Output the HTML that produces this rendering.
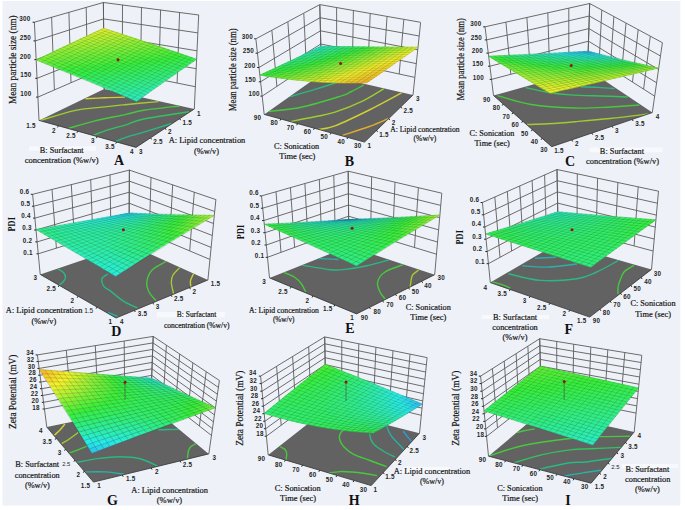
<!DOCTYPE html>
<html><head><meta charset="utf-8"><style>
html,body{margin:0;padding:0;background:#fff;width:685px;height:510px;overflow:hidden}
svg{display:block}
</style></head><body>
<svg width="685" height="510" viewBox="0 0 685 510">
<rect x="0" y="0" width="685" height="510" fill="#fff"/>
<rect x="2.5" y="1" width="677.8" height="504.6" fill="#eef2f8"/>
<rect x="29" y="146.4" width="67" height="4.4" fill="#fff" fill-opacity="0.55"/><rect x="589.6" y="147.5" width="73" height="4.8" fill="#fff" fill-opacity="0.55"/><rect x="157" y="312" width="67.8" height="5.3" fill="#fff" fill-opacity="0.55"/><rect x="481.8" y="315" width="67.1" height="4.1" fill="#fff" fill-opacity="0.55"/><rect x="621.5" y="464" width="56.5" height="4" fill="#fff" fill-opacity="0.55"/><rect x="403" y="466.8" width="47" height="6.9" fill="#fff" fill-opacity="0.55"/>
<path d="M39 120.4L34.4 22M54.4 89.9L51.6 17.1M71 82.7L68.9 12.2M87.5 75.5L86.2 7.2M104.2 88.9L103.4 2.3M37.9 97.1L104 68.4M37 78.3L103.8 51.9M36.2 59.6L103.7 35.4M35.3 40.9L103.5 18.9M34.4 22.2L103.4 2.5M194.3 109L198.7 14.8M177.1 83L179.6 12.3M158.8 79.3L160.6 9.8M140.5 75.7L141.5 7.3M122.3 72L122.5 4.8M104.2 88.9L103.4 2.3M195.3 86.7L104 68.4M196.2 68.7L103.8 51.9M197 50.8L103.7 35.4M197.9 32.9L103.5 18.9M198.7 15L103.4 2.5" stroke="#5c5c5c" stroke-width="0.9" fill="none"/>
<polygon points="39,120.4 136,147.4 194.3,109 104.2,88.9" fill="#626262"/>
<clipPath id="fcA"><polygon points="39,120.4 136,147.4 194.3,109 104.2,88.9"/></clipPath>
<g clip-path="url(#fcA)"><path d="M85.6 98.8C88.8 98.6 98.4 98.1 105 97.8C111.6 97.5 121.7 97.2 125 97.1" stroke="#d0d032" stroke-width="1.4" fill="none"/><path d="M38.5 121C44.5 119.3 64.2 112.9 74.4 110.6C84.7 108.3 91.6 108.4 100 107.4C108.4 106.4 115.3 105.7 125 104.7C134.7 103.7 152.8 102.1 158.4 101.6" stroke="#a0cc32" stroke-width="1.4" fill="none"/><path d="M68.5 128.4C72.8 127.2 84.7 123.4 94.1 121.1C103.5 118.8 116.7 116.4 125 114.6C133.3 112.8 134.7 111.7 143.8 110.3C152.9 108.9 173.6 106.7 179.6 106" stroke="#48c83e" stroke-width="1.4" fill="none"/><path d="M92.8 135.6C95.4 134.6 103.2 131.4 108.6 129.7C114 127.9 119.1 126.9 125 125.1C130.9 123.3 133.1 121.2 143.8 119C154.5 116.8 181.5 113 189 111.8" stroke="#34c25f" stroke-width="1.4" fill="none"/><path d="M115.8 141.5C117.3 140.8 120.3 139.2 125 137.6C129.7 136 136.1 134.5 143.8 132.2C151.6 129.8 166.9 125 171.5 123.5" stroke="#2ab982" stroke-width="1.4" fill="none"/></g>
<path d="M39 120.4L136 147.4L194.3 109" stroke="#333" stroke-width="0.8" fill="none"/>
<path d="M37.9 97.1h-1.8M37 78.3h-1.8M36.2 59.6h-1.8M35.3 40.9h-1.8M34.4 22.2h-1.8M116.6 142l-0.9 1.6M97.2 136.6l-0.9 1.6M77.8 131.2l-0.9 1.6M58.4 125.8l-0.9 1.6M150.6 137.8l0.9 1.6M165.2 128.2l0.9 1.6M179.7 118.6l0.9 1.6" stroke="#222" stroke-width="1" fill="none"/>
<path d="M136.6 101.4L131.7 99.2 134.7 97.1 139.6 99.2ZM139.6 99.2L134.7 97.1 137.7 94.9 142.6 97Z" fill="#2cecb9" stroke="#2cecb9" stroke-width="0.5"/>
<path d="M142.6 97L137.7 94.9 140.7 92.8 145.6 94.9ZM145.6 94.9L140.7 92.8 143.7 90.7 148.6 92.7ZM131.7 99.2L126.7 97.1 129.7 95 134.7 97.1ZM134.7 97.1L129.7 95 132.7 92.8 137.7 94.9ZM126.7 97.1L121.7 94.9 124.7 92.8 129.7 95Z" fill="#2decad" stroke="#2decad" stroke-width="0.5"/>
<path d="M148.6 92.7L143.7 90.7 146.7 88.6 151.6 90.6ZM151.6 90.6L146.7 88.6 149.7 86.5 154.6 88.4ZM137.7 94.9L132.7 92.8 135.8 90.7 140.7 92.8ZM140.7 92.8L135.8 90.7 138.8 88.6 143.7 90.7ZM129.7 95L124.7 92.8 127.8 90.8 132.7 92.8ZM132.7 92.8L127.8 90.8 130.8 88.7 135.8 90.7ZM121.7 94.9L116.7 92.8 119.8 90.7 124.7 92.8Z" fill="#2eeca2" stroke="#2eeca2" stroke-width="0.5"/>
<path d="M154.6 88.4L149.7 86.5 152.7 84.3 157.6 86.3ZM157.6 86.3L152.7 84.3 155.7 82.3 160.6 84.2ZM143.7 90.7L138.8 88.6 141.8 86.6 146.7 88.6ZM146.7 88.6L141.8 86.6 144.8 84.5 149.7 86.5ZM135.8 90.7L130.8 88.7 133.9 86.6 138.8 88.6ZM138.8 88.6L133.9 86.6 136.9 84.6 141.8 86.6ZM124.7 92.8L119.8 90.7 122.8 88.7 127.8 90.8ZM127.8 90.8L122.8 88.7 125.9 86.6 130.8 88.7ZM116.7 92.8L111.7 90.7 114.8 88.6 119.8 90.7Z" fill="#2fec97" stroke="#2fec97" stroke-width="0.5"/>
<path d="M160.6 84.2L155.7 82.3 158.7 80.2 163.5 82.1ZM163.5 82.1L158.7 80.2 161.8 78.1 166.5 80ZM149.7 86.5L144.8 84.5 147.9 82.4 152.7 84.3ZM152.7 84.3L147.9 82.4 150.9 80.3 155.7 82.3ZM141.8 86.6L136.9 84.6 140 82.5 144.8 84.5ZM144.8 84.5L140 82.5 143 80.4 147.9 82.4ZM130.8 88.7L125.9 86.6 129 84.6 133.9 86.6ZM133.9 86.6L129 84.6 132 82.6 136.9 84.6ZM119.8 90.7L114.8 88.6 117.9 86.6 122.8 88.7ZM122.8 88.7L117.9 86.6 121 84.6 125.9 86.6ZM111.7 90.7L106.7 88.6 109.8 86.6 114.8 88.6ZM114.8 88.6L109.8 86.6 112.9 84.6 117.9 86.6Z" fill="#30ed8b" stroke="#30ed8b" stroke-width="0.5"/>
<path d="M166.5 80L161.8 78.1 164.8 76 169.5 77.9ZM169.5 77.9L164.8 76 167.8 73.9 172.6 75.8ZM155.7 82.3L150.9 80.3 153.9 78.3 158.7 80.2ZM158.7 80.2L153.9 78.3 157 76.2 161.8 78.1ZM147.9 82.4L143 80.4 146.1 78.4 150.9 80.3ZM150.9 80.3L146.1 78.4 149.1 76.4 153.9 78.3ZM136.9 84.6L132 82.6 135.1 80.5 140 82.5ZM140 82.5L135.1 80.5 138.2 78.5 143 80.4ZM125.9 86.6L121 84.6 124 82.6 129 84.6ZM129 84.6L124 82.6 127.1 80.6 132 82.6ZM117.9 86.6L112.9 84.6 116 82.6 121 84.6ZM121 84.6L116 82.6 119.1 80.6 124 82.6ZM106.7 88.6L101.7 86.5 104.8 84.5 109.8 86.6ZM109.8 86.6L104.8 84.5 108 82.5 112.9 84.6Z" fill="#31ed80" stroke="#31ed80" stroke-width="0.5"/>
<path d="M172.6 75.8L167.8 73.9 170.8 71.9 175.6 73.7ZM175.6 73.7L170.8 71.9 173.8 69.8 178.6 71.6ZM161.8 78.1L157 76.2 160 74.2 164.8 76ZM164.8 76L160 74.2 163 72.1 167.8 73.9ZM153.9 78.3L149.1 76.4 152.2 74.3 157 76.2ZM157 76.2L152.2 74.3 155.2 72.3 160 74.2ZM143 80.4L138.2 78.5 141.2 76.5 146.1 78.4ZM146.1 78.4L141.2 76.5 144.3 74.5 149.1 76.4ZM132 82.6L127.1 80.6 130.2 78.6 135.1 80.5ZM135.1 80.5L130.2 78.6 133.3 76.6 138.2 78.5ZM124 82.6L119.1 80.6 122.2 78.6 127.1 80.6ZM127.1 80.6L122.2 78.6 125.3 76.6 130.2 78.6ZM112.9 84.6L108 82.5 111.1 80.5 116 82.6ZM116 82.6L111.1 80.5 114.2 78.6 119.1 80.6ZM101.7 86.5L96.7 84.4 99.9 82.4 104.8 84.5ZM104.8 84.5L99.9 82.4 103 80.5 108 82.5ZM96.7 84.4L91.7 82.3 94.9 80.4 99.9 82.4Z" fill="#32ed75" stroke="#32ed75" stroke-width="0.5"/>
<path d="M178.6 71.6L173.8 69.8 176.9 67.8 181.6 69.5ZM181.6 69.5L176.9 67.8 179.9 65.7 184.6 67.5ZM167.8 73.9L163 72.1 166.1 70.1 170.8 71.9ZM170.8 71.9L166.1 70.1 169.1 68.1 173.8 69.8ZM160 74.2L155.2 72.3 158.3 70.3 163 72.1ZM163 72.1L158.3 70.3 161.3 68.3 166.1 70.1ZM149.1 76.4L144.3 74.5 147.4 72.5 152.2 74.3ZM152.2 74.3L147.4 72.5 150.4 70.5 155.2 72.3ZM138.2 78.5L133.3 76.6 136.4 74.6 141.2 76.5ZM141.2 76.5L136.4 74.6 139.5 72.6 144.3 74.5ZM144.3 74.5L139.5 72.6 142.6 70.6 147.4 72.5ZM130.2 78.6L125.3 76.6 128.4 74.7 133.3 76.6ZM133.3 76.6L128.4 74.7 131.5 72.7 136.4 74.6ZM119.1 80.6L114.2 78.6 117.3 76.6 122.2 78.6ZM122.2 78.6L117.3 76.6 120.4 74.7 125.3 76.6ZM108 82.5L103 80.5 106.1 78.5 111.1 80.5ZM111.1 80.5L106.1 78.5 109.3 76.6 114.2 78.6ZM114.2 78.6L109.3 76.6 112.4 74.7 117.3 76.6ZM99.9 82.4L94.9 80.4 98 78.4 103 80.5ZM103 80.5L98 78.4 101.2 76.5 106.1 78.5ZM91.7 82.3L86.7 80.2 89.9 78.3 94.9 80.4Z" fill="#33ed69" stroke="#33ed69" stroke-width="0.5"/>
<path d="M184.6 67.5L179.9 65.7 182.9 63.7 187.6 65.4ZM187.6 65.4L182.9 63.7 186 61.7 190.6 63.3ZM173.8 69.8L169.1 68.1 172.2 66 176.9 67.8ZM176.9 67.8L172.2 66 175.2 64 179.9 65.7ZM166.1 70.1L161.3 68.3 164.4 66.3 169.1 68.1ZM169.1 68.1L164.4 66.3 167.5 64.3 172.2 66ZM155.2 72.3L150.4 70.5 153.5 68.5 158.3 70.3ZM158.3 70.3L153.5 68.5 156.6 66.5 161.3 68.3ZM147.4 72.5L142.6 70.6 145.6 68.7 150.4 70.5ZM150.4 70.5L145.6 68.7 148.7 66.7 153.5 68.5ZM136.4 74.6L131.5 72.7 134.6 70.7 139.5 72.6ZM139.5 72.6L134.6 70.7 137.7 68.8 142.6 70.6ZM125.3 76.6L120.4 74.7 123.5 72.7 128.4 74.7ZM128.4 74.7L123.5 72.7 126.7 70.8 131.5 72.7ZM117.3 76.6L112.4 74.7 115.5 72.8 120.4 74.7ZM120.4 74.7L115.5 72.8 118.7 70.8 123.5 72.7ZM106.1 78.5L101.2 76.5 104.3 74.6 109.3 76.6ZM109.3 76.6L104.3 74.6 107.5 72.7 112.4 74.7ZM94.9 80.4L89.9 78.3 93 76.4 98 78.4ZM98 78.4L93 76.4 96.2 74.5 101.2 76.5ZM86.7 80.2L81.7 78.2 84.8 76.3 89.9 78.3Z" fill="#34ed5e" stroke="#34ed5e" stroke-width="0.5"/>
<path d="M190.6 63.3L186 61.7 189 59.7 193.6 61.3ZM193.6 61.3L189 59.7 192 57.6 196.6 59.3ZM179.9 65.7L175.2 64 178.3 62 182.9 63.7ZM182.9 63.7L178.3 62 181.3 60 186 61.7ZM172.2 66L167.5 64.3 170.5 62.3 175.2 64ZM175.2 64L170.5 62.3 173.6 60.3 178.3 62ZM161.3 68.3L156.6 66.5 159.7 64.5 164.4 66.3ZM164.4 66.3L159.7 64.5 162.7 62.6 167.5 64.3ZM153.5 68.5L148.7 66.7 151.8 64.7 156.6 66.5ZM156.6 66.5L151.8 64.7 154.9 62.8 159.7 64.5ZM142.6 70.6L137.7 68.8 140.9 66.8 145.6 68.7ZM145.6 68.7L140.9 66.8 144 64.9 148.7 66.7ZM131.5 72.7L126.7 70.8 129.8 68.9 134.6 70.7ZM134.6 70.7L129.8 68.9 132.9 67 137.7 68.8ZM123.5 72.7L118.7 70.8 121.8 68.9 126.7 70.8ZM126.7 70.8L121.8 68.9 125 67 129.8 68.9ZM112.4 74.7L107.5 72.7 110.6 70.8 115.5 72.8ZM115.5 72.8L110.6 70.8 113.8 68.9 118.7 70.8ZM101.2 76.5L96.2 74.5 99.4 72.7 104.3 74.6ZM104.3 74.6L99.4 72.7 102.5 70.8 107.5 72.7ZM89.9 78.3L84.8 76.3 88 74.4 93 76.4ZM93 76.4L88 74.4 91.2 72.6 96.2 74.5ZM96.2 74.5L91.2 72.6 94.4 70.7 99.4 72.7ZM81.7 78.2L76.6 76.1 79.8 74.2 84.8 76.3ZM84.8 76.3L79.8 74.2 83 72.4 88 74.4Z" fill="#35ee53" stroke="#35ee53" stroke-width="0.5"/>
<path d="M186 61.7L181.3 60 184.4 58 189 59.7ZM189 59.7L184.4 58 187.4 56 192 57.6ZM178.3 62L173.6 60.3 176.7 58.4 181.3 60ZM181.3 60L176.7 58.4 179.7 56.4 184.4 58ZM167.5 64.3L162.7 62.6 165.8 60.6 170.5 62.3ZM170.5 62.3L165.8 60.6 168.9 58.7 173.6 60.3ZM159.7 64.5L154.9 62.8 158 60.9 162.7 62.6ZM162.7 62.6L158 60.9 161.1 58.9 165.8 60.6ZM148.7 66.7L144 64.9 147.1 63 151.8 64.7ZM151.8 64.7L147.1 63 150.2 61.1 154.9 62.8ZM137.7 68.8L132.9 67 136.1 65 140.9 66.8ZM140.9 66.8L136.1 65 139.2 63.1 144 64.9ZM129.8 68.9L125 67 128.1 65.1 132.9 67ZM132.9 67L128.1 65.1 131.2 63.2 136.1 65ZM118.7 70.8L113.8 68.9 116.9 67.1 121.8 68.9ZM121.8 68.9L116.9 67.1 120.1 65.2 125 67ZM107.5 72.7L102.5 70.8 105.7 68.9 110.6 70.8ZM110.6 70.8L105.7 68.9 108.9 67.1 113.8 68.9ZM99.4 72.7L94.4 70.7 97.6 68.9 102.5 70.8ZM102.5 70.8L97.6 68.9 100.8 67 105.7 68.9ZM88 74.4L83 72.4 86.3 70.6 91.2 72.6ZM91.2 72.6L86.3 70.6 89.5 68.7 94.4 70.7ZM76.6 76.1L71.6 74 74.8 72.2 79.8 74.2ZM79.8 74.2L74.8 72.2 78 70.4 83 72.4Z" fill="#36ee47" stroke="#36ee47" stroke-width="0.5"/>
<path d="M184.4 58L179.7 56.4 182.8 54.4 187.4 56ZM173.6 60.3L168.9 58.7 172 56.7 176.7 58.4ZM176.7 58.4L172 56.7 175.1 54.8 179.7 56.4ZM165.8 60.6L161.1 58.9 164.2 57 168.9 58.7ZM168.9 58.7L164.2 57 167.3 55.1 172 56.7ZM154.9 62.8L150.2 61.1 153.3 59.1 158 60.9ZM158 60.9L153.3 59.1 156.4 57.2 161.1 58.9ZM144 64.9L139.2 63.1 142.3 61.2 147.1 63ZM147.1 63L142.3 61.2 145.4 59.3 150.2 61.1ZM136.1 65L131.2 63.2 134.4 61.4 139.2 63.1ZM139.2 63.1L134.4 61.4 137.5 59.5 142.3 61.2ZM125 67L120.1 65.2 123.3 63.3 128.1 65.1ZM128.1 65.1L123.3 63.3 126.4 61.4 131.2 63.2ZM113.8 68.9L108.9 67.1 112.1 65.2 116.9 67.1ZM116.9 67.1L112.1 65.2 115.3 63.3 120.1 65.2ZM105.7 68.9L100.8 67 104 65.2 108.9 67.1ZM108.9 67.1L104 65.2 107.2 63.3 112.1 65.2ZM94.4 70.7L89.5 68.7 92.7 66.9 97.6 68.9ZM97.6 68.9L92.7 66.9 95.9 65.1 100.8 67ZM83 72.4L78 70.4 81.3 68.6 86.3 70.6ZM86.3 70.6L81.3 68.6 84.5 66.8 89.5 68.7ZM71.6 74L66.6 72 69.8 70.2 74.8 72.2ZM74.8 72.2L69.8 70.2 73 68.4 78 70.4ZM66.6 72L61.5 70 64.8 68.2 69.8 70.2Z" fill="#37ee3c" stroke="#37ee3c" stroke-width="0.5"/>
<path d="M179.7 56.4L175.1 54.8 178.2 52.8 182.8 54.4ZM172 56.7L167.3 55.1 170.4 53.2 175.1 54.8ZM175.1 54.8L170.4 53.2 173.5 51.2 178.2 52.8ZM161.1 58.9L156.4 57.2 159.5 55.3 164.2 57ZM164.2 57L159.5 55.3 162.7 53.4 167.3 55.1ZM150.2 61.1L145.4 59.3 148.6 57.4 153.3 59.1ZM153.3 59.1L148.6 57.4 151.7 55.6 156.4 57.2ZM142.3 61.2L137.5 59.5 140.7 57.6 145.4 59.3ZM145.4 59.3L140.7 57.6 143.9 55.7 148.6 57.4ZM131.2 63.2L126.4 61.4 129.6 59.6 134.4 61.4ZM134.4 61.4L129.6 59.6 132.8 57.7 137.5 59.5ZM120.1 65.2L115.3 63.3 118.4 61.5 123.3 63.3ZM123.3 63.3L118.4 61.5 121.6 59.7 126.4 61.4ZM112.1 65.2L107.2 63.3 110.4 61.5 115.3 63.3ZM115.3 63.3L110.4 61.5 113.6 59.7 118.4 61.5ZM100.8 67L95.9 65.1 99.1 63.3 104 65.2ZM104 65.2L99.1 63.3 102.3 61.5 107.2 63.3ZM89.5 68.7L84.5 66.8 87.7 65 92.7 66.9ZM92.7 66.9L87.7 65 91 63.2 95.9 65.1ZM78 70.4L73 68.4 76.3 66.6 81.3 68.6ZM81.3 68.6L76.3 66.6 79.5 64.9 84.5 66.8ZM84.5 66.8L79.5 64.9 82.8 63.1 87.7 65ZM69.8 70.2L64.8 68.2 68 66.5 73 68.4ZM73 68.4L68 66.5 71.3 64.7 76.3 66.6ZM61.5 70L56.4 68 59.7 66.2 64.8 68.2Z" fill="#43ee3b" stroke="#43ee3b" stroke-width="0.5"/>
<path d="M167.3 55.1L162.7 53.4 165.8 51.5 170.4 53.2ZM170.4 53.2L165.8 51.5 168.9 49.7 173.5 51.2ZM156.4 57.2L151.7 55.6 154.9 53.7 159.5 55.3ZM159.5 55.3L154.9 53.7 158 51.8 162.7 53.4ZM148.6 57.4L143.9 55.7 147 53.9 151.7 55.6ZM151.7 55.6L147 53.9 150.2 52 154.9 53.7ZM137.5 59.5L132.8 57.7 135.9 55.9 140.7 57.6ZM140.7 57.6L135.9 55.9 139.1 54.1 143.9 55.7ZM126.4 61.4L121.6 59.7 124.8 57.8 129.6 59.6ZM129.6 59.6L124.8 57.8 128 56 132.8 57.7ZM132.8 57.7L128 56 131.2 54.2 135.9 55.9ZM118.4 61.5L113.6 59.7 116.8 57.9 121.6 59.7ZM121.6 59.7L116.8 57.9 120 56.1 124.8 57.8ZM107.2 63.3L102.3 61.5 105.5 59.7 110.4 61.5ZM110.4 61.5L105.5 59.7 108.8 57.9 113.6 59.7ZM95.9 65.1L91 63.2 94.2 61.4 99.1 63.3ZM99.1 63.3L94.2 61.4 97.4 59.7 102.3 61.5ZM87.7 65L82.8 63.1 86 61.3 91 63.2ZM91 63.2L86 61.3 89.3 59.6 94.2 61.4ZM76.3 66.6L71.3 64.7 74.6 62.9 79.5 64.9ZM79.5 64.9L74.6 62.9 77.8 61.2 82.8 63.1ZM64.8 68.2L59.7 66.2 63 64.5 68 66.5ZM68 66.5L63 64.5 66.3 62.8 71.3 64.7ZM56.4 68L51.4 66 54.7 64.2 59.7 66.2Z" fill="#50ef3a" stroke="#50ef3a" stroke-width="0.5"/>
<path d="M162.7 53.4L158 51.8 161.1 49.9 165.8 51.5ZM165.8 51.5L161.1 49.9 164.3 48.1 168.9 49.7ZM154.9 53.7L150.2 52 153.3 50.2 158 51.8ZM158 51.8L153.3 50.2 156.5 48.4 161.1 49.9ZM143.9 55.7L139.1 54.1 142.3 52.2 147 53.9ZM147 53.9L142.3 52.2 145.5 50.4 150.2 52ZM135.9 55.9L131.2 54.2 134.4 52.4 139.1 54.1ZM139.1 54.1L134.4 52.4 137.6 50.6 142.3 52.2ZM124.8 57.8L120 56.1 123.2 54.3 128 56ZM128 56L123.2 54.3 126.4 52.5 131.2 54.2ZM113.6 59.7L108.8 57.9 112 56.1 116.8 57.9ZM116.8 57.9L112 56.1 115.2 54.3 120 56.1ZM102.3 61.5L97.4 59.7 100.7 57.9 105.5 59.7ZM105.5 59.7L100.7 57.9 103.9 56.1 108.8 57.9ZM108.8 57.9L103.9 56.1 107.1 54.4 112 56.1ZM94.2 61.4L89.3 59.6 92.5 57.8 97.4 59.7ZM97.4 59.7L92.5 57.8 95.8 56.1 100.7 57.9ZM82.8 63.1L77.8 61.2 81.1 59.5 86 61.3ZM86 61.3L81.1 59.5 84.4 57.7 89.3 59.6ZM71.3 64.7L66.3 62.8 69.6 61 74.6 62.9ZM74.6 62.9L69.6 61 72.9 59.3 77.8 61.2ZM59.7 66.2L54.7 64.2 58 62.5 63 64.5ZM63 64.5L58 62.5 61.3 60.8 66.3 62.8ZM66.3 62.8L61.3 60.8 64.6 59.1 69.6 61ZM51.4 66L46.3 64 49.6 62.3 54.7 64.2ZM54.7 64.2L49.6 62.3 53 60.6 58 62.5Z" fill="#5cef39" stroke="#5cef39" stroke-width="0.5"/>
<path d="M161.1 49.9L156.5 48.4 159.6 46.5 164.3 48.1ZM150.2 52L145.5 50.4 148.6 48.6 153.3 50.2ZM153.3 50.2L148.6 48.6 151.8 46.8 156.5 48.4ZM142.3 52.2L137.6 50.6 140.8 48.8 145.5 50.4ZM145.5 50.4L140.8 48.8 144 47 148.6 48.6ZM131.2 54.2L126.4 52.5 129.6 50.7 134.4 52.4ZM134.4 52.4L129.6 50.7 132.8 48.9 137.6 50.6ZM120 56.1L115.2 54.3 118.4 52.6 123.2 54.3ZM123.2 54.3L118.4 52.6 121.7 50.8 126.4 52.5ZM112 56.1L107.1 54.4 110.4 52.6 115.2 54.3ZM115.2 54.3L110.4 52.6 113.6 50.9 118.4 52.6ZM100.7 57.9L95.8 56.1 99.1 54.3 103.9 56.1ZM103.9 56.1L99.1 54.3 102.3 52.6 107.1 54.4ZM89.3 59.6L84.4 57.7 87.6 56 92.5 57.8ZM92.5 57.8L87.6 56 90.9 54.3 95.8 56.1ZM77.8 61.2L72.9 59.3 76.2 57.6 81.1 59.5ZM81.1 59.5L76.2 57.6 79.4 55.9 84.4 57.7ZM84.4 57.7L79.4 55.9 82.7 54.2 87.6 56ZM69.6 61L64.6 59.1 67.9 57.4 72.9 59.3ZM72.9 59.3L67.9 57.4 71.2 55.7 76.2 57.6ZM58 62.5L53 60.6 56.3 58.9 61.3 60.8ZM61.3 60.8L56.3 58.9 59.6 57.2 64.6 59.1ZM46.3 64L41.3 62 44.6 60.3 49.6 62.3ZM49.6 62.3L44.6 60.3 47.9 58.6 53 60.6Z" fill="#69ef38" stroke="#69ef38" stroke-width="0.5"/>
<path d="M156.5 48.4L151.8 46.8 155 45 159.6 46.5ZM148.6 48.6L144 47 147.2 45.2 151.8 46.8ZM151.8 46.8L147.2 45.2 150.4 43.4 155 45ZM137.6 50.6L132.8 48.9 136.1 47.1 140.8 48.8ZM140.8 48.8L136.1 47.1 139.3 45.4 144 47ZM126.4 52.5L121.7 50.8 124.9 49 129.6 50.7ZM129.6 50.7L124.9 49 128.1 47.3 132.8 48.9ZM118.4 52.6L113.6 50.9 116.9 49.1 121.7 50.8ZM121.7 50.8L116.9 49.1 120.1 47.4 124.9 49ZM107.1 54.4L102.3 52.6 105.6 50.9 110.4 52.6ZM110.4 52.6L105.6 50.9 108.8 49.1 113.6 50.9ZM95.8 56.1L90.9 54.3 94.2 52.6 99.1 54.3ZM99.1 54.3L94.2 52.6 97.5 50.9 102.3 52.6ZM87.6 56L82.7 54.2 86 52.5 90.9 54.3ZM90.9 54.3L86 52.5 89.3 50.8 94.2 52.6ZM76.2 57.6L71.2 55.7 74.5 54.1 79.4 55.9ZM79.4 55.9L74.5 54.1 77.8 52.4 82.7 54.2ZM64.6 59.1L59.6 57.2 62.9 55.6 67.9 57.4ZM67.9 57.4L62.9 55.6 66.3 53.9 71.2 55.7ZM53 60.6L47.9 58.6 51.3 57 56.3 58.9ZM56.3 58.9L51.3 57 54.6 55.3 59.6 57.2ZM41.3 62L36.2 60 39.5 58.3 44.6 60.3ZM44.6 60.3L39.5 58.3 42.9 56.7 47.9 58.6Z" fill="#75ef37" stroke="#75ef37" stroke-width="0.5"/>
<path d="M144 47L139.3 45.4 142.5 43.6 147.2 45.2ZM147.2 45.2L142.5 43.6 145.7 41.9 150.4 43.4ZM132.8 48.9L128.1 47.3 131.3 45.5 136.1 47.1ZM136.1 47.1L131.3 45.5 134.6 43.8 139.3 45.4ZM139.3 45.4L134.6 43.8 137.8 42 142.5 43.6ZM124.9 49L120.1 47.4 123.4 45.6 128.1 47.3ZM128.1 47.3L123.4 45.6 126.6 43.9 131.3 45.5ZM113.6 50.9L108.8 49.1 112.1 47.4 116.9 49.1ZM116.9 49.1L112.1 47.4 115.4 45.7 120.1 47.4ZM102.3 52.6L97.5 50.9 100.8 49.2 105.6 50.9ZM105.6 50.9L100.8 49.2 104 47.5 108.8 49.1ZM108.8 49.1L104 47.5 107.3 45.8 112.1 47.4ZM94.2 52.6L89.3 50.8 92.6 49.1 97.5 50.9ZM97.5 50.9L92.6 49.1 95.9 47.4 100.8 49.2ZM82.7 54.2L77.8 52.4 81.1 50.7 86 52.5ZM86 52.5L81.1 50.7 84.5 49.1 89.3 50.8ZM71.2 55.7L66.3 53.9 69.6 52.2 74.5 54.1ZM74.5 54.1L69.6 52.2 72.9 50.6 77.8 52.4ZM59.6 57.2L54.6 55.3 58 53.7 62.9 55.6ZM62.9 55.6L58 53.7 61.3 52.1 66.3 53.9ZM66.3 53.9L61.3 52.1 64.7 50.4 69.6 52.2ZM47.9 58.6L42.9 56.7 46.3 55.1 51.3 57ZM51.3 57L46.3 55.1 49.6 53.5 54.6 55.3ZM54.6 55.3L49.6 53.5 53 51.8 58 53.7Z" fill="#82f036" stroke="#82f036" stroke-width="0.5"/>
<path d="M142.5 43.6L137.8 42 141 40.3 145.7 41.9ZM131.3 45.5L126.6 43.9 129.9 42.2 134.6 43.8ZM134.6 43.8L129.9 42.2 133.1 40.5 137.8 42ZM120.1 47.4L115.4 45.7 118.6 44 123.4 45.6ZM123.4 45.6L118.6 44 121.9 42.3 126.6 43.9ZM112.1 47.4L107.3 45.8 110.6 44.1 115.4 45.7ZM115.4 45.7L110.6 44.1 113.9 42.4 118.6 44ZM100.8 49.2L95.9 47.4 99.2 45.8 104 47.5ZM104 47.5L99.2 45.8 102.5 44.1 107.3 45.8ZM89.3 50.8L84.5 49.1 87.8 47.4 92.6 49.1ZM92.6 49.1L87.8 47.4 91.1 45.7 95.9 47.4ZM77.8 52.4L72.9 50.6 76.3 48.9 81.1 50.7ZM81.1 50.7L76.3 48.9 79.6 47.3 84.5 49.1ZM69.6 52.2L64.7 50.4 68 48.8 72.9 50.6ZM72.9 50.6L68 48.8 71.4 47.2 76.3 48.9ZM58 53.7L53 51.8 56.3 50.2 61.3 52.1ZM61.3 52.1L56.3 50.2 59.7 48.6 64.7 50.4Z" fill="#8ef035" stroke="#8ef035" stroke-width="0.5"/>
<path d="M137.8 42L133.1 40.5 136.4 38.8 141 40.3ZM126.6 43.9L121.9 42.3 125.2 40.6 129.9 42.2ZM129.9 42.2L125.2 40.6 128.4 38.9 133.1 40.5ZM133.1 40.5L128.4 38.9 131.7 37.2 136.4 38.8ZM118.6 44L113.9 42.4 117.2 40.7 121.9 42.3ZM121.9 42.3L117.2 40.7 120.5 39 125.2 40.6ZM107.3 45.8L102.5 44.1 105.8 42.4 110.6 44.1ZM110.6 44.1L105.8 42.4 109.1 40.8 113.9 42.4ZM95.9 47.4L91.1 45.7 94.4 44.1 99.2 45.8ZM99.2 45.8L94.4 44.1 97.7 42.4 102.5 44.1ZM84.5 49.1L79.6 47.3 82.9 45.7 87.8 47.4ZM87.8 47.4L82.9 45.7 86.3 44 91.1 45.7ZM91.1 45.7L86.3 44 89.6 42.4 94.4 44.1ZM76.3 48.9L71.4 47.2 74.7 45.6 79.6 47.3ZM79.6 47.3L74.7 45.6 78.1 44 82.9 45.7ZM64.7 50.4L59.7 48.6 63.1 47 68 48.8ZM68 48.8L63.1 47 66.4 45.4 71.4 47.2Z" fill="#9bf034" stroke="#9bf034" stroke-width="0.5"/>
<path d="M125.2 40.6L120.5 39 123.8 37.4 128.4 38.9ZM128.4 38.9L123.8 37.4 127 35.7 131.7 37.2ZM113.9 42.4L109.1 40.8 112.4 39.1 117.2 40.7ZM117.2 40.7L112.4 39.1 115.8 37.5 120.5 39ZM102.5 44.1L97.7 42.4 101.1 40.8 105.8 42.4ZM105.8 42.4L101.1 40.8 104.4 39.2 109.1 40.8ZM109.1 40.8L104.4 39.2 107.7 37.5 112.4 39.1ZM94.4 44.1L89.6 42.4 92.9 40.8 97.7 42.4ZM97.7 42.4L92.9 40.8 96.3 39.2 101.1 40.8ZM82.9 45.7L78.1 44 81.4 42.3 86.3 44ZM86.3 44L81.4 42.3 84.8 40.7 89.6 42.4ZM71.4 47.2L66.4 45.4 69.8 43.8 74.7 45.6ZM74.7 45.6L69.8 43.8 73.2 42.2 78.1 44Z" fill="#a7f033" stroke="#a7f033" stroke-width="0.5"/>
<path d="M120.5 39L115.8 37.5 119.1 35.8 123.8 37.4ZM123.8 37.4L119.1 35.8 122.4 34.2 127 35.7ZM112.4 39.1L107.7 37.5 111 35.9 115.8 37.5ZM115.8 37.5L111 35.9 114.4 34.3 119.1 35.8ZM101.1 40.8L96.3 39.2 99.6 37.6 104.4 39.2ZM104.4 39.2L99.6 37.6 103 36 107.7 37.5ZM89.6 42.4L84.8 40.7 88.1 39.2 92.9 40.8ZM92.9 40.8L88.1 39.2 91.5 37.6 96.3 39.2ZM78.1 44L73.2 42.2 76.6 40.7 81.4 42.3ZM81.4 42.3L76.6 40.7 79.9 39.1 84.8 40.7ZM84.8 40.7L79.9 39.1 83.3 37.5 88.1 39.2Z" fill="#b4f132" stroke="#b4f132" stroke-width="0.5"/>
<path d="M119.1 35.8L114.4 34.3 117.7 32.7 122.4 34.2ZM107.7 37.5L103 36 106.3 34.4 111 35.9ZM111 35.9L106.3 34.4 109.7 32.8 114.4 34.3ZM96.3 39.2L91.5 37.6 94.9 36 99.6 37.6ZM99.6 37.6L94.9 36 98.2 34.4 103 36ZM103 36L98.2 34.4 101.6 32.8 106.3 34.4ZM88.1 39.2L83.3 37.5 86.7 36 91.5 37.6ZM91.5 37.6L86.7 36 90.1 34.4 94.9 36Z" fill="#c0f131" stroke="#c0f131" stroke-width="0.5"/>
<path d="M114.4 34.3L109.7 32.8 113 31.2 117.7 32.7ZM106.3 34.4L101.6 32.8 105 31.3 109.7 32.8ZM109.7 32.8L105 31.3 108.3 29.7 113 31.2ZM94.9 36L90.1 34.4 93.5 32.8 98.2 34.4ZM98.2 34.4L93.5 32.8 96.9 31.3 101.6 32.8Z" fill="#cdf130" stroke="#cdf130" stroke-width="0.5"/>
<path d="M101.6 32.8L96.9 31.3 100.2 29.7 105 31.3ZM105 31.3L100.2 29.7 103.6 28.2 108.3 29.7Z" fill="#d9f12f" stroke="#d9f12f" stroke-width="0.5"/>
<path d="M136.6 101.4L196.6 59.3M131.7 99.2L192 57.6M126.7 97.1L187.4 56M121.7 94.9L182.8 54.4M116.7 92.8L178.2 52.8M111.7 90.7L173.5 51.2M106.7 88.6L168.9 49.7M101.7 86.5L164.3 48.1M96.7 84.4L159.6 46.5M91.7 82.3L155 45M86.7 80.2L150.4 43.4M81.7 78.2L145.7 41.9M76.6 76.1L141 40.3M71.6 74L136.4 38.8M66.6 72L131.7 37.2M61.5 70L127 35.7M56.4 68L122.4 34.2M51.4 66L117.7 32.7M46.3 64L113 31.2M41.3 62L108.3 29.7M36.2 60L103.6 28.2M136.6 101.4L36.2 60M139.6 99.2L39.5 58.3M142.6 97L42.9 56.7M145.6 94.9L46.3 55.1M148.6 92.7L49.6 53.5M151.6 90.6L53 51.8M154.6 88.4L56.3 50.2M157.6 86.3L59.7 48.6M160.6 84.2L63.1 47M163.5 82.1L66.4 45.4M166.5 80L69.8 43.8M169.5 77.9L73.2 42.2M172.6 75.8L76.6 40.7M175.6 73.7L79.9 39.1M178.6 71.6L83.3 37.5M181.6 69.5L86.7 36M184.6 67.5L90.1 34.4M187.6 65.4L93.5 32.8M190.6 63.3L96.9 31.3M193.6 61.3L100.2 29.7M196.6 59.3L103.6 28.2" stroke="#000" stroke-opacity="0.25" stroke-width="0.5" fill="none"/>
<circle cx="118" cy="59.8" r="1.5" fill="#8e1515"/>
<text x="25" y="18.7" font-family='"Liberation Sans", sans-serif' font-size="6.3" font-weight="bold" letter-spacing="0.25" fill="#262626" text-anchor="middle" dominant-baseline="central">300</text>
<text x="25.5" y="37.2" font-family='"Liberation Sans", sans-serif' font-size="6.3" font-weight="bold" letter-spacing="0.25" fill="#262626" text-anchor="middle" dominant-baseline="central">250</text>
<text x="25.5" y="56.2" font-family='"Liberation Sans", sans-serif' font-size="6.3" font-weight="bold" letter-spacing="0.25" fill="#262626" text-anchor="middle" dominant-baseline="central">200</text>
<text x="26" y="74.7" font-family='"Liberation Sans", sans-serif' font-size="6.3" font-weight="bold" letter-spacing="0.25" fill="#262626" text-anchor="middle" dominant-baseline="central">150</text>
<text x="26" y="93.7" font-family='"Liberation Sans", sans-serif' font-size="6.3" font-weight="bold" letter-spacing="0.25" fill="#262626" text-anchor="middle" dominant-baseline="central">100</text>
<text x="12.7" y="59.7" font-family='"Liberation Serif", serif' font-size="10" textLength="88.7" lengthAdjust="spacingAndGlyphs" fill="#151515" stroke="#151515" stroke-width="0.2" text-anchor="middle" dominant-baseline="central" transform="rotate(-90 12.7 59.7)">Mean particle size (nm)</text>
<text x="31" y="125.2" font-family='"Liberation Sans", sans-serif' font-size="6.3" font-weight="bold" letter-spacing="0.25" fill="#262626" text-anchor="middle" dominant-baseline="central">1.5</text>
<text x="54" y="130.7" font-family='"Liberation Sans", sans-serif' font-size="6.3" font-weight="bold" letter-spacing="0.25" fill="#262626" text-anchor="middle" dominant-baseline="central">2</text>
<text x="71" y="135.7" font-family='"Liberation Sans", sans-serif' font-size="6.3" font-weight="bold" letter-spacing="0.25" fill="#262626" text-anchor="middle" dominant-baseline="central">2.5</text>
<text x="93" y="140.4" font-family='"Liberation Sans", sans-serif' font-size="6.3" font-weight="bold" letter-spacing="0.25" fill="#262626" text-anchor="middle" dominant-baseline="central">3</text>
<text x="110" y="146.1" font-family='"Liberation Sans", sans-serif' font-size="6.3" font-weight="bold" letter-spacing="0.25" fill="#262626" text-anchor="middle" dominant-baseline="central">3.5</text>
<text x="132" y="151.2" font-family='"Liberation Sans", sans-serif' font-size="6.3" font-weight="bold" letter-spacing="0.25" fill="#262626" text-anchor="middle" dominant-baseline="central">4</text>
<text x="199" y="113.5" font-family='"Liberation Sans", sans-serif' font-size="6.3" font-weight="bold" letter-spacing="0.25" fill="#262626" text-anchor="middle" dominant-baseline="central">1</text>
<text x="187.3" y="122.7" font-family='"Liberation Sans", sans-serif' font-size="6.3" font-weight="bold" letter-spacing="0.25" fill="#262626" text-anchor="middle" dominant-baseline="central">1.5</text>
<text x="170" y="131.3" font-family='"Liberation Sans", sans-serif' font-size="6.3" font-weight="bold" letter-spacing="0.25" fill="#262626" text-anchor="middle" dominant-baseline="central">2</text>
<text x="158" y="141.4" font-family='"Liberation Sans", sans-serif' font-size="6.3" font-weight="bold" letter-spacing="0.25" fill="#262626" text-anchor="middle" dominant-baseline="central">2.5</text>
<text x="141" y="151.2" font-family='"Liberation Sans", sans-serif' font-size="6.3" font-weight="bold" letter-spacing="0.25" fill="#262626" text-anchor="middle" dominant-baseline="central">3</text>
<text x="61.7" y="149.8" font-family='"Liberation Serif", serif' font-size="8.5" textLength="43.7" lengthAdjust="spacingAndGlyphs" fill="#151515" stroke="#151515" stroke-width="0.2" text-anchor="middle" dominant-baseline="central">B: Surfactant</text>
<text x="61.7" y="160" font-family='"Liberation Serif", serif' font-size="8.5" textLength="74" lengthAdjust="spacingAndGlyphs" fill="#151515" stroke="#151515" stroke-width="0.2" text-anchor="middle" dominant-baseline="central">concentration (%w/v)</text>
<text x="207" y="140.3" font-family='"Liberation Serif", serif' font-size="8.5" textLength="76.6" lengthAdjust="spacingAndGlyphs" fill="#151515" stroke="#151515" stroke-width="0.2" text-anchor="middle" dominant-baseline="central">A: Lipid concentration</text>
<text x="206.5" y="150.6" font-family='"Liberation Serif", serif' font-size="8.5" textLength="25" lengthAdjust="spacingAndGlyphs" fill="#151515" stroke="#151515" stroke-width="0.2" text-anchor="middle" dominant-baseline="central">(%w/v)</text>
<text x="119" y="160" font-family='"Liberation Serif", serif' font-size="14" font-weight="bold" fill="#111" text-anchor="middle" dominant-baseline="central">A</text>
<path d="M264.2 114.4L255.9 39.2M276.9 86.4L271.9 30.6M291.6 76.6L287.9 22.1M306.4 66.9L303.8 13.5M321.5 73.9L319.8 4.9M262.2 96.1L321.1 57.1M260.6 81.8L320.8 44M259 67.5L320.5 30.8M257.4 53.2L320.1 17.7M255.9 38.8L319.8 4.6M413 95L420.6 22.6M399.2 74L403.8 19.7M383.6 70.6L387 16.7M368 67.3L370.2 13.8M352.4 63.9L353.4 10.8M336.7 60.5L336.6 7.8M321.5 73.9L319.8 4.9M414.8 77.4L321.1 57.1M416.3 63.6L320.8 44M417.7 49.8L320.5 30.8M419.2 36L320.1 17.7M420.6 22.3L319.8 4.6" stroke="#5c5c5c" stroke-width="0.9" fill="none"/>
<polygon points="264.2,114.4 364.5,142.1 413,95 321.5,73.9" fill="#626262"/>
<clipPath id="fcB"><polygon points="264.2,114.4 364.5,142.1 413,95 321.5,73.9"/></clipPath>
<g clip-path="url(#fcB)"><path d="M290.2 96.7C294.3 95.5 307.1 91.8 314.9 89.4C322.7 87 333.1 83.7 336.8 82.5" stroke="#2ab982" stroke-width="1.4" fill="none"/><path d="M268.9 111.4C274.3 110.7 289.3 109.7 301.2 107.2C313.1 104.7 331.6 98.9 340 96.3C348.4 93.7 347.5 93.4 351.5 91.5C355.5 89.6 361.8 86 363.8 84.9" stroke="#48c83e" stroke-width="1.4" fill="none"/><path d="M289.5 121.6C293.7 120.8 307.3 118.4 314.9 116.8C322.5 115.2 327.1 114.7 335 112.1C342.9 109.5 354.4 105 362.5 101.1C370.6 97.2 380.2 90.8 383.8 88.7" stroke="#a0cc32" stroke-width="1.4" fill="none"/><path d="M317.6 129.6C320.5 129 326.4 129.1 335 125.8C343.6 122.5 358.2 115.5 369.3 110C380.4 104.5 396.2 95.8 401.6 92.9" stroke="#d0d032" stroke-width="1.4" fill="none"/><path d="M342.6 135.4C347.1 133.9 361.6 129.3 369.3 126.5C377 123.7 385.4 119.7 388.6 118.3" stroke="#deac2d" stroke-width="1.4" fill="none"/></g>
<path d="M264.2 114.4L364.5 142.1L413 95" stroke="#333" stroke-width="0.8" fill="none"/>
<path d="M262.2 96.1h-1.8M260.6 81.8h-1.8M259 67.5h-1.8M257.4 53.2h-1.8M255.9 38.8h-1.8M347.8 137.5l-0.9 1.6M331.1 132.9l-0.9 1.6M314.4 128.2l-0.9 1.6M297.6 123.6l-0.9 1.6M280.9 119l-0.9 1.6M376.6 130.3l0.9 1.6M388.8 118.5l0.9 1.6M400.9 106.8l0.9 1.6" stroke="#222" stroke-width="1" fill="none"/>
<path d="M319.6 49.3L314.8 49.1 317.8 47.6 322.6 47.8ZM322.6 47.8L317.8 47.6 320.8 46.2 325.6 46.3Z" fill="#2becc4" stroke="#2becc4" stroke-width="0.5"/>
<path d="M327.4 47.9L322.6 47.8 325.6 46.3 330.3 46.3ZM316.6 50.8L311.8 50.6 314.8 49.1 319.6 49.3Z" fill="#2cecb9" stroke="#2cecb9" stroke-width="0.5"/>
<path d="M332.2 48L327.4 47.9 330.3 46.3 335.1 46.4ZM321.4 51L316.6 50.8 319.6 49.3 324.4 49.4ZM324.4 49.4L319.6 49.3 322.6 47.8 327.4 47.9ZM310.6 53.8L305.7 53.5 308.8 52.1 313.6 52.3ZM313.6 52.3L308.8 52.1 311.8 50.6 316.6 50.8Z" fill="#2decad" stroke="#2decad" stroke-width="0.5"/>
<path d="M329.2 49.6L324.4 49.4 327.4 47.9 332.2 48ZM318.5 52.5L313.6 52.3 316.6 50.8 321.4 51ZM307.6 55.3L302.7 55 305.7 53.5 310.6 53.8Z" fill="#2eeca2" stroke="#2eeca2" stroke-width="0.5"/>
<path d="M334 49.7L329.2 49.6 332.2 48 337 48.1ZM337 48.1L332.2 48 335.1 46.4 339.9 46.5ZM323.3 52.8L318.5 52.5 321.4 51 326.3 51.2ZM326.3 51.2L321.4 51 324.4 49.4 329.2 49.6ZM312.5 55.6L307.6 55.3 310.6 53.8 315.5 54.1ZM315.5 54.1L310.6 53.8 313.6 52.3 318.5 52.5ZM301.6 58.3L296.6 57.9 299.7 56.5 304.6 56.8ZM304.6 56.8L299.7 56.5 302.7 55 307.6 55.3Z" fill="#2fec97" stroke="#2fec97" stroke-width="0.5"/>
<path d="M341.8 48.2L337 48.1 339.9 46.5 344.7 46.6ZM331.1 51.4L326.3 51.2 329.2 49.6 334 49.7ZM320.4 54.3L315.5 54.1 318.5 52.5 323.3 52.8ZM309.5 57.2L304.6 56.8 307.6 55.3 312.5 55.6ZM298.6 59.8L293.6 59.4 296.6 57.9 301.6 58.3Z" fill="#30ed8b" stroke="#30ed8b" stroke-width="0.5"/>
<path d="M346.6 48.3L341.8 48.2 344.7 46.6 349.5 46.6ZM336 51.5L331.1 51.4 334 49.7 338.9 49.9ZM338.9 49.9L334 49.7 337 48.1 341.8 48.2ZM325.3 54.6L320.4 54.3 323.3 52.8 328.2 53ZM328.2 53L323.3 52.8 326.3 51.2 331.1 51.4ZM314.4 57.5L309.5 57.2 312.5 55.6 317.4 55.9ZM317.4 55.9L312.5 55.6 315.5 54.1 320.4 54.3ZM303.5 60.2L298.6 59.8 301.6 58.3 306.5 58.7ZM306.5 58.7L301.6 58.3 304.6 56.8 309.5 57.2ZM292.5 62.8L287.5 62.2 290.5 60.8 295.5 61.3ZM295.5 61.3L290.5 60.8 293.6 59.4 298.6 59.8Z" fill="#31ed80" stroke="#31ed80" stroke-width="0.5"/>
<path d="M343.7 50L338.9 49.9 341.8 48.2 346.6 48.3ZM333.1 53.2L328.2 53 331.1 51.4 336 51.5ZM322.3 56.2L317.4 55.9 320.4 54.3 325.3 54.6ZM311.5 59L306.5 58.7 309.5 57.2 314.4 57.5ZM300.5 61.7L295.5 61.3 298.6 59.8 303.5 60.2ZM289.5 64.2L284.4 63.7 287.5 62.2 292.5 62.8Z" fill="#32ed75" stroke="#32ed75" stroke-width="0.5"/>
<path d="M348.6 50.1L343.7 50 346.6 48.3 351.5 48.4ZM351.5 48.4L346.6 48.3 349.5 46.6 354.3 46.7ZM338 53.3L333.1 53.2 336 51.5 340.9 51.7ZM340.9 51.7L336 51.5 338.9 49.9 343.7 50ZM327.3 56.4L322.3 56.2 325.3 54.6 330.2 54.8ZM330.2 54.8L325.3 54.6 328.2 53 333.1 53.2ZM316.5 59.4L311.5 59 314.4 57.5 319.4 57.8ZM319.4 57.8L314.4 57.5 317.4 55.9 322.3 56.2ZM305.5 62.2L300.5 61.7 303.5 60.2 308.5 60.6ZM308.5 60.6L303.5 60.2 306.5 58.7 311.5 59ZM294.5 64.8L289.5 64.2 292.5 62.8 297.5 63.3ZM297.5 63.3L292.5 62.8 295.5 61.3 300.5 61.7ZM283.4 67.2L278.3 66.6 281.4 65.1 286.5 65.7ZM286.5 65.7L281.4 65.1 284.4 63.7 289.5 64.2Z" fill="#33ed69" stroke="#33ed69" stroke-width="0.5"/>
<path d="M356.3 48.5L351.5 48.4 354.3 46.7 359.1 46.8ZM345.7 51.8L340.9 51.7 343.7 50 348.6 50.1ZM335.1 55L330.2 54.8 333.1 53.2 338 53.3ZM321.4 59.7L316.5 59.4 319.4 57.8 324.3 58.1ZM324.3 58.1L319.4 57.8 322.3 56.2 327.3 56.4ZM310.6 62.6L305.5 62.2 308.5 60.6 313.5 61ZM313.5 61L308.5 60.6 311.5 59 316.5 59.4ZM302.6 63.7L297.5 63.3 300.5 61.7 305.5 62.2ZM291.5 66.3L286.5 65.7 289.5 64.2 294.5 64.8ZM280.4 68.7L275.3 68 278.3 66.6 283.4 67.2Z" fill="#34ed5e" stroke="#34ed5e" stroke-width="0.5"/>
<path d="M361.2 48.6L356.3 48.5 359.1 46.8 364 46.8ZM350.6 51.9L345.7 51.8 348.6 50.1 353.5 50.2ZM353.5 50.2L348.6 50.1 351.5 48.4 356.3 48.5ZM340 55.2L335.1 55 338 53.3 342.9 53.5ZM342.9 53.5L338 53.3 340.9 51.7 345.7 51.8ZM329.3 58.3L324.3 58.1 327.3 56.4 332.2 56.7ZM332.2 56.7L327.3 56.4 330.2 54.8 335.1 55ZM318.5 61.3L313.5 61 316.5 59.4 321.4 59.7ZM307.6 64.1L302.6 63.7 305.5 62.2 310.6 62.6ZM296.6 66.8L291.5 66.3 294.5 64.8 299.6 65.3ZM299.6 65.3L294.5 64.8 297.5 63.3 302.6 63.7ZM285.5 69.3L280.4 68.7 283.4 67.2 288.5 67.8ZM288.5 67.8L283.4 67.2 286.5 65.7 291.5 66.3ZM274.3 71.6L269.1 70.8 272.2 69.4 277.3 70.1ZM277.3 70.1L272.2 69.4 275.3 68 280.4 68.7Z" fill="#35ee53" stroke="#35ee53" stroke-width="0.5"/>
<path d="M358.4 50.3L353.5 50.2 356.3 48.5 361.2 48.6ZM345 55.4L340 55.2 342.9 53.5 347.8 53.6ZM347.8 53.6L342.9 53.5 345.7 51.8 350.6 51.9ZM334.3 58.6L329.3 58.3 332.2 56.7 337.2 56.9ZM337.2 56.9L332.2 56.7 335.1 55 340 55.2ZM323.5 61.6L318.5 61.3 321.4 59.7 326.4 60ZM326.4 60L321.4 59.7 324.3 58.1 329.3 58.3ZM312.7 64.5L307.6 64.1 310.6 62.6 315.6 62.9ZM315.6 62.9L310.6 62.6 313.5 61 318.5 61.3ZM301.7 67.3L296.6 66.8 299.6 65.3 304.7 65.7ZM304.7 65.7L299.6 65.3 302.6 63.7 307.6 64.1ZM290.7 69.9L285.5 69.3 288.5 67.8 293.6 68.4ZM293.6 68.4L288.5 67.8 291.5 66.3 296.6 66.8ZM282.5 70.8L277.3 70.1 280.4 68.7 285.5 69.3ZM271.2 73.1L266 72.2 269.1 70.8 274.3 71.6Z" fill="#36ee47" stroke="#36ee47" stroke-width="0.5"/>
<path d="M363.3 50.4L358.4 50.3 361.2 48.6 366 48.6ZM366 48.6L361.2 48.6 364 46.8 368.8 46.9ZM352.7 53.8L347.8 53.6 350.6 51.9 355.5 52ZM355.5 52L350.6 51.9 353.5 50.2 358.4 50.3ZM342.1 57.1L337.2 56.9 340 55.2 345 55.4ZM331.4 60.2L326.4 60 329.3 58.3 334.3 58.6ZM320.6 63.3L315.6 62.9 318.5 61.3 323.5 61.6ZM309.7 66.2L304.7 65.7 307.6 64.1 312.7 64.5ZM298.8 68.9L293.6 68.4 296.6 66.8 301.7 67.3ZM287.7 71.5L282.5 70.8 285.5 69.3 290.7 69.9ZM276.5 73.8L271.2 73.1 274.3 71.6 279.5 72.3ZM279.5 72.3L274.3 71.6 277.3 70.1 282.5 70.8ZM265.1 76L259.9 75.1 262.9 73.7 268.2 74.5ZM268.2 74.5L262.9 73.7 266 72.2 271.2 73.1Z" fill="#37ee3c" stroke="#37ee3c" stroke-width="0.5"/>
<path d="M370.9 48.7L366 48.6 368.8 46.9 373.7 46.9ZM357.7 53.9L352.7 53.8 355.5 52 360.5 52.1ZM360.5 52.1L355.5 52 358.4 50.3 363.3 50.4ZM347.1 57.2L342.1 57.1 345 55.4 349.9 55.5ZM349.9 55.5L345 55.4 347.8 53.6 352.7 53.8ZM336.4 60.5L331.4 60.2 334.3 58.6 339.3 58.8ZM339.3 58.8L334.3 58.6 337.2 56.9 342.1 57.1ZM325.7 63.6L320.6 63.3 323.5 61.6 328.6 61.9ZM328.6 61.9L323.5 61.6 326.4 60 331.4 60.2ZM314.8 66.6L309.7 66.2 312.7 64.5 317.7 64.9ZM317.7 64.9L312.7 64.5 315.6 62.9 320.6 63.3ZM303.9 69.4L298.8 68.9 301.7 67.3 306.8 67.8ZM306.8 67.8L301.7 67.3 304.7 65.7 309.7 66.2ZM292.8 72.1L287.7 71.5 290.7 69.9 295.8 70.5ZM295.8 70.5L290.7 69.9 293.6 68.4 298.8 68.9ZM281.7 74.5L276.5 73.8 279.5 72.3 284.7 73ZM284.7 73L279.5 72.3 282.5 70.8 287.7 71.5ZM270.4 76.8L265.1 76 268.2 74.5 273.4 75.3ZM273.4 75.3L268.2 74.5 271.2 73.1 276.5 73.8Z" fill="#43ee3b" stroke="#43ee3b" stroke-width="0.5"/>
<path d="M375.8 48.8L370.9 48.7 373.7 46.9 378.6 47ZM365.4 52.2L360.5 52.1 363.3 50.4 368.2 50.5ZM368.2 50.5L363.3 50.4 366 48.6 370.9 48.7ZM354.9 55.6L349.9 55.5 352.7 53.8 357.7 53.9ZM344.3 59L339.3 58.8 342.1 57.1 347.1 57.2ZM333.6 62.2L328.6 61.9 331.4 60.2 336.4 60.5ZM322.8 65.3L317.7 64.9 320.6 63.3 325.7 63.6ZM311.9 68.2L306.8 67.8 309.7 66.2 314.8 66.6ZM300.9 71L295.8 70.5 298.8 68.9 303.9 69.4ZM289.9 73.6L284.7 73 287.7 71.5 292.8 72.1ZM278.7 76.1L273.4 75.3 276.5 73.8 281.7 74.5Z" fill="#50ef3a" stroke="#50ef3a" stroke-width="0.5"/>
<path d="M370.3 52.3L365.4 52.2 368.2 50.5 373.1 50.5ZM373.1 50.5L368.2 50.5 370.9 48.7 375.8 48.8ZM359.9 55.8L354.9 55.6 357.7 53.9 362.6 54ZM362.6 54L357.7 53.9 360.5 52.1 365.4 52.2ZM349.3 59.1L344.3 59 347.1 57.2 352.1 57.4ZM352.1 57.4L347.1 57.2 349.9 55.5 354.9 55.6ZM338.6 62.4L333.6 62.2 336.4 60.5 341.5 60.7ZM341.5 60.7L336.4 60.5 339.3 58.8 344.3 59ZM327.9 65.6L322.8 65.3 325.7 63.6 330.7 63.9ZM330.7 63.9L325.7 63.6 328.6 61.9 333.6 62.2ZM317 68.6L311.9 68.2 314.8 66.6 319.9 66.9ZM319.9 66.9L314.8 66.6 317.7 64.9 322.8 65.3ZM306.1 71.5L300.9 71 303.9 69.4 309 69.8ZM309 69.8L303.9 69.4 306.8 67.8 311.9 68.2ZM295.1 74.2L289.9 73.6 292.8 72.1 298 72.6ZM298 72.6L292.8 72.1 295.8 70.5 300.9 71ZM283.9 76.8L278.7 76.1 281.7 74.5 286.9 75.2ZM286.9 75.2L281.7 74.5 284.7 73 289.9 73.6ZM275.7 77.6L270.4 76.8 273.4 75.3 278.7 76.1Z" fill="#5cef39" stroke="#5cef39" stroke-width="0.5"/>
<path d="M378 50.6L373.1 50.5 375.8 48.8 380.7 48.8ZM380.7 48.8L375.8 48.8 378.6 47 383.5 47ZM367.6 54.1L362.6 54 365.4 52.2 370.3 52.3ZM357.1 57.5L352.1 57.4 354.9 55.6 359.9 55.8ZM343.7 62.6L338.6 62.4 341.5 60.7 346.5 60.9ZM346.5 60.9L341.5 60.7 344.3 59 349.3 59.1ZM333 65.9L327.9 65.6 330.7 63.9 335.8 64.1ZM335.8 64.1L330.7 63.9 333.6 62.2 338.6 62.4ZM322.2 69L317 68.6 319.9 66.9 325 67.3ZM325 67.3L319.9 66.9 322.8 65.3 327.9 65.6ZM311.3 71.9L306.1 71.5 309 69.8 314.2 70.3ZM314.2 70.3L309 69.8 311.9 68.2 317 68.6ZM300.3 74.8L295.1 74.2 298 72.6 303.2 73.1ZM303.2 73.1L298 72.6 300.9 71 306.1 71.5ZM289.2 77.4L283.9 76.8 286.9 75.2 292.1 75.8ZM292.1 75.8L286.9 75.2 289.9 73.6 295.1 74.2ZM281 78.3L275.7 77.6 278.7 76.1 283.9 76.8Z" fill="#69ef38" stroke="#69ef38" stroke-width="0.5"/>
<path d="M383 50.6L378 50.6 380.7 48.8 385.7 48.8ZM385.7 48.8L380.7 48.8 383.5 47 388.4 47ZM372.6 54.2L367.6 54.1 370.3 52.3 375.3 52.4ZM375.3 52.4L370.3 52.3 373.1 50.5 378 50.6ZM362.1 57.7L357.1 57.5 359.9 55.8 364.9 55.9ZM364.9 55.9L359.9 55.8 362.6 54 367.6 54.1ZM351.5 61.1L346.5 60.9 349.3 59.1 354.3 59.3ZM354.3 59.3L349.3 59.1 352.1 57.4 357.1 57.5ZM340.9 64.4L335.8 64.1 338.6 62.4 343.7 62.6ZM330.2 67.6L325 67.3 327.9 65.6 333 65.9ZM319.3 70.6L314.2 70.3 317 68.6 322.2 69ZM308.4 73.6L303.2 73.1 306.1 71.5 311.3 71.9ZM297.4 76.4L292.1 75.8 295.1 74.2 300.3 74.8ZM286.2 79L281 78.3 283.9 76.8 289.2 77.4Z" fill="#75ef37" stroke="#75ef37" stroke-width="0.5"/>
<path d="M390.6 48.9L385.7 48.8 388.4 47 393.3 47.1ZM380.3 52.5L375.3 52.4 378 50.6 383 50.6ZM369.9 56L364.9 55.9 367.6 54.1 372.6 54.2ZM356.6 61.2L351.5 61.1 354.3 59.3 359.4 59.4ZM359.4 59.4L354.3 59.3 357.1 57.5 362.1 57.7ZM346 64.6L340.9 64.4 343.7 62.6 348.8 62.8ZM348.8 62.8L343.7 62.6 346.5 60.9 351.5 61.1ZM335.3 67.8L330.2 67.6 333 65.9 338.1 66.1ZM338.1 66.1L333 65.9 335.8 64.1 340.9 64.4ZM324.5 71L319.3 70.6 322.2 69 327.3 69.3ZM327.3 69.3L322.2 69 325 67.3 330.2 67.6ZM313.6 74L308.4 73.6 311.3 71.9 316.5 72.3ZM316.5 72.3L311.3 71.9 314.2 70.3 319.3 70.6ZM302.6 76.9L297.4 76.4 300.3 74.8 305.5 75.2ZM305.5 75.2L300.3 74.8 303.2 73.1 308.4 73.6ZM291.5 79.6L286.2 79 289.2 77.4 294.4 78ZM294.4 78L289.2 77.4 292.1 75.8 297.4 76.4Z" fill="#82f036" stroke="#82f036" stroke-width="0.5"/>
<path d="M385.3 52.5L380.3 52.5 383 50.6 387.9 50.7ZM387.9 50.7L383 50.6 385.7 48.8 390.6 48.9ZM374.9 56L369.9 56 372.6 54.2 377.6 54.3ZM377.6 54.3L372.6 54.2 375.3 52.4 380.3 52.5ZM364.4 59.5L359.4 59.4 362.1 57.7 367.1 57.8ZM367.1 57.8L362.1 57.7 364.9 55.9 369.9 56ZM353.9 63L348.8 62.8 351.5 61.1 356.6 61.2ZM343.2 66.3L338.1 66.1 340.9 64.4 346 64.6ZM329.7 71.3L324.5 71 327.3 69.3 332.5 69.6ZM332.5 69.6L327.3 69.3 330.2 67.6 335.3 67.8ZM318.8 74.4L313.6 74 316.5 72.3 321.7 72.7ZM321.7 72.7L316.5 72.3 319.3 70.6 324.5 71ZM307.9 77.4L302.6 76.9 305.5 75.2 310.7 75.7ZM310.7 75.7L305.5 75.2 308.4 73.6 313.6 74ZM296.8 80.2L291.5 79.6 294.4 78 299.7 78.6ZM299.7 78.6L294.4 78 297.4 76.4 302.6 76.9Z" fill="#8ef035" stroke="#8ef035" stroke-width="0.5"/>
<path d="M392.9 50.7L387.9 50.7 390.6 48.9 395.6 48.9ZM395.6 48.9L390.6 48.9 393.3 47.1 398.2 47.1ZM382.6 54.3L377.6 54.3 380.3 52.5 385.3 52.5ZM369.5 59.6L364.4 59.5 367.1 57.8 372.2 57.8ZM372.2 57.8L367.1 57.8 369.9 56 374.9 56ZM359 63.1L353.9 63 356.6 61.2 361.7 61.3ZM361.7 61.3L356.6 61.2 359.4 59.4 364.4 59.5ZM348.3 66.5L343.2 66.3 346 64.6 351.1 64.7ZM351.1 64.7L346 64.6 348.8 62.8 353.9 63ZM337.6 69.8L332.5 69.6 335.3 67.8 340.4 68.1ZM340.4 68.1L335.3 67.8 338.1 66.1 343.2 66.3ZM326.9 73L321.7 72.7 324.5 71 329.7 71.3ZM316 76.1L310.7 75.7 313.6 74 318.8 74.4ZM305 79.1L299.7 78.6 302.6 76.9 307.9 77.4Z" fill="#9bf034" stroke="#9bf034" stroke-width="0.5"/>
<path d="M397.9 50.7L392.9 50.7 395.6 48.9 400.5 48.9ZM400.5 48.9L395.6 48.9 398.2 47.1 403.1 47.1ZM387.6 54.3L382.6 54.3 385.3 52.5 390.3 52.5ZM390.3 52.5L385.3 52.5 387.9 50.7 392.9 50.7ZM377.2 57.9L372.2 57.8 374.9 56 379.9 56.1ZM379.9 56.1L374.9 56 377.6 54.3 382.6 54.3ZM366.8 61.4L361.7 61.3 364.4 59.5 369.5 59.6ZM353.5 66.7L348.3 66.5 351.1 64.7 356.2 64.9ZM356.2 64.9L351.1 64.7 353.9 63 359 63.1ZM342.8 70L337.6 69.8 340.4 68.1 345.6 68.3ZM345.6 68.3L340.4 68.1 343.2 66.3 348.3 66.5ZM332.1 73.3L326.9 73 329.7 71.3 334.9 71.6ZM334.9 71.6L329.7 71.3 332.5 69.6 337.6 69.8ZM321.2 76.5L316 76.1 318.8 74.4 324 74.7ZM324 74.7L318.8 74.4 321.7 72.7 326.9 73ZM310.3 79.5L305 79.1 307.9 77.4 313.1 77.8ZM313.1 77.8L307.9 77.4 310.7 75.7 316 76.1ZM302.1 80.7L296.8 80.2 299.7 78.6 305 79.1Z" fill="#a7f033" stroke="#a7f033" stroke-width="0.5"/>
<path d="M405.5 48.9L400.5 48.9 403.1 47.1 408.1 47.1ZM395.3 52.6L390.3 52.5 392.9 50.7 397.9 50.7ZM382.3 58L377.2 57.9 379.9 56.1 385 56.1ZM385 56.1L379.9 56.1 382.6 54.3 387.6 54.3ZM371.9 61.5L366.8 61.4 369.5 59.6 374.6 59.7ZM374.6 59.7L369.5 59.6 372.2 57.8 377.2 57.9ZM361.4 65L356.2 64.9 359 63.1 364.1 63.2ZM364.1 63.2L359 63.1 361.7 61.3 366.8 61.4ZM350.8 68.4L345.6 68.3 348.3 66.5 353.5 66.7ZM340.1 71.8L334.9 71.6 337.6 69.8 342.8 70ZM329.3 75L324 74.7 326.9 73 332.1 73.3ZM315.6 79.9L310.3 79.5 313.1 77.8 318.4 78.2ZM318.4 78.2L313.1 77.8 316 76.1 321.2 76.5ZM307.4 81.2L302.1 80.7 305 79.1 310.3 79.5Z" fill="#b4f132" stroke="#b4f132" stroke-width="0.5"/>
<path d="M410.5 49L405.5 48.9 408.1 47.1 413 47.1ZM400.3 52.6L395.3 52.6 397.9 50.7 402.9 50.8ZM402.9 50.8L397.9 50.7 400.5 48.9 405.5 48.9ZM390 56.2L385 56.1 387.6 54.3 392.7 54.4ZM392.7 54.4L387.6 54.3 390.3 52.5 395.3 52.6ZM379.7 59.8L374.6 59.7 377.2 57.9 382.3 58ZM366.5 65.1L361.4 65 364.1 63.2 369.2 63.3ZM369.2 63.3L364.1 63.2 366.8 61.4 371.9 61.5ZM355.9 68.6L350.8 68.4 353.5 66.7 358.7 66.8ZM358.7 66.8L353.5 66.7 356.2 64.9 361.4 65ZM345.3 72L340.1 71.8 342.8 70 348 70.2ZM348 70.2L342.8 70 345.6 68.3 350.8 68.4ZM334.5 75.3L329.3 75 332.1 73.3 337.3 73.5ZM337.3 73.5L332.1 73.3 334.9 71.6 340.1 71.8ZM323.7 78.5L318.4 78.2 321.2 76.5 326.5 76.8ZM326.5 76.8L321.2 76.5 324 74.7 329.3 75ZM312.8 81.6L307.4 81.2 310.3 79.5 315.6 79.9Z" fill="#c0f131" stroke="#c0f131" stroke-width="0.5"/>
<path d="M407.9 50.8L402.9 50.8 405.5 48.9 410.5 49ZM395.1 56.2L390 56.2 392.7 54.4 397.7 54.4ZM397.7 54.4L392.7 54.4 395.3 52.6 400.3 52.6ZM384.8 59.8L379.7 59.8 382.3 58 387.4 58ZM387.4 58L382.3 58 385 56.1 390 56.2ZM374.3 63.4L369.2 63.3 371.9 61.5 377 61.6ZM377 61.6L371.9 61.5 374.6 59.7 379.7 59.8ZM363.8 66.9L358.7 66.8 361.4 65 366.5 65.1ZM350.5 72.1L345.3 72 348 70.2 353.2 70.3ZM353.2 70.3L348 70.2 350.8 68.4 355.9 68.6ZM339.8 75.5L334.5 75.3 337.3 73.5 342.5 73.7ZM342.5 73.7L337.3 73.5 340.1 71.8 345.3 72ZM329 78.8L323.7 78.5 326.5 76.8 331.8 77ZM331.8 77L326.5 76.8 329.3 75 334.5 75.3ZM318.1 82L312.8 81.6 315.6 79.9 320.9 80.2ZM320.9 80.2L315.6 79.9 318.4 78.2 323.7 78.5Z" fill="#cdf130" stroke="#cdf130" stroke-width="0.5"/>
<path d="M412.9 50.8L407.9 50.8 410.5 49 415.5 49ZM415.5 49L410.5 49 413 47.1 418 47.1ZM402.8 54.4L397.7 54.4 400.3 52.6 405.3 52.6ZM405.3 52.6L400.3 52.6 402.9 50.8 407.9 50.8ZM392.5 58L387.4 58 390 56.2 395.1 56.2ZM379.5 63.4L374.3 63.4 377 61.6 382.1 61.6ZM382.1 61.6L377 61.6 379.7 59.8 384.8 59.8ZM369 66.9L363.8 66.9 366.5 65.1 371.7 65.1ZM371.7 65.1L366.5 65.1 369.2 63.3 374.3 63.4ZM358.4 70.5L353.2 70.3 355.9 68.6 361.1 68.7ZM361.1 68.7L355.9 68.6 358.7 66.8 363.8 66.9ZM347.8 73.9L342.5 73.7 345.3 72 350.5 72.1ZM337 77.3L331.8 77 334.5 75.3 339.8 75.5ZM326.2 80.5L320.9 80.2 323.7 78.5 329 78.8Z" fill="#d9f12f" stroke="#d9f12f" stroke-width="0.5"/>
<path d="M407.8 54.4L402.8 54.4 405.3 52.6 410.4 52.6ZM410.4 52.6L405.3 52.6 407.9 50.8 412.9 50.8ZM397.6 58L392.5 58 395.1 56.2 400.2 56.2ZM400.2 56.2L395.1 56.2 397.7 54.4 402.8 54.4ZM387.3 61.6L382.1 61.6 384.8 59.8 389.9 59.8ZM389.9 59.8L384.8 59.8 387.4 58 392.5 58ZM374.2 67L369 66.9 371.7 65.1 376.9 65.2ZM376.9 65.2L371.7 65.1 374.3 63.4 379.5 63.4ZM363.7 70.5L358.4 70.5 361.1 68.7 366.4 68.7ZM366.4 68.7L361.1 68.7 363.8 66.9 369 66.9ZM353.1 74L347.8 73.9 350.5 72.1 355.8 72.2ZM355.8 72.2L350.5 72.1 353.2 70.3 358.4 70.5ZM342.4 77.4L337 77.3 339.8 75.5 345.1 75.7ZM345.1 75.7L339.8 75.5 342.5 73.7 347.8 73.9ZM331.6 80.8L326.2 80.5 329 78.8 334.3 79ZM334.3 79L329 78.8 331.8 77 337 77.3ZM323.4 82.3L318.1 82 320.9 80.2 326.2 80.5Z" fill="#e6f22e" stroke="#e6f22e" stroke-width="0.5"/>
<path d="M405.3 56.2L400.2 56.2 402.8 54.4 407.8 54.4ZM392.4 61.6L387.3 61.6 389.9 59.8 395 59.8ZM395 59.8L389.9 59.8 392.5 58 397.6 58ZM382.1 65.2L376.9 65.2 379.5 63.4 384.7 63.4ZM384.7 63.4L379.5 63.4 382.1 61.6 387.3 61.6ZM371.6 68.8L366.4 68.7 369 66.9 374.2 67ZM358.3 74.1L353.1 74 355.8 72.2 361 72.3ZM361 72.3L355.8 72.2 358.4 70.5 363.7 70.5ZM347.7 77.6L342.4 77.4 345.1 75.7 350.4 75.8ZM350.4 75.8L345.1 75.7 347.8 73.9 353.1 74ZM336.9 81L331.6 80.8 334.3 79 339.6 79.2ZM339.6 79.2L334.3 79 337 77.3 342.4 77.4ZM328.8 82.5L323.4 82.3 326.2 80.5 331.6 80.8Z" fill="#f2f22d" stroke="#f2f22d" stroke-width="0.5"/>
<path d="M400.2 59.7L395 59.8 397.6 58 402.7 57.9ZM402.7 57.9L397.6 58 400.2 56.2 405.3 56.2ZM387.3 65.1L382.1 65.2 384.7 63.4 389.9 63.4ZM389.9 63.4L384.7 63.4 387.3 61.6 392.4 61.6ZM376.8 68.8L371.6 68.8 374.2 67 379.4 67ZM379.4 67L374.2 67 376.9 65.2 382.1 65.2ZM366.3 72.3L361 72.3 363.7 70.5 368.9 70.5ZM368.9 70.5L363.7 70.5 366.4 68.7 371.6 68.8ZM355.7 75.9L350.4 75.8 353.1 74 358.3 74.1ZM345 79.3L339.6 79.2 342.4 77.4 347.7 77.6ZM334.2 82.7L328.8 82.5 331.6 80.8 336.9 81Z" fill="#f3eb2c" stroke="#f3eb2c" stroke-width="0.5"/>
<path d="M395.1 63.3L389.9 63.4 392.4 61.6 397.6 61.5ZM397.6 61.5L392.4 61.6 395 59.8 400.2 59.7ZM384.7 66.9L379.4 67 382.1 65.2 387.3 65.1ZM371.6 72.3L366.3 72.3 368.9 70.5 374.2 70.5ZM374.2 70.5L368.9 70.5 371.6 68.8 376.8 68.8ZM361 75.9L355.7 75.9 358.3 74.1 363.7 74.1ZM363.7 74.1L358.3 74.1 361 72.3 366.3 72.3ZM350.3 79.4L345 79.3 347.7 77.6 353 77.6ZM353 77.6L347.7 77.6 350.4 75.8 355.7 75.9ZM339.6 82.9L334.2 82.7 336.9 81 342.3 81.1ZM342.3 81.1L336.9 81 339.6 79.2 345 79.3Z" fill="#f3e42b" stroke="#f3e42b" stroke-width="0.5"/>
<path d="M389.9 66.9L384.7 66.9 387.3 65.1 392.5 65.1ZM392.5 65.1L387.3 65.1 389.9 63.4 395.1 63.3ZM379.5 70.5L374.2 70.5 376.8 68.8 382.1 68.7ZM382.1 68.7L376.8 68.8 379.4 67 384.7 66.9ZM369 74.1L363.7 74.1 366.3 72.3 371.6 72.3ZM355.7 79.4L350.3 79.4 353 77.6 358.4 77.7ZM358.4 77.7L353 77.6 355.7 75.9 361 75.9ZM345 83L339.6 82.9 342.3 81.1 347.7 81.2ZM347.7 81.2L342.3 81.1 345 79.3 350.3 79.4Z" fill="#f4de2a" stroke="#f4de2a" stroke-width="0.5"/>
<path d="M384.8 70.4L379.5 70.5 382.1 68.7 387.4 68.6ZM387.4 68.6L382.1 68.7 384.7 66.9 389.9 66.9ZM374.3 74L369 74.1 371.6 72.3 376.9 72.3ZM376.9 72.3L371.6 72.3 374.2 70.5 379.5 70.5ZM363.7 77.7L358.4 77.7 361 75.9 366.4 75.9ZM366.4 75.9L361 75.9 363.7 74.1 369 74.1ZM353.1 81.2L347.7 81.2 350.3 79.4 355.7 79.4Z" fill="#f4d729" stroke="#f4d729" stroke-width="0.5"/>
<path d="M379.7 73.9L374.3 74 376.9 72.3 382.2 72.2ZM382.2 72.2L376.9 72.3 379.5 70.5 384.8 70.4ZM369.1 77.6L363.7 77.7 366.4 75.9 371.7 75.8ZM371.7 75.8L366.4 75.9 369 74.1 374.3 74ZM358.5 81.2L353.1 81.2 355.7 79.4 361.1 79.4ZM361.1 79.4L355.7 79.4 358.4 77.7 363.7 77.7ZM350.4 83L345 83 347.7 81.2 353.1 81.2Z" fill="#f5d028" stroke="#f5d028" stroke-width="0.5"/>
<path d="M374.5 77.5L369.1 77.6 371.7 75.8 377.1 75.7ZM377.1 75.7L371.7 75.8 374.3 74 379.7 73.9ZM363.9 81.1L358.5 81.2 361.1 79.4 366.5 79.3ZM366.5 79.3L361.1 79.4 363.7 77.7 369.1 77.6ZM355.8 83L350.4 83 353.1 81.2 358.5 81.2Z" fill="#f5c927" stroke="#f5c927" stroke-width="0.5"/>
<path d="M372 79.2L366.5 79.3 369.1 77.6 374.5 77.5ZM361.3 82.9L355.8 83 358.5 81.2 363.9 81.1Z" fill="#f6c226" stroke="#f6c226" stroke-width="0.5"/>
<path d="M366.8 82.7L361.3 82.9 363.9 81.1 369.4 81ZM369.4 81L363.9 81.1 366.5 79.3 372 79.2Z" fill="#f6bc25" stroke="#f6bc25" stroke-width="0.5"/>
<path d="M366.8 82.7L375.4 76.9L384 71L392.5 65.1L401 59.1L409.5 53.2L418 47.1M361.3 82.9L370 77L378.6 71.1L387.3 65.1L395.9 59.2L404.5 53.2L413 47.1M355.8 83L364.6 77.1L373.3 71.1L382.1 65.2L390.8 59.2L399.4 53.2L408.1 47.1M350.4 83L359.2 77.1L368.1 71.1L376.9 65.2L385.6 59.2L394.4 53.2L403.1 47.1M345 83L353.9 77.1L362.8 71.1L371.7 65.1L380.5 59.2L389.4 53.1L398.2 47.1M339.6 82.9L348.6 77L357.6 71L366.5 65.1L375.5 59.1L384.4 53.1L393.3 47.1M334.2 82.7L343.3 76.9L352.3 70.9L361.4 65L370.4 59L379.4 53.1L388.4 47M328.8 82.5L338 76.7L347.1 70.8L356.2 64.9L365.3 59L374.4 53L383.5 47M323.4 82.3L332.7 76.5L341.9 70.6L351.1 64.7L360.3 58.8L369.4 52.9L378.6 47M318.1 82L327.4 76.2L336.7 70.4L346 64.6L355.2 58.7L364.5 52.8L373.7 46.9M312.8 81.6L322.2 75.9L331.5 70.1L340.9 64.4L350.2 58.6L359.5 52.7L368.8 46.9M307.4 81.2L316.9 75.5L326.4 69.8L335.8 64.1L345.2 58.4L354.6 52.6L364 46.8M302.1 80.7L311.7 75.1L321.2 69.5L330.7 63.9L340.2 58.2L349.7 52.5L359.1 46.8M296.8 80.2L306.5 74.7L316.1 69.2L325.7 63.6L335.2 58L344.8 52.4L354.3 46.7M291.5 79.6L301.3 74.2L311 68.8L320.6 63.3L330.3 57.8L339.9 52.2L349.5 46.6M286.2 79L296.1 73.7L305.8 68.3L315.6 62.9L325.3 57.5L335 52.1L344.7 46.6M281 78.3L290.9 73.1L300.7 67.8L310.6 62.6L320.4 57.2L330.1 51.9L339.9 46.5M275.7 77.6L285.7 72.5L295.6 67.3L305.5 62.2L315.4 57L325.3 51.7L335.1 46.4M270.4 76.8L280.5 71.8L290.5 66.8L300.5 61.7L310.5 56.6L320.4 51.5L330.3 46.3M265.1 76L275.3 71.1L285.4 66.2L295.5 61.3L305.6 56.3L315.6 51.3L325.6 46.3M259.9 75.1L270.1 70.4L280.4 65.6L290.5 60.8L300.7 56L310.8 51.1L320.8 46.2M366.8 82.7L348.6 83L330.6 82.6L312.8 81.6L295.1 80L277.4 77.8L259.9 75.1M369.4 81L351.2 81.2L333.3 80.9L315.6 79.9L298 78.4L280.4 76.3L262.9 73.7M372 79.2L353.9 79.4L336.1 79.1L318.4 78.2L300.9 76.7L283.4 74.8L266 72.2M374.5 77.5L356.6 77.7L338.8 77.3L321.2 76.5L303.8 75.1L286.4 73.2L269.1 70.8M377.1 75.7L359.2 75.9L341.6 75.6L324 74.7L306.7 73.4L289.4 71.7L272.2 69.4M379.7 73.9L361.9 74.1L344.3 73.8L326.9 73L309.6 71.8L292.4 70.1L275.3 68M382.2 72.2L364.5 72.3L347 72L329.7 71.3L312.4 70.1L295.3 68.5L278.3 66.6M384.8 70.4L367.2 70.5L349.8 70.3L332.5 69.6L315.3 68.5L298.3 67L281.4 65.1M387.4 68.6L369.8 68.8L352.5 68.5L335.3 67.8L318.2 66.8L301.3 65.4L284.4 63.7M389.9 66.9L372.5 67L355.2 66.7L338.1 66.1L321.1 65.2L304.3 63.9L287.5 62.2M392.5 65.1L375.1 65.2L357.9 64.9L340.9 64.4L324 63.5L307.2 62.3L290.5 60.8M395.1 63.3L377.8 63.4L360.7 63.1L343.7 62.6L326.9 61.8L310.2 60.7L293.6 59.4M397.6 61.5L380.4 61.6L363.4 61.4L346.5 60.9L329.8 60.1L313.1 59.2L296.6 57.9M400.2 59.7L383.1 59.8L366.1 59.6L349.3 59.1L332.6 58.5L316.1 57.6L299.7 56.5M402.7 57.9L385.7 58L368.8 57.8L352.1 57.4L335.5 56.8L319 56L302.7 55M405.3 56.2L388.3 56.2L371.5 56L354.9 55.6L338.4 55.1L322 54.4L305.7 53.5M407.8 54.4L391 54.4L374.3 54.2L357.7 53.9L341.2 53.4L324.9 52.8L308.8 52.1M410.4 52.6L393.6 52.5L377 52.4L360.5 52.1L344.1 51.8L327.9 51.2L311.8 50.6M412.9 50.8L396.2 50.7L379.7 50.6L363.3 50.4L347 50.1L330.8 49.6L314.8 49.1M415.5 49L398.9 48.9L382.4 48.8L366 48.6L349.8 48.4L333.8 48.1L317.8 47.6M418 47.1L401.5 47.1L385.1 47L368.8 46.9L352.7 46.7L336.7 46.5L320.8 46.2" stroke="#000" stroke-opacity="0.25" stroke-width="0.5" fill="none"/>
<circle cx="340.6" cy="63.5" r="1.5" fill="#8e1515"/>
<text x="247.4" y="36.4" font-family='"Liberation Sans", sans-serif' font-size="6.3" font-weight="bold" letter-spacing="0.25" fill="#262626" text-anchor="middle" dominant-baseline="central">300</text>
<text x="248.5" y="50.9" font-family='"Liberation Sans", sans-serif' font-size="6.3" font-weight="bold" letter-spacing="0.25" fill="#262626" text-anchor="middle" dominant-baseline="central">250</text>
<text x="250" y="65.3" font-family='"Liberation Sans", sans-serif' font-size="6.3" font-weight="bold" letter-spacing="0.25" fill="#262626" text-anchor="middle" dominant-baseline="central">200</text>
<text x="250.5" y="79.5" font-family='"Liberation Sans", sans-serif' font-size="6.3" font-weight="bold" letter-spacing="0.25" fill="#262626" text-anchor="middle" dominant-baseline="central">150</text>
<text x="254.1" y="93.8" font-family='"Liberation Sans", sans-serif' font-size="6.3" font-weight="bold" letter-spacing="0.25" fill="#262626" text-anchor="middle" dominant-baseline="central">100</text>
<text x="233.2" y="69.8" font-family='"Liberation Serif", serif' font-size="9.5" textLength="82.8" lengthAdjust="spacingAndGlyphs" fill="#151515" stroke="#151515" stroke-width="0.2" text-anchor="middle" dominant-baseline="central" transform="rotate(-90 233.2 69.8)">Mean particle size (nm)</text>
<text x="257.6" y="117.7" font-family='"Liberation Sans", sans-serif' font-size="6.3" font-weight="bold" letter-spacing="0.25" fill="#262626" text-anchor="middle" dominant-baseline="central">90</text>
<text x="274.2" y="122.6" font-family='"Liberation Sans", sans-serif' font-size="6.3" font-weight="bold" letter-spacing="0.25" fill="#262626" text-anchor="middle" dominant-baseline="central">80</text>
<text x="290.6" y="127.3" font-family='"Liberation Sans", sans-serif' font-size="6.3" font-weight="bold" letter-spacing="0.25" fill="#262626" text-anchor="middle" dominant-baseline="central">70</text>
<text x="307.4" y="131.9" font-family='"Liberation Sans", sans-serif' font-size="6.3" font-weight="bold" letter-spacing="0.25" fill="#262626" text-anchor="middle" dominant-baseline="central">60</text>
<text x="324.2" y="136.5" font-family='"Liberation Sans", sans-serif' font-size="6.3" font-weight="bold" letter-spacing="0.25" fill="#262626" text-anchor="middle" dominant-baseline="central">50</text>
<text x="341.2" y="141.5" font-family='"Liberation Sans", sans-serif' font-size="6.3" font-weight="bold" letter-spacing="0.25" fill="#262626" text-anchor="middle" dominant-baseline="central">40</text>
<text x="357.8" y="145.9" font-family='"Liberation Sans", sans-serif' font-size="6.3" font-weight="bold" letter-spacing="0.25" fill="#262626" text-anchor="middle" dominant-baseline="central">30</text>
<text x="417.8" y="98.7" font-family='"Liberation Sans", sans-serif' font-size="6.3" font-weight="bold" letter-spacing="0.25" fill="#262626" text-anchor="middle" dominant-baseline="central">3</text>
<text x="408.2" y="110.6" font-family='"Liberation Sans", sans-serif' font-size="6.3" font-weight="bold" letter-spacing="0.25" fill="#262626" text-anchor="middle" dominant-baseline="central">2.5</text>
<text x="393.6" y="122.1" font-family='"Liberation Sans", sans-serif' font-size="6.3" font-weight="bold" letter-spacing="0.25" fill="#262626" text-anchor="middle" dominant-baseline="central">2</text>
<text x="383.9" y="134.1" font-family='"Liberation Sans", sans-serif' font-size="6.3" font-weight="bold" letter-spacing="0.25" fill="#262626" text-anchor="middle" dominant-baseline="central">1.5</text>
<text x="369.4" y="145.9" font-family='"Liberation Sans", sans-serif' font-size="6.3" font-weight="bold" letter-spacing="0.25" fill="#262626" text-anchor="middle" dominant-baseline="central">1</text>
<text x="296.6" y="145.7" font-family='"Liberation Serif", serif' font-size="8.5" textLength="45.1" lengthAdjust="spacingAndGlyphs" fill="#151515" stroke="#151515" stroke-width="0.2" text-anchor="middle" dominant-baseline="central">C: Sonication</text>
<text x="297.3" y="155.9" font-family='"Liberation Serif", serif' font-size="8.5" textLength="36" lengthAdjust="spacingAndGlyphs" fill="#151515" stroke="#151515" stroke-width="0.2" text-anchor="middle" dominant-baseline="central">Time (sec)</text>
<text x="424.9" y="129.6" font-family='"Liberation Serif", serif' font-size="8" textLength="69.4" lengthAdjust="spacingAndGlyphs" fill="#151515" stroke="#151515" stroke-width="0.2" text-anchor="middle" dominant-baseline="central">A: Lipid concentration</text>
<text x="424.9" y="138.4" font-family='"Liberation Serif", serif' font-size="8" textLength="22.6" lengthAdjust="spacingAndGlyphs" fill="#151515" stroke="#151515" stroke-width="0.2" text-anchor="middle" dominant-baseline="central">(%w/v)</text>
<text x="349.3" y="161.2" font-family='"Liberation Serif", serif' font-size="14" font-weight="bold" fill="#111" text-anchor="middle" dominant-baseline="central">B</text>
<path d="M493.5 95.5L485 26.8M510.8 74.2L505.9 22.1M530.1 69.1L526.9 17.5M549.4 64L547.8 12.8M568.8 58.9L568.8 8.2M587.6 69.2L589.7 3.5M491.5 79.4L588.1 53.8M489.9 66.2L588.5 41.2M488.2 53.1L588.9 28.6M486.6 39.9L589.3 16M485 26.8L589.7 3.5M652.3 112.6L662.4 42.7M643.6 89.1L650.3 36.2M632.5 82L638.2 29.6M621.4 75L626 23.1M610.3 67.9L613.9 16.6M599.2 60.8L601.8 10M587.6 69.2L589.7 3.5M654.7 96.2L588.1 53.8M656.6 82.8L588.5 41.2M658.5 69.4L588.9 28.6M660.5 56L589.3 16M662.4 42.7L589.7 3.5" stroke="#5c5c5c" stroke-width="0.9" fill="none"/>
<polygon points="493.5,95.5 551.7,146.7 652.3,112.6 587.6,69.2" fill="#626262"/>
<clipPath id="fcC"><polygon points="493.5,95.5 551.7,146.7 652.3,112.6 587.6,69.2"/></clipPath>
<g clip-path="url(#fcC)"><path d="M581 86.7C583.8 86.8 592.4 87.1 598 87.4C603.6 87.7 611.8 88.3 614.6 88.5" stroke="#2ab982" stroke-width="1.4" fill="none"/><path d="M525.7 87.6C529.4 88.4 540.3 91 547.7 92.2C555.1 93.4 561.3 94.3 570 94.9C578.7 95.5 590.4 95.7 600 96C609.6 96.3 623.1 96.8 627.7 97" stroke="#34c25f" stroke-width="1.4" fill="none"/><path d="M497.6 95.6C503.2 97.1 518.3 102.4 531.2 104.5C544.1 106.6 561.9 107.6 575 108C588.1 108.4 599.3 107.5 610 107C620.7 106.5 634.5 105.3 639.4 105" stroke="#48c83e" stroke-width="1.4" fill="none"/><path d="M527.1 124.5C530.5 124.4 539.7 124.3 547.7 123.8C555.7 123.3 564.6 122.6 575 121.7C585.4 120.8 597.3 119.8 610 118.5C622.7 117.2 644.2 114.5 651 113.7" stroke="#a0cc32" stroke-width="1.4" fill="none"/></g>
<path d="M493.5 95.5L551.7 146.7L652.3 112.6" stroke="#333" stroke-width="0.8" fill="none"/>
<path d="M491.5 79.4h-1.8M489.9 66.2h-1.8M488.2 53.1h-1.8M486.6 39.9h-1.8M485 26.8h-1.8M542 138.2l-0.9 1.6M532.3 129.6l-0.9 1.6M522.6 121.1l-0.9 1.6M512.9 112.6l-0.9 1.6M503.2 104l-0.9 1.6M571.8 139.9l0.9 1.6M591.9 133.1l0.9 1.6M612.1 126.2l0.9 1.6M632.2 119.4l0.9 1.6" stroke="#222" stroke-width="1" fill="none"/>
<path d="M586.7 52.5L583.3 51.5 588.1 51.2 591.5 52.1Z" fill="#2cb9ee" stroke="#2cb9ee" stroke-width="0.5"/>
<path d="M590.1 53.4L586.7 52.5 591.5 52.1 594.9 53ZM581.8 52.8L578.5 51.8 583.3 51.5 586.7 52.5Z" fill="#2bc1ed" stroke="#2bc1ed" stroke-width="0.5"/>
<path d="M593.5 54.4L590.1 53.4 594.9 53 598.4 53.9ZM585.2 53.8L581.8 52.8 586.7 52.5 590.1 53.4ZM577 53.1L573.6 52.1 578.5 51.8 581.8 52.8Z" fill="#2bcaeb" stroke="#2bcaeb" stroke-width="0.5"/>
<path d="M580.3 54.2L577 53.1 581.8 52.8 585.2 53.8ZM572.1 53.4L568.8 52.3 573.6 52.1 577 53.1Z" fill="#2ad2ea" stroke="#2ad2ea" stroke-width="0.5"/>
<path d="M596.9 55.3L593.5 54.4 598.4 53.9 601.8 54.8ZM588.6 54.8L585.2 53.8 590.1 53.4 593.5 54.4ZM575.4 54.5L572.1 53.4 577 53.1 580.3 54.2ZM567.1 53.8L563.9 52.6 568.8 52.3 572.1 53.4Z" fill="#29dae9" stroke="#29dae9" stroke-width="0.5"/>
<path d="M600.3 56.2L596.9 55.3 601.8 54.8 605.3 55.7ZM592 55.8L588.6 54.8 593.5 54.4 596.9 55.3ZM583.6 55.2L580.3 54.2 585.2 53.8 588.6 54.8ZM570.4 54.9L567.1 53.8 572.1 53.4 575.4 54.5ZM562.2 54.1L559 52.9 563.9 52.6 567.1 53.8Z" fill="#29e3e7" stroke="#29e3e7" stroke-width="0.5"/>
<path d="M595.4 56.8L592 55.8 596.9 55.3 600.3 56.2ZM587 56.2L583.6 55.2 588.6 54.8 592 55.8ZM578.7 55.6L575.4 54.5 580.3 54.2 583.6 55.2ZM565.5 55.3L562.2 54.1 567.1 53.8 570.4 54.9ZM557.3 54.4L554 53.2 559 52.9 562.2 54.1Z" fill="#28ebe6" stroke="#28ebe6" stroke-width="0.5"/>
<path d="M603.7 57.2L600.3 56.2 605.3 55.7 608.7 56.6ZM590.4 57.3L587 56.2 592 55.8 595.4 56.8ZM582 56.7L578.7 55.6 583.6 55.2 587 56.2ZM573.8 56L570.4 54.9 575.4 54.5 578.7 55.6ZM552.3 54.7L549.1 53.4 554 53.2 557.3 54.4Z" fill="#29ebdb" stroke="#29ebdb" stroke-width="0.5"/>
<path d="M607.2 58.1L603.7 57.2 608.7 56.6 612.2 57.4ZM598.8 57.7L595.4 56.8 600.3 56.2 603.7 57.2ZM585.4 57.8L582 56.7 587 56.2 590.4 57.3ZM577.1 57.2L573.8 56 578.7 55.6 582 56.7ZM568.8 56.5L565.5 55.3 570.4 54.9 573.8 56ZM560.5 55.6L557.3 54.4 562.2 54.1 565.5 55.3ZM547.4 55L544.2 53.7 549.1 53.4 552.3 54.7Z" fill="#2aebcf" stroke="#2aebcf" stroke-width="0.5"/>
<path d="M602.2 58.7L598.8 57.7 603.7 57.2 607.2 58.1ZM593.8 58.3L590.4 57.3 595.4 56.8 598.8 57.7ZM580.4 58.3L577.1 57.2 582 56.7 585.4 57.8ZM572.1 57.6L568.8 56.5 573.8 56 577.1 57.2ZM563.8 56.9L560.5 55.6 565.5 55.3 568.8 56.5ZM555.6 56L552.3 54.7 557.3 54.4 560.5 55.6Z" fill="#2becc4" stroke="#2becc4" stroke-width="0.5"/>
<path d="M610.7 59L607.2 58.1 612.2 57.4 615.7 58.3ZM597.2 59.3L593.8 58.3 598.8 57.7 602.2 58.7ZM588.8 58.9L585.4 57.8 590.4 57.3 593.8 58.3ZM575.4 58.8L572.1 57.6 577.1 57.2 580.4 58.3ZM567.1 58.1L563.8 56.9 568.8 56.5 572.1 57.6ZM558.8 57.3L555.6 56 560.5 55.6 563.8 56.9ZM550.6 56.3L547.4 55 552.3 54.7 555.6 56ZM542.4 55.3L539.2 53.9 544.2 53.7 547.4 55Z" fill="#2cecb9" stroke="#2cecb9" stroke-width="0.5"/>
<path d="M614.1 59.9L610.7 59 615.7 58.3 619.2 59.2ZM605.6 59.7L602.2 58.7 607.2 58.1 610.7 59ZM592.1 59.9L588.8 58.9 593.8 58.3 597.2 59.3ZM583.7 59.4L580.4 58.3 585.4 57.8 588.8 58.9ZM570.4 59.3L567.1 58.1 572.1 57.6 575.4 58.8ZM562.1 58.6L558.8 57.3 563.8 56.9 567.1 58.1ZM553.8 57.7L550.6 56.3 555.6 56 558.8 57.3ZM545.6 56.7L542.4 55.3 547.4 55 550.6 56.3ZM537.4 55.6L534.2 54.2 539.2 53.9 542.4 55.3Z" fill="#2decad" stroke="#2decad" stroke-width="0.5"/>
<path d="M609.1 60.6L605.6 59.7 610.7 59 614.1 59.9ZM595.5 61L592.1 59.9 597.2 59.3 600.6 60.3ZM600.6 60.3L597.2 59.3 602.2 58.7 605.6 59.7ZM587.1 60.5L583.7 59.4 588.8 58.9 592.1 59.9ZM578.7 60L575.4 58.8 580.4 58.3 583.7 59.4ZM565.3 59.8L562.1 58.6 567.1 58.1 570.4 59.3ZM557 59L553.8 57.7 558.8 57.3 562.1 58.6ZM548.8 58.1L545.6 56.7 550.6 56.3 553.8 57.7ZM540.5 57L537.4 55.6 542.4 55.3 545.6 56.7ZM532.4 55.9L529.2 54.4 534.2 54.2 537.4 55.6Z" fill="#2eeca2" stroke="#2eeca2" stroke-width="0.5"/>
<path d="M617.6 60.8L614.1 59.9 619.2 59.2 622.7 60ZM604 61.3L600.6 60.3 605.6 59.7 609.1 60.6ZM590.5 61.6L587.1 60.5 592.1 59.9 595.5 61ZM582 61.1L578.7 60 583.7 59.4 587.1 60.5ZM573.7 60.5L570.4 59.3 575.4 58.8 578.7 60ZM560.3 60.3L557 59 562.1 58.6 565.3 59.8ZM552 59.4L548.8 58.1 553.8 57.7 557 59ZM543.7 58.5L540.5 57 545.6 56.7 548.8 58.1ZM535.5 57.4L532.4 55.9 537.4 55.6 540.5 57ZM527.3 56.2L524.2 54.7 529.2 54.4 532.4 55.9Z" fill="#2fec97" stroke="#2fec97" stroke-width="0.5"/>
<path d="M621.2 61.7L617.6 60.8 622.7 60 626.3 60.9ZM607.5 62.3L604 61.3 609.1 60.6 612.6 61.5ZM612.6 61.5L609.1 60.6 614.1 59.9 617.6 60.8ZM598.9 62L595.5 61 600.6 60.3 604 61.3ZM585.4 62.3L582 61.1 587.1 60.5 590.5 61.6ZM577 61.7L573.7 60.5 578.7 60 582 61.1ZM563.5 61.6L560.3 60.3 565.3 59.8 568.6 61.1ZM568.6 61.1L565.3 59.8 570.4 59.3 573.7 60.5ZM555.2 60.8L552 59.4 557 59 560.3 60.3ZM546.9 59.9L543.7 58.5 548.8 58.1 552 59.4ZM538.7 58.9L535.5 57.4 540.5 57 543.7 58.5ZM530.5 57.7L527.3 56.2 532.4 55.9 535.5 57.4ZM522.3 56.5L519.2 54.9 524.2 54.7 527.3 56.2Z" fill="#30ed8b" stroke="#30ed8b" stroke-width="0.5"/>
<path d="M616 62.5L612.6 61.5 617.6 60.8 621.2 61.7ZM602.4 63.1L598.9 62 604 61.3 607.5 62.3ZM593.8 62.7L590.5 61.6 595.5 61 598.9 62ZM580.3 62.9L577 61.7 582 61.1 585.4 62.3ZM571.9 62.3L568.6 61.1 573.7 60.5 577 61.7ZM558.4 62.2L555.2 60.8 560.3 60.3 563.5 61.6ZM550.1 61.3L546.9 59.9 552 59.4 555.2 60.8ZM541.9 60.3L538.7 58.9 543.7 58.5 546.9 59.9ZM533.6 59.2L530.5 57.7 535.5 57.4 538.7 58.9ZM525.4 58L522.3 56.5 527.3 56.2 530.5 57.7ZM517.2 56.8L514.1 55.1 519.2 54.9 522.3 56.5Z" fill="#31ed80" stroke="#31ed80" stroke-width="0.5"/>
<path d="M624.7 62.6L621.2 61.7 626.3 60.9 629.8 61.7ZM610.9 63.3L607.5 62.3 612.6 61.5 616 62.5ZM597.2 63.8L593.8 62.7 598.9 62 602.4 63.1ZM583.6 64.1L580.3 62.9 585.4 62.3 588.7 63.4ZM588.7 63.4L585.4 62.3 590.5 61.6 593.8 62.7ZM575.2 63.6L571.9 62.3 577 61.7 580.3 62.9ZM566.8 62.9L563.5 61.6 568.6 61.1 571.9 62.3ZM553.3 62.7L550.1 61.3 555.2 60.8 558.4 62.2ZM545 61.8L541.9 60.3 546.9 59.9 550.1 61.3ZM536.8 60.8L533.6 59.2 538.7 58.9 541.9 60.3ZM528.5 59.6L525.4 58 530.5 57.7 533.6 59.2ZM520.3 58.4L517.2 56.8 522.3 56.5 525.4 58ZM512.1 57L509 55.3 514.1 55.1 517.2 56.8Z" fill="#32ed75" stroke="#32ed75" stroke-width="0.5"/>
<path d="M628.2 63.4L624.7 62.6 629.8 61.7 633.4 62.5ZM614.4 64.3L610.9 63.3 616 62.5 619.5 63.4ZM619.5 63.4L616 62.5 621.2 61.7 624.7 62.6ZM600.6 64.9L597.2 63.8 602.4 63.1 605.8 64.1ZM605.8 64.1L602.4 63.1 607.5 62.3 610.9 63.3ZM592.1 64.6L588.7 63.4 593.8 62.7 597.2 63.8ZM578.5 64.8L575.2 63.6 580.3 62.9 583.6 64.1ZM570.1 64.2L566.8 62.9 571.9 62.3 575.2 63.6ZM556.6 64.1L553.3 62.7 558.4 62.2 561.7 63.5ZM561.7 63.5L558.4 62.2 563.5 61.6 566.8 62.9ZM548.2 63.3L545 61.8 550.1 61.3 553.3 62.7ZM539.9 62.3L536.8 60.8 541.9 60.3 545 61.8ZM531.7 61.2L528.5 59.6 533.6 59.2 536.8 60.8ZM523.4 60L520.3 58.4 525.4 58 528.5 59.6ZM515.2 58.7L512.1 57 517.2 56.8 520.3 58.4ZM507 57.3L504 55.6 509 55.3 512.1 57Z" fill="#33ed69" stroke="#33ed69" stroke-width="0.5"/>
<path d="M623 64.3L619.5 63.4 624.7 62.6 628.2 63.4ZM609.2 65.1L605.8 64.1 610.9 63.3 614.4 64.3ZM595.5 65.7L592.1 64.6 597.2 63.8 600.6 64.9ZM581.8 66.1L578.5 64.8 583.6 64.1 587 65.3ZM587 65.3L583.6 64.1 588.7 63.4 592.1 64.6ZM573.4 65.5L570.1 64.2 575.2 63.6 578.5 64.8ZM564.9 64.9L561.7 63.5 566.8 62.9 570.1 64.2ZM551.4 64.7L548.2 63.3 553.3 62.7 556.6 64.1ZM543.1 63.8L539.9 62.3 545 61.8 548.2 63.3ZM534.8 62.8L531.7 61.2 536.8 60.8 539.9 62.3ZM526.6 61.6L523.4 60 528.5 59.6 531.7 61.2ZM518.3 60.4L515.2 58.7 520.3 58.4 523.4 60ZM510.1 59L507 57.3 512.1 57 515.2 58.7Z" fill="#34ed5e" stroke="#34ed5e" stroke-width="0.5"/>
<path d="M626.6 65.3L623 64.3 628.2 63.4 631.8 64.3ZM631.8 64.3L628.2 63.4 633.4 62.5 637 63.3ZM612.7 66.2L609.2 65.1 614.4 64.3 617.9 65.3ZM617.9 65.3L614.4 64.3 619.5 63.4 623 64.3ZM598.9 66.8L595.5 65.7 600.6 64.9 604.1 66ZM604.1 66L600.6 64.9 605.8 64.1 609.2 65.1ZM590.3 66.5L587 65.3 592.1 64.6 595.5 65.7ZM576.7 66.8L573.4 65.5 578.5 64.8 581.8 66.1ZM568.2 66.2L564.9 64.9 570.1 64.2 573.4 65.5ZM554.6 66.2L551.4 64.7 556.6 64.1 559.8 65.5ZM559.8 65.5L556.6 64.1 561.7 63.5 564.9 64.9ZM546.3 65.3L543.1 63.8 548.2 63.3 551.4 64.7ZM538 64.3L534.8 62.8 539.9 62.3 543.1 63.8ZM529.7 63.2L526.6 61.6 531.7 61.2 534.8 62.8ZM521.4 62L518.3 60.4 523.4 60 526.6 61.6ZM513.2 60.7L510.1 59 515.2 58.7 518.3 60.4ZM505 59.3L501.9 57.6 507 57.3 510.1 59ZM501.9 57.6L498.9 55.8 504 55.6 507 57.3Z" fill="#35ee53" stroke="#35ee53" stroke-width="0.5"/>
<path d="M635.3 65.2L631.8 64.3 637 63.3 640.5 64.1ZM621.4 66.2L617.9 65.3 623 64.3 626.6 65.3ZM607.5 67.1L604.1 66 609.2 65.1 612.7 66.2ZM593.7 67.7L590.3 66.5 595.5 65.7 598.9 66.8ZM580 68.1L576.7 66.8 581.8 66.1 585.1 67.3ZM585.1 67.3L581.8 66.1 587 65.3 590.3 66.5ZM571.5 67.6L568.2 66.2 573.4 65.5 576.7 66.8ZM563 66.9L559.8 65.5 564.9 64.9 568.2 66.2ZM549.5 66.8L546.3 65.3 551.4 64.7 554.6 66.2ZM541.1 65.9L538 64.3 543.1 63.8 546.3 65.3ZM532.8 64.8L529.7 63.2 534.8 62.8 538 64.3ZM524.5 63.7L521.4 62 526.6 61.6 529.7 63.2ZM516.3 62.5L513.2 60.7 518.3 60.4 521.4 62ZM508.1 61.1L505 59.3 510.1 59 513.2 60.7ZM496.8 57.8L493.8 56 498.9 55.8 501.9 57.6Z" fill="#36ee47" stroke="#36ee47" stroke-width="0.5"/>
<path d="M624.9 67.2L621.4 66.2 626.6 65.3 630.1 66.2ZM630.1 66.2L626.6 65.3 631.8 64.3 635.3 65.2ZM610.9 68.1L607.5 67.1 612.7 66.2 616.1 67.2ZM616.1 67.2L612.7 66.2 617.9 65.3 621.4 66.2ZM597.1 68.9L593.7 67.7 598.9 66.8 602.3 68ZM602.3 68L598.9 66.8 604.1 66 607.5 67.1ZM588.5 68.5L585.1 67.3 590.3 66.5 593.7 67.7ZM574.8 68.9L571.5 67.6 576.7 66.8 580 68.1ZM566.3 68.3L563 66.9 568.2 66.2 571.5 67.6ZM552.7 68.3L549.5 66.8 554.6 66.2 557.9 67.6ZM557.9 67.6L554.6 66.2 559.8 65.5 563 66.9ZM544.3 67.4L541.1 65.9 546.3 65.3 549.5 66.8ZM536 66.4L532.8 64.8 538 64.3 541.1 65.9ZM527.7 65.4L524.5 63.7 529.7 63.2 532.8 64.8ZM519.4 64.2L516.3 62.5 521.4 62 524.5 63.7ZM511.1 62.9L508.1 61.1 513.2 60.7 516.3 62.5ZM502.9 61.5L499.8 59.6 505 59.3 508.1 61.1ZM499.8 59.6L496.8 57.8 501.9 57.6 505 59.3ZM491.7 58.1L488.6 56.2 493.8 56 496.8 57.8Z" fill="#37ee3c" stroke="#37ee3c" stroke-width="0.5"/>
<path d="M633.7 67.1L630.1 66.2 635.3 65.2 638.9 66ZM638.9 66L635.3 65.2 640.5 64.1 644.2 64.9ZM619.6 68.2L616.1 67.2 621.4 66.2 624.9 67.2ZM605.7 69.1L602.3 68 607.5 67.1 610.9 68.1ZM591.8 69.8L588.5 68.5 593.7 67.7 597.1 68.9ZM578.1 70.2L574.8 68.9 580 68.1 583.3 69.4ZM583.3 69.4L580 68.1 585.1 67.3 588.5 68.5ZM569.6 69.7L566.3 68.3 571.5 67.6 574.8 68.9ZM555.9 69.8L552.7 68.3 557.9 67.6 561.1 69ZM561.1 69L557.9 67.6 563 66.9 566.3 68.3ZM547.5 69L544.3 67.4 549.5 66.8 552.7 68.3ZM539.1 68L536 66.4 541.1 65.9 544.3 67.4ZM530.8 67L527.7 65.4 532.8 64.8 536 66.4ZM522.5 65.9L519.4 64.2 524.5 63.7 527.7 65.4ZM514.2 64.6L511.1 62.9 516.3 62.5 519.4 64.2ZM505.9 63.3L502.9 61.5 508.1 61.1 511.1 62.9ZM497.7 61.8L494.7 60 499.8 59.6 502.9 61.5ZM494.7 60L491.7 58.1 496.8 57.8 499.8 59.6Z" fill="#43ee3b" stroke="#43ee3b" stroke-width="0.5"/>
<path d="M642.5 66.9L638.9 66 644.2 64.9 647.8 65.7ZM623.1 69.2L619.6 68.2 624.9 67.2 628.4 68.1ZM628.4 68.1L624.9 67.2 630.1 66.2 633.7 67.1ZM609.1 70.2L605.7 69.1 610.9 68.1 614.4 69.2ZM614.4 69.2L610.9 68.1 616.1 67.2 619.6 68.2ZM595.2 71L591.8 69.8 597.1 68.9 600.4 70ZM600.4 70L597.1 68.9 602.3 68 605.7 69.1ZM586.6 70.7L583.3 69.4 588.5 68.5 591.8 69.8ZM572.8 71.1L569.6 69.7 574.8 68.9 578.1 70.2ZM559.1 71.3L555.9 69.8 561.1 69 564.3 70.5ZM564.3 70.5L561.1 69 566.3 68.3 569.6 69.7ZM550.7 70.5L547.5 69 552.7 68.3 555.9 69.8ZM542.3 69.6L539.1 68 544.3 67.4 547.5 69ZM533.9 68.7L530.8 67 536 66.4 539.1 68ZM525.6 67.6L522.5 65.9 527.7 65.4 530.8 67ZM517.3 66.4L514.2 64.6 519.4 64.2 522.5 65.9ZM509 65.1L505.9 63.3 511.1 62.9 514.2 64.6ZM500.8 63.7L497.7 61.8 502.9 61.5 505.9 63.3Z" fill="#50ef3a" stroke="#50ef3a" stroke-width="0.5"/>
<path d="M631.9 69.1L628.4 68.1 633.7 67.1 637.2 68ZM637.2 68L633.7 67.1 638.9 66 642.5 66.9ZM617.8 70.2L614.4 69.2 619.6 68.2 623.1 69.2ZM603.8 71.2L600.4 70 605.7 69.1 609.1 70.2ZM589.9 71.9L586.6 70.7 591.8 69.8 595.2 71ZM576.1 72.4L572.8 71.1 578.1 70.2 581.4 71.6ZM581.4 71.6L578.1 70.2 583.3 69.4 586.6 70.7ZM567.6 71.9L564.3 70.5 569.6 69.7 572.8 71.1ZM553.9 72L550.7 70.5 555.9 69.8 559.1 71.3ZM545.4 71.2L542.3 69.6 547.5 69 550.7 70.5ZM537 70.3L533.9 68.7 539.1 68 542.3 69.6ZM528.7 69.3L525.6 67.6 530.8 67 533.9 68.7ZM520.4 68.2L517.3 66.4 522.5 65.9 525.6 67.6ZM512.1 66.9L509 65.1 514.2 64.6 517.3 66.4ZM503.8 65.6L500.8 63.7 505.9 63.3 509 65.1Z" fill="#5cef39" stroke="#5cef39" stroke-width="0.5"/>
<path d="M640.8 68.9L637.2 68 642.5 66.9 646.1 67.7ZM646.1 67.7L642.5 66.9 647.8 65.7 651.4 66.5ZM621.3 71.3L617.8 70.2 623.1 69.2 626.6 70.2ZM626.6 70.2L623.1 69.2 628.4 68.1 631.9 69.1ZM607.2 72.4L603.8 71.2 609.1 70.2 612.5 71.3ZM612.5 71.3L609.1 70.2 614.4 69.2 617.8 70.2ZM593.3 73.2L589.9 71.9 595.2 71 598.6 72.2ZM598.6 72.2L595.2 71 600.4 70 603.8 71.2ZM579.4 73.8L576.1 72.4 581.4 71.6 584.7 72.9ZM584.7 72.9L581.4 71.6 586.6 70.7 589.9 71.9ZM570.8 73.3L567.6 71.9 572.8 71.1 576.1 72.4ZM557.1 73.6L553.9 72 559.1 71.3 562.3 72.7ZM562.3 72.7L559.1 71.3 564.3 70.5 567.6 71.9ZM548.6 72.8L545.4 71.2 550.7 70.5 553.9 72ZM540.2 72L537 70.3 542.3 69.6 545.4 71.2ZM531.8 71L528.7 69.3 533.9 68.7 537 70.3ZM523.5 69.9L520.4 68.2 525.6 67.6 528.7 69.3ZM515.1 68.7L512.1 66.9 517.3 66.4 520.4 68.2ZM506.9 67.4L503.8 65.6 509 65.1 512.1 66.9Z" fill="#69ef38" stroke="#69ef38" stroke-width="0.5"/>
<path d="M649.7 68.5L646.1 67.7 651.4 66.5 655.1 67.3ZM630.1 71.2L626.6 70.2 631.9 69.1 635.5 70ZM635.5 70L631.9 69.1 637.2 68 640.8 68.9ZM610.7 73.5L607.2 72.4 612.5 71.3 616 72.4ZM616 72.4L612.5 71.3 617.8 70.2 621.3 71.3ZM596.6 74.4L593.3 73.2 598.6 72.2 601.9 73.4ZM601.9 73.4L598.6 72.2 603.8 71.2 607.2 72.4ZM582.7 75.2L579.4 73.8 584.7 72.9 588 74.2ZM588 74.2L584.7 72.9 589.9 71.9 593.3 73.2ZM574.1 74.8L570.8 73.3 576.1 72.4 579.4 73.8ZM560.3 75.1L557.1 73.6 562.3 72.7 565.6 74.2ZM565.6 74.2L562.3 72.7 567.6 71.9 570.8 73.3ZM551.8 74.4L548.6 72.8 553.9 72 557.1 73.6ZM543.3 73.6L540.2 72 545.4 71.2 548.6 72.8ZM529.7 73.4L526.6 71.7 531.8 71 534.9 72.7ZM534.9 72.7L531.8 71 537 70.3 540.2 72ZM521.3 72.3L518.2 70.5 523.5 69.9 526.6 71.7ZM526.6 71.7L523.5 69.9 528.7 69.3 531.8 71ZM513 71.1L509.9 69.3 515.1 68.7 518.2 70.5ZM518.2 70.5L515.1 68.7 520.4 68.2 523.5 69.9ZM509.9 69.3L506.9 67.4 512.1 66.9 515.1 68.7Z" fill="#75ef37" stroke="#75ef37" stroke-width="0.5"/>
<path d="M639 70.9L635.5 70 640.8 68.9 644.4 69.7ZM644.4 69.7L640.8 68.9 646.1 67.7 649.7 68.5ZM619.4 73.5L616 72.4 621.3 71.3 624.8 72.3ZM624.8 72.3L621.3 71.3 626.6 70.2 630.1 71.2ZM605.3 74.6L601.9 73.4 607.2 72.4 610.7 73.5ZM591.3 75.5L588 74.2 593.3 73.2 596.6 74.4ZM577.4 76.2L574.1 74.8 579.4 73.8 582.7 75.2ZM563.5 76.6L560.3 75.1 565.6 74.2 568.8 75.7ZM568.8 75.7L565.6 74.2 570.8 73.3 574.1 74.8ZM555 76L551.8 74.4 557.1 73.6 560.3 75.1ZM541.2 76.1L538.1 74.4 543.3 73.6 546.5 75.2ZM546.5 75.2L543.3 73.6 548.6 72.8 551.8 74.4ZM532.8 75.1L529.7 73.4 534.9 72.7 538.1 74.4ZM538.1 74.4L534.9 72.7 540.2 72 543.3 73.6ZM524.4 74.1L521.3 72.3 526.6 71.7 529.7 73.4ZM516 73L513 71.1 518.2 70.5 521.3 72.3Z" fill="#82f036" stroke="#82f036" stroke-width="0.5"/>
<path d="M648 70.6L644.4 69.7 649.7 68.5 653.4 69.3ZM653.4 69.3L649.7 68.5 655.1 67.3 658.7 68.1ZM628.3 73.4L624.8 72.3 630.1 71.2 633.7 72.2ZM633.7 72.2L630.1 71.2 635.5 70 639 70.9ZM608.7 75.8L605.3 74.6 610.7 73.5 614.1 74.6ZM614.1 74.6L610.7 73.5 616 72.4 619.4 73.5ZM594.6 76.8L591.3 75.5 596.6 74.4 600 75.7ZM600 75.7L596.6 74.4 601.9 73.4 605.3 74.6ZM580.6 77.6L577.4 76.2 582.7 75.2 586 76.5ZM586 76.5L582.7 75.2 588 74.2 591.3 75.5ZM566.7 78.1L563.5 76.6 568.8 75.7 572 77.2ZM572 77.2L568.8 75.7 574.1 74.8 577.4 76.2ZM558.2 77.6L555 76 560.3 75.1 563.5 76.6ZM544.4 77.7L541.2 76.1 546.5 75.2 549.7 76.9ZM549.7 76.9L546.5 75.2 551.8 74.4 555 76ZM535.9 76.9L532.8 75.1 538.1 74.4 541.2 76.1ZM527.5 75.9L524.4 74.1 529.7 73.4 532.8 75.1ZM519.1 74.8L516 73 521.3 72.3 524.4 74.1Z" fill="#8ef035" stroke="#8ef035" stroke-width="0.5"/>
<path d="M631.8 74.4L628.3 73.4 633.7 72.2 637.2 73.1ZM637.2 73.1L633.7 72.2 639 70.9 642.6 71.9ZM642.6 71.9L639 70.9 644.4 69.7 648 70.6ZM617.5 75.8L614.1 74.6 619.4 73.5 622.9 74.6ZM622.9 74.6L619.4 73.5 624.8 72.3 628.3 73.4ZM598 78.1L594.6 76.8 600 75.7 603.4 76.9ZM603.4 76.9L600 75.7 605.3 74.6 608.7 75.8ZM583.9 79L580.6 77.6 586 76.5 589.3 77.9ZM589.3 77.9L586 76.5 591.3 75.5 594.6 76.8ZM569.9 79.7L566.7 78.1 572 77.2 575.3 78.6ZM575.3 78.6L572 77.2 577.4 76.2 580.6 77.6ZM561.4 79.1L558.2 77.6 563.5 76.6 566.7 78.1ZM547.5 79.4L544.4 77.7 549.7 76.9 552.8 78.5ZM552.8 78.5L549.7 76.9 555 76 558.2 77.6ZM539 78.6L535.9 76.9 541.2 76.1 544.4 77.7ZM530.6 77.7L527.5 75.9 532.8 75.1 535.9 76.9ZM522.2 76.7L519.1 74.8 524.4 74.1 527.5 75.9Z" fill="#9bf034" stroke="#9bf034" stroke-width="0.5"/>
<path d="M621 76.9L617.5 75.8 622.9 74.6 626.4 75.6ZM626.4 75.6L622.9 74.6 628.3 73.4 631.8 74.4ZM601.3 79.4L598 78.1 603.4 76.9 606.8 78.2ZM606.8 78.2L603.4 76.9 608.7 75.8 612.1 77ZM612.1 77L608.7 75.8 614.1 74.6 617.5 75.8ZM587.2 80.4L583.9 79 589.3 77.9 592.6 79.2ZM592.6 79.2L589.3 77.9 594.6 76.8 598 78.1ZM573.2 81.2L569.9 79.7 575.3 78.6 578.6 80.1ZM578.6 80.1L575.3 78.6 580.6 77.6 583.9 79ZM559.2 81.7L556 80.1 561.4 79.1 564.6 80.7ZM564.6 80.7L561.4 79.1 566.7 78.1 569.9 79.7ZM550.7 81.1L547.5 79.4 552.8 78.5 556 80.1ZM556 80.1L552.8 78.5 558.2 77.6 561.4 79.1ZM542.2 80.3L539 78.6 544.4 77.7 547.5 79.4ZM528.3 80.4L525.3 78.5 530.6 77.7 533.7 79.5ZM533.7 79.5L530.6 77.7 535.9 76.9 539 78.6ZM525.3 78.5L522.2 76.7 527.5 75.9 530.6 77.7Z" fill="#a7f033" stroke="#a7f033" stroke-width="0.5"/>
<path d="M610.1 79.4L606.8 78.2 612.1 77 615.6 78.2ZM615.6 78.2L612.1 77 617.5 75.8 621 76.9ZM590.5 81.8L587.2 80.4 592.6 79.2 595.9 80.6ZM595.9 80.6L592.6 79.2 598 78.1 601.3 79.4ZM576.4 82.7L573.2 81.2 578.6 80.1 581.8 81.5ZM581.8 81.5L578.6 80.1 583.9 79 587.2 80.4ZM562.4 83.3L559.2 81.7 564.6 80.7 567.8 82.3ZM567.8 82.3L564.6 80.7 569.9 79.7 573.2 81.2ZM553.8 82.8L550.7 81.1 556 80.1 559.2 81.7ZM539.9 83L536.8 81.3 542.2 80.3 545.3 82.1ZM545.3 82.1L542.2 80.3 547.5 79.4 550.7 81.1ZM531.4 82.2L528.3 80.4 533.7 79.5 536.8 81.3ZM536.8 81.3L533.7 79.5 539 78.6 542.2 80.3Z" fill="#b4f132" stroke="#b4f132" stroke-width="0.5"/>
<path d="M593.8 83.2L590.5 81.8 595.9 80.6 599.3 81.9ZM599.3 81.9L595.9 80.6 601.3 79.4 604.7 80.7ZM604.7 80.7L601.3 79.4 606.8 78.2 610.1 79.4ZM579.7 84.2L576.4 82.7 581.8 81.5 585.1 83ZM585.1 83L581.8 81.5 587.2 80.4 590.5 81.8ZM565.6 85L562.4 83.3 567.8 82.3 571 83.8ZM571 83.8L567.8 82.3 573.2 81.2 576.4 82.7ZM557 84.4L553.8 82.8 559.2 81.7 562.4 83.3ZM543 84.8L539.9 83 545.3 82.1 548.4 83.8ZM548.4 83.8L545.3 82.1 550.7 81.1 553.8 82.8ZM534.5 84L531.4 82.2 536.8 81.3 539.9 83Z" fill="#c0f131" stroke="#c0f131" stroke-width="0.5"/>
<path d="M582.9 85.7L579.7 84.2 585.1 83 588.4 84.4ZM588.4 84.4L585.1 83 590.5 81.8 593.8 83.2ZM568.8 86.6L565.6 85 571 83.8 574.2 85.4ZM574.2 85.4L571 83.8 576.4 82.7 579.7 84.2ZM554.7 87.2L551.6 85.5 557 84.4 560.2 86.1ZM560.2 86.1L557 84.4 562.4 83.3 565.6 85ZM546.2 86.6L543 84.8 548.4 83.8 551.6 85.5ZM551.6 85.5L548.4 83.8 553.8 82.8 557 84.4ZM537.6 85.8L534.5 84 539.9 83 543 84.8Z" fill="#cdf130" stroke="#cdf130" stroke-width="0.5"/>
<path d="M572 88.2L568.8 86.6 574.2 85.4 577.5 86.9ZM577.5 86.9L574.2 85.4 579.7 84.2 582.9 85.7ZM557.9 88.9L554.7 87.2 560.2 86.1 563.4 87.7ZM563.4 87.7L560.2 86.1 565.6 85 568.8 86.6ZM543.8 89.5L540.7 87.7 546.2 86.6 549.3 88.4ZM549.3 88.4L546.2 86.6 551.6 85.5 554.7 87.2ZM540.7 87.7L537.6 85.8 543 84.8 546.2 86.6Z" fill="#d9f12f" stroke="#d9f12f" stroke-width="0.5"/>
<path d="M561.1 90.6L557.9 88.9 563.4 87.7 566.5 89.4ZM566.5 89.4L563.4 87.7 568.8 86.6 572 88.2ZM547 91.3L543.8 89.5 549.3 88.4 552.4 90.1ZM552.4 90.1L549.3 88.4 554.7 87.2 557.9 88.9Z" fill="#e6f22e" stroke="#e6f22e" stroke-width="0.5"/>
<path d="M550.1 93.1L547 91.3 552.4 90.1 555.6 91.9ZM555.6 91.9L552.4 90.1 557.9 88.9 561.1 90.6Z" fill="#f2f22d" stroke="#f2f22d" stroke-width="0.5"/>
<path d="M550.1 93.1L658.7 68.1M547 91.3L655.1 67.3M543.8 89.5L651.4 66.5M540.7 87.7L647.8 65.7M537.6 85.8L644.2 64.9M534.5 84L640.5 64.1M531.4 82.2L637 63.3M528.3 80.4L633.4 62.5M525.3 78.5L629.8 61.7M522.2 76.7L626.3 60.9M519.1 74.8L622.7 60M516 73L619.2 59.2M513 71.1L615.7 58.3M509.9 69.3L612.2 57.4M506.9 67.4L608.7 56.6M503.8 65.6L605.3 55.7M500.8 63.7L601.8 54.8M497.7 61.8L598.4 53.9M494.7 60L594.9 53M491.7 58.1L591.5 52.1M488.6 56.2L588.1 51.2M550.1 93.1L488.6 56.2M555.6 91.9L493.8 56M561.1 90.6L498.9 55.8M566.5 89.4L504 55.6M572 88.2L509 55.3M577.5 86.9L514.1 55.1M582.9 85.7L519.2 54.9M588.4 84.4L524.2 54.7M593.8 83.2L529.2 54.4M599.3 81.9L534.2 54.2M604.7 80.7L539.2 53.9M610.1 79.4L544.2 53.7M615.6 78.2L549.1 53.4M621 76.9L554 53.2M626.4 75.6L559 52.9M631.8 74.4L563.9 52.6M637.2 73.1L568.8 52.3M642.6 71.9L573.6 52.1M648 70.6L578.5 51.8M653.4 69.3L583.3 51.5M658.7 68.1L588.1 51.2" stroke="#000" stroke-opacity="0.25" stroke-width="0.5" fill="none"/>
<circle cx="571.2" cy="65.6" r="1.5" fill="#8e1515"/>
<text x="475.8" y="23.5" font-family='"Liberation Sans", sans-serif' font-size="6.3" font-weight="bold" letter-spacing="0.25" fill="#262626" text-anchor="middle" dominant-baseline="central">300</text>
<text x="476.5" y="37.1" font-family='"Liberation Sans", sans-serif' font-size="6.3" font-weight="bold" letter-spacing="0.25" fill="#262626" text-anchor="middle" dominant-baseline="central">250</text>
<text x="477.5" y="50.5" font-family='"Liberation Sans", sans-serif' font-size="6.3" font-weight="bold" letter-spacing="0.25" fill="#262626" text-anchor="middle" dominant-baseline="central">200</text>
<text x="478" y="63.6" font-family='"Liberation Sans", sans-serif' font-size="6.3" font-weight="bold" letter-spacing="0.25" fill="#262626" text-anchor="middle" dominant-baseline="central">150</text>
<text x="478.5" y="77" font-family='"Liberation Sans", sans-serif' font-size="6.3" font-weight="bold" letter-spacing="0.25" fill="#262626" text-anchor="middle" dominant-baseline="central">100</text>
<text x="460.6" y="59.4" font-family='"Liberation Serif", serif' font-size="9.5" textLength="82.4" lengthAdjust="spacingAndGlyphs" fill="#151515" stroke="#151515" stroke-width="0.2" text-anchor="middle" dominant-baseline="central" transform="rotate(-90 460.6 59.4)">Mean particle size (nm)</text>
<text x="486.8" y="99.1" font-family='"Liberation Sans", sans-serif' font-size="6.3" font-weight="bold" letter-spacing="0.25" fill="#262626" text-anchor="middle" dominant-baseline="central">90</text>
<text x="496.5" y="107.9" font-family='"Liberation Sans", sans-serif' font-size="6.3" font-weight="bold" letter-spacing="0.25" fill="#262626" text-anchor="middle" dominant-baseline="central">80</text>
<text x="506.2" y="116.4" font-family='"Liberation Sans", sans-serif' font-size="6.3" font-weight="bold" letter-spacing="0.25" fill="#262626" text-anchor="middle" dominant-baseline="central">70</text>
<text x="515.3" y="124.7" font-family='"Liberation Sans", sans-serif' font-size="6.3" font-weight="bold" letter-spacing="0.25" fill="#262626" text-anchor="middle" dominant-baseline="central">60</text>
<text x="524.7" y="133" font-family='"Liberation Sans", sans-serif' font-size="6.3" font-weight="bold" letter-spacing="0.25" fill="#262626" text-anchor="middle" dominant-baseline="central">50</text>
<text x="534.4" y="141.5" font-family='"Liberation Sans", sans-serif' font-size="6.3" font-weight="bold" letter-spacing="0.25" fill="#262626" text-anchor="middle" dominant-baseline="central">40</text>
<text x="544.1" y="149.9" font-family='"Liberation Sans", sans-serif' font-size="6.3" font-weight="bold" letter-spacing="0.25" fill="#262626" text-anchor="middle" dominant-baseline="central">30</text>
<text x="657.6" y="116.7" font-family='"Liberation Sans", sans-serif' font-size="6.3" font-weight="bold" letter-spacing="0.25" fill="#262626" text-anchor="middle" dominant-baseline="central">4</text>
<text x="640" y="123.5" font-family='"Liberation Sans", sans-serif' font-size="6.3" font-weight="bold" letter-spacing="0.25" fill="#262626" text-anchor="middle" dominant-baseline="central">3.5</text>
<text x="617" y="130" font-family='"Liberation Sans", sans-serif' font-size="6.3" font-weight="bold" letter-spacing="0.25" fill="#262626" text-anchor="middle" dominant-baseline="central">3</text>
<text x="599.4" y="137.1" font-family='"Liberation Sans", sans-serif' font-size="6.3" font-weight="bold" letter-spacing="0.25" fill="#262626" text-anchor="middle" dominant-baseline="central">2.5</text>
<text x="577" y="143.2" font-family='"Liberation Sans", sans-serif' font-size="6.3" font-weight="bold" letter-spacing="0.25" fill="#262626" text-anchor="middle" dominant-baseline="central">2</text>
<text x="559.1" y="150.3" font-family='"Liberation Sans", sans-serif' font-size="6.3" font-weight="bold" letter-spacing="0.25" fill="#262626" text-anchor="middle" dominant-baseline="central">1.5</text>
<text x="491.9" y="132.7" font-family='"Liberation Serif", serif' font-size="8.5" textLength="45" lengthAdjust="spacingAndGlyphs" fill="#151515" stroke="#151515" stroke-width="0.2" text-anchor="middle" dominant-baseline="central">C: Sonication</text>
<text x="492.2" y="142.9" font-family='"Liberation Serif", serif' font-size="8.5" textLength="35.2" lengthAdjust="spacingAndGlyphs" fill="#151515" stroke="#151515" stroke-width="0.2" text-anchor="middle" dominant-baseline="central">Time (sec)</text>
<text x="621.9" y="150.5" font-family='"Liberation Serif", serif' font-size="8.5" textLength="44.1" lengthAdjust="spacingAndGlyphs" fill="#151515" stroke="#151515" stroke-width="0.2" text-anchor="middle" dominant-baseline="central">B: Surfactant</text>
<text x="622.5" y="161.2" font-family='"Liberation Serif", serif' font-size="8.5" textLength="72.9" lengthAdjust="spacingAndGlyphs" fill="#151515" stroke="#151515" stroke-width="0.2" text-anchor="middle" dominant-baseline="central">concentration (%w/v)</text>
<text x="570" y="161.2" font-family='"Liberation Serif", serif' font-size="14" font-weight="bold" fill="#111" text-anchor="middle" dominant-baseline="central">C</text>
<path d="M40.2 274.4L32.6 194.1M56.4 248.1L52 189.3M74.6 242.4L71.3 184.4M92.8 236.7L90.7 179.6M110.9 231L110 174.7M129 244.4L129.4 169.9M38.3 253.8L129.1 225.4M37.1 241.9L129.2 214.3M36 230L129.2 203.2M34.9 218.1L129.3 192.2M33.7 206.2L129.3 181.1M32.6 194.3L129.4 170.1M207.9 280L215.9 199.4M189.7 250.9L194.3 192M169.5 242.4L172.7 184.7M149.3 233.9L151 177.3M129 244.4L129.4 169.9M209.9 259.4L129.1 225.4M211.1 247.4L129.2 214.3M212.3 235.5L129.2 203.2M213.5 223.5L129.3 192.2M214.7 211.5L129.3 181.1M215.9 199.6L129.4 170.1" stroke="#5c5c5c" stroke-width="0.9" fill="none"/>
<polygon points="40.2,274.4 116,318 207.9,280 129,244.4" fill="#626262"/>
<clipPath id="fcD"><polygon points="40.2,274.4 116,318 207.9,280 129,244.4"/></clipPath>
<g clip-path="url(#fcD)"><path d="M57.9 269.2C58.8 269.8 62.2 271.1 63.5 272.5C64.8 273.9 65.6 275.9 65.5 277.5C65.4 279.1 64 280.8 63 282C62 283.2 59.9 284.5 59.3 285" stroke="#2ab982" stroke-width="1.4" fill="none"/><path d="M108 274C107 274.8 102.7 276.4 102 278.5C101.3 280.6 102.6 284.4 103.9 286.4C105.2 288.4 106.8 288.2 110 290.6C113.2 293 118.4 297.9 123 300.8C127.6 303.7 135.2 307 137.6 308.2" stroke="#2ab982" stroke-width="1.4" fill="none"/><path d="M108 312.5L117.7 316.3" stroke="#2ab0aa" stroke-width="1.4" fill="none"/><path d="M166 261.5C163.7 262.9 155.2 266.6 152 270C148.8 273.4 147.3 278.5 146.8 282.2C146.3 285.9 147.5 288.9 149 292C150.5 295.1 154.8 299.2 156 300.6" stroke="#48c83e" stroke-width="1.4" fill="none"/><path d="M179.7 267.6C178.6 268.8 174.4 272.6 173 275C171.6 277.4 171.2 279.1 171.3 282.2C171.4 285.3 173.2 291.8 173.6 293.7" stroke="#a0cc32" stroke-width="1.4" fill="none"/><path d="M193.5 273.8C193 274.9 190.9 278.5 190.5 280.7C190.1 282.9 190.8 285.8 190.9 286.8" stroke="#d0d032" stroke-width="1.4" fill="none"/></g>
<path d="M40.2 274.4L116 318L207.9 280" stroke="#333" stroke-width="0.8" fill="none"/>
<path d="M38.3 253.8h-1.8M37.1 241.9h-1.8M36 230h-1.8M34.9 218.1h-1.8M33.7 206.2h-1.8M32.6 194.3h-1.8M97 307.1l-0.9 1.6M78.1 296.2l-0.9 1.6M59.2 285.3l-0.9 1.6M134.4 310.4l0.9 1.6M152.8 302.8l0.9 1.6M171.1 295.2l0.9 1.6M189.5 287.6l0.9 1.6" stroke="#222" stroke-width="1" fill="none"/>
<path d="M124 215.1L119.9 214.7 124.6 213.8 128.7 214.2ZM128.7 214.2L124.6 213.8 129.2 213 133.3 213.2Z" fill="#2ad2ea" stroke="#2ad2ea" stroke-width="0.5"/>
<path d="M132.8 214.5L128.7 214.2 133.3 213.2 137.4 213.4ZM119.4 216.1L115.3 215.6 119.9 214.7 124 215.1Z" fill="#29dae9" stroke="#29dae9" stroke-width="0.5"/>
<path d="M123.5 216.6L119.4 216.1 124 215.1 128.1 215.5ZM128.1 215.5L124 215.1 128.7 214.2 132.8 214.5ZM110.1 218L106.1 217.3 110.7 216.4 114.8 217ZM114.8 217L110.7 216.4 115.3 215.6 119.4 216.1Z" fill="#29e3e7" stroke="#29e3e7" stroke-width="0.5"/>
<path d="M127.6 217.1L123.5 216.6 128.1 215.5 132.3 216ZM132.3 216L128.1 215.5 132.8 214.5 136.9 214.8ZM136.9 214.8L132.8 214.5 137.4 213.4 141.6 213.6ZM114.2 218.7L110.1 218 114.8 217 118.9 217.7ZM118.9 217.7L114.8 217 119.4 216.1 123.5 216.6ZM105.5 218.9L101.4 218.1 106.1 217.3 110.1 218Z" fill="#28ebe6" stroke="#28ebe6" stroke-width="0.5"/>
<path d="M115.7 276.3L111.8 273.9 116.6 270.9 120.5 273.1ZM136.4 216.3L132.3 216 136.9 214.8 141.1 215.1ZM141.1 215.1L136.9 214.8 141.6 213.6 145.7 213.8ZM118.3 219.4L114.2 218.7 118.9 217.7 122.9 218.3ZM122.9 218.3L118.9 217.7 123.5 216.6 127.6 217.1ZM104.9 220.8L100.8 219.9 105.5 218.9 109.5 219.8ZM109.5 219.8L105.5 218.9 110.1 218 114.2 218.7ZM96.2 220.8L92.1 219.8 96.8 218.9 100.8 219.9ZM100.8 219.9L96.8 218.9 101.4 218.1 105.5 218.9Z" fill="#29ebdb" stroke="#29ebdb" stroke-width="0.5"/>
<path d="M111.8 273.9L107.8 271.5 112.6 268.6 116.6 270.9ZM107.8 271.5L103.8 269.2 108.6 266.4 112.6 268.6ZM145.2 215.4L141.1 215.1 145.7 213.8 149.9 214ZM122.4 220.1L118.3 219.4 122.9 218.3 127 218.9ZM127 218.9L122.9 218.3 127.6 217.1 131.7 217.6ZM131.7 217.6L127.6 217.1 132.3 216 136.4 216.3ZM108.9 221.7L104.9 220.8 109.5 219.8 113.6 220.6ZM113.6 220.6L109.5 219.8 114.2 218.7 118.3 219.4ZM95.6 222.9L91.5 221.7 96.2 220.8 100.2 221.8ZM100.2 221.8L96.2 220.8 100.8 219.9 104.9 220.8ZM86.9 222.7L82.8 221.4 87.5 220.6 91.5 221.7ZM91.5 221.7L87.5 220.6 92.1 219.8 96.2 220.8Z" fill="#2aebcf" stroke="#2aebcf" stroke-width="0.5"/>
<path d="M120.5 273.1L116.6 270.9 121.4 267.9 125.4 270ZM116.6 270.9L112.6 268.6 117.4 265.8 121.4 267.9ZM112.6 268.6L108.6 266.4 113.4 263.6 117.4 265.8ZM103.8 269.2L99.9 266.8 104.6 264.2 108.6 266.4ZM108.6 266.4L104.6 264.2 109.4 261.5 113.4 263.6ZM99.9 266.8L95.9 264.5 100.6 261.9 104.6 264.2ZM95.9 264.5L91.9 262.1 96.7 259.7 100.6 261.9ZM126.5 220.8L122.4 220.1 127 218.9 131.2 219.4ZM131.2 219.4L127 218.9 131.7 217.6 135.9 218.1ZM135.9 218.1L131.7 217.6 136.4 216.3 140.5 216.7ZM140.5 216.7L136.4 216.3 141.1 215.1 145.2 215.4ZM108.3 223.9L104.3 222.9 108.9 221.7 113 222.6ZM113 222.6L108.9 221.7 113.6 220.6 117.7 221.4ZM117.7 221.4L113.6 220.6 118.3 219.4 122.4 220.1ZM94.9 225.1L90.9 223.9 95.6 222.9 99.6 224ZM99.6 224L95.6 222.9 100.2 221.8 104.3 222.9ZM104.3 222.9L100.2 221.8 104.9 220.8 108.9 221.7ZM86.2 224.9L82.2 223.6 86.9 222.7 90.9 223.9ZM90.9 223.9L86.9 222.7 91.5 221.7 95.6 222.9ZM82.2 223.6L78.2 222.3 82.8 221.4 86.9 222.7Z" fill="#2becc4" stroke="#2becc4" stroke-width="0.5"/>
<path d="M125.4 270L121.4 267.9 126.2 264.9 130.2 266.9ZM121.4 267.9L117.4 265.8 122.2 262.9 126.2 264.9ZM117.4 265.8L113.4 263.6 118.2 260.9 122.2 262.9ZM113.4 263.6L109.4 261.5 114.2 258.9 118.2 260.9ZM104.6 264.2L100.6 261.9 105.4 259.4 109.4 261.5ZM109.4 261.5L105.4 259.4 110.2 256.9 114.2 258.9ZM100.6 261.9L96.7 259.7 101.4 257.3 105.4 259.4ZM91.9 262.1L87.9 259.8 92.7 257.5 96.7 259.7ZM96.7 259.7L92.7 257.5 97.4 255.2 101.4 257.3ZM87.9 259.8L84 257.4 88.7 255.3 92.7 257.5ZM84 257.4L80 255.1 84.7 253 88.7 255.3ZM130.6 221.5L126.5 220.8 131.2 219.4 135.3 220ZM135.3 220L131.2 219.4 135.9 218.1 140 218.6ZM140 218.6L135.9 218.1 140.5 216.7 144.7 217.1ZM144.7 217.1L140.5 216.7 145.2 215.4 149.4 215.6ZM149.4 215.6L145.2 215.4 149.9 214 154.1 214.2ZM107.7 226.2L103.6 225.1 108.3 223.9 112.4 224.9ZM112.4 224.9L108.3 223.9 113 222.6 117.1 223.5ZM117.1 223.5L113 222.6 117.7 221.4 121.8 222.2ZM121.8 222.2L117.7 221.4 122.4 220.1 126.5 220.8ZM94.3 227.6L90.2 226.3 94.9 225.1 99 226.4ZM99 226.4L94.9 225.1 99.6 224 103.6 225.1ZM103.6 225.1L99.6 224 104.3 222.9 108.3 223.9ZM85.6 227.4L81.5 226 86.2 224.9 90.2 226.3ZM90.2 226.3L86.2 224.9 90.9 223.9 94.9 225.1ZM76.9 227L72.8 225.5 77.5 224.5 81.5 226ZM81.5 226L77.5 224.5 82.2 223.6 86.2 224.9ZM72.8 225.5L68.8 223.9 73.5 223.1 77.5 224.5ZM77.5 224.5L73.5 223.1 78.2 222.3 82.2 223.6Z" fill="#2cecb9" stroke="#2cecb9" stroke-width="0.5"/>
<path d="M130.2 266.9L126.2 264.9 131 261.9 135 263.7ZM126.2 264.9L122.2 262.9 127 260 131 261.9ZM122.2 262.9L118.2 260.9 123 258.1 127 260ZM118.2 260.9L114.2 258.9 119 256.3 123 258.1ZM114.2 258.9L110.2 256.9 114.9 254.4 119 256.3ZM105.4 259.4L101.4 257.3 106.2 254.9 110.2 256.9ZM110.2 256.9L106.2 254.9 110.9 252.5 114.9 254.4ZM101.4 257.3L97.4 255.2 102.2 252.9 106.2 254.9ZM106.2 254.9L102.2 252.9 106.9 250.7 110.9 252.5ZM92.7 257.5L88.7 255.3 93.4 253.1 97.4 255.2ZM97.4 255.2L93.4 253.1 98.2 251 102.2 252.9ZM88.7 255.3L84.7 253 89.4 251 93.4 253.1ZM93.4 253.1L89.4 251 94.2 249 98.2 251ZM80 255.1L76 252.8 80.7 250.8 84.7 253ZM84.7 253L80.7 250.8 85.4 248.9 89.4 251ZM89.4 251L85.4 248.9 90.1 247 94.2 249ZM76 252.8L72 250.4 76.7 248.6 80.7 250.8ZM80.7 250.8L76.7 248.6 81.4 246.8 85.4 248.9ZM72 250.4L68 248.1 72.7 246.4 76.7 248.6ZM130 223.7L125.9 223 130.6 221.5 134.7 222.2ZM134.7 222.2L130.6 221.5 135.3 220 139.4 220.6ZM139.4 220.6L135.3 220 140 218.6 144.1 219ZM144.1 219L140 218.6 144.7 217.1 148.9 217.5ZM148.9 217.5L144.7 217.1 149.4 215.6 153.6 215.9ZM153.6 215.9L149.4 215.6 154.1 214.2 158.3 214.3ZM97.6 231.7L93.6 230.3 98.3 228.9 102.4 230.3ZM102.4 230.3L98.3 228.9 103 227.6 107.1 228.8ZM107.1 228.8L103 227.6 107.7 226.2 111.8 227.3ZM111.8 227.3L107.7 226.2 112.4 224.9 116.5 225.9ZM116.5 225.9L112.4 224.9 117.1 223.5 121.2 224.4ZM121.2 224.4L117.1 223.5 121.8 222.2 125.9 223ZM125.9 223L121.8 222.2 126.5 220.8 130.6 221.5ZM88.9 231.6L84.9 230.1 89.6 228.9 93.6 230.3ZM93.6 230.3L89.6 228.9 94.3 227.6 98.3 228.9ZM98.3 228.9L94.3 227.6 99 226.4 103 227.6ZM103 227.6L99 226.4 103.6 225.1 107.7 226.2ZM80.2 231.3L76.2 229.7 80.9 228.6 84.9 230.1ZM84.9 230.1L80.9 228.6 85.6 227.4 89.6 228.9ZM89.6 228.9L85.6 227.4 90.2 226.3 94.3 227.6ZM76.2 229.7L72.2 228 76.9 227 80.9 228.6ZM80.9 228.6L76.9 227 81.5 226 85.6 227.4ZM72.2 228L68.2 226.4 72.8 225.5 76.9 227ZM63.5 227.3L59.5 225.5 64.1 224.7 68.2 226.4ZM68.2 226.4L64.1 224.7 68.8 223.9 72.8 225.5Z" fill="#2decad" stroke="#2decad" stroke-width="0.5"/>
<path d="M135 263.7L131 261.9 135.8 258.9 139.9 260.6ZM131 261.9L127 260 131.8 257.2 135.8 258.9ZM127 260L123 258.1 127.8 255.4 131.8 257.2ZM123 258.1L119 256.3 123.7 253.7 127.8 255.4ZM119 256.3L114.9 254.4 119.7 251.9 123.7 253.7ZM114.9 254.4L110.9 252.5 115.7 250.2 119.7 251.9ZM110.9 252.5L106.9 250.7 111.7 248.4 115.7 250.2ZM102.2 252.9L98.2 251 102.9 248.8 106.9 250.7ZM106.9 250.7L102.9 248.8 107.6 246.7 111.7 248.4ZM98.2 251L94.2 249 98.9 246.9 102.9 248.8ZM102.9 248.8L98.9 246.9 103.6 244.9 107.6 246.7ZM107.6 246.7L103.6 244.9 108.4 242.9 112.4 244.5ZM94.2 249L90.1 247 94.9 245.1 98.9 246.9ZM98.9 246.9L94.9 245.1 99.6 243.1 103.6 244.9ZM103.6 244.9L99.6 243.1 104.3 241.2 108.4 242.9ZM85.4 248.9L81.4 246.8 86.1 245 90.1 247ZM90.1 247L86.1 245 90.9 243.2 94.9 245.1ZM94.9 245.1L90.9 243.2 95.6 241.4 99.6 243.1ZM99.6 243.1L95.6 241.4 100.3 239.6 104.3 241.2ZM104.3 241.2L100.3 239.6 105 237.8 109.1 239.3ZM76.7 248.6L72.7 246.4 77.4 244.7 81.4 246.8ZM81.4 246.8L77.4 244.7 82.1 243 86.1 245ZM86.1 245L82.1 243 86.8 241.3 90.9 243.2ZM90.9 243.2L86.8 241.3 91.6 239.6 95.6 241.4ZM95.6 241.4L91.6 239.6 96.3 237.9 100.3 239.6ZM100.3 239.6L96.3 237.9 101 236.3 105 237.8ZM105 237.8L101 236.3 105.7 234.6 109.8 236ZM68 248.1L64 245.8 68.7 244.2 72.7 246.4ZM72.7 246.4L68.7 244.2 73.4 242.6 77.4 244.7ZM77.4 244.7L73.4 242.6 78.1 241 82.1 243ZM82.1 243L78.1 241 82.8 239.4 86.8 241.3ZM86.8 241.3L82.8 239.4 87.5 237.9 91.6 239.6ZM91.6 239.6L87.5 237.9 92.3 236.3 96.3 237.9ZM96.3 237.9L92.3 236.3 97 234.7 101 236.3ZM101 236.3L97 234.7 101.7 233.2 105.7 234.6ZM105.7 234.6L101.7 233.2 106.4 231.6 110.4 232.9ZM110.4 232.9L106.4 231.6 111.1 230 115.2 231.2ZM115.2 231.2L111.1 230 115.8 228.4 119.9 229.5ZM119.9 229.5L115.8 228.4 120.5 226.9 124.6 227.9ZM124.6 227.9L120.5 226.9 125.3 225.3 129.4 226.2ZM129.4 226.2L125.3 225.3 130 223.7 134.1 224.5ZM134.1 224.5L130 223.7 134.7 222.2 138.8 222.8ZM138.8 222.8L134.7 222.2 139.4 220.6 143.6 221.2ZM143.6 221.2L139.4 220.6 144.1 219 148.3 219.5ZM64 245.8L60 243.4 64.7 242 68.7 244.2ZM68.7 244.2L64.7 242 69.4 240.5 73.4 242.6ZM73.4 242.6L69.4 240.5 74.1 239 78.1 241ZM78.1 241L74.1 239 78.8 237.6 82.8 239.4ZM82.8 239.4L78.8 237.6 83.5 236.1 87.5 237.9ZM87.5 237.9L83.5 236.1 88.2 234.6 92.3 236.3ZM92.3 236.3L88.2 234.6 92.9 233.2 97 234.7ZM97 234.7L92.9 233.2 97.6 231.7 101.7 233.2ZM101.7 233.2L97.6 231.7 102.4 230.3 106.4 231.6ZM106.4 231.6L102.4 230.3 107.1 228.8 111.1 230ZM111.1 230L107.1 228.8 111.8 227.3 115.8 228.4ZM115.8 228.4L111.8 227.3 116.5 225.9 120.5 226.9ZM120.5 226.9L116.5 225.9 121.2 224.4 125.3 225.3ZM125.3 225.3L121.2 224.4 125.9 223 130 223.7ZM64.7 242L60.7 239.7 65.4 238.4 69.4 240.5ZM69.4 240.5L65.4 238.4 70.1 237.1 74.1 239ZM74.1 239L70.1 237.1 74.8 235.7 78.8 237.6ZM78.8 237.6L74.8 235.7 79.5 234.3 83.5 236.1ZM83.5 236.1L79.5 234.3 84.2 233 88.2 234.6ZM88.2 234.6L84.2 233 88.9 231.6 92.9 233.2ZM92.9 233.2L88.9 231.6 93.6 230.3 97.6 231.7ZM70.1 237.1L66.1 235.1 70.8 233.8 74.8 235.7ZM74.8 235.7L70.8 233.8 75.5 232.6 79.5 234.3ZM79.5 234.3L75.5 232.6 80.2 231.3 84.2 233ZM84.2 233L80.2 231.3 84.9 230.1 88.9 231.6ZM66.1 235.1L62.1 233.1 66.8 232 70.8 233.8ZM70.8 233.8L66.8 232 71.5 230.8 75.5 232.6ZM75.5 232.6L71.5 230.8 76.2 229.7 80.2 231.3ZM62.1 233.1L58.1 231.1 62.8 230.1 66.8 232ZM66.8 232L62.8 230.1 67.5 229.1 71.5 230.8ZM71.5 230.8L67.5 229.1 72.2 228 76.2 229.7ZM62.8 230.1L58.8 228.2 63.5 227.3 67.5 229.1ZM67.5 229.1L63.5 227.3 68.2 226.4 72.2 228ZM58.8 228.2L54.8 226.3 59.5 225.5 63.5 227.3Z" fill="#2eeca2" stroke="#2eeca2" stroke-width="0.5"/>
<path d="M139.9 260.6L135.8 258.9 140.7 255.9 144.7 257.5ZM135.8 258.9L131.8 257.2 136.6 254.3 140.7 255.9ZM131.8 257.2L127.8 255.4 132.6 252.7 136.6 254.3ZM127.8 255.4L123.7 253.7 128.6 251 132.6 252.7ZM123.7 253.7L119.7 251.9 124.5 249.4 128.6 251ZM119.7 251.9L115.7 250.2 120.5 247.8 124.5 249.4ZM124.5 249.4L120.5 247.8 125.3 245.4 129.3 246.9ZM115.7 250.2L111.7 248.4 116.4 246.1 120.5 247.8ZM120.5 247.8L116.4 246.1 121.2 243.9 125.3 245.4ZM111.7 248.4L107.6 246.7 112.4 244.5 116.4 246.1ZM116.4 246.1L112.4 244.5 117.2 242.4 121.2 243.9ZM112.4 244.5L108.4 242.9 113.1 240.8 117.2 242.4ZM117.2 242.4L113.1 240.8 117.9 238.8 121.9 240.2ZM108.4 242.9L104.3 241.2 109.1 239.3 113.1 240.8ZM113.1 240.8L109.1 239.3 113.8 237.4 117.9 238.8ZM117.9 238.8L113.8 237.4 118.6 235.5 122.6 236.8ZM109.1 239.3L105 237.8 109.8 236 113.8 237.4ZM113.8 237.4L109.8 236 114.5 234.2 118.6 235.5ZM118.6 235.5L114.5 234.2 119.2 232.4 123.3 233.6ZM123.3 233.6L119.2 232.4 124 230.6 128.1 231.7ZM109.8 236L105.7 234.6 110.4 232.9 114.5 234.2ZM114.5 234.2L110.4 232.9 115.2 231.2 119.2 232.4ZM119.2 232.4L115.2 231.2 119.9 229.5 124 230.6ZM124 230.6L119.9 229.5 124.6 227.9 128.7 228.8ZM128.7 228.8L124.6 227.9 129.4 226.2 133.5 227.1ZM133.5 227.1L129.4 226.2 134.1 224.5 138.2 225.3ZM138.2 225.3L134.1 224.5 138.8 222.8 143 223.5ZM143 223.5L138.8 222.8 143.6 221.2 147.7 221.7ZM148.3 219.5L144.1 219 148.9 217.5 153 217.8ZM153 217.8L148.9 217.5 153.6 215.9 157.8 216.2ZM157.8 216.2L153.6 215.9 158.3 214.3 162.5 214.5ZM60 243.4L56 241.1 60.7 239.7 64.7 242ZM56 241.1L52 238.8 56.7 237.5 60.7 239.7ZM60.7 239.7L56.7 237.5 61.4 236.3 65.4 238.4ZM65.4 238.4L61.4 236.3 66.1 235.1 70.1 237.1ZM52 238.8L48 236.5 52.7 235.3 56.7 237.5ZM56.7 237.5L52.7 235.3 57.4 234.2 61.4 236.3ZM61.4 236.3L57.4 234.2 62.1 233.1 66.1 235.1ZM52.7 235.3L48.7 233.1 53.4 232.1 57.4 234.2ZM57.4 234.2L53.4 232.1 58.1 231.1 62.1 233.1ZM53.4 232.1L49.4 230 54.1 229.1 58.1 231.1ZM58.1 231.1L54.1 229.1 58.8 228.2 62.8 230.1ZM49.4 230L45.4 227.9 50.1 227.1 54.1 229.1ZM54.1 229.1L50.1 227.1 54.8 226.3 58.8 228.2Z" fill="#2fec97" stroke="#2fec97" stroke-width="0.5"/>
<path d="M144.7 257.5L140.7 255.9 145.5 253 149.6 254.5ZM140.7 255.9L136.6 254.3 141.5 251.5 145.5 253ZM136.6 254.3L132.6 252.7 137.4 250 141.5 251.5ZM132.6 252.7L128.6 251 133.4 248.4 137.4 250ZM128.6 251L124.5 249.4 129.3 246.9 133.4 248.4ZM133.4 248.4L129.3 246.9 134.1 244.4 138.2 245.8ZM129.3 246.9L125.3 245.4 130 243 134.1 244.4ZM125.3 245.4L121.2 243.9 126 241.6 130 243ZM130 243L126 241.6 130.8 239.4 134.8 240.7ZM121.2 243.9L117.2 242.4 121.9 240.2 126 241.6ZM126 241.6L121.9 240.2 126.7 238.1 130.8 239.4ZM121.9 240.2L117.9 238.8 122.6 236.8 126.7 238.1ZM126.7 238.1L122.6 236.8 127.4 234.8 131.5 236ZM131.5 236L127.4 234.8 132.2 232.8 136.3 233.9ZM122.6 236.8L118.6 235.5 123.3 233.6 127.4 234.8ZM127.4 234.8L123.3 233.6 128.1 231.7 132.2 232.8ZM132.2 232.8L128.1 231.7 132.8 229.8 136.9 230.8ZM128.1 231.7L124 230.6 128.7 228.8 132.8 229.8ZM132.8 229.8L128.7 228.8 133.5 227.1 137.6 227.9ZM137.6 227.9L133.5 227.1 138.2 225.3 142.3 226ZM142.3 226L138.2 225.3 143 223.5 147.1 224.1ZM147.1 224.1L143 223.5 147.7 221.7 151.9 222.3ZM147.7 221.7L143.6 221.2 148.3 219.5 152.5 219.9ZM152.5 219.9L148.3 219.5 153 217.8 157.2 218.2ZM157.2 218.2L153 217.8 157.8 216.2 162 216.4ZM162 216.4L157.8 216.2 162.5 214.5 166.8 214.6ZM48 236.5L44 234.1 48.7 233.1 52.7 235.3ZM44 234.1L40 231.8 44.7 230.9 48.7 233.1ZM48.7 233.1L44.7 230.9 49.4 230 53.4 232.1ZM40 231.8L36 229.5 40.7 228.7 44.7 230.9ZM44.7 230.9L40.7 228.7 45.4 227.9 49.4 230Z" fill="#30ed8b" stroke="#30ed8b" stroke-width="0.5"/>
<path d="M149.6 254.5L145.5 253 150.4 250 154.5 251.4ZM145.5 253L141.5 251.5 146.3 248.6 150.4 250ZM141.5 251.5L137.4 250 142.3 247.2 146.3 248.6ZM137.4 250L133.4 248.4 138.2 245.8 142.3 247.2ZM138.2 245.8L134.1 244.4 138.9 242 143 243.3ZM134.1 244.4L130 243 134.8 240.7 138.9 242ZM138.9 242L134.8 240.7 139.7 238.3 143.8 239.5ZM134.8 240.7L130.8 239.4 135.6 237.2 139.7 238.3ZM130.8 239.4L126.7 238.1 131.5 236 135.6 237.2ZM135.6 237.2L131.5 236 136.3 233.9 140.4 234.9ZM136.3 233.9L132.2 232.8 136.9 230.8 141 231.7ZM141 231.7L136.9 230.8 141.7 228.8 145.8 229.6ZM136.9 230.8L132.8 229.8 137.6 227.9 141.7 228.8ZM141.7 228.8L137.6 227.9 142.3 226 146.5 226.8ZM146.5 226.8L142.3 226 147.1 224.1 151.3 224.8ZM151.3 224.8L147.1 224.1 151.9 222.3 156.1 222.8ZM151.9 222.3L147.7 221.7 152.5 219.9 156.7 220.4ZM156.7 220.4L152.5 219.9 157.2 218.2 161.4 218.5ZM161.4 218.5L157.2 218.2 162 216.4 166.2 216.6ZM166.2 216.6L162 216.4 166.8 214.6 171 214.7Z" fill="#31ed80" stroke="#31ed80" stroke-width="0.5"/>
<path d="M150.4 250L146.3 248.6 151.2 245.8 155.3 247.1ZM146.3 248.6L142.3 247.2 147.1 244.5 151.2 245.8ZM142.3 247.2L138.2 245.8 143 243.3 147.1 244.5ZM147.1 244.5L143 243.3 147.9 240.7 152 241.8ZM143 243.3L138.9 242 143.8 239.5 147.9 240.7ZM143.8 239.5L139.7 238.3 144.5 236 148.6 237ZM139.7 238.3L135.6 237.2 140.4 234.9 144.5 236ZM144.5 236L140.4 234.9 145.2 232.7 149.3 233.6ZM140.4 234.9L136.3 233.9 141 231.7 145.2 232.7ZM145.2 232.7L141 231.7 145.8 229.6 150 230.5ZM145.8 229.6L141.7 228.8 146.5 226.8 150.6 227.5ZM150.6 227.5L146.5 226.8 151.3 224.8 155.4 225.4ZM156.1 222.8L151.9 222.3 156.7 220.4 160.9 220.8ZM160.9 220.8L156.7 220.4 161.4 218.5 165.7 218.8ZM165.7 218.8L161.4 218.5 166.2 216.6 170.5 216.8Z" fill="#32ed75" stroke="#32ed75" stroke-width="0.5"/>
<path d="M154.5 251.4L150.4 250 155.3 247.1 159.4 248.3ZM155.3 247.1L151.2 245.8 156.1 243 160.2 244.1ZM151.2 245.8L147.1 244.5 152 241.8 156.1 243ZM152 241.8L147.9 240.7 152.7 238.1 156.8 239.1ZM147.9 240.7L143.8 239.5 148.6 237 152.7 238.1ZM152.7 238.1L148.6 237 153.4 234.6 157.6 235.5ZM148.6 237L144.5 236 149.3 233.6 153.4 234.6ZM149.3 233.6L145.2 232.7 150 230.5 154.1 231.3ZM154.1 231.3L150 230.5 154.8 228.3 159 229ZM150 230.5L145.8 229.6 150.6 227.5 154.8 228.3ZM154.8 228.3L150.6 227.5 155.4 225.4 159.6 226ZM155.4 225.4L151.3 224.8 156.1 222.8 160.3 223.3ZM160.3 223.3L156.1 222.8 160.9 220.8 165.1 221.2ZM165.1 221.2L160.9 220.8 165.7 218.8 169.9 219.1ZM170.5 216.8L166.2 216.6 171 214.7 175.3 214.9Z" fill="#33ed69" stroke="#33ed69" stroke-width="0.5"/>
<path d="M159.4 248.3L155.3 247.1 160.2 244.1 164.3 245.3ZM160.2 244.1L156.1 243 161 240.2 165.1 241.2ZM156.1 243L152 241.8 156.8 239.1 161 240.2ZM156.8 239.1L152.7 238.1 157.6 235.5 161.7 236.5ZM157.6 235.5L153.4 234.6 158.3 232.1 162.4 233ZM153.4 234.6L149.3 233.6 154.1 231.3 158.3 232.1ZM158.3 232.1L154.1 231.3 159 229 163.1 229.7ZM159 229L154.8 228.3 159.6 226 163.8 226.7ZM159.6 226L155.4 225.4 160.3 223.3 164.5 223.8ZM164.5 223.8L160.3 223.3 165.1 221.2 169.3 221.6ZM169.9 219.1L165.7 218.8 170.5 216.8 174.7 217ZM174.7 217L170.5 216.8 175.3 214.9 179.6 215Z" fill="#34ed5e" stroke="#34ed5e" stroke-width="0.5"/>
<path d="M164.3 245.3L160.2 244.1 165.1 241.2 169.3 242.2ZM165.1 241.2L161 240.2 165.9 237.4 170.1 238.3ZM161 240.2L156.8 239.1 161.7 236.5 165.9 237.4ZM161.7 236.5L157.6 235.5 162.4 233 166.6 233.8ZM162.4 233L158.3 232.1 163.1 229.7 167.3 230.4ZM163.1 229.7L159 229 163.8 226.7 168 227.3ZM163.8 226.7L159.6 226 164.5 223.8 168.7 224.3ZM168.7 224.3L164.5 223.8 169.3 221.6 173.5 222ZM169.3 221.6L165.1 221.2 169.9 219.1 174.1 219.4ZM174.1 219.4L169.9 219.1 174.7 217 179 217.2Z" fill="#35ee53" stroke="#35ee53" stroke-width="0.5"/>
<path d="M169.3 242.2L165.1 241.2 170.1 238.3 174.2 239.2ZM170.1 238.3L165.9 237.4 170.8 234.6 175 235.4ZM165.9 237.4L161.7 236.5 166.6 233.8 170.8 234.6ZM166.6 233.8L162.4 233 167.3 230.4 171.5 231.1ZM167.3 230.4L163.1 229.7 168 227.3 172.2 227.9ZM168 227.3L163.8 226.7 168.7 224.3 172.9 224.8ZM172.9 224.8L168.7 224.3 173.5 222 177.8 222.4ZM173.5 222L169.3 221.6 174.1 219.4 178.4 219.7ZM178.4 219.7L174.1 219.4 179 217.2 183.3 217.4ZM179 217.2L174.7 217 179.6 215 183.9 215.1Z" fill="#36ee47" stroke="#36ee47" stroke-width="0.5"/>
<path d="M174.2 239.2L170.1 238.3 175 235.4 179.2 236.2ZM170.8 234.6L166.6 233.8 171.5 231.1 175.7 231.8ZM171.5 231.1L167.3 230.4 172.2 227.9 176.4 228.5ZM172.2 227.9L168 227.3 172.9 224.8 177.1 225.3ZM177.1 225.3L172.9 224.8 177.8 222.4 182 222.8ZM177.8 222.4L173.5 222 178.4 219.7 182.7 220ZM183.3 217.4L179 217.2 183.9 215.1 188.2 215.1Z" fill="#37ee3c" stroke="#37ee3c" stroke-width="0.5"/>
<path d="M179.2 236.2L175 235.4 179.9 232.5 184.2 233.2ZM175 235.4L170.8 234.6 175.7 231.8 179.9 232.5ZM175.7 231.8L171.5 231.1 176.4 228.5 180.7 229ZM176.4 228.5L172.2 227.9 177.1 225.3 181.4 225.8ZM181.4 225.8L177.1 225.3 182 222.8 186.3 223.2ZM182 222.8L177.8 222.4 182.7 220 187 220.3ZM182.7 220L178.4 219.7 183.3 217.4 187.6 217.6ZM187.6 217.6L183.3 217.4 188.2 215.1 192.5 215.2Z" fill="#43ee3b" stroke="#43ee3b" stroke-width="0.5"/>
<path d="M179.9 232.5L175.7 231.8 180.7 229 184.9 229.6ZM180.7 229L176.4 228.5 181.4 225.8 185.6 226.3ZM186.3 223.2L182 222.8 187 220.3 191.2 220.5ZM187 220.3L182.7 220 187.6 217.6 191.9 217.8Z" fill="#50ef3a" stroke="#50ef3a" stroke-width="0.5"/>
<path d="M184.2 233.2L179.9 232.5 184.9 229.6 189.2 230.2ZM184.9 229.6L180.7 229 185.6 226.3 189.9 226.7ZM185.6 226.3L181.4 225.8 186.3 223.2 190.6 223.5ZM191.2 220.5L187 220.3 191.9 217.8 196.2 217.9ZM191.9 217.8L187.6 217.6 192.5 215.2 196.8 215.3Z" fill="#5cef39" stroke="#5cef39" stroke-width="0.5"/>
<path d="M189.2 230.2L184.9 229.6 189.9 226.7 194.2 227.2ZM189.9 226.7L185.6 226.3 190.6 223.5 194.9 223.9ZM190.6 223.5L186.3 223.2 191.2 220.5 195.6 220.8ZM196.2 217.9L191.9 217.8 196.8 215.3 201.2 215.3Z" fill="#69ef38" stroke="#69ef38" stroke-width="0.5"/>
<path d="M194.2 227.2L189.9 226.7 194.9 223.9 199.2 224.2ZM194.9 223.9L190.6 223.5 195.6 220.8 199.9 221ZM195.6 220.8L191.2 220.5 196.2 217.9 200.5 218.1Z" fill="#75ef37" stroke="#75ef37" stroke-width="0.5"/>
<path d="M199.2 224.2L194.9 223.9 199.9 221 204.2 221.3ZM199.9 221L195.6 220.8 200.5 218.1 204.9 218.2ZM200.5 218.1L196.2 217.9 201.2 215.3 205.5 215.3Z" fill="#82f036" stroke="#82f036" stroke-width="0.5"/>
<path d="M204.2 221.3L199.9 221 204.9 218.2 209.3 218.3ZM204.9 218.2L200.5 218.1 205.5 215.3 209.9 215.3Z" fill="#8ef035" stroke="#8ef035" stroke-width="0.5"/>
<path d="M209.3 218.3L204.9 218.2 209.9 215.3 214.3 215.4Z" fill="#9bf034" stroke="#9bf034" stroke-width="0.5"/>
<path d="M115.7 276.3L214.3 215.4M111.8 273.9L209.9 215.3M107.8 271.5L205.5 215.3M103.8 269.2L201.2 215.3M99.9 266.8L196.8 215.3M95.9 264.5L192.5 215.2M91.9 262.1L188.2 215.1M87.9 259.8L183.9 215.1M84 257.4L179.6 215M80 255.1L175.3 214.9M76 252.8L171 214.7M72 250.4L166.8 214.6M68 248.1L162.5 214.5M64 245.8L158.3 214.3M60 243.4L154.1 214.2M56 241.1L149.9 214M52 238.8L145.7 213.8M48 236.5L141.6 213.6M44 234.1L137.4 213.4M40 231.8L133.3 213.2M36 229.5L129.2 213M115.7 276.3L36 229.5M120.5 273.1L40.7 228.7M125.4 270L45.4 227.9M130.2 266.9L50.1 227.1M135 263.7L54.8 226.3M139.9 260.6L59.5 225.5M144.7 257.5L64.1 224.7M149.6 254.5L68.8 223.9M154.5 251.4L73.5 223.1M159.4 248.3L78.2 222.3M164.3 245.3L82.8 221.4M169.3 242.2L87.5 220.6M174.2 239.2L92.1 219.8M179.2 236.2L96.8 218.9M184.2 233.2L101.4 218.1M189.2 230.2L106.1 217.3M194.2 227.2L110.7 216.4M199.2 224.2L115.3 215.6M204.2 221.3L119.9 214.7M209.3 218.3L124.6 213.8M214.3 215.4L129.2 213" stroke="#000" stroke-opacity="0.25" stroke-width="0.5" fill="none"/>
<circle cx="123.4" cy="229.7" r="1.5" fill="#8e1515"/>
<text x="24.4" y="191.2" font-family='"Liberation Sans", sans-serif' font-size="6.3" font-weight="bold" letter-spacing="0.25" fill="#262626" text-anchor="middle" dominant-baseline="central">0.6</text>
<text x="25.4" y="203.2" font-family='"Liberation Sans", sans-serif' font-size="6.3" font-weight="bold" letter-spacing="0.25" fill="#262626" text-anchor="middle" dominant-baseline="central">0.5</text>
<text x="26" y="215.5" font-family='"Liberation Sans", sans-serif' font-size="6.3" font-weight="bold" letter-spacing="0.25" fill="#262626" text-anchor="middle" dominant-baseline="central">0.4</text>
<text x="27" y="227.9" font-family='"Liberation Sans", sans-serif' font-size="6.3" font-weight="bold" letter-spacing="0.25" fill="#262626" text-anchor="middle" dominant-baseline="central">0.3</text>
<text x="27.5" y="240.2" font-family='"Liberation Sans", sans-serif' font-size="6.3" font-weight="bold" letter-spacing="0.25" fill="#262626" text-anchor="middle" dominant-baseline="central">0.2</text>
<text x="28" y="252" font-family='"Liberation Sans", sans-serif' font-size="6.3" font-weight="bold" letter-spacing="0.25" fill="#262626" text-anchor="middle" dominant-baseline="central">0.1</text>
<text x="12" y="224.3" font-family='"Liberation Serif", serif' font-size="9.6" font-weight="bold" textLength="14.4" lengthAdjust="spacingAndGlyphs" fill="#151515" text-anchor="middle" dominant-baseline="central" transform="rotate(-90 12 224.3)">PDI</text>
<text x="35.3" y="277.9" font-family='"Liberation Sans", sans-serif' font-size="6.3" font-weight="bold" letter-spacing="0.25" fill="#262626" text-anchor="middle" dominant-baseline="central">3</text>
<text x="51.2" y="288.9" font-family='"Liberation Sans", sans-serif' font-size="6.3" font-weight="bold" letter-spacing="0.25" fill="#262626" text-anchor="middle" dominant-baseline="central">2.5</text>
<text x="72.3" y="300" font-family='"Liberation Sans", sans-serif' font-size="6.3" font-weight="bold" letter-spacing="0.25" fill="#262626" text-anchor="middle" dominant-baseline="central">2</text>
<text x="88.7" y="310.5" font-family='"Liberation Sans", sans-serif' font-size="6.5" fill="#262626" text-anchor="middle" dominant-baseline="central">1.5</text>
<text x="110.3" y="321.2" font-family='"Liberation Sans", sans-serif' font-size="6.3" font-weight="bold" letter-spacing="0.25" fill="#262626" text-anchor="middle" dominant-baseline="central">1</text>
<text x="215.5" y="283.2" font-family='"Liberation Sans", sans-serif' font-size="6.3" font-weight="bold" letter-spacing="0.25" fill="#262626" text-anchor="middle" dominant-baseline="central">1.5</text>
<text x="194.3" y="291.2" font-family='"Liberation Sans", sans-serif' font-size="6.3" font-weight="bold" letter-spacing="0.25" fill="#262626" text-anchor="middle" dominant-baseline="central">2</text>
<text x="178.8" y="298.7" font-family='"Liberation Sans", sans-serif' font-size="6.3" font-weight="bold" letter-spacing="0.25" fill="#262626" text-anchor="middle" dominant-baseline="central">2.5</text>
<text x="157.6" y="306.5" font-family='"Liberation Sans", sans-serif' font-size="6.3" font-weight="bold" letter-spacing="0.25" fill="#262626" text-anchor="middle" dominant-baseline="central">3</text>
<text x="142.6" y="313.6" font-family='"Liberation Sans", sans-serif' font-size="6.3" font-weight="bold" letter-spacing="0.25" fill="#262626" text-anchor="middle" dominant-baseline="central">3.5</text>
<text x="122" y="321.2" font-family='"Liberation Sans", sans-serif' font-size="6.3" font-weight="bold" letter-spacing="0.25" fill="#262626" text-anchor="middle" dominant-baseline="central">4</text>
<text x="44.2" y="310.2" font-family='"Liberation Serif", serif' font-size="8.5" textLength="76.7" lengthAdjust="spacingAndGlyphs" fill="#151515" stroke="#151515" stroke-width="0.2" text-anchor="middle" dominant-baseline="central">A: Lipid concentration</text>
<text x="43.8" y="320.7" font-family='"Liberation Serif", serif' font-size="8.5" textLength="24.8" lengthAdjust="spacingAndGlyphs" fill="#151515" stroke="#151515" stroke-width="0.2" text-anchor="middle" dominant-baseline="central">(%w/v)</text>
<text x="196.6" y="314.9" font-family='"Liberation Serif", serif' font-size="8" textLength="39.5" lengthAdjust="spacingAndGlyphs" fill="#151515" stroke="#151515" stroke-width="0.2" text-anchor="middle" dominant-baseline="central">B: Surfactant</text>
<text x="196.7" y="325.8" font-family='"Liberation Serif", serif' font-size="8" textLength="65.4" lengthAdjust="spacingAndGlyphs" fill="#151515" stroke="#151515" stroke-width="0.2" text-anchor="middle" dominant-baseline="central">concentration (%w/v)</text>
<text x="116.4" y="331.2" font-family='"Liberation Serif", serif' font-size="14" font-weight="bold" fill="#111" text-anchor="middle" dominant-baseline="central">D</text>
<path d="M269.5 277.9L261.5 195.9M281 252.3L276 191.8M294.6 247.3L290.4 187.7M308.1 242.4L304.9 183.6M321.6 237.4L319.3 179.4M335.2 232.4L333.8 175.3M348.9 246.4L348.2 171.2M267.5 257.3L348.7 227.5M266.3 245L348.6 216.2M265.1 232.7L348.5 205M263.9 220.5L348.4 193.7M262.7 208.2L348.3 182.5M261.5 195.9L348.2 171.2M434.7 274.7L441.8 193.2M414.5 247.5L418.4 187.7M392.6 240.8L395 182.2M370.7 234.2L371.6 176.7M348.9 246.4L348.2 171.2M436.5 254.2L348.7 227.5M437.5 242L348.6 216.2M438.6 229.8L348.5 205M439.7 217.6L348.4 193.7M440.7 205.4L348.3 182.5M441.8 193.2L348.2 171.2" stroke="#5c5c5c" stroke-width="0.9" fill="none"/>
<polygon points="269.5,277.9 356.5,313.9 434.7,274.7 348.9,246.4" fill="#626262"/>
<clipPath id="fcE"><polygon points="269.5,277.9 356.5,313.9 434.7,274.7 348.9,246.4"/></clipPath>
<g clip-path="url(#fcE)"><path d="M284.1 272.6C285.9 273.4 292.1 275.6 295 277.5C297.9 279.4 299.7 281.6 301.5 284C303.3 286.4 305 290.7 305.7 292" stroke="#48c83e" stroke-width="1.4" fill="none"/><path d="M301.8 265.1C306.6 265.9 323.5 269 330.7 269.7C337.9 270.4 339.1 270 345 269.4C350.9 268.8 358.4 267.6 365.8 266C373.2 264.4 385.5 260.8 389.4 259.7" stroke="#2ab982" stroke-width="1.4" fill="none"/><path d="M318.2 258.5C319.8 258.6 324.6 258.7 328 258.9C331.4 259.1 336.8 259.4 338.6 259.5" stroke="#2ab0aa" stroke-width="1.4" fill="none"/><path d="M403.3 264.6C400.2 265.8 389.3 269.1 385 272C380.7 274.9 378.4 278.6 377.6 281.9C376.8 285.2 378.7 289.1 380 292C381.3 294.9 384.3 298 385.2 299.2" stroke="#48c83e" stroke-width="1.4" fill="none"/><path d="M418.5 270.1C417.6 270.8 414.1 273.2 413 274.5C411.9 275.8 412.1 275.6 411.6 277.7C411.1 279.8 410.4 285.3 410.2 286.8" stroke="#a0cc32" stroke-width="1.4" fill="none"/></g>
<path d="M269.5 277.9L356.5 313.9L434.7 274.7" stroke="#333" stroke-width="0.8" fill="none"/>
<path d="M267.5 257.3h-1.8M266.3 245h-1.8M265.1 232.7h-1.8M263.9 220.5h-1.8M262.7 208.2h-1.8M261.5 195.9h-1.8M334.8 304.9l-0.9 1.6M313 295.9l-0.9 1.6M291.2 286.9l-0.9 1.6M369.5 307.4l0.9 1.6M382.6 300.8l0.9 1.6M395.6 294.3l0.9 1.6M408.6 287.8l0.9 1.6M421.7 281.2l0.9 1.6" stroke="#222" stroke-width="1" fill="none"/>
<path d="M349 219.8L344.5 219.8 348.7 219.5 353.1 219.3Z" fill="#2cb9ee" stroke="#2cb9ee" stroke-width="0.5"/>
<path d="M353.4 219.8L349 219.8 353.1 219.3 357.5 219.2ZM344.8 220.2L340.4 220.1 344.5 219.8 349 219.8Z" fill="#2bc1ed" stroke="#2bc1ed" stroke-width="0.5"/>
<path d="M349.3 220.3L344.8 220.2 349 219.8 353.4 219.8ZM340.7 220.6L336.3 220.4 340.4 220.1 344.8 220.2Z" fill="#2bcaeb" stroke="#2bcaeb" stroke-width="0.5"/>
<path d="M353.7 220.4L349.3 220.3 353.4 219.8 357.9 219.7ZM357.9 219.7L353.4 219.8 357.5 219.2 362 219.1ZM345.2 220.8L340.7 220.6 344.8 220.2 349.3 220.3ZM336.6 221L332.1 220.7 336.3 220.4 340.7 220.6Z" fill="#2ad2ea" stroke="#2ad2ea" stroke-width="0.5"/>
<path d="M362.3 219.7L357.9 219.7 362 219.1 366.4 218.9ZM349.6 221L345.2 220.8 349.3 220.3 353.7 220.4ZM341 221.3L336.6 221 340.7 220.6 345.2 220.8ZM332.4 221.4L328 221 332.1 220.7 336.6 221Z" fill="#29dae9" stroke="#29dae9" stroke-width="0.5"/>
<path d="M358.2 220.4L353.7 220.4 357.9 219.7 362.3 219.7ZM345.5 221.6L341 221.3 345.2 220.8 349.6 221ZM336.9 221.8L332.4 221.4 336.6 221 341 221.3ZM328.2 221.8L323.8 221.3 328 221 332.4 221.4Z" fill="#29e3e7" stroke="#29e3e7" stroke-width="0.5"/>
<path d="M362.7 220.5L358.2 220.4 362.3 219.7 366.8 219.6ZM366.8 219.6L362.3 219.7 366.4 218.9 370.9 218.8ZM349.9 221.9L345.5 221.6 349.6 221 354.1 221.1ZM354.1 221.1L349.6 221 353.7 220.4 358.2 220.4ZM341.3 222.2L336.9 221.8 341 221.3 345.5 221.6ZM332.7 222.3L328.2 221.8 332.4 221.4 336.9 221.8ZM324.1 222.2L319.6 221.6 323.8 221.3 328.2 221.8Z" fill="#28ebe6" stroke="#28ebe6" stroke-width="0.5"/>
<path d="M371.3 219.6L366.8 219.6 370.9 218.8 375.4 218.6ZM358.6 221.3L354.1 221.1 358.2 220.4 362.7 220.5ZM345.8 222.6L341.3 222.2 345.5 221.6 349.9 221.9ZM337.2 222.8L332.7 222.3 336.9 221.8 341.3 222.2ZM328.5 222.8L324.1 222.2 328.2 221.8 332.7 222.3ZM319.9 222.6L315.4 221.8 319.6 221.6 324.1 222.2Z" fill="#29ebdb" stroke="#29ebdb" stroke-width="0.5"/>
<path d="M363.1 221.4L358.6 221.3 362.7 220.5 367.2 220.5ZM367.2 220.5L362.7 220.5 366.8 219.6 371.3 219.6ZM350.3 222.9L345.8 222.6 349.9 221.9 354.4 222.1ZM354.4 222.1L349.9 221.9 354.1 221.1 358.6 221.3ZM341.7 223.3L337.2 222.8 341.3 222.2 345.8 222.6ZM333 223.4L328.5 222.8 332.7 222.3 337.2 222.8ZM324.4 223.3L319.9 222.6 324.1 222.2 328.5 222.8ZM315.7 222.9L311.2 222.1 315.4 221.8 319.9 222.6Z" fill="#2aebcf" stroke="#2aebcf" stroke-width="0.5"/>
<path d="M371.7 220.5L367.2 220.5 371.3 219.6 375.8 219.5ZM375.8 219.5L371.3 219.6 375.4 218.6 379.9 218.4ZM358.9 222.4L354.4 222.1 358.6 221.3 363.1 221.4ZM346.2 223.7L341.7 223.3 345.8 222.6 350.3 222.9ZM337.5 224L333 223.4 337.2 222.8 341.7 223.3ZM328.9 224L324.4 223.3 328.5 222.8 333 223.4ZM320.2 223.7L315.7 222.9 319.9 222.6 324.4 223.3ZM311.5 223.3L307 222.3 311.2 222.1 315.7 222.9Z" fill="#2becc4" stroke="#2becc4" stroke-width="0.5"/>
<path d="M380.3 219.4L375.8 219.5 379.9 218.4 384.4 218.2ZM363.4 222.6L358.9 222.4 363.1 221.4 367.6 221.6ZM367.6 221.6L363.1 221.4 367.2 220.5 371.7 220.5ZM350.7 224.2L346.2 223.7 350.3 222.9 354.8 223.3ZM354.8 223.3L350.3 222.9 354.4 222.1 358.9 222.4ZM342 224.5L337.5 224 341.7 223.3 346.2 223.7ZM329.2 225.3L324.7 224.5 328.9 224 333.4 224.7ZM333.4 224.7L328.9 224 333 223.4 337.5 224ZM324.7 224.5L320.2 223.7 324.4 223.3 328.9 224ZM316 224.2L311.5 223.3 315.7 222.9 320.2 223.7ZM307.3 223.6L302.8 222.6 307 222.3 311.5 223.3Z" fill="#2cecb9" stroke="#2cecb9" stroke-width="0.5"/>
<path d="M368 222.8L363.4 222.6 367.6 221.6 372.1 221.7ZM372.1 221.7L367.6 221.6 371.7 220.5 376.2 220.5ZM376.2 220.5L371.7 220.5 375.8 219.5 380.3 219.4ZM355.2 224.7L350.7 224.2 354.8 223.3 359.3 223.6ZM359.3 223.6L354.8 223.3 358.9 222.4 363.4 222.6ZM342.4 226L337.9 225.3 342 224.5 346.5 225.1ZM346.5 225.1L342 224.5 346.2 223.7 350.7 224.2ZM333.7 226.1L329.2 225.3 333.4 224.7 337.9 225.3ZM337.9 225.3L333.4 224.7 337.5 224 342 224.5ZM325 226L320.5 225.1 324.7 224.5 329.2 225.3ZM320.5 225.1L316 224.2 320.2 223.7 324.7 224.5ZM311.8 224.6L307.3 223.6 311.5 223.3 316 224.2Z" fill="#2decad" stroke="#2decad" stroke-width="0.5"/>
<path d="M376.6 221.8L372.1 221.7 376.2 220.5 380.7 220.5ZM380.7 220.5L376.2 220.5 380.3 219.4 384.9 219.3ZM384.9 219.3L380.3 219.4 384.4 218.2 389 218ZM359.7 225.1L355.2 224.7 359.3 223.6 363.8 224ZM363.8 224L359.3 223.6 363.4 222.6 368 222.8ZM346.9 226.7L342.4 226 346.5 225.1 351 225.7ZM351 225.7L346.5 225.1 350.7 224.2 355.2 224.7ZM338.2 226.9L333.7 226.1 337.9 225.3 342.4 226ZM329.5 226.9L325 226 329.2 225.3 333.7 226.1ZM320.8 226.7L316.3 225.7 320.5 225.1 325 226ZM312.1 226.2L307.6 225.1 311.8 224.6 316.3 225.7ZM316.3 225.7L311.8 224.6 316 224.2 320.5 225.1ZM307.6 225.1L303.1 223.9 307.3 223.6 311.8 224.6ZM303.1 223.9L298.5 222.8 302.8 222.6 307.3 223.6Z" fill="#2eeca2" stroke="#2eeca2" stroke-width="0.5"/>
<path d="M385.3 220.5L380.7 220.5 384.9 219.3 389.4 219.2ZM389.4 219.2L384.9 219.3 389 218 393.5 217.8ZM364.2 225.6L359.7 225.1 363.8 224 368.3 224.3ZM368.3 224.3L363.8 224 368 222.8 372.5 223.1ZM372.5 223.1L368 222.8 372.1 221.7 376.6 221.8ZM347.3 228.5L342.7 227.7 346.9 226.7 351.4 227.4ZM351.4 227.4L346.9 226.7 351 225.7 355.5 226.2ZM355.5 226.2L351 225.7 355.2 224.7 359.7 225.1ZM338.6 228.7L334 227.8 338.2 226.9 342.7 227.7ZM342.7 227.7L338.2 226.9 342.4 226 346.9 226.7ZM329.9 228.7L325.4 227.7 329.5 226.9 334 227.8ZM334 227.8L329.5 226.9 333.7 226.1 338.2 226.9ZM321.2 228.5L316.6 227.3 320.8 226.7 325.4 227.7ZM325.4 227.7L320.8 226.7 325 226 329.5 226.9ZM316.6 227.3L312.1 226.2 316.3 225.7 320.8 226.7ZM307.9 226.8L303.4 225.5 307.6 225.1 312.1 226.2ZM303.4 225.5L298.8 224.2 303.1 223.9 307.6 225.1ZM298.8 224.2L294.3 223 298.5 222.8 303.1 223.9Z" fill="#2fec97" stroke="#2fec97" stroke-width="0.5"/>
<path d="M356.5 265.9L352 263.8 356.1 261.3 360.6 263.3ZM368.7 226L364.2 225.6 368.3 224.3 372.9 224.6ZM372.9 224.6L368.3 224.3 372.5 223.1 377 223.3ZM377 223.3L372.5 223.1 376.6 221.8 381.2 221.9ZM381.2 221.9L376.6 221.8 380.7 220.5 385.3 220.5ZM351.8 229.3L347.3 228.5 351.4 227.4 355.9 228ZM355.9 228L351.4 227.4 355.5 226.2 360.1 226.8ZM360.1 226.8L355.5 226.2 359.7 225.1 364.2 225.6ZM338.9 230.7L334.4 229.7 338.6 228.7 343.1 229.6ZM343.1 229.6L338.6 228.7 342.7 227.7 347.3 228.5ZM330.2 230.7L325.7 229.6 329.9 228.7 334.4 229.7ZM334.4 229.7L329.9 228.7 334 227.8 338.6 228.7ZM321.5 230.5L317 229.2 321.2 228.5 325.7 229.6ZM325.7 229.6L321.2 228.5 325.4 227.7 329.9 228.7ZM317 229.2L312.4 228 316.6 227.3 321.2 228.5ZM312.4 228L307.9 226.8 312.1 226.2 316.6 227.3ZM303.7 227.3L299.1 225.9 303.4 225.5 307.9 226.8ZM299.1 225.9L294.6 224.6 298.8 224.2 303.4 225.5ZM294.6 224.6L290 223.2 294.3 223 298.8 224.2Z" fill="#30ed8b" stroke="#30ed8b" stroke-width="0.5"/>
<path d="M360.6 263.3L356.1 261.3 360.2 258.8 364.7 260.7ZM352 263.8L347.4 261.6 351.5 259.3 356.1 261.3ZM356.1 261.3L351.5 259.3 355.6 256.9 360.2 258.8ZM347.4 261.6L342.8 259.5 346.9 257.3 351.5 259.3ZM342.8 259.5L338.2 257.4 342.3 255.3 346.9 257.3ZM369.2 227.9L364.6 227.3 368.7 226 373.3 226.4ZM373.3 226.4L368.7 226 372.9 224.6 377.4 224.9ZM377.4 224.9L372.9 224.6 377 223.3 381.6 223.5ZM381.6 223.5L377 223.3 381.2 221.9 385.7 222ZM385.7 222L381.2 221.9 385.3 220.5 389.8 220.5ZM389.8 220.5L385.3 220.5 389.4 219.2 394 219ZM394 219L389.4 219.2 393.5 217.8 398.1 217.6ZM348 232.8L343.5 231.8 347.6 230.5 352.2 231.4ZM352.2 231.4L347.6 230.5 351.8 229.3 356.3 230.1ZM356.3 230.1L351.8 229.3 355.9 228 360.5 228.7ZM360.5 228.7L355.9 228 360.1 226.8 364.6 227.3ZM364.6 227.3L360.1 226.8 364.2 225.6 368.7 226ZM339.3 233L334.8 231.9 338.9 230.7 343.5 231.8ZM343.5 231.8L338.9 230.7 343.1 229.6 347.6 230.5ZM347.6 230.5L343.1 229.6 347.3 228.5 351.8 229.3ZM330.6 233L326.1 231.7 330.2 230.7 334.8 231.9ZM334.8 231.9L330.2 230.7 334.4 229.7 338.9 230.7ZM321.9 232.7L317.3 231.4 321.5 230.5 326.1 231.7ZM326.1 231.7L321.5 230.5 325.7 229.6 330.2 230.7ZM317.3 231.4L312.8 230 317 229.2 321.5 230.5ZM308.6 230.8L304 229.3 308.2 228.6 312.8 230ZM312.8 230L308.2 228.6 312.4 228 317 229.2ZM304 229.3L299.5 227.8 303.7 227.3 308.2 228.6ZM308.2 228.6L303.7 227.3 307.9 226.8 312.4 228ZM299.5 227.8L294.9 226.3 299.1 225.9 303.7 227.3ZM294.9 226.3L290.3 224.9 294.6 224.6 299.1 225.9ZM290.3 224.9L285.8 223.4 290 223.2 294.6 224.6Z" fill="#31ed80" stroke="#31ed80" stroke-width="0.5"/>
<path d="M364.7 260.7L360.2 258.8 364.3 256.3 368.9 258.1ZM360.2 258.8L355.6 256.9 359.7 254.6 364.3 256.3ZM351.5 259.3L346.9 257.3 351 255.1 355.6 256.9ZM355.6 256.9L351 255.1 355.2 252.9 359.7 254.6ZM346.9 257.3L342.3 255.3 346.5 253.2 351 255.1ZM351 255.1L346.5 253.2 350.6 251.1 355.2 252.9ZM338.2 257.4L333.6 255.3 337.8 253.3 342.3 255.3ZM342.3 255.3L337.8 253.3 341.9 251.4 346.5 253.2ZM346.5 253.2L341.9 251.4 346 249.4 350.6 251.1ZM333.6 255.3L329 253.2 333.2 251.4 337.8 253.3ZM337.8 253.3L333.2 251.4 337.3 249.5 341.9 251.4ZM341.9 251.4L337.3 249.5 341.4 247.7 346 249.4ZM329 253.2L324.4 251.1 328.6 249.4 333.2 251.4ZM333.2 251.4L328.6 249.4 332.7 247.7 337.3 249.5ZM361.3 233.2L356.7 232.3 360.9 230.8 365.4 231.6ZM365.4 231.6L360.9 230.8 365 229.4 369.6 230ZM369.6 230L365 229.4 369.2 227.9 373.7 228.4ZM373.7 228.4L369.2 227.9 373.3 226.4 377.8 226.8ZM377.8 226.8L373.3 226.4 377.4 224.9 382 225.2ZM382 225.2L377.4 224.9 381.6 223.5 386.1 223.7ZM386.1 223.7L381.6 223.5 385.7 222 390.3 222.1ZM390.3 222.1L385.7 222 389.8 220.5 394.4 220.5ZM394.4 220.5L389.8 220.5 394 219 398.6 218.9ZM398.6 218.9L394 219 398.1 217.6 402.7 217.3ZM336 239.6L331.4 238.1 335.6 236.8 340.1 238.2ZM340.1 238.2L335.6 236.8 339.7 235.5 344.3 236.7ZM344.3 236.7L339.7 235.5 343.9 234.1 348.4 235.2ZM348.4 235.2L343.9 234.1 348 232.8 352.6 233.8ZM352.6 233.8L348 232.8 352.2 231.4 356.7 232.3ZM356.7 232.3L352.2 231.4 356.3 230.1 360.9 230.8ZM360.9 230.8L356.3 230.1 360.5 228.7 365 229.4ZM365 229.4L360.5 228.7 364.6 227.3 369.2 227.9ZM331.4 238.1L326.9 236.7 331 235.4 335.6 236.8ZM335.6 236.8L331 235.4 335.2 234.2 339.7 235.5ZM339.7 235.5L335.2 234.2 339.3 233 343.9 234.1ZM343.9 234.1L339.3 233 343.5 231.8 348 232.8ZM322.7 237.9L318.1 236.3 322.3 235.2 326.9 236.7ZM326.9 236.7L322.3 235.2 326.5 234.1 331 235.4ZM331 235.4L326.5 234.1 330.6 233 335.2 234.2ZM335.2 234.2L330.6 233 334.8 231.9 339.3 233ZM318.1 236.3L313.5 234.7 317.7 233.7 322.3 235.2ZM322.3 235.2L317.7 233.7 321.9 232.7 326.5 234.1ZM326.5 234.1L321.9 232.7 326.1 231.7 330.6 233ZM313.5 234.7L309 233.1 313.2 232.2 317.7 233.7ZM317.7 233.7L313.2 232.2 317.3 231.4 321.9 232.7ZM309 233.1L304.4 231.5 308.6 230.8 313.2 232.2ZM313.2 232.2L308.6 230.8 312.8 230 317.3 231.4ZM304.4 231.5L299.8 229.9 304 229.3 308.6 230.8ZM299.8 229.9L295.2 228.3 299.5 227.8 304 229.3ZM295.2 228.3L290.6 226.7 294.9 226.3 299.5 227.8ZM290.6 226.7L286.1 225.2 290.3 224.9 294.9 226.3ZM286.1 225.2L281.5 223.6 285.8 223.4 290.3 224.9Z" fill="#32ed75" stroke="#32ed75" stroke-width="0.5"/>
<path d="M368.9 258.1L364.3 256.3 368.4 253.9 373 255.5ZM373 255.5L368.4 253.9 372.5 251.4 377.1 252.9ZM364.3 256.3L359.7 254.6 363.8 252.3 368.4 253.9ZM368.4 253.9L363.8 252.3 368 249.9 372.5 251.4ZM359.7 254.6L355.2 252.9 359.3 250.7 363.8 252.3ZM363.8 252.3L359.3 250.7 363.4 248.5 368 249.9ZM355.2 252.9L350.6 251.1 354.7 249.1 359.3 250.7ZM359.3 250.7L354.7 249.1 358.8 247 363.4 248.5ZM350.6 251.1L346 249.4 350.1 247.5 354.7 249.1ZM354.7 249.1L350.1 247.5 354.3 245.5 358.8 247ZM358.8 247L354.3 245.5 358.4 243.6 363 244.9ZM346 249.4L341.4 247.7 345.6 245.9 350.1 247.5ZM350.1 247.5L345.6 245.9 349.7 244 354.3 245.5ZM354.3 245.5L349.7 244 353.8 242.2 358.4 243.6ZM358.4 243.6L353.8 242.2 358 240.4 362.5 241.6ZM337.3 249.5L332.7 247.7 336.9 246 341.4 247.7ZM341.4 247.7L336.9 246 341 244.3 345.6 245.9ZM345.6 245.9L341 244.3 345.1 242.6 349.7 244ZM349.7 244L345.1 242.6 349.3 240.9 353.8 242.2ZM353.8 242.2L349.3 240.9 353.4 239.2 358 240.4ZM358 240.4L353.4 239.2 357.5 237.4 362.1 238.6ZM362.1 238.6L357.5 237.4 361.7 235.7 366.3 236.7ZM324.4 251.1L319.8 249 324 247.4 328.6 249.4ZM328.6 249.4L324 247.4 328.1 245.8 332.7 247.7ZM332.7 247.7L328.1 245.8 332.3 244.3 336.9 246ZM336.9 246L332.3 244.3 336.4 242.7 341 244.3ZM341 244.3L336.4 242.7 340.6 241.1 345.1 242.6ZM345.1 242.6L340.6 241.1 344.7 239.5 349.3 240.9ZM349.3 240.9L344.7 239.5 348.8 237.9 353.4 239.2ZM353.4 239.2L348.8 237.9 353 236.3 357.5 237.4ZM357.5 237.4L353 236.3 357.1 234.8 361.7 235.7ZM361.7 235.7L357.1 234.8 361.3 233.2 365.8 234ZM365.8 234L361.3 233.2 365.4 231.6 370 232.3ZM370 232.3L365.4 231.6 369.6 230 374.1 230.6ZM374.1 230.6L369.6 230 373.7 228.4 378.3 228.9ZM378.3 228.9L373.7 228.4 377.8 226.8 382.4 227.2ZM382.4 227.2L377.8 226.8 382 225.2 386.6 225.5ZM386.6 225.5L382 225.2 386.1 223.7 390.7 223.9ZM390.7 223.9L386.1 223.7 390.3 222.1 394.9 222.2ZM319.8 249L315.2 246.9 319.4 245.5 324 247.4ZM324 247.4L319.4 245.5 323.5 244 328.1 245.8ZM328.1 245.8L323.5 244 327.7 242.5 332.3 244.3ZM332.3 244.3L327.7 242.5 331.8 241.1 336.4 242.7ZM336.4 242.7L331.8 241.1 336 239.6 340.6 241.1ZM340.6 241.1L336 239.6 340.1 238.2 344.7 239.5ZM344.7 239.5L340.1 238.2 344.3 236.7 348.8 237.9ZM348.8 237.9L344.3 236.7 348.4 235.2 353 236.3ZM353 236.3L348.4 235.2 352.6 233.8 357.1 234.8ZM357.1 234.8L352.6 233.8 356.7 232.3 361.3 233.2ZM315.2 246.9L310.6 244.8 314.8 243.5 319.4 245.5ZM319.4 245.5L314.8 243.5 319 242.2 323.5 244ZM323.5 244L319 242.2 323.1 240.8 327.7 242.5ZM327.7 242.5L323.1 240.8 327.3 239.5 331.8 241.1ZM331.8 241.1L327.3 239.5 331.4 238.1 336 239.6ZM310.6 244.8L306 242.7 310.2 241.5 314.8 243.5ZM314.8 243.5L310.2 241.5 314.4 240.3 319 242.2ZM319 242.2L314.4 240.3 318.5 239.1 323.1 240.8ZM323.1 240.8L318.5 239.1 322.7 237.9 327.3 239.5ZM327.3 239.5L322.7 237.9 326.9 236.7 331.4 238.1ZM310.2 241.5L305.6 239.6 309.8 238.5 314.4 240.3ZM314.4 240.3L309.8 238.5 313.9 237.4 318.5 239.1ZM318.5 239.1L313.9 237.4 318.1 236.3 322.7 237.9ZM309.8 238.5L305.2 236.7 309.4 235.7 313.9 237.4ZM313.9 237.4L309.4 235.7 313.5 234.7 318.1 236.3ZM305.2 236.7L300.6 234.8 304.8 234 309.4 235.7ZM309.4 235.7L304.8 234 309 233.1 313.5 234.7ZM300.6 234.8L296 233 300.2 232.3 304.8 234ZM304.8 234L300.2 232.3 304.4 231.5 309 233.1ZM300.2 232.3L295.6 230.6 299.8 229.9 304.4 231.5ZM295.6 230.6L291 228.8 295.2 228.3 299.8 229.9ZM291 228.8L286.4 227.1 290.6 226.7 295.2 228.3ZM286.4 227.1L281.8 225.4 286.1 225.2 290.6 226.7ZM281.8 225.4L277.2 223.7 281.5 223.6 286.1 225.2Z" fill="#33ed69" stroke="#33ed69" stroke-width="0.5"/>
<path d="M377.1 252.9L372.5 251.4 376.7 248.9 381.3 250.3ZM372.5 251.4L368 249.9 372.1 247.6 376.7 248.9ZM376.7 248.9L372.1 247.6 376.2 245.3 380.8 246.5ZM368 249.9L363.4 248.5 367.5 246.3 372.1 247.6ZM372.1 247.6L367.5 246.3 371.7 244.1 376.2 245.3ZM363.4 248.5L358.8 247 363 244.9 367.5 246.3ZM367.5 246.3L363 244.9 367.1 242.8 371.7 244.1ZM371.7 244.1L367.1 242.8 371.2 240.8 375.8 241.9ZM363 244.9L358.4 243.6 362.5 241.6 367.1 242.8ZM367.1 242.8L362.5 241.6 366.7 239.7 371.2 240.8ZM371.2 240.8L366.7 239.7 370.8 237.7 375.4 238.7ZM362.5 241.6L358 240.4 362.1 238.6 366.7 239.7ZM366.7 239.7L362.1 238.6 366.3 236.7 370.8 237.7ZM370.8 237.7L366.3 236.7 370.4 234.9 375 235.8ZM375 235.8L370.4 234.9 374.5 233.1 379.1 233.8ZM366.3 236.7L361.7 235.7 365.8 234 370.4 234.9ZM370.4 234.9L365.8 234 370 232.3 374.5 233.1ZM374.5 233.1L370 232.3 374.1 230.6 378.7 231.3ZM378.7 231.3L374.1 230.6 378.3 228.9 382.8 229.5ZM382.8 229.5L378.3 228.9 382.4 227.2 387 227.6ZM387 227.6L382.4 227.2 386.6 225.5 391.1 225.8ZM394.9 222.2L390.3 222.1 394.4 220.5 399 220.5ZM399 220.5L394.4 220.5 398.6 218.9 403.1 218.8ZM403.1 218.8L398.6 218.9 402.7 217.3 407.3 217.1ZM306 242.7L301.4 240.7 305.6 239.6 310.2 241.5ZM301.4 240.7L296.8 238.6 301 237.6 305.6 239.6ZM305.6 239.6L301 237.6 305.2 236.7 309.8 238.5ZM296.8 238.6L292.1 236.5 296.4 235.7 301 237.6ZM301 237.6L296.4 235.7 300.6 234.8 305.2 236.7ZM296.4 235.7L291.7 233.7 296 233 300.6 234.8ZM291.7 233.7L287.1 231.8 291.4 231.2 296 233ZM296 233L291.4 231.2 295.6 230.6 300.2 232.3ZM291.4 231.2L286.7 229.3 291 228.8 295.6 230.6ZM286.7 229.3L282.1 227.5 286.4 227.1 291 228.8ZM282.1 227.5L277.5 225.7 281.8 225.4 286.4 227.1ZM277.5 225.7L272.9 223.9 277.2 223.7 281.8 225.4Z" fill="#34ed5e" stroke="#34ed5e" stroke-width="0.5"/>
<path d="M381.3 250.3L376.7 248.9 380.8 246.5 385.4 247.7ZM385.4 247.7L380.8 246.5 385 244.1 389.5 245.1ZM380.8 246.5L376.2 245.3 380.4 243 385 244.1ZM376.2 245.3L371.7 244.1 375.8 241.9 380.4 243ZM380.4 243L375.8 241.9 380 239.7 384.5 240.7ZM375.8 241.9L371.2 240.8 375.4 238.7 380 239.7ZM380 239.7L375.4 238.7 379.5 236.6 384.1 237.5ZM375.4 238.7L370.8 237.7 375 235.8 379.5 236.6ZM379.5 236.6L375 235.8 379.1 233.8 383.7 234.6ZM383.7 234.6L379.1 233.8 383.3 231.9 387.8 232.5ZM379.1 233.8L374.5 233.1 378.7 231.3 383.3 231.9ZM383.3 231.9L378.7 231.3 382.8 229.5 387.4 230ZM387.4 230L382.8 229.5 387 227.6 391.6 228ZM391.6 228L387 227.6 391.1 225.8 395.7 226.1ZM391.1 225.8L386.6 225.5 390.7 223.9 395.3 224ZM395.3 224L390.7 223.9 394.9 222.2 399.4 222.2ZM399.4 222.2L394.9 222.2 399 220.5 403.6 220.4ZM403.6 220.4L399 220.5 403.1 218.8 407.8 218.6ZM407.8 218.6L403.1 218.8 407.3 217.1 411.9 216.8ZM292.1 236.5L287.5 234.5 291.7 233.7 296.4 235.7ZM287.5 234.5L282.9 232.4 287.1 231.8 291.7 233.7ZM282.9 232.4L278.2 230.3 282.5 229.8 287.1 231.8ZM287.1 231.8L282.5 229.8 286.7 229.3 291.4 231.2ZM282.5 229.8L277.9 227.9 282.1 227.5 286.7 229.3ZM277.9 227.9L273.2 226 277.5 225.7 282.1 227.5ZM273.2 226L268.6 224 272.9 223.9 277.5 225.7Z" fill="#35ee53" stroke="#35ee53" stroke-width="0.5"/>
<path d="M389.5 245.1L385 244.1 389.1 241.6 393.7 242.6ZM385 244.1L380.4 243 384.5 240.7 389.1 241.6ZM389.1 241.6L384.5 240.7 388.7 238.3 393.3 239.2ZM384.5 240.7L380 239.7 384.1 237.5 388.7 238.3ZM388.7 238.3L384.1 237.5 388.3 235.3 392.9 236.1ZM384.1 237.5L379.5 236.6 383.7 234.6 388.3 235.3ZM388.3 235.3L383.7 234.6 387.8 232.5 392.4 233.1ZM387.8 232.5L383.3 231.9 387.4 230 392 230.5ZM392 230.5L387.4 230 391.6 228 396.2 228.4ZM396.2 228.4L391.6 228 395.7 226.1 400.3 226.4ZM395.7 226.1L391.1 225.8 395.3 224 399.9 224.2ZM399.9 224.2L395.3 224 399.4 222.2 404 222.3ZM404 222.3L399.4 222.2 403.6 220.4 408.2 220.4ZM408.2 220.4L403.6 220.4 407.8 218.6 412.4 218.4ZM278.2 230.3L273.6 228.3 277.9 227.9 282.5 229.8ZM273.6 228.3L268.9 226.2 273.2 226 277.9 227.9ZM268.9 226.2L264.3 224.2 268.6 224 273.2 226Z" fill="#36ee47" stroke="#36ee47" stroke-width="0.5"/>
<path d="M393.7 242.6L389.1 241.6 393.3 239.2 397.9 240ZM393.3 239.2L388.7 238.3 392.9 236.1 397.4 236.8ZM392.9 236.1L388.3 235.3 392.4 233.1 397 233.8ZM397 233.8L392.4 233.1 396.6 231 401.2 231.5ZM392.4 233.1L387.8 232.5 392 230.5 396.6 231ZM396.6 231L392 230.5 396.2 228.4 400.8 228.8ZM400.8 228.8L396.2 228.4 400.3 226.4 404.9 226.7ZM400.3 226.4L395.7 226.1 399.9 224.2 404.5 224.4ZM404.5 224.4L399.9 224.2 404 222.3 408.7 222.3ZM412.4 218.4L407.8 218.6 411.9 216.8 416.5 216.5Z" fill="#37ee3c" stroke="#37ee3c" stroke-width="0.5"/>
<path d="M397.9 240L393.3 239.2 397.4 236.8 402 237.5ZM402 237.5L397.4 236.8 401.6 234.4 406.2 235ZM397.4 236.8L392.9 236.1 397 233.8 401.6 234.4ZM401.6 234.4L397 233.8 401.2 231.5 405.8 232ZM401.2 231.5L396.6 231 400.8 228.8 405.4 229.2ZM404.9 226.7L400.3 226.4 404.5 224.4 409.1 224.5ZM409.1 224.5L404.5 224.4 408.7 222.3 413.3 222.4ZM408.7 222.3L404 222.3 408.2 220.4 412.8 220.3ZM412.8 220.3L408.2 220.4 412.4 218.4 417 218.3ZM417 218.3L412.4 218.4 416.5 216.5 421.2 216.2Z" fill="#43ee3b" stroke="#43ee3b" stroke-width="0.5"/>
<path d="M406.2 235L401.6 234.4 405.8 232 410.4 232.4ZM405.8 232L401.2 231.5 405.4 229.2 410 229.6ZM405.4 229.2L400.8 228.8 404.9 226.7 409.5 226.9ZM409.5 226.9L404.9 226.7 409.1 224.5 413.7 224.6ZM413.3 222.4L408.7 222.3 412.8 220.3 417.5 220.2ZM417.5 220.2L412.8 220.3 417 218.3 421.7 218.1Z" fill="#50ef3a" stroke="#50ef3a" stroke-width="0.5"/>
<path d="M410.4 232.4L405.8 232 410 229.6 414.6 229.9ZM410 229.6L405.4 229.2 409.5 226.9 414.2 227.2ZM414.2 227.2L409.5 226.9 413.7 224.6 418.4 224.8ZM413.7 224.6L409.1 224.5 413.3 222.4 417.9 222.4ZM417.9 222.4L413.3 222.4 417.5 220.2 422.1 220.1ZM421.7 218.1L417 218.3 421.2 216.2 425.8 215.9Z" fill="#5cef39" stroke="#5cef39" stroke-width="0.5"/>
<path d="M414.6 229.9L410 229.6 414.2 227.2 418.8 227.4ZM418.8 227.4L414.2 227.2 418.4 224.8 423 224.9ZM418.4 224.8L413.7 224.6 417.9 222.4 422.6 222.4ZM422.6 222.4L417.9 222.4 422.1 220.1 426.8 220ZM422.1 220.1L417.5 220.2 421.7 218.1 426.3 217.9ZM426.3 217.9L421.7 218.1 425.8 215.9 430.5 215.6Z" fill="#69ef38" stroke="#69ef38" stroke-width="0.5"/>
<path d="M423 224.9L418.4 224.8 422.6 222.4 427.2 222.4ZM426.8 220L422.1 220.1 426.3 217.9 431 217.7Z" fill="#75ef37" stroke="#75ef37" stroke-width="0.5"/>
<path d="M427.2 222.4L422.6 222.4 426.8 220 431.4 219.9ZM431 217.7L426.3 217.9 430.5 215.6 435.2 215.3Z" fill="#82f036" stroke="#82f036" stroke-width="0.5"/>
<path d="M431.4 219.9L426.8 220 431 217.7 435.7 217.4ZM435.7 217.4L431 217.7 435.2 215.3 439.9 215Z" fill="#8ef035" stroke="#8ef035" stroke-width="0.5"/>
<path d="M356.5 265.9L439.9 215M352 263.8L435.2 215.3M347.4 261.6L430.5 215.6M342.8 259.5L425.8 215.9M338.2 257.4L421.2 216.2M333.6 255.3L416.5 216.5M329 253.2L411.9 216.8M324.4 251.1L407.3 217.1M319.8 249L402.7 217.3M315.2 246.9L398.1 217.6M310.6 244.8L393.5 217.8M306 242.7L389 218M301.4 240.7L384.4 218.2M296.8 238.6L379.9 218.4M292.1 236.5L375.4 218.6M287.5 234.5L370.9 218.8M282.9 232.4L366.4 218.9M278.2 230.3L362 219.1M273.6 228.3L357.5 219.2M268.9 226.2L353.1 219.3M264.3 224.2L348.7 219.5M356.5 265.9L264.3 224.2M360.6 263.3L268.6 224M364.7 260.7L272.9 223.9M368.9 258.1L277.2 223.7M373 255.5L281.5 223.6M377.1 252.9L285.8 223.4M381.3 250.3L290 223.2M385.4 247.7L294.3 223M389.5 245.1L298.5 222.8M393.7 242.6L302.8 222.6M397.9 240L307 222.3M402 237.5L311.2 222.1M406.2 235L315.4 221.8M410.4 232.4L319.6 221.6M414.6 229.9L323.8 221.3M418.8 227.4L328 221M423 224.9L332.1 220.7M427.2 222.4L336.3 220.4M431.4 219.9L340.4 220.1M435.7 217.4L344.5 219.8M439.9 215L348.7 219.5" stroke="#000" stroke-opacity="0.25" stroke-width="0.5" fill="none"/>
<circle cx="352.1" cy="228.2" r="1.5" fill="#8e1515"/>
<text x="254.1" y="192.6" font-family='"Liberation Sans", sans-serif' font-size="6.3" font-weight="bold" letter-spacing="0.25" fill="#262626" text-anchor="middle" dominant-baseline="central">0.6</text>
<text x="254.6" y="205.3" font-family='"Liberation Sans", sans-serif' font-size="6.3" font-weight="bold" letter-spacing="0.25" fill="#262626" text-anchor="middle" dominant-baseline="central">0.5</text>
<text x="255.1" y="217.6" font-family='"Liberation Sans", sans-serif' font-size="6.3" font-weight="bold" letter-spacing="0.25" fill="#262626" text-anchor="middle" dominant-baseline="central">0.4</text>
<text x="255.6" y="230.3" font-family='"Liberation Sans", sans-serif' font-size="6.3" font-weight="bold" letter-spacing="0.25" fill="#262626" text-anchor="middle" dominant-baseline="central">0.3</text>
<text x="256" y="242.3" font-family='"Liberation Sans", sans-serif' font-size="6.3" font-weight="bold" letter-spacing="0.25" fill="#262626" text-anchor="middle" dominant-baseline="central">0.2</text>
<text x="259.4" y="255.3" font-family='"Liberation Sans", sans-serif' font-size="6.3" font-weight="bold" letter-spacing="0.25" fill="#262626" text-anchor="middle" dominant-baseline="central">0.1</text>
<text x="240" y="232" font-family='"Liberation Serif", serif' font-size="9.6" font-weight="bold" textLength="14.4" lengthAdjust="spacingAndGlyphs" fill="#151515" text-anchor="middle" dominant-baseline="central" transform="rotate(-90 240 232)">PDI</text>
<text x="264.2" y="281.8" font-family='"Liberation Sans", sans-serif' font-size="6.3" font-weight="bold" letter-spacing="0.25" fill="#262626" text-anchor="middle" dominant-baseline="central">3</text>
<text x="283.1" y="291.2" font-family='"Liberation Sans", sans-serif' font-size="6.3" font-weight="bold" letter-spacing="0.25" fill="#262626" text-anchor="middle" dominant-baseline="central">2.5</text>
<text x="307.4" y="300" font-family='"Liberation Sans", sans-serif' font-size="6.3" font-weight="bold" letter-spacing="0.25" fill="#262626" text-anchor="middle" dominant-baseline="central">2</text>
<text x="327.7" y="308.8" font-family='"Liberation Sans", sans-serif' font-size="6.3" font-weight="bold" letter-spacing="0.25" fill="#262626" text-anchor="middle" dominant-baseline="central">1.5</text>
<text x="352.1" y="317.1" font-family='"Liberation Sans", sans-serif' font-size="6.3" font-weight="bold" letter-spacing="0.25" fill="#262626" text-anchor="middle" dominant-baseline="central">1</text>
<text x="441.2" y="277.9" font-family='"Liberation Sans", sans-serif' font-size="6.3" font-weight="bold" letter-spacing="0.25" fill="#262626" text-anchor="middle" dominant-baseline="central">30</text>
<text x="428" y="285" font-family='"Liberation Sans", sans-serif' font-size="6.3" font-weight="bold" letter-spacing="0.25" fill="#262626" text-anchor="middle" dominant-baseline="central">40</text>
<text x="415.6" y="291.7" font-family='"Liberation Sans", sans-serif' font-size="6.3" font-weight="bold" letter-spacing="0.25" fill="#262626" text-anchor="middle" dominant-baseline="central">50</text>
<text x="402.4" y="297.7" font-family='"Liberation Sans", sans-serif' font-size="6.3" font-weight="bold" letter-spacing="0.25" fill="#262626" text-anchor="middle" dominant-baseline="central">60</text>
<text x="390.1" y="304.8" font-family='"Liberation Sans", sans-serif' font-size="6.3" font-weight="bold" letter-spacing="0.25" fill="#262626" text-anchor="middle" dominant-baseline="central">70</text>
<text x="377.2" y="311.1" font-family='"Liberation Sans", sans-serif' font-size="6.3" font-weight="bold" letter-spacing="0.25" fill="#262626" text-anchor="middle" dominant-baseline="central">80</text>
<text x="364.5" y="317.6" font-family='"Liberation Sans", sans-serif' font-size="6.3" font-weight="bold" letter-spacing="0.25" fill="#262626" text-anchor="middle" dominant-baseline="central">90</text>
<text x="283.9" y="310.2" font-family='"Liberation Serif", serif' font-size="8" textLength="69.9" lengthAdjust="spacingAndGlyphs" fill="#151515" stroke="#151515" stroke-width="0.2" text-anchor="middle" dominant-baseline="central">A: Lipid concentration</text>
<text x="283.7" y="319.1" font-family='"Liberation Serif", serif' font-size="8" textLength="21.6" lengthAdjust="spacingAndGlyphs" fill="#151515" stroke="#151515" stroke-width="0.2" text-anchor="middle" dominant-baseline="central">(%w/v)</text>
<text x="428.3" y="306.8" font-family='"Liberation Serif", serif' font-size="8.5" textLength="45.1" lengthAdjust="spacingAndGlyphs" fill="#151515" stroke="#151515" stroke-width="0.2" text-anchor="middle" dominant-baseline="central">C: Sonication</text>
<text x="428.3" y="316.8" font-family='"Liberation Serif", serif' font-size="8.5" textLength="35.9" lengthAdjust="spacingAndGlyphs" fill="#151515" stroke="#151515" stroke-width="0.2" text-anchor="middle" dominant-baseline="central">Time (sec)</text>
<text x="350" y="328.6" font-family='"Liberation Serif", serif' font-size="14" font-weight="bold" fill="#111" text-anchor="middle" dominant-baseline="central">E</text>
<path d="M490.3 282.6L482.4 202.4M500 257.4L494.8 196.9M511.6 251L507.3 191.4M523.2 244.6L519.7 185.9M534.8 238.3L532.1 180.4M546.4 231.9L544.6 174.9M558.3 242.9L557 169.4M488.4 263.7L558 225.6M487.2 251.5L557.8 214.4M486 239.2L557.6 203.1M484.8 227L557.4 191.9M483.6 214.8L557.2 180.7M482.4 202.5L557 169.5M651.5 269.4L658.5 191.1M634.1 245.9L638.2 186.8M615.1 240.8L617.9 182.4M596.1 235.7L597.6 178.1M577 230.6L577.3 173.7M558.3 242.9L557 169.4M653.1 251L558 225.6M654.2 239L557.8 214.4M655.3 227.1L557.6 203.1M656.4 215.1L557.4 191.9M657.4 203.2L557.2 180.7M658.5 191.2L557 169.5" stroke="#5c5c5c" stroke-width="0.9" fill="none"/>
<polygon points="490.3,282.6 589.7,317.1 651.5,269.4 558.3,242.9" fill="#626262"/>
<clipPath id="fcF"><polygon points="490.3,282.6 589.7,317.1 651.5,269.4 558.3,242.9"/></clipPath>
<g clip-path="url(#fcF)"><path d="M492.5 282C494.1 282.4 499 283.6 502 284.6C505 285.6 508.9 287.6 510.3 288.2" stroke="#48c83e" stroke-width="1.4" fill="none"/><path d="M508.3 273.7C513.6 274.8 528.8 279.6 540.3 280.4C551.8 281.2 567.6 280.1 577 278.7C586.4 277.3 589.9 275 596.7 272C603.5 269 614.5 262.6 618 260.7" stroke="#2ab982" stroke-width="1.4" fill="none"/><path d="M522.3 265.7C526.4 265.9 537.9 267.4 547 267.1C556.1 266.8 572 264.5 577 264" stroke="#2ab0aa" stroke-width="1.4" fill="none"/><path d="M535 258.3L556.3 257.3" stroke="#2ab0aa" stroke-width="1.4" fill="none"/><path d="M634 265.3C632.3 266.4 626.3 269.4 624 272C621.7 274.6 621 278.2 620 280.7C619 283.2 618.3 284.8 618 287C617.7 289.2 618 292.8 618 294" stroke="#48c83e" stroke-width="1.4" fill="none"/></g>
<path d="M490.3 282.6L589.7 317.1L651.5 269.4" stroke="#333" stroke-width="0.8" fill="none"/>
<path d="M488.4 263.7h-1.8M487.2 251.5h-1.8M486 239.2h-1.8M484.8 227h-1.8M483.6 214.8h-1.8M482.4 202.5h-1.8M569.8 310.2l-0.9 1.6M549.9 303.3l-0.9 1.6M530.1 296.4l-0.9 1.6M510.2 289.5l-0.9 1.6M600 309.2l0.9 1.6M610.3 301.2l0.9 1.6M620.6 293.2l0.9 1.6M630.9 285.3l0.9 1.6M641.2 277.4l0.9 1.6" stroke="#222" stroke-width="1" fill="none"/>
<path d="M563.9 214L559.1 213.5 562.6 212.2 567.4 212.7ZM555.5 214.7L550.6 214.1 554.2 212.9 559.1 213.5ZM559.1 213.5L554.2 212.9 557.8 211.8 562.6 212.2Z" fill="#2cecb9" stroke="#2cecb9" stroke-width="0.5"/>
<path d="M573.6 215L568.8 214.5 572.3 213.1 577.1 213.6ZM565.3 215.8L560.4 215.2 563.9 214 568.8 214.5ZM568.8 214.5L563.9 214 567.4 212.7 572.3 213.1ZM556.9 216.5L552 215.9 555.5 214.7 560.4 215.2ZM560.4 215.2L555.5 214.7 559.1 213.5 563.9 214ZM548.4 217.1L543.5 216.4 547.1 215.3 552 215.9ZM552 215.9L547.1 215.3 550.6 214.1 555.5 214.7Z" fill="#2decad" stroke="#2decad" stroke-width="0.5"/>
<path d="M583.4 215.9L578.5 215.4 582 214 586.8 214.4ZM575 216.9L570.1 216.3 573.6 215 578.5 215.4ZM578.5 215.4L573.6 215 577.1 213.6 582 214ZM563.1 219.1L558.2 218.4 561.7 217.1 566.6 217.7ZM566.6 217.7L561.7 217.1 565.3 215.8 570.1 216.3ZM570.1 216.3L565.3 215.8 568.8 214.5 573.6 215ZM554.7 219.8L549.8 219 553.3 217.8 558.2 218.4ZM558.2 218.4L553.3 217.8 556.9 216.5 561.7 217.1ZM561.7 217.1L556.9 216.5 560.4 215.2 565.3 215.8ZM549.8 219L544.8 218.3 548.4 217.1 553.3 217.8ZM553.3 217.8L548.4 217.1 552 215.9 556.9 216.5ZM541.3 219.5L536.3 218.7 539.9 217.5 544.8 218.3ZM544.8 218.3L539.9 217.5 543.5 216.4 548.4 217.1Z" fill="#2eeca2" stroke="#2eeca2" stroke-width="0.5"/>
<path d="M584.8 218L579.9 217.4 583.4 215.9 588.3 216.4ZM588.3 216.4L583.4 215.9 586.8 214.4 591.7 214.8ZM573 220.4L568.1 219.8 571.6 218.3 576.5 218.9ZM576.5 218.9L571.6 218.3 575 216.9 579.9 217.4ZM579.9 217.4L575 216.9 578.5 215.4 583.4 215.9ZM564.6 221.2L559.6 220.5 563.1 219.1 568.1 219.8ZM568.1 219.8L563.1 219.1 566.6 217.7 571.6 218.3ZM571.6 218.3L566.6 217.7 570.1 216.3 575 216.9ZM556.1 221.9L551.2 221.1 554.7 219.8 559.6 220.5ZM559.6 220.5L554.7 219.8 558.2 218.4 563.1 219.1ZM547.6 222.4L542.7 221.5 546.2 220.3 551.2 221.1ZM551.2 221.1L546.2 220.3 549.8 219 554.7 219.8ZM539.1 222.8L534.1 221.9 537.7 220.7 542.7 221.5ZM542.7 221.5L537.7 220.7 541.3 219.5 546.2 220.3ZM546.2 220.3L541.3 219.5 544.8 218.3 549.8 219ZM534.1 221.9L529.2 220.9 532.8 219.8 537.7 220.7ZM537.7 220.7L532.8 219.8 536.3 218.7 541.3 219.5Z" fill="#2fec97" stroke="#2fec97" stroke-width="0.5"/>
<path d="M594.7 219L589.8 218.5 593.2 216.9 598.1 217.3ZM598.1 217.3L593.2 216.9 596.6 215.2 601.5 215.7ZM582.9 221.7L578 221.1 581.4 219.5 586.3 220.1ZM586.3 220.1L581.4 219.5 584.8 218 589.8 218.5ZM589.8 218.5L584.8 218 588.3 216.4 593.2 216.9ZM593.2 216.9L588.3 216.4 591.7 214.8 596.6 215.2ZM571 224.2L566.1 223.4 569.5 221.9 574.5 222.6ZM574.5 222.6L569.5 221.9 573 220.4 578 221.1ZM578 221.1L573 220.4 576.5 218.9 581.4 219.5ZM581.4 219.5L576.5 218.9 579.9 217.4 584.8 218ZM562.6 224.9L557.6 224.1 561.1 222.6 566.1 223.4ZM566.1 223.4L561.1 222.6 564.6 221.2 569.5 221.9ZM569.5 221.9L564.6 221.2 568.1 219.8 573 220.4ZM554.1 225.5L549.1 224.6 552.6 223.2 557.6 224.1ZM557.6 224.1L552.6 223.2 556.1 221.9 561.1 222.6ZM561.1 222.6L556.1 221.9 559.6 220.5 564.6 221.2ZM545.6 225.9L540.6 225 544.1 223.7 549.1 224.6ZM549.1 224.6L544.1 223.7 547.6 222.4 552.6 223.2ZM552.6 223.2L547.6 222.4 551.2 221.1 556.1 221.9ZM540.6 225L535.6 224 539.1 222.8 544.1 223.7ZM544.1 223.7L539.1 222.8 542.7 221.5 547.6 222.4ZM532 225.2L527 224.2 530.6 223 535.6 224ZM535.6 224L530.6 223 534.1 221.9 539.1 222.8ZM527 224.2L521.9 223.2 525.5 222.1 530.6 223ZM530.6 223L525.5 222.1 529.2 220.9 534.1 221.9Z" fill="#30ed8b" stroke="#30ed8b" stroke-width="0.5"/>
<path d="M590.7 267.3L585.4 265.6 588.7 263.3 593.9 264.9ZM585.4 265.6L580.2 263.9 583.4 261.7 588.7 263.3ZM604.6 220.1L599.6 219.6 603 217.8 607.9 218.3ZM607.9 218.3L603 217.8 606.4 216.1 611.3 216.5ZM586 226.5L581 225.7 584.4 224.1 589.4 224.8ZM589.4 224.8L584.4 224.1 587.9 222.4 592.8 223ZM592.8 223L587.9 222.4 591.3 220.7 596.2 221.3ZM596.2 221.3L591.3 220.7 594.7 219 599.6 219.6ZM599.6 219.6L594.7 219 598.1 217.3 603 217.8ZM603 217.8L598.1 217.3 601.5 215.7 606.4 216.1ZM574.2 229.1L569.1 228.2 572.6 226.6 577.6 227.4ZM577.6 227.4L572.6 226.6 576 225 581 225.7ZM581 225.7L576 225 579.5 223.4 584.4 224.1ZM584.4 224.1L579.5 223.4 582.9 221.7 587.9 222.4ZM587.9 222.4L582.9 221.7 586.3 220.1 591.3 220.7ZM591.3 220.7L586.3 220.1 589.8 218.5 594.7 219ZM565.7 229.8L560.7 228.8 564.1 227.3 569.1 228.2ZM569.1 228.2L564.1 227.3 567.6 225.7 572.6 226.6ZM572.6 226.6L567.6 225.7 571 224.2 576 225ZM576 225L571 224.2 574.5 222.6 579.5 223.4ZM579.5 223.4L574.5 222.6 578 221.1 582.9 221.7ZM557.2 230.4L552.2 229.4 555.6 227.9 560.7 228.8ZM560.7 228.8L555.6 227.9 559.1 226.4 564.1 227.3ZM564.1 227.3L559.1 226.4 562.6 224.9 567.6 225.7ZM567.6 225.7L562.6 224.9 566.1 223.4 571 224.2ZM552.2 229.4L547.1 228.3 550.6 226.9 555.6 227.9ZM555.6 227.9L550.6 226.9 554.1 225.5 559.1 226.4ZM559.1 226.4L554.1 225.5 557.6 224.1 562.6 224.9ZM543.6 229.7L538.5 228.6 542.1 227.3 547.1 228.3ZM547.1 228.3L542.1 227.3 545.6 225.9 550.6 226.9ZM550.6 226.9L545.6 225.9 549.1 224.6 554.1 225.5ZM538.5 228.6L533.5 227.6 537 226.3 542.1 227.3ZM542.1 227.3L537 226.3 540.6 225 545.6 225.9ZM533.5 227.6L528.4 226.5 532 225.2 537 226.3ZM537 226.3L532 225.2 535.6 224 540.6 225ZM524.8 227.7L519.8 226.5 523.4 225.4 528.4 226.5ZM528.4 226.5L523.4 225.4 527 224.2 532 225.2ZM519.8 226.5L514.7 225.4 518.3 224.3 523.4 225.4ZM523.4 225.4L518.3 224.3 521.9 223.2 527 224.2Z" fill="#31ed80" stroke="#31ed80" stroke-width="0.5"/>
<path d="M593.9 264.9L588.7 263.3 591.9 261 597.2 262.5ZM597.2 262.5L591.9 261 595.2 258.6 600.4 260.1ZM600.4 260.1L595.2 258.6 598.5 256.3 603.7 257.7ZM603.7 257.7L598.5 256.3 601.8 254 606.9 255.3ZM588.7 263.3L583.4 261.7 586.7 259.4 591.9 261ZM591.9 261L586.7 259.4 590 257.2 595.2 258.6ZM595.2 258.6L590 257.2 593.3 254.9 598.5 256.3ZM598.5 256.3L593.3 254.9 596.6 252.7 601.8 254ZM580.2 263.9L574.9 262.3 578.2 260.1 583.4 261.7ZM583.4 261.7L578.2 260.1 581.5 257.9 586.7 259.4ZM586.7 259.4L581.5 257.9 584.8 255.7 590 257.2ZM590 257.2L584.8 255.7 588.1 253.5 593.3 254.9ZM593.3 254.9L588.1 253.5 591.4 251.4 596.6 252.7ZM574.9 262.3L569.7 260.6 573 258.5 578.2 260.1ZM578.2 260.1L573 258.5 576.3 256.4 581.5 257.9ZM581.5 257.9L576.3 256.4 579.6 254.2 584.8 255.7ZM584.8 255.7L579.6 254.2 582.9 252.1 588.1 253.5ZM569.7 260.6L564.4 258.9 567.7 256.9 573 258.5ZM573 258.5L567.7 256.9 571.1 254.8 576.3 256.4ZM576.3 256.4L571.1 254.8 574.4 252.8 579.6 254.2ZM579.6 254.2L574.4 252.8 577.8 250.7 582.9 252.1ZM564.4 258.9L559.2 257.2 562.5 255.3 567.7 256.9ZM567.7 256.9L562.5 255.3 565.9 253.3 571.1 254.8ZM571.1 254.8L565.9 253.3 569.2 251.3 574.4 252.8ZM579.1 237.3L574 236.2 577.4 234.4 582.5 235.5ZM582.5 235.5L577.4 234.4 580.8 232.7 585.9 233.6ZM585.9 233.6L580.8 232.7 584.2 230.9 589.3 231.7ZM589.3 231.7L584.2 230.9 587.6 229.1 592.6 229.9ZM592.6 229.9L587.6 229.1 591 227.3 596 228ZM596 228L591 227.3 594.4 225.5 599.4 226.2ZM599.4 226.2L594.4 225.5 597.8 223.7 602.8 224.3ZM602.8 224.3L597.8 223.7 601.2 221.9 606.1 222.5ZM606.1 222.5L601.2 221.9 604.6 220.1 609.5 220.6ZM609.5 220.6L604.6 220.1 607.9 218.3 612.9 218.7ZM612.9 218.7L607.9 218.3 611.3 216.5 616.2 216.9ZM570.6 238L565.5 236.9 569 235.2 574 236.2ZM574 236.2L569 235.2 572.4 233.4 577.4 234.4ZM577.4 234.4L572.4 233.4 575.8 231.7 580.8 232.7ZM580.8 232.7L575.8 231.7 579.2 230 584.2 230.9ZM584.2 230.9L579.2 230 582.6 228.2 587.6 229.1ZM587.6 229.1L582.6 228.2 586 226.5 591 227.3ZM591 227.3L586 226.5 589.4 224.8 594.4 225.5ZM594.4 225.5L589.4 224.8 592.8 223 597.8 223.7ZM597.8 223.7L592.8 223 596.2 221.3 601.2 221.9ZM601.2 221.9L596.2 221.3 599.6 219.6 604.6 220.1ZM562.1 238.6L557 237.4 560.4 235.7 565.5 236.9ZM565.5 236.9L560.4 235.7 563.9 234.1 569 235.2ZM569 235.2L563.9 234.1 567.3 232.4 572.4 233.4ZM572.4 233.4L567.3 232.4 570.7 230.8 575.8 231.7ZM575.8 231.7L570.7 230.8 574.2 229.1 579.2 230ZM579.2 230L574.2 229.1 577.6 227.4 582.6 228.2ZM582.6 228.2L577.6 227.4 581 225.7 586 226.5ZM557 237.4L551.9 236.2 555.4 234.6 560.4 235.7ZM560.4 235.7L555.4 234.6 558.8 233 563.9 234.1ZM563.9 234.1L558.8 233 562.3 231.4 567.3 232.4ZM567.3 232.4L562.3 231.4 565.7 229.8 570.7 230.8ZM570.7 230.8L565.7 229.8 569.1 228.2 574.2 229.1ZM551.9 236.2L546.8 235 550.3 233.4 555.4 234.6ZM555.4 234.6L550.3 233.4 553.7 231.9 558.8 233ZM558.8 233L553.7 231.9 557.2 230.4 562.3 231.4ZM562.3 231.4L557.2 230.4 560.7 228.8 565.7 229.8ZM546.8 235L541.7 233.8 545.2 232.3 550.3 233.4ZM550.3 233.4L545.2 232.3 548.7 230.8 553.7 231.9ZM553.7 231.9L548.7 230.8 552.2 229.4 557.2 230.4ZM538.2 235.2L533 233.9 536.6 232.5 541.7 233.8ZM541.7 233.8L536.6 232.5 540.1 231.1 545.2 232.3ZM545.2 232.3L540.1 231.1 543.6 229.7 548.7 230.8ZM548.7 230.8L543.6 229.7 547.1 228.3 552.2 229.4ZM533 233.9L527.9 232.7 531.5 231.3 536.6 232.5ZM536.6 232.5L531.5 231.3 535 230 540.1 231.1ZM540.1 231.1L535 230 538.5 228.6 543.6 229.7ZM527.9 232.7L522.8 231.4 526.4 230.1 531.5 231.3ZM531.5 231.3L526.4 230.1 529.9 228.8 535 230ZM535 230L529.9 228.8 533.5 227.6 538.5 228.6ZM522.8 231.4L517.7 230.1 521.3 228.9 526.4 230.1ZM526.4 230.1L521.3 228.9 524.8 227.7 529.9 228.8ZM529.9 228.8L524.8 227.7 528.4 226.5 533.5 227.6ZM517.7 230.1L512.6 228.8 516.2 227.7 521.3 228.9ZM521.3 228.9L516.2 227.7 519.8 226.5 524.8 227.7ZM512.6 228.8L507.4 227.5 511.1 226.5 516.2 227.7ZM516.2 227.7L511.1 226.5 514.7 225.4 519.8 226.5Z" fill="#32ed75" stroke="#32ed75" stroke-width="0.5"/>
<path d="M606.9 255.3L601.8 254 605 251.7 610.2 253ZM610.2 253L605 251.7 608.3 249.4 613.4 250.6ZM613.4 250.6L608.3 249.4 611.6 247.1 616.7 248.2ZM616.7 248.2L611.6 247.1 614.8 244.8 620 245.8ZM601.8 254L596.6 252.7 599.9 250.4 605 251.7ZM605 251.7L599.9 250.4 603.2 248.2 608.3 249.4ZM608.3 249.4L603.2 248.2 606.4 246 611.6 247.1ZM611.6 247.1L606.4 246 609.7 243.7 614.8 244.8ZM596.6 252.7L591.4 251.4 594.7 249.2 599.9 250.4ZM599.9 250.4L594.7 249.2 598 247 603.2 248.2ZM603.2 248.2L598 247 601.3 244.8 606.4 246ZM606.4 246L601.3 244.8 604.6 242.7 609.7 243.7ZM609.7 243.7L604.6 242.7 607.9 240.5 613 241.5ZM588.1 253.5L582.9 252.1 586.2 250 591.4 251.4ZM591.4 251.4L586.2 250 589.6 247.9 594.7 249.2ZM594.7 249.2L589.6 247.9 592.9 245.8 598 247ZM598 247L592.9 245.8 596.2 243.7 601.3 244.8ZM601.3 244.8L596.2 243.7 599.5 241.6 604.6 242.7ZM604.6 242.7L599.5 241.6 602.8 239.5 607.9 240.5ZM607.9 240.5L602.8 239.5 606.2 237.4 611.2 238.3ZM582.9 252.1L577.8 250.7 581.1 248.7 586.2 250ZM586.2 250L581.1 248.7 584.4 246.7 589.6 247.9ZM589.6 247.9L584.4 246.7 587.8 244.6 592.9 245.8ZM592.9 245.8L587.8 244.6 591.1 242.6 596.2 243.7ZM596.2 243.7L591.1 242.6 594.4 240.5 599.5 241.6ZM599.5 241.6L594.4 240.5 597.7 238.5 602.8 239.5ZM602.8 239.5L597.7 238.5 601.1 236.4 606.2 237.4ZM606.2 237.4L601.1 236.4 604.4 234.4 609.5 235.3ZM609.5 235.3L604.4 234.4 607.7 232.3 612.8 233.1ZM574.4 252.8L569.2 251.3 572.6 249.3 577.8 250.7ZM577.8 250.7L572.6 249.3 575.9 247.4 581.1 248.7ZM581.1 248.7L575.9 247.4 579.3 245.4 584.4 246.7ZM584.4 246.7L579.3 245.4 582.6 243.4 587.8 244.6ZM587.8 244.6L582.6 243.4 586 241.4 591.1 242.6ZM591.1 242.6L586 241.4 589.3 239.4 594.4 240.5ZM594.4 240.5L589.3 239.4 592.7 237.5 597.7 238.5ZM597.7 238.5L592.7 237.5 596 235.5 601.1 236.4ZM601.1 236.4L596 235.5 599.4 233.5 604.4 234.4ZM604.4 234.4L599.4 233.5 602.7 231.5 607.7 232.3ZM607.7 232.3L602.7 231.5 606.1 229.5 611.1 230.3ZM611.1 230.3L606.1 229.5 609.4 227.6 614.4 228.2ZM614.4 228.2L609.4 227.6 612.7 225.6 617.7 226.2ZM617.7 226.2L612.7 225.6 616.1 223.6 621.1 224.2ZM559.2 257.2L553.9 255.6 557.3 253.7 562.5 255.3ZM562.5 255.3L557.3 253.7 560.7 251.8 565.9 253.3ZM565.9 253.3L560.7 251.8 564 249.8 569.2 251.3ZM569.2 251.3L564 249.8 567.4 247.9 572.6 249.3ZM572.6 249.3L567.4 247.9 570.8 246 575.9 247.4ZM575.9 247.4L570.8 246 574.1 244.1 579.3 245.4ZM579.3 245.4L574.1 244.1 577.5 242.2 582.6 243.4ZM582.6 243.4L577.5 242.2 580.9 240.3 586 241.4ZM586 241.4L580.9 240.3 584.2 238.4 589.3 239.4ZM589.3 239.4L584.2 238.4 587.6 236.5 592.7 237.5ZM592.7 237.5L587.6 236.5 591 234.5 596 235.5ZM596 235.5L591 234.5 594.3 232.6 599.4 233.5ZM599.4 233.5L594.3 232.6 597.7 230.7 602.7 231.5ZM602.7 231.5L597.7 230.7 601 228.8 606.1 229.5ZM606.1 229.5L601 228.8 604.4 226.9 609.4 227.6ZM609.4 227.6L604.4 226.9 607.8 224.9 612.7 225.6ZM612.7 225.6L607.8 224.9 611.1 223 616.1 223.6ZM616.1 223.6L611.1 223 614.5 221.1 619.4 221.6ZM619.4 221.6L614.5 221.1 617.8 219.2 622.8 219.6ZM622.8 219.6L617.8 219.2 621.2 217.2 626.1 217.6ZM553.9 255.6L548.7 253.9 552 252.1 557.3 253.7ZM557.3 253.7L552 252.1 555.4 250.2 560.7 251.8ZM560.7 251.8L555.4 250.2 558.8 248.4 564 249.8ZM564 249.8L558.8 248.4 562.2 246.5 567.4 247.9ZM567.4 247.9L562.2 246.5 565.6 244.7 570.8 246ZM570.8 246L565.6 244.7 569 242.9 574.1 244.1ZM574.1 244.1L569 242.9 572.4 241 577.5 242.2ZM577.5 242.2L572.4 241 575.8 239.2 580.9 240.3ZM580.9 240.3L575.8 239.2 579.1 237.3 584.2 238.4ZM584.2 238.4L579.1 237.3 582.5 235.5 587.6 236.5ZM587.6 236.5L582.5 235.5 585.9 233.6 591 234.5ZM591 234.5L585.9 233.6 589.3 231.7 594.3 232.6ZM594.3 232.6L589.3 231.7 592.6 229.9 597.7 230.7ZM597.7 230.7L592.6 229.9 596 228 601 228.8ZM601 228.8L596 228 599.4 226.2 604.4 226.9ZM604.4 226.9L599.4 226.2 602.8 224.3 607.8 224.9ZM607.8 224.9L602.8 224.3 606.1 222.5 611.1 223ZM611.1 223L606.1 222.5 609.5 220.6 614.5 221.1ZM614.5 221.1L609.5 220.6 612.9 218.7 617.8 219.2ZM617.8 219.2L612.9 218.7 616.2 216.9 621.2 217.2ZM548.7 253.9L543.4 252.2 546.8 250.5 552 252.1ZM552 252.1L546.8 250.5 550.2 248.7 555.4 250.2ZM555.4 250.2L550.2 248.7 553.6 246.9 558.8 248.4ZM558.8 248.4L553.6 246.9 557 245.1 562.2 246.5ZM562.2 246.5L557 245.1 560.4 243.4 565.6 244.7ZM565.6 244.7L560.4 243.4 563.8 241.6 569 242.9ZM569 242.9L563.8 241.6 567.2 239.8 572.4 241ZM572.4 241L567.2 239.8 570.6 238 575.8 239.2ZM575.8 239.2L570.6 238 574 236.2 579.1 237.3ZM543.4 252.2L538.1 250.6 541.6 248.9 546.8 250.5ZM546.8 250.5L541.6 248.9 545 247.2 550.2 248.7ZM550.2 248.7L545 247.2 548.4 245.4 553.6 246.9ZM553.6 246.9L548.4 245.4 551.9 243.7 557 245.1ZM557 245.1L551.9 243.7 555.3 242 560.4 243.4ZM560.4 243.4L555.3 242 558.7 240.3 563.8 241.6ZM563.8 241.6L558.7 240.3 562.1 238.6 567.2 239.8ZM567.2 239.8L562.1 238.6 565.5 236.9 570.6 238ZM538.1 250.6L532.9 248.9 536.3 247.3 541.6 248.9ZM541.6 248.9L536.3 247.3 539.8 245.6 545 247.2ZM545 247.2L539.8 245.6 543.2 244 548.4 245.4ZM548.4 245.4L543.2 244 546.7 242.3 551.9 243.7ZM551.9 243.7L546.7 242.3 550.1 240.7 555.3 242ZM555.3 242L550.1 240.7 553.6 239 558.7 240.3ZM558.7 240.3L553.6 239 557 237.4 562.1 238.6ZM536.3 247.3L531.1 245.7 534.6 244.1 539.8 245.6ZM539.8 245.6L534.6 244.1 538 242.5 543.2 244ZM543.2 244L538 242.5 541.5 240.9 546.7 242.3ZM546.7 242.3L541.5 240.9 545 239.4 550.1 240.7ZM550.1 240.7L545 239.4 548.4 237.8 553.6 239ZM553.6 239L548.4 237.8 551.9 236.2 557 237.4ZM534.6 244.1L529.4 242.6 532.8 241 538 242.5ZM538 242.5L532.8 241 536.3 239.5 541.5 240.9ZM541.5 240.9L536.3 239.5 539.8 238 545 239.4ZM545 239.4L539.8 238 543.3 236.5 548.4 237.8ZM548.4 237.8L543.3 236.5 546.8 235 551.9 236.2ZM532.8 241L527.7 239.6 531.2 238.1 536.3 239.5ZM536.3 239.5L531.2 238.1 534.7 236.7 539.8 238ZM539.8 238L534.7 236.7 538.2 235.2 543.3 236.5ZM543.3 236.5L538.2 235.2 541.7 233.8 546.8 235ZM527.7 239.6L522.5 238.1 526 236.7 531.2 238.1ZM531.2 238.1L526 236.7 529.5 235.3 534.7 236.7ZM534.7 236.7L529.5 235.3 533 233.9 538.2 235.2ZM522.5 238.1L517.3 236.6 520.8 235.3 526 236.7ZM526 236.7L520.8 235.3 524.4 234 529.5 235.3ZM529.5 235.3L524.4 234 527.9 232.7 533 233.9ZM520.8 235.3L515.7 233.9 519.2 232.6 524.4 234ZM524.4 234L519.2 232.6 522.8 231.4 527.9 232.7ZM515.7 233.9L510.5 232.5 514.1 231.3 519.2 232.6ZM519.2 232.6L514.1 231.3 517.7 230.1 522.8 231.4ZM510.5 232.5L505.3 231.1 508.9 230 514.1 231.3ZM514.1 231.3L508.9 230 512.6 228.8 517.7 230.1ZM505.3 231.1L500.2 229.7 503.8 228.6 508.9 230ZM508.9 230L503.8 228.6 507.4 227.5 512.6 228.8Z" fill="#33ed69" stroke="#33ed69" stroke-width="0.5"/>
<path d="M620 245.8L614.8 244.8 618.1 242.5 623.2 243.5ZM623.2 243.5L618.1 242.5 621.4 240.2 626.5 241.1ZM626.5 241.1L621.4 240.2 624.7 237.9 629.8 238.7ZM614.8 244.8L609.7 243.7 613 241.5 618.1 242.5ZM618.1 242.5L613 241.5 616.3 239.2 621.4 240.2ZM621.4 240.2L616.3 239.2 619.6 237 624.7 237.9ZM624.7 237.9L619.6 237 622.9 234.8 628 235.6ZM613 241.5L607.9 240.5 611.2 238.3 616.3 239.2ZM616.3 239.2L611.2 238.3 614.5 236.1 619.6 237ZM619.6 237L614.5 236.1 617.8 234 622.9 234.8ZM622.9 234.8L617.8 234 621.1 231.8 626.2 232.5ZM626.2 232.5L621.1 231.8 624.4 229.6 629.5 230.3ZM611.2 238.3L606.2 237.4 609.5 235.3 614.5 236.1ZM614.5 236.1L609.5 235.3 612.8 233.1 617.8 234ZM617.8 234L612.8 233.1 616.1 231 621.1 231.8ZM621.1 231.8L616.1 231 619.4 228.9 624.4 229.6ZM624.4 229.6L619.4 228.9 622.7 226.8 627.8 227.4ZM627.8 227.4L622.7 226.8 626.1 224.7 631.1 225.3ZM612.8 233.1L607.7 232.3 611.1 230.3 616.1 231ZM616.1 231L611.1 230.3 614.4 228.2 619.4 228.9ZM619.4 228.9L614.4 228.2 617.7 226.2 622.7 226.8ZM622.7 226.8L617.7 226.2 621.1 224.2 626.1 224.7ZM626.1 224.7L621.1 224.2 624.4 222.1 629.4 222.6ZM629.4 222.6L624.4 222.1 627.7 220.1 632.7 220.5ZM632.7 220.5L627.7 220.1 631.1 218 636 218.4ZM621.1 224.2L616.1 223.6 619.4 221.6 624.4 222.1ZM624.4 222.1L619.4 221.6 622.8 219.6 627.7 220.1ZM627.7 220.1L622.8 219.6 626.1 217.6 631.1 218ZM532.9 248.9L527.6 247.2 531.1 245.7 536.3 247.3ZM527.6 247.2L522.4 245.6 525.9 244.1 531.1 245.7ZM531.1 245.7L525.9 244.1 529.4 242.6 534.6 244.1ZM522.4 245.6L517.1 243.9 520.6 242.5 525.9 244.1ZM525.9 244.1L520.6 242.5 524.1 241 529.4 242.6ZM529.4 242.6L524.1 241 527.7 239.6 532.8 241ZM517.1 243.9L511.8 242.2 515.4 240.9 520.6 242.5ZM520.6 242.5L515.4 240.9 518.9 239.5 524.1 241ZM524.1 241L518.9 239.5 522.5 238.1 527.7 239.6ZM515.4 240.9L510.1 239.3 513.7 238 518.9 239.5ZM518.9 239.5L513.7 238 517.3 236.6 522.5 238.1ZM510.1 239.3L504.9 237.7 508.5 236.4 513.7 238ZM513.7 238L508.5 236.4 512.1 235.2 517.3 236.6ZM517.3 236.6L512.1 235.2 515.7 233.9 520.8 235.3ZM508.5 236.4L503.3 234.9 506.9 233.7 512.1 235.2ZM512.1 235.2L506.9 233.7 510.5 232.5 515.7 233.9ZM503.3 234.9L498.1 233.4 501.7 232.2 506.9 233.7ZM506.9 233.7L501.7 232.2 505.3 231.1 510.5 232.5ZM498.1 233.4L492.8 231.8 496.5 230.8 501.7 232.2ZM501.7 232.2L496.5 230.8 500.2 229.7 505.3 231.1Z" fill="#34ed5e" stroke="#34ed5e" stroke-width="0.5"/>
<path d="M629.8 238.7L624.7 237.9 628 235.6 633 236.4ZM633 236.4L628 235.6 631.2 233.3 636.3 234ZM636.3 234L631.2 233.3 634.5 231 639.6 231.6ZM639.6 231.6L634.5 231 637.8 228.7 642.8 229.3ZM628 235.6L622.9 234.8 626.2 232.5 631.2 233.3ZM631.2 233.3L626.2 232.5 629.5 230.3 634.5 231ZM634.5 231L629.5 230.3 632.8 228 637.8 228.7ZM637.8 228.7L632.8 228 636.1 225.8 641.1 226.4ZM629.5 230.3L624.4 229.6 627.8 227.4 632.8 228ZM632.8 228L627.8 227.4 631.1 225.3 636.1 225.8ZM636.1 225.8L631.1 225.3 634.4 223.1 639.4 223.6ZM639.4 223.6L634.4 223.1 637.7 220.9 642.7 221.4ZM642.7 221.4L637.7 220.9 641 218.8 646 219.1ZM631.1 225.3L626.1 224.7 629.4 222.6 634.4 223.1ZM634.4 223.1L629.4 222.6 632.7 220.5 637.7 220.9ZM637.7 220.9L632.7 220.5 636 218.4 641 218.8ZM511.8 242.2L506.6 240.6 510.1 239.3 515.4 240.9ZM506.6 240.6L501.3 238.9 504.9 237.7 510.1 239.3ZM501.3 238.9L496 237.2 499.7 236.1 504.9 237.7ZM504.9 237.7L499.7 236.1 503.3 234.9 508.5 236.4ZM496 237.2L490.8 235.6 494.4 234.5 499.7 236.1ZM499.7 236.1L494.4 234.5 498.1 233.4 503.3 234.9ZM490.8 235.6L485.5 233.9 489.2 232.9 494.4 234.5ZM494.4 234.5L489.2 232.9 492.8 231.8 498.1 233.4Z" fill="#35ee53" stroke="#35ee53" stroke-width="0.5"/>
<path d="M642.8 229.3L637.8 228.7 641.1 226.4 646.1 226.9ZM646.1 226.9L641.1 226.4 644.4 224.1 649.4 224.5ZM649.4 224.5L644.4 224.1 647.7 221.8 652.7 222.2ZM641.1 226.4L636.1 225.8 639.4 223.6 644.4 224.1ZM644.4 224.1L639.4 223.6 642.7 221.4 647.7 221.8ZM647.7 221.8L642.7 221.4 646 219.1 650.9 219.5Z" fill="#36ee47" stroke="#36ee47" stroke-width="0.5"/>
<path d="M652.7 222.2L647.7 221.8 650.9 219.5 655.9 219.8Z" fill="#37ee3c" stroke="#37ee3c" stroke-width="0.5"/>
<path d="M590.7 267.3L655.9 219.8M585.4 265.6L650.9 219.5M580.2 263.9L646 219.1M574.9 262.3L641 218.8M569.7 260.6L636 218.4M564.4 258.9L631.1 218M559.2 257.2L626.1 217.6M553.9 255.6L621.2 217.2M548.7 253.9L616.2 216.9M543.4 252.2L611.3 216.5M538.1 250.6L606.4 216.1M532.9 248.9L601.5 215.7M527.6 247.2L596.6 215.2M522.4 245.6L591.7 214.8M517.1 243.9L586.8 214.4M511.8 242.2L582 214M506.6 240.6L577.1 213.6M501.3 238.9L572.3 213.1M496 237.2L567.4 212.7M490.8 235.6L562.6 212.2M485.5 233.9L557.8 211.8M590.7 267.3L485.5 233.9M593.9 264.9L489.2 232.9M597.2 262.5L492.8 231.8M600.4 260.1L496.5 230.8M603.7 257.7L500.2 229.7M606.9 255.3L503.8 228.6M610.2 253L507.4 227.5M613.4 250.6L511.1 226.5M616.7 248.2L514.7 225.4M620 245.8L518.3 224.3M623.2 243.5L521.9 223.2M626.5 241.1L525.5 222.1M629.8 238.7L529.2 220.9M633 236.4L532.8 219.8M636.3 234L536.3 218.7M639.6 231.6L539.9 217.5M642.8 229.3L543.5 216.4M646.1 226.9L547.1 215.3M649.4 224.5L550.6 214.1M652.7 222.2L554.2 212.9M655.9 219.8L557.8 211.8" stroke="#000" stroke-opacity="0.25" stroke-width="0.5" fill="none"/>
<circle cx="572" cy="229.8" r="1.5" fill="#8e1515"/>
<text x="474.4" y="199.1" font-family='"Liberation Sans", sans-serif' font-size="6.3" font-weight="bold" letter-spacing="0.25" fill="#262626" text-anchor="middle" dominant-baseline="central">0.6</text>
<text x="475.8" y="211.5" font-family='"Liberation Sans", sans-serif' font-size="6.3" font-weight="bold" letter-spacing="0.25" fill="#262626" text-anchor="middle" dominant-baseline="central">0.5</text>
<text x="476.5" y="223.8" font-family='"Liberation Sans", sans-serif' font-size="6.3" font-weight="bold" letter-spacing="0.25" fill="#262626" text-anchor="middle" dominant-baseline="central">0.4</text>
<text x="477" y="236.2" font-family='"Liberation Sans", sans-serif' font-size="6.3" font-weight="bold" letter-spacing="0.25" fill="#262626" text-anchor="middle" dominant-baseline="central">0.3</text>
<text x="477.5" y="248.5" font-family='"Liberation Sans", sans-serif' font-size="6.3" font-weight="bold" letter-spacing="0.25" fill="#262626" text-anchor="middle" dominant-baseline="central">0.2</text>
<text x="480.1" y="261.2" font-family='"Liberation Sans", sans-serif' font-size="6.3" font-weight="bold" letter-spacing="0.25" fill="#262626" text-anchor="middle" dominant-baseline="central">0.1</text>
<text x="460" y="237.3" font-family='"Liberation Serif", serif' font-size="9.6" font-weight="bold" textLength="14.4" lengthAdjust="spacingAndGlyphs" fill="#151515" text-anchor="middle" dominant-baseline="central" transform="rotate(-90 460 237.3)">PDI</text>
<text x="485.4" y="287.1" font-family='"Liberation Sans", sans-serif' font-size="6.3" font-weight="bold" letter-spacing="0.25" fill="#262626" text-anchor="middle" dominant-baseline="central">4</text>
<text x="502.3" y="293.8" font-family='"Liberation Sans", sans-serif' font-size="6.3" font-weight="bold" letter-spacing="0.25" fill="#262626" text-anchor="middle" dominant-baseline="central">3.5</text>
<text x="524.7" y="300.9" font-family='"Liberation Sans", sans-serif' font-size="6.3" font-weight="bold" letter-spacing="0.25" fill="#262626" text-anchor="middle" dominant-baseline="central">3</text>
<text x="541.8" y="307.1" font-family='"Liberation Sans", sans-serif' font-size="6.3" font-weight="bold" letter-spacing="0.25" fill="#262626" text-anchor="middle" dominant-baseline="central">2.5</text>
<text x="564.4" y="313.6" font-family='"Liberation Sans", sans-serif' font-size="6.3" font-weight="bold" letter-spacing="0.25" fill="#262626" text-anchor="middle" dominant-baseline="central">2</text>
<text x="581.8" y="320.3" font-family='"Liberation Sans", sans-serif' font-size="6.3" font-weight="bold" letter-spacing="0.25" fill="#262626" text-anchor="middle" dominant-baseline="central">1.5</text>
<text x="657.6" y="273" font-family='"Liberation Sans", sans-serif' font-size="6.3" font-weight="bold" letter-spacing="0.25" fill="#262626" text-anchor="middle" dominant-baseline="central">30</text>
<text x="647.9" y="281.1" font-family='"Liberation Sans", sans-serif' font-size="6.3" font-weight="bold" letter-spacing="0.25" fill="#262626" text-anchor="middle" dominant-baseline="central">40</text>
<text x="637.3" y="288.9" font-family='"Liberation Sans", sans-serif' font-size="6.3" font-weight="bold" letter-spacing="0.25" fill="#262626" text-anchor="middle" dominant-baseline="central">50</text>
<text x="627.1" y="296.5" font-family='"Liberation Sans", sans-serif' font-size="6.3" font-weight="bold" letter-spacing="0.25" fill="#262626" text-anchor="middle" dominant-baseline="central">60</text>
<text x="617.1" y="304.4" font-family='"Liberation Sans", sans-serif' font-size="6.3" font-weight="bold" letter-spacing="0.25" fill="#262626" text-anchor="middle" dominant-baseline="central">70</text>
<text x="606.5" y="312.3" font-family='"Liberation Sans", sans-serif' font-size="6.3" font-weight="bold" letter-spacing="0.25" fill="#262626" text-anchor="middle" dominant-baseline="central">80</text>
<text x="596.4" y="320.6" font-family='"Liberation Sans", sans-serif' font-size="6.3" font-weight="bold" letter-spacing="0.25" fill="#262626" text-anchor="middle" dominant-baseline="central">90</text>
<text x="515.1" y="317.1" font-family='"Liberation Serif", serif' font-size="8.5" textLength="44.1" lengthAdjust="spacingAndGlyphs" fill="#151515" stroke="#151515" stroke-width="0.2" text-anchor="middle" dominant-baseline="central">B: Surfactant</text>
<text x="515" y="327.3" font-family='"Liberation Serif", serif' font-size="8.5" textLength="45.5" lengthAdjust="spacingAndGlyphs" fill="#151515" stroke="#151515" stroke-width="0.2" text-anchor="middle" dominant-baseline="central">concentration</text>
<text x="515" y="336.6" font-family='"Liberation Serif", serif' font-size="8.5" textLength="25" lengthAdjust="spacingAndGlyphs" fill="#151515" stroke="#151515" stroke-width="0.2" text-anchor="middle" dominant-baseline="central">(%w/v)</text>
<text x="653" y="303.4" font-family='"Liberation Serif", serif' font-size="8.5" textLength="45.1" lengthAdjust="spacingAndGlyphs" fill="#151515" stroke="#151515" stroke-width="0.2" text-anchor="middle" dominant-baseline="central">C: Sonication</text>
<text x="653.1" y="313.5" font-family='"Liberation Serif", serif' font-size="8.5" textLength="35.7" lengthAdjust="spacingAndGlyphs" fill="#151515" stroke="#151515" stroke-width="0.2" text-anchor="middle" dominant-baseline="central">Time (sec)</text>
<text x="568.9" y="329" font-family='"Liberation Serif", serif' font-size="14" font-weight="bold" fill="#111" text-anchor="middle" dominant-baseline="central">F</text>
<path d="M46.8 427.1L37.4 354.9M71.2 403.9L66.3 350.3M97.9 398.7L95.3 345.6M124.6 393.5L124.2 341M150.6 405.7L153.2 336.4M44.4 409L151.3 388.3M43.6 402.3L151.5 381.8M42.7 395.5L151.8 375.3M41.8 388.7L152 368.8M40.9 382L152.2 362.4M40 375.2L152.5 355.9M39.2 368.4L152.7 349.4M38.3 361.6L153 342.9M37.4 354.9L153.2 336.4M208.8 453.9L219.4 380.5M199.4 426.1L206.2 371.7M187.4 416.7L192.9 362.9M175.3 407.2L179.7 354M163.3 397.8L166.4 345.2M150.6 405.7L153.2 336.4M211.5 435.5L151.3 388.3M212.4 428.7L151.5 381.8M213.4 421.8L151.8 375.3M214.4 414.9L152 368.8M215.4 408L152.2 362.4M216.4 401.1L152.5 355.9M217.4 394.2L152.7 349.4M218.4 387.4L153 342.9M219.4 380.5L153.2 336.4" stroke="#5c5c5c" stroke-width="0.9" fill="none"/>
<polygon points="46.8,427.1 93.5,482.1 208.8,453.9 150.6,405.7" fill="#626262"/>
<clipPath id="fcG"><polygon points="46.8,427.1 93.5,482.1 208.8,453.9 150.6,405.7"/></clipPath>
<g clip-path="url(#fcG)"><path d="M65 423.9C64.2 424.9 61.8 428.1 60 430C58.2 431.9 55.4 434.2 54.5 435.1" stroke="#d0d032" stroke-width="1.4" fill="none"/><path d="M78.1 432.5C76.8 433.5 72.7 436.6 70 438.5C67.3 440.4 63.1 442.8 61.7 443.7" stroke="#a0cc32" stroke-width="1.4" fill="none"/><path d="M86.6 446.3C85.2 446.9 80.8 448.7 78 449.8C75.2 450.9 71 452.4 69.6 452.9" stroke="#48c83e" stroke-width="1.4" fill="none"/><path d="M77.5 462.3C81.1 461.6 92 459.3 99.1 458.4C106.2 457.5 113.3 456.8 120 456.8C126.7 456.8 132.8 457 139.1 458.5C145.3 460 154.4 464.7 157.5 465.9" stroke="#2ab982" stroke-width="1.4" fill="none"/><path d="M85.3 471.9C88.7 471.9 99.2 471.5 105.7 471.9C112.2 472.3 121 473.8 124.1 474.2" stroke="#2ab0aa" stroke-width="1.4" fill="none"/><path d="M158.2 429.9C159.8 429.8 164.6 429.6 168 429.5C171.4 429.4 177 429.4 178.8 429.4" stroke="#2ab982" stroke-width="1.4" fill="none"/><path d="M196.5 443.5C195.5 444.1 191.8 445.7 190.5 447C189.2 448.3 188.9 449.3 188.4 451.2C187.9 453.1 187.6 457.3 187.4 458.5" stroke="#48c83e" stroke-width="1.4" fill="none"/></g>
<path d="M46.8 427.1L93.5 482.1L208.8 453.9" stroke="#333" stroke-width="0.8" fill="none"/>
<path d="M44.4 409h-1.8M43.6 402.3h-1.8M42.7 395.5h-1.8M41.8 388.7h-1.8M40.9 382h-1.8M40 375.2h-1.8M39.2 368.4h-1.8M38.3 361.6h-1.8M37.4 354.9h-1.8M84.2 471.1l-0.9 1.6M74.8 460.1l-0.9 1.6M65.5 449.1l-0.9 1.6M56.1 438.1l-0.9 1.6M122.3 475.1l0.9 1.6M151.2 468l0.9 1.6M180 460.9l0.9 1.6" stroke="#222" stroke-width="1" fill="none"/>
<path d="M91.9 453.2L89.3 448.9 95.3 446.8 97.9 450.9Z" fill="#2bcaeb" stroke="#2bcaeb" stroke-width="0.5"/>
<path d="M97.9 450.9L95.3 446.8 101.3 444.6 103.9 448.6Z" fill="#2ad2ea" stroke="#2ad2ea" stroke-width="0.5"/>
<path d="M103.9 448.6L101.3 444.6 107.4 442.5 109.9 446.3ZM89.3 448.9L86.8 444.7 92.8 442.7 95.3 446.8Z" fill="#29dae9" stroke="#29dae9" stroke-width="0.5"/>
<path d="M109.9 446.3L107.4 442.5 113.4 440.3 116 444ZM95.3 446.8L92.8 442.7 98.8 440.6 101.3 444.6Z" fill="#29e3e7" stroke="#29e3e7" stroke-width="0.5"/>
<path d="M101.3 444.6L98.8 440.6 104.8 438.6 107.4 442.5ZM86.8 444.7L84.2 440.4 90.2 438.5 92.8 442.7Z" fill="#28ebe6" stroke="#28ebe6" stroke-width="0.5"/>
<path d="M116 444L113.4 440.3 119.4 438.2 122.1 441.7ZM107.4 442.5L104.8 438.6 110.8 436.6 113.4 440.3ZM92.8 442.7L90.2 438.5 96.2 436.7 98.8 440.6ZM149.3 379.4L146.3 377.8 151.6 378.2 154.7 379.7Z" fill="#29ebdb" stroke="#29ebdb" stroke-width="0.5"/>
<path d="M122.1 441.7L119.4 438.2 125.5 436 128.2 439.4ZM113.4 440.3L110.8 436.6 116.8 434.6 119.4 438.2ZM98.8 440.6L96.2 436.7 102.2 434.8 104.8 438.6ZM84.2 440.4L81.7 436.2 87.6 434.5 90.2 438.5ZM152.4 381.1L149.3 379.4 154.7 379.7 157.9 381.2Z" fill="#2aebcf" stroke="#2aebcf" stroke-width="0.5"/>
<path d="M128.2 439.4L125.5 436 131.6 433.9 134.3 437.1ZM119.4 438.2L116.8 434.6 122.9 432.6 125.5 436ZM104.8 438.6L102.2 434.8 108.2 432.9 110.8 436.6ZM90.2 438.5L87.6 434.5 93.6 432.7 96.2 436.7ZM155.5 382.7L152.4 381.1 157.9 381.2 161 382.7ZM143.9 379.2L140.8 377.4 146.3 377.8 149.3 379.4Z" fill="#2becc4" stroke="#2becc4" stroke-width="0.5"/>
<path d="M134.3 437.1L131.6 433.9 137.7 431.7 140.4 434.8ZM125.5 436L122.9 432.6 128.9 430.6 131.6 433.9ZM110.8 436.6L108.2 432.9 114.2 431.1 116.8 434.6ZM96.2 436.7L93.6 432.7 99.6 431 102.2 434.8ZM158.6 384.4L155.5 382.7 161 382.7 164.1 384.2ZM146.9 380.9L143.9 379.2 149.3 379.4 152.4 381.1Z" fill="#2cecb9" stroke="#2cecb9" stroke-width="0.5"/>
<path d="M140.4 434.8L137.7 431.7 143.8 429.6 146.6 432.6ZM131.6 433.9L128.9 430.6 135 428.6 137.7 431.7ZM116.8 434.6L114.2 431.1 120.2 429.2 122.9 432.6ZM122.9 432.6L120.2 429.2 126.2 427.4 128.9 430.6ZM102.2 434.8L99.6 431 105.6 429.3 108.2 432.9ZM108.2 432.9L105.6 429.3 111.5 427.6 114.2 431.1ZM81.7 436.2L79.1 431.9 85.1 430.4 87.6 434.5ZM87.6 434.5L85.1 430.4 91 428.8 93.6 432.7ZM161.7 386L158.6 384.4 164.1 384.2 167.3 385.7ZM150 382.7L146.9 380.9 152.4 381.1 155.5 382.7ZM138.4 378.9L135.4 377 140.8 377.4 143.9 379.2Z" fill="#2decad" stroke="#2decad" stroke-width="0.5"/>
<path d="M137.7 431.7L135 428.6 141.1 426.6 143.8 429.6ZM128.9 430.6L126.2 427.4 132.3 425.5 135 428.6ZM114.2 431.1L111.5 427.6 117.5 425.8 120.2 429.2ZM93.6 432.7L91 428.8 97 427.2 99.6 431ZM99.6 431L97 427.2 102.9 425.6 105.6 429.3ZM164.8 387.6L161.7 386 167.3 385.7 170.4 387.2ZM156.1 386.2L153 384.5 158.6 384.4 161.7 386ZM153 384.5L150 382.7 155.5 382.7 158.6 384.4ZM144.4 382.7L141.4 380.8 146.9 380.9 150 382.7ZM141.4 380.8L138.4 378.9 143.9 379.2 146.9 380.9Z" fill="#2eeca2" stroke="#2eeca2" stroke-width="0.5"/>
<path d="M146.6 432.6L143.8 429.6 150 427.5 152.7 430.3ZM143.8 429.6L141.1 426.6 147.2 424.6 150 427.5ZM135 428.6L132.3 425.5 138.3 423.7 141.1 426.6ZM120.2 429.2L117.5 425.8 123.5 424.1 126.2 427.4ZM126.2 427.4L123.5 424.1 129.6 422.4 132.3 425.5ZM105.6 429.3L102.9 425.6 108.9 424 111.5 427.6ZM111.5 427.6L108.9 424 114.9 422.5 117.5 425.8ZM79.1 431.9L76.5 427.7 82.5 426.3 85.1 430.4ZM85.1 430.4L82.5 426.3 88.4 424.8 91 428.8ZM167.9 389.2L164.8 387.6 170.4 387.2 173.6 388.7ZM159.2 388L156.1 386.2 161.7 386 164.8 387.6ZM147.5 384.6L144.4 382.7 150 382.7 153 384.5ZM132.9 378.6L129.9 376.6 135.4 377 138.4 378.9Z" fill="#2fec97" stroke="#2fec97" stroke-width="0.5"/>
<path d="M152.7 430.3L150 427.5 156.1 425.3 158.9 428ZM150 427.5L147.2 424.6 153.3 422.6 156.1 425.3ZM141.1 426.6L138.3 423.7 144.4 421.8 147.2 424.6ZM132.3 425.5L129.6 422.4 135.6 420.7 138.3 423.7ZM117.5 425.8L114.9 422.5 120.9 420.9 123.5 424.1ZM91 428.8L88.4 424.8 94.3 423.4 97 427.2ZM97 427.2L94.3 423.4 100.3 422 102.9 425.6ZM102.9 425.6L100.3 422 106.2 420.5 108.9 424ZM171 390.9L167.9 389.2 173.6 388.7 176.7 390.2ZM162.2 389.7L159.2 388 164.8 387.6 167.9 389.2ZM153.5 388.4L150.5 386.5 156.1 386.2 159.2 388ZM150.5 386.5L147.5 384.6 153 384.5 156.1 386.2ZM141.9 384.7L138.9 382.7 144.4 382.7 147.5 384.6ZM138.9 382.7L135.9 380.7 141.4 380.8 144.4 382.7ZM135.9 380.7L132.9 378.6 138.4 378.9 141.4 380.8Z" fill="#30ed8b" stroke="#30ed8b" stroke-width="0.5"/>
<path d="M158.9 428L156.1 425.3 162.3 423.2 165.1 425.7ZM156.1 425.3L153.3 422.6 159.4 420.7 162.3 423.2ZM147.2 424.6L144.4 421.8 150.5 420 153.3 422.6ZM138.3 423.7L135.6 420.7 141.6 419 144.4 421.8ZM123.5 424.1L120.9 420.9 126.8 419.3 129.6 422.4ZM129.6 422.4L126.8 419.3 132.8 417.7 135.6 420.7ZM108.9 424L106.2 420.5 112.2 419.1 114.9 422.5ZM114.9 422.5L112.2 419.1 118.2 417.7 120.9 420.9ZM76.5 427.7L73.9 423.5 79.9 422.2 82.5 426.3ZM82.5 426.3L79.9 422.2 85.8 420.9 88.4 424.8ZM168.4 393.2L165.3 391.5 171 390.9 174.2 392.5ZM174.2 392.5L171 390.9 176.7 390.2 179.9 391.7ZM159.6 392.1L156.5 390.2 162.2 389.7 165.3 391.5ZM165.3 391.5L162.2 389.7 167.9 389.2 171 390.9ZM156.5 390.2L153.5 388.4 159.2 388 162.2 389.7ZM147.8 388.7L144.9 386.7 150.5 386.5 153.5 388.4ZM144.9 386.7L141.9 384.7 147.5 384.6 150.5 386.5ZM130.4 380.5L127.4 378.4 132.9 378.6 135.9 380.7ZM127.4 378.4L124.5 376.2 129.9 376.6 132.9 378.6Z" fill="#31ed80" stroke="#31ed80" stroke-width="0.5"/>
<path d="M165.1 425.7L162.3 423.2 168.5 421.1 171.4 423.5ZM162.3 423.2L159.4 420.7 165.6 418.7 168.5 421.1ZM153.3 422.6L150.5 420 156.6 418.1 159.4 420.7ZM144.4 421.8L141.6 419 147.7 417.3 150.5 420ZM150.5 420L147.7 417.3 153.7 415.6 156.6 418.1ZM135.6 420.7L132.8 417.7 138.8 416.2 141.6 419ZM141.6 419L138.8 416.2 144.8 414.6 147.7 417.3ZM120.9 420.9L118.2 417.7 124.1 416.2 126.8 419.3ZM126.8 419.3L124.1 416.2 130.1 414.8 132.8 417.7ZM132.8 417.7L130.1 414.8 136 413.4 138.8 416.2ZM88.4 424.8L85.8 420.9 91.7 419.6 94.3 423.4ZM94.3 423.4L91.7 419.6 97.6 418.3 100.3 422ZM100.3 422L97.6 418.3 103.6 417 106.2 420.5ZM106.2 420.5L103.6 417 109.5 415.7 112.2 419.1ZM112.2 419.1L109.5 415.7 115.4 414.4 118.2 417.7ZM171.5 395L168.4 393.2 174.2 392.5 177.3 394.1ZM177.3 394.1L174.2 392.5 179.9 391.7 183.1 393.2ZM162.6 394L159.6 392.1 165.3 391.5 168.4 393.2ZM153.8 392.8L150.8 390.7 156.5 390.2 159.6 392.1ZM150.8 390.7L147.8 388.7 153.5 388.4 156.5 390.2ZM142.2 389.1L139.2 387 144.9 386.7 147.8 388.7ZM139.2 387L136.3 384.8 141.9 384.7 144.9 386.7ZM136.3 384.8L133.3 382.7 138.9 382.7 141.9 384.7ZM133.3 382.7L130.4 380.5 135.9 380.7 138.9 382.7Z" fill="#32ed75" stroke="#32ed75" stroke-width="0.5"/>
<path d="M171.4 423.5L168.5 421.1 174.7 419 177.6 421.2ZM159.4 420.7L156.6 418.1 162.7 416.3 165.6 418.7ZM156.6 418.1L153.7 415.6 159.8 413.9 162.7 416.3ZM147.7 417.3L144.8 414.6 150.8 413 153.7 415.6ZM153.7 415.6L150.8 413 156.9 411.5 159.8 413.9ZM138.8 416.2L136 413.4 142 411.9 144.8 414.6ZM144.8 414.6L142 411.9 148 410.5 150.8 413ZM150.8 413L148 410.5 154 409.1 156.9 411.5ZM118.2 417.7L115.4 414.4 121.4 413.1 124.1 416.2ZM124.1 416.2L121.4 413.1 127.3 411.8 130.1 414.8ZM130.1 414.8L127.3 411.8 133.2 410.5 136 413.4ZM136 413.4L133.2 410.5 139.2 409.2 142 411.9ZM73.9 423.5L71.3 419.3 77.3 418.1 79.9 422.2ZM79.9 422.2L77.3 418.1 83.2 417 85.8 420.9ZM85.8 420.9L83.2 417 89.1 415.8 91.7 419.6ZM183.6 397.3L180.4 395.7 186.3 394.7 189.5 396.1ZM162.9 398.8L159.9 396.8 165.7 395.9 168.7 397.7ZM168.7 397.7L165.7 395.9 171.5 395 174.6 396.7ZM174.6 396.7L171.5 395 177.3 394.1 180.4 395.7ZM180.4 395.7L177.3 394.1 183.1 393.2 186.3 394.7ZM154 397.7L151.1 395.5 156.8 394.8 159.9 396.8ZM159.9 396.8L156.8 394.8 162.6 394 165.7 395.9ZM165.7 395.9L162.6 394 168.4 393.2 171.5 395ZM151.1 395.5L148.1 393.4 153.8 392.8 156.8 394.8ZM156.8 394.8L153.8 392.8 159.6 392.1 162.6 394ZM148.1 393.4L145.1 391.2 150.8 390.7 153.8 392.8ZM145.1 391.2L142.2 389.1 147.8 388.7 150.8 390.7ZM133.6 387.2L130.6 384.9 136.3 384.8 139.2 387ZM130.6 384.9L127.7 382.6 133.3 382.7 136.3 384.8ZM127.7 382.6L124.8 380.4 130.4 380.5 133.3 382.7ZM124.8 380.4L121.9 378.1 127.4 378.4 130.4 380.5ZM121.9 378.1L119 375.8 124.5 376.2 127.4 378.4Z" fill="#33ed69" stroke="#33ed69" stroke-width="0.5"/>
<path d="M168.5 421.1L165.6 418.7 171.7 416.7 174.7 419ZM165.6 418.7L162.7 416.3 168.8 414.4 171.7 416.7ZM171.7 416.7L168.8 414.4 174.9 412.6 177.9 414.7ZM162.7 416.3L159.8 413.9 165.8 412.2 168.8 414.4ZM168.8 414.4L165.8 412.2 171.9 410.5 174.9 412.6ZM159.8 413.9L156.9 411.5 162.9 409.9 165.8 412.2ZM165.8 412.2L162.9 409.9 168.9 408.3 171.9 410.5ZM156.9 411.5L154 409.1 160 407.6 162.9 409.9ZM162.9 409.9L160 407.6 165.9 406.2 168.9 408.3ZM142 411.9L139.2 409.2 145.1 407.9 148 410.5ZM148 410.5L145.1 407.9 151.1 406.7 154 409.1ZM154 409.1L151.1 406.7 157 405.4 160 407.6ZM160 407.6L157 405.4 163 404.1 165.9 406.2ZM165.9 406.2L163 404.1 168.9 402.8 171.9 404.8ZM91.7 419.6L89.1 415.8 95 414.7 97.6 418.3ZM97.6 418.3L95 414.7 100.9 413.5 103.6 417ZM103.6 417L100.9 413.5 106.8 412.4 109.5 415.7ZM109.5 415.7L106.8 412.4 112.7 411.2 115.4 414.4ZM115.4 414.4L112.7 411.2 118.6 410 121.4 413.1ZM121.4 413.1L118.6 410 124.5 408.9 127.3 411.8ZM127.3 411.8L124.5 408.9 130.5 407.7 133.2 410.5ZM133.2 410.5L130.5 407.7 136.4 406.6 139.2 409.2ZM139.2 409.2L136.4 406.6 142.3 405.4 145.1 407.9ZM145.1 407.9L142.3 405.4 148.2 404.2 151.1 406.7ZM151.1 406.7L148.2 404.2 154.1 403.1 157 405.4ZM157 405.4L154.1 403.1 160 401.9 163 404.1ZM163 404.1L160 401.9 165.9 400.8 168.9 402.8ZM168.9 402.8L165.9 400.8 171.8 399.6 174.9 401.5ZM174.9 401.5L171.8 399.6 177.7 398.5 180.8 400.2ZM180.8 400.2L177.7 398.5 183.6 397.3 186.8 398.9ZM186.8 398.9L183.6 397.3 189.5 396.1 192.7 397.6ZM130.5 407.7L127.7 404.9 133.5 403.9 136.4 406.6ZM136.4 406.6L133.5 403.9 139.4 402.9 142.3 405.4ZM142.3 405.4L139.4 402.9 145.3 401.8 148.2 404.2ZM148.2 404.2L145.3 401.8 151.1 400.8 154.1 403.1ZM154.1 403.1L151.1 400.8 157 399.8 160 401.9ZM160 401.9L157 399.8 162.9 398.8 165.9 400.8ZM165.9 400.8L162.9 398.8 168.7 397.7 171.8 399.6ZM171.8 399.6L168.7 397.7 174.6 396.7 177.7 398.5ZM177.7 398.5L174.6 396.7 180.4 395.7 183.6 397.3ZM139.4 402.9L136.5 400.3 142.4 399.4 145.3 401.8ZM145.3 401.8L142.4 399.4 148.2 398.6 151.1 400.8ZM151.1 400.8L148.2 398.6 154 397.7 157 399.8ZM157 399.8L154 397.7 159.9 396.8 162.9 398.8ZM142.4 399.4L139.5 397 145.3 396.3 148.2 398.6ZM148.2 398.6L145.3 396.3 151.1 395.5 154 397.7ZM139.5 397L136.6 394.6 142.3 394 145.3 396.3ZM145.3 396.3L142.3 394 148.1 393.4 151.1 395.5ZM136.6 394.6L133.7 392.2 139.4 391.7 142.3 394ZM142.3 394L139.4 391.7 145.1 391.2 148.1 393.4ZM139.4 391.7L136.5 389.5 142.2 389.1 145.1 391.2ZM136.5 389.5L133.6 387.2 139.2 387 142.2 389.1Z" fill="#34ed5e" stroke="#34ed5e" stroke-width="0.5"/>
<path d="M177.6 421.2L174.7 419 180.9 416.8 183.9 419ZM174.7 419L171.7 416.7 177.9 414.7 180.9 416.8ZM177.9 414.7L174.9 412.6 181 410.7 184.1 412.7ZM174.9 412.6L171.9 410.5 178 408.8 181 410.7ZM171.9 410.5L168.9 408.3 175 406.8 178 408.8ZM178 408.8L175 406.8 181 405.2 184.1 407.1ZM168.9 408.3L165.9 406.2 171.9 404.8 175 406.8ZM175 406.8L171.9 404.8 177.9 403.3 181 405.2ZM181 405.2L177.9 403.3 183.9 401.9 187 403.6ZM171.9 404.8L168.9 402.8 174.9 401.5 177.9 403.3ZM177.9 403.3L174.9 401.5 180.8 400.2 183.9 401.9ZM183.9 401.9L180.8 400.2 186.8 398.9 189.9 400.5ZM189.9 400.5L186.8 398.9 192.7 397.6 195.9 399.1ZM77.3 418.1L74.6 414.1 80.5 413.1 83.2 417ZM83.2 417L80.5 413.1 86.4 412.1 89.1 415.8ZM89.1 415.8L86.4 412.1 92.3 411 95 414.7ZM95 414.7L92.3 411 98.2 410 100.9 413.5ZM100.9 413.5L98.2 410 104.1 409 106.8 412.4ZM106.8 412.4L104.1 409 110 408 112.7 411.2ZM112.7 411.2L110 408 115.9 407 118.6 410ZM118.6 410L115.9 407 121.8 405.9 124.5 408.9ZM124.5 408.9L121.8 405.9 127.7 404.9 130.5 407.7ZM121.8 405.9L119 403 124.9 402.1 127.7 404.9ZM127.7 404.9L124.9 402.1 130.7 401.2 133.5 403.9ZM133.5 403.9L130.7 401.2 136.5 400.3 139.4 402.9ZM130.7 401.2L127.9 398.5 133.7 397.8 136.5 400.3ZM136.5 400.3L133.7 397.8 139.5 397 142.4 399.4ZM133.7 397.8L130.8 395.3 136.6 394.6 139.5 397ZM130.8 395.3L127.9 392.7 133.7 392.2 136.6 394.6ZM127.9 392.7L125.1 390.2 130.8 389.8 133.7 392.2ZM133.7 392.2L130.8 389.8 136.5 389.5 139.4 391.7ZM130.8 389.8L127.9 387.4 133.6 387.2 136.5 389.5ZM127.9 387.4L125 385 130.6 384.9 133.6 387.2ZM125 385L122.1 382.6 127.7 382.6 130.6 384.9ZM122.1 382.6L119.2 380.2 124.8 380.4 127.7 382.6ZM119.2 380.2L116.3 377.8 121.9 378.1 124.8 380.4ZM116.3 377.8L113.4 375.4 119 375.8 121.9 378.1Z" fill="#35ee53" stroke="#35ee53" stroke-width="0.5"/>
<path d="M183.9 419L180.9 416.8 187.1 414.7 190.1 416.7ZM180.9 416.8L177.9 414.7 184.1 412.7 187.1 414.7ZM184.1 412.7L181 410.7 187.2 408.9 190.3 410.8ZM181 410.7L178 408.8 184.1 407.1 187.2 408.9ZM184.1 407.1L181 405.2 187 403.6 190.2 405.4ZM187 403.6L183.9 401.9 189.9 400.5 193.1 402.1ZM193.1 402.1L189.9 400.5 195.9 399.1 199.2 400.5ZM71.3 419.3L68.7 415.1 74.6 414.1 77.3 418.1ZM98.2 410L95.5 406.5 101.4 405.6 104.1 409ZM104.1 409L101.4 405.6 107.3 404.8 110 408ZM110 408L107.3 404.8 113.1 403.9 115.9 407ZM115.9 407L113.1 403.9 119 403 121.8 405.9ZM113.1 403.9L110.4 400.8 116.2 400 119 403ZM119 403L116.2 400 122.1 399.3 124.9 402.1ZM124.9 402.1L122.1 399.3 127.9 398.5 130.7 401.2ZM122.1 399.3L119.2 396.5 125 395.9 127.9 398.5ZM127.9 398.5L125 395.9 130.8 395.3 133.7 397.8ZM125 395.9L122.2 393.2 127.9 392.7 130.8 395.3ZM122.2 393.2L119.4 390.5 125.1 390.2 127.9 392.7ZM125.1 390.2L122.2 387.6 127.9 387.4 130.8 389.8ZM122.2 387.6L119.3 385.1 125 385 127.9 387.4ZM119.3 385.1L116.5 382.6 122.1 382.6 125 385ZM116.5 382.6L113.6 380 119.2 380.2 122.1 382.6Z" fill="#36ee47" stroke="#36ee47" stroke-width="0.5"/>
<path d="M190.1 416.7L187.1 414.7 193.3 412.6 196.5 414.5ZM187.1 414.7L184.1 412.7 190.3 410.8 193.3 412.6ZM190.3 410.8L187.2 408.9 193.3 407.1 196.5 408.8ZM187.2 408.9L184.1 407.1 190.2 405.4 193.3 407.1ZM193.3 407.1L190.2 405.4 196.3 403.7 199.5 405.2ZM190.2 405.4L187 403.6 193.1 402.1 196.3 403.7ZM196.3 403.7L193.1 402.1 199.2 400.5 202.4 402ZM80.5 413.1L77.9 409.2 83.8 408.3 86.4 412.1ZM86.4 412.1L83.8 408.3 89.7 407.4 92.3 411ZM92.3 411L89.7 407.4 95.5 406.5 98.2 410ZM101.4 405.6L98.7 402.3 104.6 401.5 107.3 404.8ZM107.3 404.8L104.6 401.5 110.4 400.8 113.1 403.9ZM110.4 400.8L107.6 397.7 113.4 397.1 116.2 400ZM116.2 400L113.4 397.1 119.2 396.5 122.1 399.3ZM119.2 396.5L116.4 393.7 122.2 393.2 125 395.9ZM116.4 393.7L113.6 390.9 119.4 390.5 122.2 393.2ZM119.4 390.5L116.5 387.9 122.2 387.6 125.1 390.2ZM116.5 387.9L113.7 385.2 119.3 385.1 122.2 387.6ZM113.6 380L110.7 377.5 116.3 377.8 119.2 380.2ZM110.7 377.5L107.9 375 113.4 375.4 116.3 377.8Z" fill="#37ee3c" stroke="#37ee3c" stroke-width="0.5"/>
<path d="M196.5 414.5L193.3 412.6 199.6 410.5 202.8 412.2ZM193.3 412.6L190.3 410.8 196.5 408.8 199.6 410.5ZM196.5 408.8L193.3 407.1 199.5 405.2 202.7 406.8ZM199.5 405.2L196.3 403.7 202.4 402 205.7 403.4ZM68.7 415.1L66.1 410.9 72 410 74.6 414.1ZM74.6 414.1L72 410 77.9 409.2 80.5 413.1ZM89.7 407.4L87 403.8 92.9 403 95.5 406.5ZM95.5 406.5L92.9 403 98.7 402.3 101.4 405.6ZM104.6 401.5L101.8 398.3 107.6 397.7 110.4 400.8ZM107.6 397.7L104.9 394.6 110.7 394.2 113.4 397.1ZM113.4 397.1L110.7 394.2 116.4 393.7 119.2 396.5ZM110.7 394.2L107.9 391.2 113.6 390.9 116.4 393.7ZM113.6 390.9L110.8 388.1 116.5 387.9 119.4 390.5ZM110.8 388.1L108 385.3 113.7 385.2 116.5 387.9ZM113.7 385.2L110.8 382.5 116.5 382.6 119.3 385.1ZM110.8 382.5L108 379.9 113.6 380 116.5 382.6ZM108 379.9L105.1 377.2 110.7 377.5 113.6 380Z" fill="#43ee3b" stroke="#43ee3b" stroke-width="0.5"/>
<path d="M202.8 412.2L199.6 410.5 205.9 408.4 209.1 410ZM199.6 410.5L196.5 408.8 202.7 406.8 205.9 408.4ZM202.7 406.8L199.5 405.2 205.7 403.4 208.9 404.9ZM77.9 409.2L75.2 405.3 81.1 404.5 83.8 408.3ZM83.8 408.3L81.1 404.5 87 403.8 89.7 407.4ZM92.9 403L90.2 399.6 96 398.9 98.7 402.3ZM98.7 402.3L96 398.9 101.8 398.3 104.6 401.5ZM101.8 398.3L99.1 395.1 104.9 394.6 107.6 397.7ZM104.9 394.6L102.1 391.6 107.9 391.2 110.7 394.2ZM107.9 391.2L105.1 388.3 110.8 388.1 113.6 390.9ZM108 385.3L105.2 382.5 110.8 382.5 113.7 385.2ZM105.1 377.2L102.3 374.5 107.9 375 110.7 377.5Z" fill="#50ef3a" stroke="#50ef3a" stroke-width="0.5"/>
<path d="M205.9 408.4L202.7 406.8 208.9 404.9 212.2 406.3ZM66.1 410.9L63.5 406.7 69.4 406 72 410ZM72 410L69.4 406 75.2 405.3 77.9 409.2ZM81.1 404.5L78.5 400.8 84.3 400.2 87 403.8ZM87 403.8L84.3 400.2 90.2 399.6 92.9 403ZM96 398.9L93.3 395.6 99.1 395.1 101.8 398.3ZM99.1 395.1L96.3 391.9 102.1 391.6 104.9 394.6ZM102.1 391.6L99.3 388.5 105.1 388.3 107.9 391.2ZM105.1 388.3L102.3 385.4 108 385.3 110.8 388.1ZM105.2 382.5L102.3 379.7 108 379.9 110.8 382.5ZM102.3 379.7L99.5 376.9 105.1 377.2 108 379.9Z" fill="#5cef39" stroke="#5cef39" stroke-width="0.5"/>
<path d="M209.1 410L205.9 408.4 212.2 406.3 215.5 407.7ZM75.2 405.3L72.6 401.4 78.5 400.8 81.1 404.5ZM84.3 400.2L81.6 396.5 87.4 396.1 90.2 399.6ZM90.2 399.6L87.4 396.1 93.3 395.6 96 398.9ZM93.3 395.6L90.5 392.3 96.3 391.9 99.1 395.1ZM96.3 391.9L93.6 388.7 99.3 388.5 102.1 391.6ZM99.3 388.5L96.6 385.5 102.3 385.4 105.1 388.3ZM102.3 385.4L99.5 382.4 105.2 382.5 108 385.3ZM99.5 382.4L96.7 379.5 102.3 379.7 105.2 382.5ZM99.5 376.9L96.7 374.1 102.3 374.5 105.1 377.2Z" fill="#69ef38" stroke="#69ef38" stroke-width="0.5"/>
<path d="M63.5 406.7L60.8 402.6 66.7 402 69.4 406ZM69.4 406L66.7 402 72.6 401.4 75.2 405.3ZM78.5 400.8L75.8 397 81.6 396.5 84.3 400.2ZM87.4 396.1L84.7 392.6 90.5 392.3 93.3 395.6ZM90.5 392.3L87.8 388.9 93.6 388.7 96.3 391.9ZM93.6 388.7L90.8 385.5 96.6 385.5 99.3 388.5ZM96.6 385.5L93.8 382.4 99.5 382.4 102.3 385.4ZM96.7 379.5L93.9 376.6 99.5 376.9 102.3 379.7Z" fill="#75ef37" stroke="#75ef37" stroke-width="0.5"/>
<path d="M72.6 401.4L69.9 397.5 75.8 397 78.5 400.8ZM81.6 396.5L78.9 392.9 84.7 392.6 87.4 396.1ZM84.7 392.6L82 389.1 87.8 388.9 90.5 392.3ZM90.8 385.5L88 382.3 93.8 382.4 96.6 385.5ZM93.8 382.4L91 379.3 96.7 379.5 99.5 382.4ZM93.9 376.6L91 373.7 96.7 374.1 99.5 376.9Z" fill="#82f036" stroke="#82f036" stroke-width="0.5"/>
<path d="M60.8 402.6L58.2 398.4 64.1 397.9 66.7 402ZM66.7 402L64.1 397.9 69.9 397.5 72.6 401.4ZM75.8 397L73.1 393.3 78.9 392.9 81.6 396.5ZM87.8 388.9L85.1 385.6 90.8 385.5 93.6 388.7ZM88 382.3L85.3 379.2 91 379.3 93.8 382.4ZM91 379.3L88.2 376.3 93.9 376.6 96.7 379.5Z" fill="#8ef035" stroke="#8ef035" stroke-width="0.5"/>
<path d="M69.9 397.5L67.2 393.6 73.1 393.3 75.8 397ZM78.9 392.9L76.2 389.3 82 389.1 84.7 392.6ZM82 389.1L79.3 385.7 85.1 385.6 87.8 388.9ZM85.1 385.6L82.3 382.3 88 382.3 90.8 385.5ZM88.2 376.3L85.4 373.2 91 373.7 93.9 376.6Z" fill="#9bf034" stroke="#9bf034" stroke-width="0.5"/>
<path d="M64.1 397.9L61.4 393.9 67.2 393.6 69.9 397.5ZM73.1 393.3L70.4 389.5 76.2 389.3 78.9 392.9ZM76.2 389.3L73.5 385.7 79.3 385.7 82 389.1ZM79.3 385.7L76.5 382.2 82.3 382.3 85.1 385.6ZM82.3 382.3L79.5 379 85.3 379.2 88 382.3ZM85.3 379.2L82.5 376 88.2 376.3 91 379.3Z" fill="#a7f033" stroke="#a7f033" stroke-width="0.5"/>
<path d="M58.2 398.4L55.5 394.2 61.4 393.9 64.1 397.9ZM67.2 393.6L64.6 389.7 70.4 389.5 73.1 393.3ZM70.4 389.5L67.7 385.8 73.5 385.7 76.2 389.3ZM79.5 379L76.8 375.6 82.5 376 85.3 379.2ZM82.5 376L79.7 372.8 85.4 373.2 88.2 376.3Z" fill="#b4f132" stroke="#b4f132" stroke-width="0.5"/>
<path d="M61.4 393.9L58.7 389.9 64.6 389.7 67.2 393.6ZM73.5 385.7L70.8 382.1 76.5 382.2 79.3 385.7ZM76.5 382.2L73.8 378.8 79.5 379 82.3 382.3Z" fill="#c0f131" stroke="#c0f131" stroke-width="0.5"/>
<path d="M55.5 394.2L52.8 390.1 58.7 389.9 61.4 393.9ZM64.6 389.7L61.9 385.9 67.7 385.8 70.4 389.5ZM67.7 385.8L65 382.1 70.8 382.1 73.5 385.7ZM70.8 382.1L68 378.6 73.8 378.8 76.5 382.2ZM73.8 378.8L71 375.3 76.8 375.6 79.5 379ZM76.8 375.6L74 372.3 79.7 372.8 82.5 376Z" fill="#cdf130" stroke="#cdf130" stroke-width="0.5"/>
<path d="M58.7 389.9L56 385.9 61.9 385.9 64.6 389.7ZM71 375.3L68.3 371.9 74 372.3 76.8 375.6Z" fill="#d9f12f" stroke="#d9f12f" stroke-width="0.5"/>
<path d="M52.8 390.1L50.2 386 56 385.9 58.7 389.9ZM61.9 385.9L59.1 382 65 382.1 67.7 385.8ZM65 382.1L62.2 378.4 68 378.6 70.8 382.1ZM68 378.6L65.3 375 71 375.3 73.8 378.8Z" fill="#e6f22e" stroke="#e6f22e" stroke-width="0.5"/>
<path d="M56 385.9L53.3 381.9 59.1 382 61.9 385.9ZM59.1 382L56.4 378.1 62.2 378.4 65 382.1ZM65.3 375L62.5 371.4 68.3 371.9 71 375.3Z" fill="#f2f22d" stroke="#f2f22d" stroke-width="0.5"/>
<path d="M50.2 386L47.5 381.8 53.3 381.9 56 385.9ZM62.2 378.4L59.5 374.6 65.3 375 68 378.6Z" fill="#f3eb2c" stroke="#f3eb2c" stroke-width="0.5"/>
<path d="M53.3 381.9L50.6 377.9 56.4 378.1 59.1 382ZM56.4 378.1L53.7 374.3 59.5 374.6 62.2 378.4ZM59.5 374.6L56.8 370.9 62.5 371.4 65.3 375Z" fill="#f3e42b" stroke="#f3e42b" stroke-width="0.5"/>
<path d="M47.5 381.8L44.7 377.7 50.6 377.9 53.3 381.9ZM50.6 377.9L47.9 373.9 53.7 374.3 56.4 378.1ZM53.7 374.3L51 370.5 56.8 370.9 59.5 374.6Z" fill="#f4d729" stroke="#f4d729" stroke-width="0.5"/>
<path d="M44.7 377.7L42 373.6 47.9 373.9 50.6 377.9ZM47.9 373.9L45.1 370 51 370.5 53.7 374.3Z" fill="#f5c927" stroke="#f5c927" stroke-width="0.5"/>
<path d="M42 373.6L39.3 369.5 45.1 370 47.9 373.9Z" fill="#f6bc25" stroke="#f6bc25" stroke-width="0.5"/>
<path d="M91.9 453.2L215.5 407.7M89.3 448.9L212.2 406.3M86.8 444.7L208.9 404.9M84.2 440.4L205.7 403.4M81.7 436.2L202.4 402M79.1 431.9L199.2 400.5M76.5 427.7L195.9 399.1M73.9 423.5L192.7 397.6M71.3 419.3L189.5 396.1M68.7 415.1L186.3 394.7M66.1 410.9L183.1 393.2M63.5 406.7L179.9 391.7M60.8 402.6L176.7 390.2M58.2 398.4L173.6 388.7M55.5 394.2L170.4 387.2M52.8 390.1L167.3 385.7M50.2 386L164.1 384.2M47.5 381.8L161 382.7M44.7 377.7L157.9 381.2M42 373.6L154.7 379.7M39.3 369.5L151.6 378.2M91.9 453.2L39.3 369.5M97.9 450.9L45.1 370M103.9 448.6L51 370.5M109.9 446.3L56.8 370.9M116 444L62.5 371.4M122.1 441.7L68.3 371.9M128.2 439.4L74 372.3M134.3 437.1L79.7 372.8M140.4 434.8L85.4 373.2M146.6 432.6L91 373.7M152.7 430.3L96.7 374.1M158.9 428L102.3 374.5M165.1 425.7L107.9 375M171.4 423.5L113.4 375.4M177.6 421.2L119 375.8M183.9 419L124.5 376.2M190.1 416.7L129.9 376.6M196.5 414.5L135.4 377M202.8 412.2L140.8 377.4M209.1 410L146.3 377.8M215.5 407.7L151.6 378.2" stroke="#000" stroke-opacity="0.3" stroke-width="0.5" fill="none"/>
<path d="M125 382.3L125 400" stroke="#444" stroke-width="0.6"/>
<circle cx="125" cy="382.3" r="1.5" fill="#8e1515"/>
<text x="30" y="352.5" font-family='"Liberation Sans", sans-serif' font-size="6.3" font-weight="bold" letter-spacing="0.25" fill="#262626" text-anchor="middle" dominant-baseline="central">34</text>
<text x="30.5" y="359.1" font-family='"Liberation Sans", sans-serif' font-size="6.3" font-weight="bold" letter-spacing="0.25" fill="#262626" text-anchor="middle" dominant-baseline="central">32</text>
<text x="31.5" y="366.1" font-family='"Liberation Sans", sans-serif' font-size="6.3" font-weight="bold" letter-spacing="0.25" fill="#262626" text-anchor="middle" dominant-baseline="central">30</text>
<text x="32.3" y="372.8" font-family='"Liberation Sans", sans-serif' font-size="6.3" font-weight="bold" letter-spacing="0.25" fill="#262626" text-anchor="middle" dominant-baseline="central">28</text>
<text x="33" y="379.7" font-family='"Liberation Sans", sans-serif' font-size="6.3" font-weight="bold" letter-spacing="0.25" fill="#262626" text-anchor="middle" dominant-baseline="central">26</text>
<text x="33.5" y="386.8" font-family='"Liberation Sans", sans-serif' font-size="6.3" font-weight="bold" letter-spacing="0.25" fill="#262626" text-anchor="middle" dominant-baseline="central">24</text>
<text x="34.5" y="393.8" font-family='"Liberation Sans", sans-serif' font-size="6.3" font-weight="bold" letter-spacing="0.25" fill="#262626" text-anchor="middle" dominant-baseline="central">22</text>
<text x="35.3" y="400.5" font-family='"Liberation Sans", sans-serif' font-size="6.3" font-weight="bold" letter-spacing="0.25" fill="#262626" text-anchor="middle" dominant-baseline="central">20</text>
<text x="36" y="407.2" font-family='"Liberation Sans", sans-serif' font-size="6.3" font-weight="bold" letter-spacing="0.25" fill="#262626" text-anchor="middle" dominant-baseline="central">18</text>
<text x="12.9" y="391.8" font-family='"Liberation Serif", serif' font-size="10.2" textLength="74.4" lengthAdjust="spacingAndGlyphs" fill="#151515" stroke="#151515" stroke-width="0.2" text-anchor="middle" dominant-baseline="central" transform="rotate(-90 12.9 391.8)">Zeta Potential (mV)</text>
<text x="40.9" y="430.6" font-family='"Liberation Sans", sans-serif' font-size="6.3" font-weight="bold" letter-spacing="0.25" fill="#262626" text-anchor="middle" dominant-baseline="central">4</text>
<text x="47.3" y="441.8" font-family='"Liberation Sans", sans-serif' font-size="6.3" font-weight="bold" letter-spacing="0.25" fill="#262626" text-anchor="middle" dominant-baseline="central">3.5</text>
<text x="59.6" y="452.3" font-family='"Liberation Sans", sans-serif' font-size="6.3" font-weight="bold" letter-spacing="0.25" fill="#262626" text-anchor="middle" dominant-baseline="central">3</text>
<text x="66.3" y="464.2" font-family='"Liberation Sans", sans-serif' font-size="5.8" fill="#262626" text-anchor="middle" dominant-baseline="central">2.5</text>
<text x="78.5" y="474.4" font-family='"Liberation Sans", sans-serif' font-size="6.3" font-weight="bold" letter-spacing="0.25" fill="#262626" text-anchor="middle" dominant-baseline="central">2</text>
<text x="85.6" y="485.3" font-family='"Liberation Sans", sans-serif' font-size="6.3" font-weight="bold" letter-spacing="0.25" fill="#262626" text-anchor="middle" dominant-baseline="central">1.5</text>
<text x="99.2" y="485.3" font-family='"Liberation Sans", sans-serif' font-size="6.3" font-weight="bold" letter-spacing="0.25" fill="#262626" text-anchor="middle" dominant-baseline="central">1</text>
<text x="130.8" y="478.3" font-family='"Liberation Sans", sans-serif' font-size="6.3" font-weight="bold" letter-spacing="0.25" fill="#262626" text-anchor="middle" dominant-baseline="central">1.5</text>
<text x="156.8" y="471.8" font-family='"Liberation Sans", sans-serif' font-size="6.3" font-weight="bold" letter-spacing="0.25" fill="#262626" text-anchor="middle" dominant-baseline="central">2</text>
<text x="187.6" y="464.7" font-family='"Liberation Sans", sans-serif' font-size="6.3" font-weight="bold" letter-spacing="0.25" fill="#262626" text-anchor="middle" dominant-baseline="central">2.5</text>
<text x="214.5" y="457.6" font-family='"Liberation Sans", sans-serif' font-size="6.3" font-weight="bold" letter-spacing="0.25" fill="#262626" text-anchor="middle" dominant-baseline="central">3</text>
<text x="37.2" y="464" font-family='"Liberation Serif", serif' font-size="8.5" textLength="43.9" lengthAdjust="spacingAndGlyphs" fill="#151515" stroke="#151515" stroke-width="0.2" text-anchor="middle" dominant-baseline="central">B: Surfactant</text>
<text x="37.2" y="474.6" font-family='"Liberation Serif", serif' font-size="8.5" textLength="44.9" lengthAdjust="spacingAndGlyphs" fill="#151515" stroke="#151515" stroke-width="0.2" text-anchor="middle" dominant-baseline="central">concentration</text>
<text x="37.4" y="484.6" font-family='"Liberation Serif", serif' font-size="8.5" textLength="25" lengthAdjust="spacingAndGlyphs" fill="#151515" stroke="#151515" stroke-width="0.2" text-anchor="middle" dominant-baseline="central">(%w/v)</text>
<text x="169.7" y="489.9" font-family='"Liberation Serif", serif' font-size="8.5" textLength="76.7" lengthAdjust="spacingAndGlyphs" fill="#151515" stroke="#151515" stroke-width="0.2" text-anchor="middle" dominant-baseline="central">A: Lipid concentration</text>
<text x="169.5" y="500.4" font-family='"Liberation Serif", serif' font-size="8.5" textLength="25.4" lengthAdjust="spacingAndGlyphs" fill="#151515" stroke="#151515" stroke-width="0.2" text-anchor="middle" dominant-baseline="central">(%w/v)</text>
<text x="112.5" y="500.3" font-family='"Liberation Serif", serif' font-size="14" font-weight="bold" fill="#111" text-anchor="middle" dominant-baseline="central">G</text>
<path d="M268.2 454.9L260.6 376.1M281.2 425.3L276.6 366.3M296.1 414.3L292.6 356.5M310.9 403.3L308.7 346.7M326 409.5L324.7 336.9M266.4 436.2L325.7 392.3M265.7 428.7L325.6 385.4M265 421.2L325.5 378.4M264.2 413.7L325.3 371.5M263.5 406.2L325.2 364.6M262.8 398.7L325.1 357.7M262.1 391.2L325 350.8M261.3 383.6L324.8 343.8M260.6 376.1L324.7 336.9M419.5 433.2L427.1 357.6M405.4 411.5L410 354.2M389.4 407.6L393 350.7M373.5 403.8L375.9 347.2M357.6 400L358.8 343.8M341.7 396.1L341.8 340.3M326 409.5L324.7 336.9M421.3 415.3L325.7 392.3M422 408.1L325.6 385.4M422.7 400.9L325.5 378.4M423.5 393.7L325.3 371.5M424.2 386.5L325.2 364.6M424.9 379.3L325.1 357.7M425.6 372L325 350.8M426.4 364.8L324.8 343.8M427.1 357.6L324.7 336.9" stroke="#5c5c5c" stroke-width="0.9" fill="none"/>
<polygon points="268.2,454.9 371.2,485.6 419.5,433.2 326,409.5" fill="#626262"/>
<clipPath id="fcH"><polygon points="268.2,454.9 371.2,485.6 419.5,433.2 326,409.5"/></clipPath>
<g clip-path="url(#fcH)"><path d="M280.3 446.7C281.1 447.2 283.9 448.3 285 449.5C286.1 450.7 286.5 451.9 286.7 453.7C286.9 455.4 286.1 458.9 286 460" stroke="#48c83e" stroke-width="1.4" fill="none"/><path d="M344.6 428.8C343.8 429.7 340.8 432.1 340 434C339.2 435.9 339.1 437.8 339.8 440C340.5 442.2 341.7 444.6 344 447C346.3 449.4 349.4 452.1 353.7 454.3C358 456.6 364.5 458.4 370 460.5C375.5 462.6 383.9 465.7 386.7 466.7" stroke="#48c83e" stroke-width="1.4" fill="none"/><path d="M327.4 473.2C329.5 472.9 335.9 471.8 340 471.6C344.1 471.4 347.8 471.7 352 472C356.2 472.3 360.8 472.9 365 473.5C369.2 474.1 375.1 475.2 377.1 475.6" stroke="#48c83e" stroke-width="1.4" fill="none"/><path d="M369.5 433.7C369.8 434.7 370.2 437.7 371 439.5C371.8 441.3 372.1 442.7 374.3 444.7C376.5 446.7 380.6 449.4 384 451.5C387.4 453.6 393.2 456.2 395 457.1" stroke="#2ab982" stroke-width="1.4" fill="none"/><path d="M386.7 426.2C387.1 427.2 388 430.1 389 432C390 433.9 390.4 435 392.9 437.9C395.4 440.8 402.1 447.6 403.9 449.5" stroke="#2ab0aa" stroke-width="1.4" fill="none"/><path d="M403.2 431C403.8 431.8 405.6 434.3 407 436C408.4 437.7 410.7 440.4 411.4 441.3" stroke="#2d9bd4" stroke-width="1.4" fill="none"/></g>
<path d="M268.2 454.9L371.2 485.6L419.5 433.2" stroke="#333" stroke-width="0.8" fill="none"/>
<path d="M266.4 436.2h-1.8M265.7 428.7h-1.8M265 421.2h-1.8M264.2 413.7h-1.8M263.5 406.2h-1.8M262.8 398.7h-1.8M262.1 391.2h-1.8M261.3 383.6h-1.8M260.6 376.1h-1.8M354 480.5l-0.9 1.6M336.9 475.4l-0.9 1.6M319.7 470.2l-0.9 1.6M302.5 465.1l-0.9 1.6M285.4 460l-0.9 1.6M383.3 472.5l0.9 1.6M395.4 459.4l0.9 1.6M407.4 446.3l0.9 1.6" stroke="#222" stroke-width="1" fill="none"/>
<path d="M420 405.6L415.2 403.7 417.7 402.1 422.4 404.1Z" fill="#2bc1ed" stroke="#2bc1ed" stroke-width="0.5"/>
<path d="M417.6 407.1L412.8 405.3 415.2 403.7 420 405.6ZM415.2 403.7L410.4 401.7 412.9 400.1 417.7 402.1Z" fill="#2bcaeb" stroke="#2bcaeb" stroke-width="0.5"/>
<path d="M415.2 408.6L410.3 406.8 412.8 405.3 417.6 407.1ZM412.8 405.3L407.9 403.4 410.4 401.7 415.2 403.7ZM410.4 401.7L405.6 399.8 408.1 398 412.9 400.1Z" fill="#2ad2ea" stroke="#2ad2ea" stroke-width="0.5"/>
<path d="M412.8 410.1L407.9 408.4 410.3 406.8 415.2 408.6ZM410.3 406.8L405.4 405.1 407.9 403.4 412.8 405.3ZM407.9 403.4L403.1 401.5 405.6 399.8 410.4 401.7ZM405.6 399.8L400.8 397.8 403.3 396 408.1 398Z" fill="#29dae9" stroke="#29dae9" stroke-width="0.5"/>
<path d="M410.4 411.6L405.4 410 407.9 408.4 412.8 410.1ZM407.9 408.4L402.9 406.7 405.4 405.1 410.3 406.8ZM405.4 405.1L400.5 403.3 403.1 401.5 407.9 403.4ZM403.1 401.5L398.2 399.6 400.8 397.8 405.6 399.8Z" fill="#29e3e7" stroke="#29e3e7" stroke-width="0.5"/>
<path d="M407.9 413.1L402.9 411.5 405.4 410 410.4 411.6ZM405.4 410L400.4 408.3 402.9 406.7 407.9 408.4ZM402.9 406.7L398 405 400.5 403.3 405.4 405.1ZM400.5 403.3L395.6 401.4 398.2 399.6 403.1 401.5ZM398.2 399.6L393.3 397.8 395.9 395.9 400.8 397.8ZM400.8 397.8L395.9 395.9 398.5 394 403.3 396Z" fill="#28ebe6" stroke="#28ebe6" stroke-width="0.5"/>
<path d="M405.5 414.6L400.4 413.1 402.9 411.5 407.9 413.1ZM402.9 411.5L397.9 410 400.4 408.3 405.4 410ZM397.9 410L392.9 408.4 395.4 406.7 400.4 408.3ZM400.4 408.3L395.4 406.7 398 405 402.9 406.7ZM395.4 406.7L390.5 405 393 403.2 398 405ZM398 405L393 403.2 395.6 401.4 400.5 403.3ZM395.6 401.4L390.7 399.6 393.3 397.8 398.2 399.6ZM393.3 397.8L388.4 395.9 391.1 393.9 395.9 395.9ZM395.9 395.9L391.1 393.9 393.7 392 398.5 394Z" fill="#29ebdb" stroke="#29ebdb" stroke-width="0.5"/>
<path d="M403.1 416L398 414.6 400.4 413.1 405.5 414.6ZM398 414.6L392.9 413.2 395.4 411.6 400.4 413.1ZM400.4 413.1L395.4 411.6 397.9 410 402.9 411.5ZM395.4 411.6L390.3 410.1 392.9 408.4 397.9 410ZM392.9 408.4L387.9 406.8 390.5 405 395.4 406.7ZM390.5 405L385.5 403.3 388.1 401.5 393 403.2ZM393 403.2L388.1 401.5 390.7 399.6 395.6 401.4ZM390.7 399.6L385.8 397.8 388.4 395.9 393.3 397.8ZM388.4 395.9L383.5 394 386.2 392 391.1 393.9ZM391.1 393.9L386.2 392 388.9 390 393.7 392Z" fill="#2aebcf" stroke="#2aebcf" stroke-width="0.5"/>
<path d="M400.6 417.5L395.5 416.2 398 414.6 403.1 416ZM395.5 416.2L390.4 414.9 392.9 413.2 398 414.6ZM392.9 413.2L387.8 411.8 390.3 410.1 395.4 411.6ZM390.3 410.1L385.3 408.6 387.9 406.8 392.9 408.4ZM387.9 406.8L382.8 405.2 385.5 403.3 390.5 405ZM385.5 403.3L380.5 401.7 383.1 399.7 388.1 401.5ZM388.1 401.5L383.1 399.7 385.8 397.8 390.7 399.6ZM385.8 397.8L380.8 396 383.5 394 388.4 395.9ZM386.2 392L381.3 390.1 384 388 388.9 390Z" fill="#2becc4" stroke="#2becc4" stroke-width="0.5"/>
<path d="M398.2 418.9L393 417.7 395.5 416.2 400.6 417.5ZM393 417.7L387.8 416.5 390.4 414.9 395.5 416.2ZM390.4 414.9L385.2 413.5 387.8 411.8 392.9 413.2ZM387.8 411.8L382.7 410.4 385.3 408.6 390.3 410.1ZM382.7 410.4L377.6 408.9 380.2 407.1 385.3 408.6ZM385.3 408.6L380.2 407.1 382.8 405.2 387.9 406.8ZM380.2 407.1L375.2 405.5 377.8 403.6 382.8 405.2ZM382.8 405.2L377.8 403.6 380.5 401.7 385.5 403.3ZM380.5 401.7L375.5 399.9 378.2 398 383.1 399.7ZM383.1 399.7L378.2 398 380.8 396 385.8 397.8ZM378.2 398L373.2 396.2 375.9 394.1 380.8 396ZM380.8 396L375.9 394.1 378.6 392.1 383.5 394ZM383.5 394L378.6 392.1 381.3 390.1 386.2 392ZM381.3 390.1L376.5 388.1 379.2 386 384 388Z" fill="#2cecb9" stroke="#2cecb9" stroke-width="0.5"/>
<path d="M395.7 420.4L390.5 419.2 393 417.7 398.2 418.9ZM390.5 419.2L385.3 418.1 387.8 416.5 393 417.7ZM387.8 416.5L382.7 415.2 385.2 413.5 390.4 414.9ZM382.7 415.2L377.5 413.9 380.1 412.1 385.2 413.5ZM385.2 413.5L380.1 412.1 382.7 410.4 387.8 411.8ZM380.1 412.1L375 410.7 377.6 408.9 382.7 410.4ZM377.6 408.9L372.5 407.4 375.2 405.5 380.2 407.1ZM375.2 405.5L370.1 403.9 372.8 401.9 377.8 403.6ZM377.8 403.6L372.8 401.9 375.5 399.9 380.5 401.7ZM372.8 401.9L367.7 400.3 370.5 398.2 375.5 399.9ZM375.5 399.9L370.5 398.2 373.2 396.2 378.2 398ZM373.2 396.2L368.2 394.4 371 392.3 375.9 394.1ZM375.9 394.1L371 392.3 373.7 390.2 378.6 392.1ZM378.6 392.1L373.7 390.2 376.5 388.1 381.3 390.1ZM376.5 388.1L371.6 386.2 374.3 384 379.2 386Z" fill="#2decad" stroke="#2decad" stroke-width="0.5"/>
<path d="M393.2 421.8L388 420.8 390.5 419.2 395.7 420.4ZM388 420.8L382.8 419.7 385.3 418.1 390.5 419.2ZM382.8 419.7L377.5 418.6 380.1 416.9 385.3 418.1ZM385.3 418.1L380.1 416.9 382.7 415.2 387.8 416.5ZM380.1 416.9L374.9 415.7 377.5 413.9 382.7 415.2ZM374.9 415.7L369.7 414.4 372.3 412.6 377.5 413.9ZM377.5 413.9L372.3 412.6 375 410.7 380.1 412.1ZM372.3 412.6L367.2 411.2 369.8 409.3 375 410.7ZM375 410.7L369.8 409.3 372.5 407.4 377.6 408.9ZM369.8 409.3L364.7 407.8 367.4 405.9 372.5 407.4ZM372.5 407.4L367.4 405.9 370.1 403.9 375.2 405.5ZM367.4 405.9L362.3 404.3 365 402.3 370.1 403.9ZM370.1 403.9L365 402.3 367.7 400.3 372.8 401.9ZM367.7 400.3L362.7 398.6 365.5 396.5 370.5 398.2ZM370.5 398.2L365.5 396.5 368.2 394.4 373.2 396.2ZM368.2 394.4L363.2 392.6 366 390.5 371 392.3ZM371 392.3L366 390.5 368.8 388.3 373.7 390.2ZM373.7 390.2L368.8 388.3 371.6 386.2 376.5 388.1ZM371.6 386.2L366.7 384.2 369.5 382 374.3 384Z" fill="#2eeca2" stroke="#2eeca2" stroke-width="0.5"/>
<path d="M388.3 424.6L383 423.8 385.5 422.3 390.8 423.2ZM390.8 423.2L385.5 422.3 388 420.8 393.2 421.8ZM385.5 422.3L380.2 421.3 382.8 419.7 388 420.8ZM380.2 421.3L374.9 420.2 377.5 418.6 382.8 419.7ZM377.5 418.6L372.3 417.4 374.9 415.7 380.1 416.9ZM372.3 417.4L367.1 416.2 369.7 414.4 374.9 415.7ZM369.7 414.4L364.5 413.1 367.2 411.2 372.3 412.6ZM364.5 413.1L359.3 411.8 362 409.8 367.2 411.2ZM367.2 411.2L362 409.8 364.7 407.8 369.8 409.3ZM362 409.8L356.8 408.4 359.6 406.3 364.7 407.8ZM364.7 407.8L359.6 406.3 362.3 404.3 367.4 405.9ZM359.6 406.3L354.4 404.8 357.2 402.7 362.3 404.3ZM362.3 404.3L357.2 402.7 359.9 400.7 365 402.3ZM365 402.3L359.9 400.7 362.7 398.6 367.7 400.3ZM359.9 400.7L354.9 399 357.6 396.9 362.7 398.6ZM362.7 398.6L357.6 396.9 360.4 394.7 365.5 396.5ZM365.5 396.5L360.4 394.7 363.2 392.6 368.2 394.4ZM363.2 392.6L358.2 390.8 361 388.6 366 390.5ZM366 390.5L361 388.6 363.9 386.4 368.8 388.3ZM368.8 388.3L363.9 386.4 366.7 384.2 371.6 386.2Z" fill="#2fec97" stroke="#2fec97" stroke-width="0.5"/>
<path d="M385.8 426L380.5 425.3 383 423.8 388.3 424.6ZM383 423.8L377.7 422.9 380.2 421.3 385.5 422.3ZM377.7 422.9L372.4 421.9 374.9 420.2 380.2 421.3ZM372.4 421.9L367.1 420.9 369.7 419.2 374.9 420.2ZM374.9 420.2L369.7 419.2 372.3 417.4 377.5 418.6ZM369.7 419.2L364.4 418.1 367.1 416.2 372.3 417.4ZM364.4 418.1L359.1 416.9 361.8 415 367.1 416.2ZM367.1 416.2L361.8 415 364.5 413.1 369.7 414.4ZM359.1 416.9L353.9 415.7 356.6 413.7 361.8 415ZM361.8 415L356.6 413.7 359.3 411.8 364.5 413.1ZM356.6 413.7L351.4 412.4 354.1 410.4 359.3 411.8ZM359.3 411.8L354.1 410.4 356.8 408.4 362 409.8ZM354.1 410.4L348.9 409 351.7 406.9 356.8 408.4ZM356.8 408.4L351.7 406.9 354.4 404.8 359.6 406.3ZM351.7 406.9L346.5 405.4 349.3 403.3 354.4 404.8ZM354.4 404.8L349.3 403.3 352.1 401.1 357.2 402.7ZM357.2 402.7L352.1 401.1 354.9 399 359.9 400.7ZM352.1 401.1L347 399.5 349.8 397.3 354.9 399ZM354.9 399L349.8 397.3 352.6 395.2 357.6 396.9ZM357.6 396.9L352.6 395.2 355.4 393 360.4 394.7ZM360.4 394.7L355.4 393 358.2 390.8 363.2 392.6ZM355.4 393L350.4 391.2 353.2 389 358.2 390.8ZM358.2 390.8L353.2 389 356.1 386.7 361 388.6ZM361 388.6L356.1 386.7 358.9 384.5 363.9 386.4ZM363.9 386.4L358.9 384.5 361.8 382.3 366.7 384.2ZM366.7 384.2L361.8 382.3 364.6 380.1 369.5 382Z" fill="#30ed8b" stroke="#30ed8b" stroke-width="0.5"/>
<path d="M383.3 427.4L377.9 426.7 380.5 425.3 385.8 426ZM380.5 425.3L375.1 424.4 377.7 422.9 383 423.8ZM375.1 424.4L369.8 423.6 372.4 421.9 377.7 422.9ZM369.8 423.6L364.4 422.7 367.1 420.9 372.4 421.9ZM364.4 422.7L359.1 421.7 361.8 419.9 367.1 420.9ZM367.1 420.9L361.8 419.9 364.4 418.1 369.7 419.2ZM359.1 421.7L353.8 420.7 356.5 418.8 361.8 419.9ZM361.8 419.9L356.5 418.8 359.1 416.9 364.4 418.1ZM356.5 418.8L351.2 417.6 353.9 415.7 359.1 416.9ZM351.2 417.6L345.9 416.4 348.6 414.4 353.9 415.7ZM353.9 415.7L348.6 414.4 351.4 412.4 356.6 413.7ZM348.6 414.4L343.4 413.1 346.1 411.1 351.4 412.4ZM351.4 412.4L346.1 411.1 348.9 409 354.1 410.4ZM343.4 413.1L338.1 411.8 340.9 409.7 346.1 411.1ZM346.1 411.1L340.9 409.7 343.7 407.5 348.9 409ZM348.9 409L343.7 407.5 346.5 405.4 351.7 406.9ZM343.7 407.5L338.5 406.1 341.3 403.9 346.5 405.4ZM346.5 405.4L341.3 403.9 344.1 401.7 349.3 403.3ZM349.3 403.3L344.1 401.7 347 399.5 352.1 401.1ZM341.3 403.9L336.2 402.3 339 400.1 344.1 401.7ZM344.1 401.7L339 400.1 341.8 397.9 347 399.5ZM347 399.5L341.8 397.9 344.7 395.6 349.8 397.3ZM349.8 397.3L344.7 395.6 347.5 393.4 352.6 395.2ZM352.6 395.2L347.5 393.4 350.4 391.2 355.4 393ZM347.5 393.4L342.5 391.7 345.3 389.4 350.4 391.2ZM350.4 391.2L345.3 389.4 348.2 387.1 353.2 389ZM353.2 389L348.2 387.1 351.1 384.9 356.1 386.7ZM356.1 386.7L351.1 384.9 354 382.6 358.9 384.5ZM358.9 384.5L354 382.6 356.8 380.3 361.8 382.3ZM361.8 382.3L356.8 380.3 359.7 378.1 364.6 380.1Z" fill="#31ed80" stroke="#31ed80" stroke-width="0.5"/>
<path d="M380.9 428.8L375.4 428.2 377.9 426.7 383.3 427.4ZM375.4 428.2L370 427.6 372.6 426 377.9 426.7ZM377.9 426.7L372.6 426 375.1 424.4 380.5 425.3ZM370 427.6L364.6 426.9 367.2 425.2 372.6 426ZM372.6 426L367.2 425.2 369.8 423.6 375.1 424.4ZM367.2 425.2L361.8 424.4 364.4 422.7 369.8 423.6ZM361.8 424.4L356.5 423.5 359.1 421.7 364.4 422.7ZM356.5 423.5L351.1 422.5 353.8 420.7 359.1 421.7ZM351.1 422.5L345.8 421.5 348.5 419.6 353.8 420.7ZM353.8 420.7L348.5 419.6 351.2 417.6 356.5 418.8ZM345.8 421.5L340.4 420.5 343.2 418.5 348.5 419.6ZM348.5 419.6L343.2 418.5 345.9 416.4 351.2 417.6ZM340.4 420.5L335.1 419.3 337.8 417.3 343.2 418.5ZM343.2 418.5L337.8 417.3 340.6 415.2 345.9 416.4ZM345.9 416.4L340.6 415.2 343.4 413.1 348.6 414.4ZM337.8 417.3L332.5 416 335.3 413.9 340.6 415.2ZM340.6 415.2L335.3 413.9 338.1 411.8 343.4 413.1ZM332.5 416L327.2 414.8 330.1 412.6 335.3 413.9ZM335.3 413.9L330.1 412.6 332.9 410.4 338.1 411.8ZM338.1 411.8L332.9 410.4 335.7 408.2 340.9 409.7ZM340.9 409.7L335.7 408.2 338.5 406.1 343.7 407.5ZM330.1 412.6L324.8 411.2 327.6 409 332.9 410.4ZM332.9 410.4L327.6 409 330.5 406.8 335.7 408.2ZM335.7 408.2L330.5 406.8 333.3 404.5 338.5 406.1ZM338.5 406.1L333.3 404.5 336.2 402.3 341.3 403.9ZM327.6 409L322.4 407.5 325.2 405.2 330.5 406.8ZM330.5 406.8L325.2 405.2 328.1 403 333.3 404.5ZM333.3 404.5L328.1 403 331 400.7 336.2 402.3ZM336.2 402.3L331 400.7 333.8 398.5 339 400.1ZM339 400.1L333.8 398.5 336.7 396.2 341.8 397.9ZM341.8 397.9L336.7 396.2 339.6 393.9 344.7 395.6ZM344.7 395.6L339.6 393.9 342.5 391.7 347.5 393.4ZM333.8 398.5L328.7 396.8 331.6 394.5 336.7 396.2ZM336.7 396.2L331.6 394.5 334.5 392.2 339.6 393.9ZM339.6 393.9L334.5 392.2 337.4 389.9 342.5 391.7ZM342.5 391.7L337.4 389.9 340.3 387.6 345.3 389.4ZM345.3 389.4L340.3 387.6 343.2 385.3 348.2 387.1ZM348.2 387.1L343.2 385.3 346.1 383 351.1 384.9ZM351.1 384.9L346.1 383 349 380.7 354 382.6ZM354 382.6L349 380.7 351.9 378.4 356.8 380.3ZM356.8 380.3L351.9 378.4 354.8 376.1 359.7 378.1ZM269.7 415L264.2 413.4 267.2 410.9 272.7 412.5Z" fill="#32ed75" stroke="#32ed75" stroke-width="0.5"/>
<path d="M378.4 430.2L372.9 429.7 375.4 428.2 380.9 428.8ZM372.9 429.7L367.4 429.1 370 427.6 375.4 428.2ZM367.4 429.1L362 428.5 364.6 426.9 370 427.6ZM362 428.5L356.6 427.8 359.2 426.1 364.6 426.9ZM364.6 426.9L359.2 426.1 361.8 424.4 367.2 425.2ZM356.6 427.8L351.1 427.1 353.8 425.3 359.2 426.1ZM359.2 426.1L353.8 425.3 356.5 423.5 361.8 424.4ZM351.1 427.1L345.7 426.3 348.4 424.4 353.8 425.3ZM353.8 425.3L348.4 424.4 351.1 422.5 356.5 423.5ZM345.7 426.3L340.3 425.4 343 423.5 348.4 424.4ZM348.4 424.4L343 423.5 345.8 421.5 351.1 422.5ZM340.3 425.4L334.9 424.5 337.7 422.5 343 423.5ZM343 423.5L337.7 422.5 340.4 420.5 345.8 421.5ZM334.9 424.5L329.5 423.5 332.3 421.4 337.7 422.5ZM337.7 422.5L332.3 421.4 335.1 419.3 340.4 420.5ZM329.5 423.5L324.1 422.4 326.9 420.3 332.3 421.4ZM332.3 421.4L326.9 420.3 329.7 418.2 335.1 419.3ZM335.1 419.3L329.7 418.2 332.5 416 337.8 417.3ZM321.4 424.5L315.9 423.5 318.8 421.3 324.1 422.4ZM324.1 422.4L318.8 421.3 321.6 419.1 326.9 420.3ZM326.9 420.3L321.6 419.1 324.4 416.9 329.7 418.2ZM329.7 418.2L324.4 416.9 327.2 414.8 332.5 416ZM315.9 423.5L310.5 422.3 313.4 420.1 318.8 421.3ZM318.8 421.3L313.4 420.1 316.2 417.9 321.6 419.1ZM321.6 419.1L316.2 417.9 319.1 415.7 324.4 416.9ZM324.4 416.9L319.1 415.7 321.9 413.4 327.2 414.8ZM327.2 414.8L321.9 413.4 324.8 411.2 330.1 412.6ZM307.7 424.5L302.3 423.4 305.1 421.1 310.5 422.3ZM310.5 422.3L305.1 421.1 308 418.9 313.4 420.1ZM313.4 420.1L308 418.9 310.9 416.6 316.2 417.9ZM316.2 417.9L310.9 416.6 313.7 414.3 319.1 415.7ZM319.1 415.7L313.7 414.3 316.6 412 321.9 413.4ZM321.9 413.4L316.6 412 319.5 409.8 324.8 411.2ZM324.8 411.2L319.5 409.8 322.4 407.5 327.6 409ZM302.3 423.4L296.8 422.2 299.7 419.8 305.1 421.1ZM305.1 421.1L299.7 419.8 302.6 417.5 308 418.9ZM308 418.9L302.6 417.5 305.5 415.2 310.9 416.6ZM310.9 416.6L305.5 415.2 308.4 412.9 313.7 414.3ZM313.7 414.3L308.4 412.9 311.3 410.6 316.6 412ZM316.6 412L311.3 410.6 314.2 408.3 319.5 409.8ZM319.5 409.8L314.2 408.3 317.1 406 322.4 407.5ZM322.4 407.5L317.1 406 320 403.7 325.2 405.2ZM325.2 405.2L320 403.7 322.9 401.4 328.1 403ZM328.1 403L322.9 401.4 325.8 399.1 331 400.7ZM331 400.7L325.8 399.1 328.7 396.8 333.8 398.5ZM296.8 422.2L291.4 420.9 294.3 418.5 299.7 419.8ZM299.7 419.8L294.3 418.5 297.2 416.2 302.6 417.5ZM302.6 417.5L297.2 416.2 300.2 413.8 305.5 415.2ZM305.5 415.2L300.2 413.8 303.1 411.5 308.4 412.9ZM308.4 412.9L303.1 411.5 306 409.1 311.3 410.6ZM311.3 410.6L306 409.1 308.9 406.8 314.2 408.3ZM314.2 408.3L308.9 406.8 311.8 404.5 317.1 406ZM317.1 406L311.8 404.5 314.8 402.1 320 403.7ZM320 403.7L314.8 402.1 317.7 399.8 322.9 401.4ZM322.9 401.4L317.7 399.8 320.6 397.4 325.8 399.1ZM325.8 399.1L320.6 397.4 323.5 395.1 328.7 396.8ZM328.7 396.8L323.5 395.1 326.5 392.8 331.6 394.5ZM331.6 394.5L326.5 392.8 329.4 390.4 334.5 392.2ZM334.5 392.2L329.4 390.4 332.3 388.1 337.4 389.9ZM337.4 389.9L332.3 388.1 335.2 385.8 340.3 387.6ZM340.3 387.6L335.2 385.8 338.2 383.4 343.2 385.3ZM343.2 385.3L338.2 383.4 341.1 381.1 346.1 383ZM346.1 383L341.1 381.1 344 378.8 349 380.7ZM349 380.7L344 378.8 347 376.5 351.9 378.4ZM351.9 378.4L347 376.5 349.9 374.1 354.8 376.1ZM291.4 420.9L286 419.5 288.9 417.1 294.3 418.5ZM294.3 418.5L288.9 417.1 291.8 414.7 297.2 416.2ZM297.2 416.2L291.8 414.7 294.8 412.4 300.2 413.8ZM300.2 413.8L294.8 412.4 297.7 410 303.1 411.5ZM303.1 411.5L297.7 410 300.7 407.6 306 409.1ZM306 409.1L300.7 407.6 303.6 405.2 308.9 406.8ZM308.9 406.8L303.6 405.2 306.6 402.9 311.8 404.5ZM311.8 404.5L306.6 402.9 309.5 400.5 314.8 402.1ZM314.8 402.1L309.5 400.5 312.5 398.1 317.7 399.8ZM286 419.5L280.5 418.1 283.5 415.7 288.9 417.1ZM288.9 417.1L283.5 415.7 286.5 413.2 291.8 414.7ZM291.8 414.7L286.5 413.2 289.4 410.8 294.8 412.4ZM294.8 412.4L289.4 410.8 292.4 408.4 297.7 410ZM297.7 410L292.4 408.4 295.3 406 300.7 407.6ZM280.5 418.1L275.1 416.6 278.1 414.1 283.5 415.7ZM283.5 415.7L278.1 414.1 281.1 411.7 286.5 413.2ZM286.5 413.2L281.1 411.7 284 409.3 289.4 410.8ZM289.4 410.8L284 409.3 287 406.8 292.4 408.4ZM275.1 416.6L269.7 415 272.7 412.5 278.1 414.1ZM278.1 414.1L272.7 412.5 275.7 410.1 281.1 411.7ZM281.1 411.7L275.7 410.1 278.7 407.6 284 409.3ZM284 409.3L278.7 407.6 281.7 405.2 287 406.8ZM272.7 412.5L267.2 410.9 270.2 408.4 275.7 410.1ZM275.7 410.1L270.2 408.4 273.3 405.9 278.7 407.6ZM278.7 407.6L273.3 405.9 276.3 403.5 281.7 405.2Z" fill="#33ed69" stroke="#33ed69" stroke-width="0.5"/>
<path d="M375.9 431.5L370.4 431.2 372.9 429.7 378.4 430.2ZM370.4 431.2L364.9 430.7 367.4 429.1 372.9 429.7ZM364.9 430.7L359.4 430.2 362 428.5 367.4 429.1ZM359.4 430.2L353.9 429.6 356.6 427.8 362 428.5ZM353.9 429.6L348.5 428.9 351.1 427.1 356.6 427.8ZM348.5 428.9L343 428.2 345.7 426.3 351.1 427.1ZM340.3 430L334.9 429.3 337.6 427.4 343 428.2ZM343 428.2L337.6 427.4 340.3 425.4 345.7 426.3ZM334.9 429.3L329.4 428.5 332.2 426.5 337.6 427.4ZM337.6 427.4L332.2 426.5 334.9 424.5 340.3 425.4ZM329.4 428.5L324 427.6 326.8 425.5 332.2 426.5ZM332.2 426.5L326.8 425.5 329.5 423.5 334.9 424.5ZM324 427.6L318.6 426.7 321.4 424.5 326.8 425.5ZM326.8 425.5L321.4 424.5 324.1 422.4 329.5 423.5ZM318.6 426.7L313.1 425.6 315.9 423.5 321.4 424.5ZM313.1 425.6L307.7 424.5 310.5 422.3 315.9 423.5ZM317.7 399.8L312.5 398.1 315.4 395.8 320.6 397.4ZM320.6 397.4L315.4 395.8 318.4 393.4 323.5 395.1ZM323.5 395.1L318.4 393.4 321.3 391 326.5 392.8ZM326.5 392.8L321.3 391 324.3 388.7 329.4 390.4ZM329.4 390.4L324.3 388.7 327.2 386.3 332.3 388.1ZM332.3 388.1L327.2 386.3 330.2 383.9 335.2 385.8ZM335.2 385.8L330.2 383.9 333.1 381.6 338.2 383.4ZM338.2 383.4L333.1 381.6 336.1 379.2 341.1 381.1ZM341.1 381.1L336.1 379.2 339.1 376.9 344 378.8ZM344 378.8L339.1 376.9 342 374.5 347 376.5ZM347 376.5L342 374.5 345 372.2 349.9 374.1ZM300.7 407.6L295.3 406 298.3 403.6 303.6 405.2ZM303.6 405.2L298.3 403.6 301.3 401.2 306.6 402.9ZM306.6 402.9L301.3 401.2 304.3 398.8 309.5 400.5ZM309.5 400.5L304.3 398.8 307.2 396.4 312.5 398.1ZM312.5 398.1L307.2 396.4 310.2 394 315.4 395.8ZM315.4 395.8L310.2 394 313.2 391.6 318.4 393.4ZM318.4 393.4L313.2 391.6 316.2 389.3 321.3 391ZM321.3 391L316.2 389.3 319.1 386.9 324.3 388.7ZM292.4 408.4L287 406.8 290 404.4 295.3 406ZM295.3 406L290 404.4 293 402 298.3 403.6ZM298.3 403.6L293 402 296 399.5 301.3 401.2ZM301.3 401.2L296 399.5 299 397.1 304.3 398.8ZM304.3 398.8L299 397.1 302 394.7 307.2 396.4ZM307.2 396.4L302 394.7 305 392.3 310.2 394ZM287 406.8L281.7 405.2 284.7 402.7 290 404.4ZM290 404.4L284.7 402.7 287.7 400.3 293 402ZM293 402L287.7 400.3 290.7 397.8 296 399.5ZM296 399.5L290.7 397.8 293.7 395.4 299 397.1ZM281.7 405.2L276.3 403.5 279.3 401 284.7 402.7ZM284.7 402.7L279.3 401 282.4 398.5 287.7 400.3ZM287.7 400.3L282.4 398.5 285.4 396.1 290.7 397.8Z" fill="#34ed5e" stroke="#34ed5e" stroke-width="0.5"/>
<path d="M373.4 432.9L367.8 432.6 370.4 431.2 375.9 431.5ZM367.8 432.6L362.3 432.2 364.9 430.7 370.4 431.2ZM362.3 432.2L356.8 431.8 359.4 430.2 364.9 430.7ZM356.8 431.8L351.3 431.3 353.9 429.6 359.4 430.2ZM351.3 431.3L345.8 430.7 348.5 428.9 353.9 429.6ZM345.8 430.7L340.3 430 343 428.2 348.5 428.9ZM324.3 388.7L319.1 386.9 322.1 384.5 327.2 386.3ZM327.2 386.3L322.1 384.5 325.1 382.1 330.2 383.9ZM330.2 383.9L325.1 382.1 328.1 379.7 333.1 381.6ZM333.1 381.6L328.1 379.7 331.1 377.3 336.1 379.2ZM336.1 379.2L331.1 377.3 334.1 375 339.1 376.9ZM339.1 376.9L334.1 375 337.1 372.6 342 374.5ZM342 374.5L337.1 372.6 340.1 370.2 345 372.2ZM310.2 394L305 392.3 308 389.9 313.2 391.6ZM313.2 391.6L308 389.9 311 387.5 316.2 389.3ZM316.2 389.3L311 387.5 314 385 319.1 386.9ZM319.1 386.9L314 385 317 382.6 322.1 384.5ZM322.1 384.5L317 382.6 320 380.2 325.1 382.1ZM299 397.1L293.7 395.4 296.8 392.9 302 394.7ZM302 394.7L296.8 392.9 299.8 390.5 305 392.3ZM305 392.3L299.8 390.5 302.8 388.1 308 389.9ZM308 389.9L302.8 388.1 305.8 385.6 311 387.5ZM290.7 397.8L285.4 396.1 288.5 393.6 293.7 395.4ZM293.7 395.4L288.5 393.6 291.5 391.2 296.8 392.9ZM296.8 392.9L291.5 391.2 294.6 388.7 299.8 390.5Z" fill="#35ee53" stroke="#35ee53" stroke-width="0.5"/>
<path d="M325.1 382.1L320 380.2 323 377.8 328.1 379.7ZM328.1 379.7L323 377.8 326.1 375.4 331.1 377.3ZM331.1 377.3L326.1 375.4 329.1 373 334.1 375ZM334.1 375L329.1 373 332.1 370.6 337.1 372.6ZM337.1 372.6L332.1 370.6 335.1 368.2 340.1 370.2ZM311 387.5L305.8 385.6 308.9 383.2 314 385ZM314 385L308.9 383.2 311.9 380.8 317 382.6ZM317 382.6L311.9 380.8 314.9 378.4 320 380.2ZM320 380.2L314.9 378.4 318 375.9 323 377.8ZM299.8 390.5L294.6 388.7 297.6 386.3 302.8 388.1ZM302.8 388.1L297.6 386.3 300.7 383.8 305.8 385.6ZM305.8 385.6L300.7 383.8 303.7 381.4 308.9 383.2Z" fill="#36ee47" stroke="#36ee47" stroke-width="0.5"/>
<path d="M323 377.8L318 375.9 321 373.5 326.1 375.4ZM326.1 375.4L321 373.5 324.1 371.1 329.1 373ZM329.1 373L324.1 371.1 327.1 368.7 332.1 370.6ZM308.9 383.2L303.7 381.4 306.8 378.9 311.9 380.8ZM311.9 380.8L306.8 378.9 309.8 376.5 314.9 378.4ZM314.9 378.4L309.8 376.5 312.9 374 318 375.9Z" fill="#37ee3c" stroke="#37ee3c" stroke-width="0.5"/>
<path d="M332.1 370.6L327.1 368.7 330.2 366.3 335.1 368.2ZM318 375.9L312.9 374 316 371.6 321 373.5ZM321 373.5L316 371.6 319.1 369.2 324.1 371.1ZM324.1 371.1L319.1 369.2 322.1 366.8 327.1 368.7Z" fill="#43ee3b" stroke="#43ee3b" stroke-width="0.5"/>
<path d="M327.1 368.7L322.1 366.8 325.2 364.3 330.2 366.3Z" fill="#50ef3a" stroke="#50ef3a" stroke-width="0.5"/>
<path d="M373.4 432.9L381.7 428.3L390 423.7L398.2 418.9L406.3 414.1L414.4 409.1L422.4 404.1M367.8 432.6L376.3 427.7L384.7 422.8L393 417.7L401.3 412.6L409.5 407.4L417.7 402.1M362.3 432.2L370.9 427.1L379.4 421.8L387.8 416.5L396.2 411.1L404.6 405.6L412.9 400.1M356.8 431.8L365.5 426.3L374.1 420.8L382.7 415.2L391.2 409.6L399.7 403.8L408.1 398M351.3 431.3L360.1 425.5L368.8 419.8L377.5 413.9L386.1 408L394.8 402L403.3 396M345.8 430.7L354.7 424.7L363.5 418.7L372.3 412.6L381.1 406.4L389.8 400.3L398.5 394M340.3 430L349.3 423.8L358.3 417.5L367.2 411.2L376 404.8L384.9 398.5L393.7 392M334.9 429.3L343.9 422.8L353 416.3L362 409.8L371 403.2L379.9 396.6L388.9 390M329.4 428.5L338.6 421.8L347.7 415.1L356.8 408.4L365.9 401.6L375 394.8L384 388M324 427.6L333.2 420.7L342.5 413.8L351.7 406.9L360.9 400L370 393L379.2 386M318.6 426.7L327.9 419.6L337.2 412.5L346.5 405.4L355.8 398.3L365.1 391.2L374.3 384M313.1 425.6L322.5 418.4L331.9 411.1L341.3 403.9L350.7 396.6L360.1 389.3L369.5 382M307.7 424.5L317.2 417.1L326.7 409.7L336.2 402.3L345.6 394.9L355.1 387.5L364.6 380.1M302.3 423.4L311.8 415.8L321.4 408.3L331 400.7L340.6 393.2L350.1 385.6L359.7 378.1M296.8 422.2L306.5 414.5L316.1 406.8L325.8 399.1L335.5 391.4L345.1 383.8L354.8 376.1M291.4 420.9L301.1 413L310.9 405.2L320.6 397.4L330.4 389.7L340.1 381.9L349.9 374.1M286 419.5L295.8 411.6L305.6 403.7L315.4 395.8L325.2 387.9L335.1 380L345 372.2M280.5 418.1L290.4 410L300.3 402L310.2 394L320.1 386.1L330.1 378.1L340.1 370.2M275.1 416.6L285 408.5L295 400.4L305 392.3L315 384.2L325.1 376.2L335.1 368.2M269.7 415L279.7 406.8L289.7 398.6L299.8 390.5L309.9 382.4L320 374.3L330.2 366.3M264.2 413.4L274.3 405.1L284.4 396.9L294.6 388.7L304.7 380.5L315 372.4L325.2 364.3M373.4 432.9L355 431.6L336.7 429.5L318.6 426.7L300.5 423L282.3 418.6L264.2 413.4M375.9 431.5L357.6 430L339.4 427.6L321.4 424.5L303.3 420.7L285.3 416.2L267.2 410.9M378.4 430.2L360.2 428.3L342.1 425.7L324.1 422.4L306.2 418.4L288.3 413.8L270.2 408.4M380.9 428.8L362.8 426.6L344.8 423.8L326.9 420.3L309.1 416.1L291.2 411.4L273.3 405.9M383.3 427.4L365.4 425L347.5 421.9L329.7 418.2L312 413.9L294.2 409L276.3 403.5M385.8 426L368 423.3L350.2 419.9L332.5 416L314.8 411.6L297.1 406.6L279.3 401M388.3 424.6L370.6 421.6L352.9 418L335.3 413.9L317.7 409.3L300.1 404.2L282.4 398.5M390.8 423.2L373.2 419.9L355.6 416.1L338.1 411.8L320.6 407L303 401.8L285.4 396.1M393.2 421.8L375.8 418.2L358.3 414.2L340.9 409.7L323.5 404.7L306 399.4L288.5 393.6M395.7 420.4L378.4 416.5L361 412.2L343.7 407.5L326.4 402.5L309 397L291.5 391.2M398.2 418.9L380.9 414.8L363.7 410.3L346.5 405.4L329.2 400.2L311.9 394.6L294.6 388.7M400.6 417.5L383.5 413.1L366.4 408.3L349.3 403.3L332.1 397.9L314.9 392.2L297.6 386.3M403.1 416L386.1 411.3L369.1 406.4L352.1 401.1L335 395.6L317.9 389.8L300.7 383.8M405.5 414.6L388.7 409.6L371.8 404.4L354.9 399L337.9 393.3L320.8 387.5L303.7 381.4M407.9 413.1L391.2 407.9L374.5 402.5L357.6 396.9L340.8 391.1L323.8 385.1L306.8 378.9M410.4 411.6L393.8 406.1L377.1 400.5L360.4 394.7L343.7 388.8L326.8 382.7L309.8 376.5M412.8 410.1L396.3 404.4L379.8 398.6L363.2 392.6L346.5 386.5L329.8 380.3L312.9 374M415.2 408.6L398.9 402.6L382.5 396.6L366 390.5L349.4 384.2L332.8 378L316 371.6M417.6 407.1L401.4 400.9L385.2 394.6L368.8 388.3L352.3 382L335.7 375.6L319.1 369.2M420 405.6L404 399.1L387.8 392.7L371.6 386.2L355.2 379.7L338.7 373.2L322.1 366.8M422.4 404.1L406.5 397.4L390.5 390.7L374.3 384L358.1 377.4L341.7 370.9L325.2 364.3" stroke="#000" stroke-opacity="0.26" stroke-width="0.5" fill="none"/>
<path d="M346 382L346 401" stroke="#444" stroke-width="0.6"/>
<circle cx="346" cy="382" r="1.5" fill="#8e1515"/>
<text x="252.7" y="372.6" font-family='"Liberation Sans", sans-serif' font-size="6.3" font-weight="bold" letter-spacing="0.25" fill="#262626" text-anchor="middle" dominant-baseline="central">34</text>
<text x="253.2" y="380.2" font-family='"Liberation Sans", sans-serif' font-size="6.3" font-weight="bold" letter-spacing="0.25" fill="#262626" text-anchor="middle" dominant-baseline="central">32</text>
<text x="253.7" y="388.2" font-family='"Liberation Sans", sans-serif' font-size="6.3" font-weight="bold" letter-spacing="0.25" fill="#262626" text-anchor="middle" dominant-baseline="central">30</text>
<text x="254.5" y="395.6" font-family='"Liberation Sans", sans-serif' font-size="6.3" font-weight="bold" letter-spacing="0.25" fill="#262626" text-anchor="middle" dominant-baseline="central">28</text>
<text x="255.5" y="403.2" font-family='"Liberation Sans", sans-serif' font-size="6.3" font-weight="bold" letter-spacing="0.25" fill="#262626" text-anchor="middle" dominant-baseline="central">26</text>
<text x="256.5" y="410.8" font-family='"Liberation Sans", sans-serif' font-size="6.3" font-weight="bold" letter-spacing="0.25" fill="#262626" text-anchor="middle" dominant-baseline="central">24</text>
<text x="258" y="418.2" font-family='"Liberation Sans", sans-serif' font-size="6.3" font-weight="bold" letter-spacing="0.25" fill="#262626" text-anchor="middle" dominant-baseline="central">22</text>
<text x="259.4" y="425.9" font-family='"Liberation Sans", sans-serif' font-size="6.3" font-weight="bold" letter-spacing="0.25" fill="#262626" text-anchor="middle" dominant-baseline="central">20</text>
<text x="260.1" y="433.5" font-family='"Liberation Sans", sans-serif' font-size="6.3" font-weight="bold" letter-spacing="0.25" fill="#262626" text-anchor="middle" dominant-baseline="central">18</text>
<text x="239.1" y="408.2" font-family='"Liberation Serif", serif' font-size="10.2" textLength="75.3" lengthAdjust="spacingAndGlyphs" fill="#151515" stroke="#151515" stroke-width="0.2" text-anchor="middle" dominant-baseline="central" transform="rotate(-90 239.1 408.2)">Zeta Potential (mV)</text>
<text x="261.5" y="458.9" font-family='"Liberation Sans", sans-serif' font-size="6.3" font-weight="bold" letter-spacing="0.25" fill="#262626" text-anchor="middle" dominant-baseline="central">90</text>
<text x="278.8" y="464.2" font-family='"Liberation Sans", sans-serif' font-size="6.3" font-weight="bold" letter-spacing="0.25" fill="#262626" text-anchor="middle" dominant-baseline="central">80</text>
<text x="295.9" y="469.5" font-family='"Liberation Sans", sans-serif' font-size="6.3" font-weight="bold" letter-spacing="0.25" fill="#262626" text-anchor="middle" dominant-baseline="central">70</text>
<text x="312.7" y="474.4" font-family='"Liberation Sans", sans-serif' font-size="6.3" font-weight="bold" letter-spacing="0.25" fill="#262626" text-anchor="middle" dominant-baseline="central">60</text>
<text x="329.5" y="479.3" font-family='"Liberation Sans", sans-serif' font-size="6.3" font-weight="bold" letter-spacing="0.25" fill="#262626" text-anchor="middle" dominant-baseline="central">50</text>
<text x="345.9" y="484.6" font-family='"Liberation Sans", sans-serif' font-size="6.3" font-weight="bold" letter-spacing="0.25" fill="#262626" text-anchor="middle" dominant-baseline="central">40</text>
<text x="363.6" y="489.4" font-family='"Liberation Sans", sans-serif' font-size="6.3" font-weight="bold" letter-spacing="0.25" fill="#262626" text-anchor="middle" dominant-baseline="central">30</text>
<text x="424.5" y="437.3" font-family='"Liberation Sans", sans-serif' font-size="6.3" font-weight="bold" letter-spacing="0.25" fill="#262626" text-anchor="middle" dominant-baseline="central">3</text>
<text x="414.2" y="450.6" font-family='"Liberation Sans", sans-serif' font-size="6.3" font-weight="bold" letter-spacing="0.25" fill="#262626" text-anchor="middle" dominant-baseline="central">2.5</text>
<text x="399.8" y="462.4" font-family='"Liberation Sans", sans-serif' font-size="6.3" font-weight="bold" letter-spacing="0.25" fill="#262626" text-anchor="middle" dominant-baseline="central">2</text>
<text x="390.1" y="476.5" font-family='"Liberation Sans", sans-serif' font-size="6.3" font-weight="bold" letter-spacing="0.25" fill="#262626" text-anchor="middle" dominant-baseline="central">1.5</text>
<text x="375.4" y="489.4" font-family='"Liberation Sans", sans-serif' font-size="6.3" font-weight="bold" letter-spacing="0.25" fill="#262626" text-anchor="middle" dominant-baseline="central">1</text>
<text x="297.7" y="488.2" font-family='"Liberation Serif", serif' font-size="8.5" textLength="46" lengthAdjust="spacingAndGlyphs" fill="#151515" stroke="#151515" stroke-width="0.2" text-anchor="middle" dominant-baseline="central">C: Sonication</text>
<text x="298.1" y="498.2" font-family='"Liberation Serif", serif' font-size="8.5" textLength="36" lengthAdjust="spacingAndGlyphs" fill="#151515" stroke="#151515" stroke-width="0.2" text-anchor="middle" dominant-baseline="central">Time (sec)</text>
<text x="432" y="470.5" font-family='"Liberation Serif", serif' font-size="8.5" textLength="76.5" lengthAdjust="spacingAndGlyphs" fill="#151515" stroke="#151515" stroke-width="0.2" text-anchor="middle" dominant-baseline="central">A: Lipid concentration</text>
<text x="432" y="481.1" font-family='"Liberation Serif", serif' font-size="8.5" textLength="24.1" lengthAdjust="spacingAndGlyphs" fill="#151515" stroke="#151515" stroke-width="0.2" text-anchor="middle" dominant-baseline="central">(%w/v)</text>
<text x="354.3" y="500.7" font-family='"Liberation Serif", serif' font-size="14" font-weight="bold" fill="#111" text-anchor="middle" dominant-baseline="central">H</text>
<path d="M488.5 456.2L480.6 376.1M497.5 427.9L492.4 368.6M508.4 419.4L504.2 361.1M519.3 410.9L516.1 353.7M530.2 402.3L527.9 346.2M541.5 411.8L539.7 338.7M486.6 436.4L541.1 393.8M485.8 428.9L540.9 386.9M485.1 421.4L540.7 380M484.3 413.8L540.6 373.1M483.6 406.3L540.4 366.2M482.8 398.7L540.2 359.4M482.1 391.2L540 352.5M481.3 383.6L539.9 345.6M480.6 376.1L539.7 338.7M634.2 432L641.8 355.3M620.2 409.9L624.8 352.5M604.4 406.6L607.8 349.8M588.6 403.4L590.8 347M572.7 400.2L573.7 344.2M556.9 397L556.7 341.5M541.5 411.8L539.7 338.7M636.1 413.1L541.1 393.8M636.8 405.9L540.9 386.9M637.5 398.6L540.7 380M638.2 391.4L540.6 373.1M638.9 384.2L540.4 366.2M639.7 377L540.2 359.4M640.4 369.7L540 352.5M641.1 362.5L539.9 345.6M641.8 355.3L539.7 338.7" stroke="#5c5c5c" stroke-width="0.9" fill="none"/>
<polygon points="488.5,456.2 591.1,483.2 634.2,432 541.5,411.8" fill="#626262"/>
<clipPath id="fcI"><polygon points="488.5,456.2 591.1,483.2 634.2,432 541.5,411.8"/></clipPath>
<g clip-path="url(#fcI)"><path d="M516.8 432.7C518.2 432.3 522 431.1 525 430.5C528 429.9 533.1 429.2 534.7 428.9" stroke="#48c83e" stroke-width="1.4" fill="none"/><path d="M489 456C494.7 454.2 509.7 448.4 523.2 445.5C536.7 442.6 556.9 440 570 438.5C583.1 437 592 437 602 436.6C612 436.2 625.4 436.4 630.1 436.3" stroke="#48c83e" stroke-width="1.4" fill="none"/><path d="M514.3 462.7C519 461.4 533 456.7 542.3 454.6C551.6 452.5 562 450.9 570 449.9C578 448.9 582.1 449.1 590.6 448.7C599.1 448.3 616 447.6 621.1 447.4" stroke="#34c25f" stroke-width="1.4" fill="none"/><path d="M539.8 469C544.8 467.9 562.4 463.9 570 462.7C577.6 461.5 578.5 462.8 585.5 462C592.5 461.2 607.8 458.8 612.2 458.2" stroke="#2ab982" stroke-width="1.4" fill="none"/><path d="M564.6 476C567.6 475.5 576.9 473.8 582.9 472.9C588.9 471.9 597.8 470.7 600.8 470.3" stroke="#2ab0aa" stroke-width="1.4" fill="none"/></g>
<path d="M488.5 456.2L591.1 483.2L634.2 432" stroke="#333" stroke-width="0.8" fill="none"/>
<path d="M486.6 436.4h-1.8M485.8 428.9h-1.8M485.1 421.4h-1.8M484.3 413.8h-1.8M483.6 406.3h-1.8M482.8 398.7h-1.8M482.1 391.2h-1.8M481.3 383.6h-1.8M480.6 376.1h-1.8M574 478.7l-0.9 1.6M556.9 474.2l-0.9 1.6M539.8 469.7l-0.9 1.6M522.7 465.2l-0.9 1.6M505.6 460.7l-0.9 1.6M599.7 473l0.9 1.6M608.3 462.7l0.9 1.6M617 452.5l0.9 1.6M625.6 442.2l0.9 1.6" stroke="#222" stroke-width="1" fill="none"/>
<path d="M592.8 445L587.5 443.3 589.7 440.4 595.1 442.1Z" fill="#2becc4" stroke="#2becc4" stroke-width="0.5"/>
<path d="M595.1 442.1L589.7 440.4 592 437.6 597.4 439.2ZM597.4 439.2L592 437.6 594.3 434.7 599.6 436.3ZM587.5 443.3L582.1 441.6 584.4 438.7 589.7 440.4ZM589.7 440.4L584.4 438.7 586.7 435.9 592 437.6ZM582.1 441.6L576.7 439.8 579 437 584.4 438.7Z" fill="#2cecb9" stroke="#2cecb9" stroke-width="0.5"/>
<path d="M599.6 436.3L594.3 434.7 596.6 431.9 601.9 433.5ZM601.9 433.5L596.6 431.9 598.9 429 604.2 430.6ZM592 437.6L586.7 435.9 589 433.1 594.3 434.7ZM594.3 434.7L589 433.1 591.3 430.3 596.6 431.9ZM584.4 438.7L579 437 581.4 434.3 586.7 435.9ZM586.7 435.9L581.4 434.3 583.7 431.5 589 433.1ZM576.7 439.8L571.3 438.1 573.6 435.4 579 437ZM579 437L573.6 435.4 576 432.6 581.4 434.3ZM571.3 438.1L565.9 436.4 568.3 433.7 573.6 435.4Z" fill="#2decad" stroke="#2decad" stroke-width="0.5"/>
<path d="M604.2 430.6L598.9 429 601.2 426.2 606.5 427.7ZM596.6 431.9L591.3 430.3 593.7 427.5 598.9 429ZM598.9 429L593.7 427.5 596 424.7 601.2 426.2ZM589 433.1L583.7 431.5 586 428.7 591.3 430.3ZM591.3 430.3L586 428.7 588.4 425.9 593.7 427.5ZM581.4 434.3L576 432.6 578.4 429.8 583.7 431.5ZM583.7 431.5L578.4 429.8 580.7 427.1 586 428.7ZM573.6 435.4L568.3 433.7 570.7 430.9 576 432.6ZM576 432.6L570.7 430.9 573.1 428.2 578.4 429.8ZM565.9 436.4L560.5 434.7 562.9 432 568.3 433.7ZM568.3 433.7L562.9 432 565.3 429.3 570.7 430.9ZM560.5 434.7L555 433 557.5 430.3 562.9 432Z" fill="#2eeca2" stroke="#2eeca2" stroke-width="0.5"/>
<path d="M606.5 427.7L601.2 426.2 603.5 423.3 608.7 424.9ZM608.7 424.9L603.5 423.3 605.8 420.5 611 422ZM601.2 426.2L596 424.7 598.3 421.9 603.5 423.3ZM603.5 423.3L598.3 421.9 600.6 419.1 605.8 420.5ZM593.7 427.5L588.4 425.9 590.7 423.1 596 424.7ZM596 424.7L590.7 423.1 593.1 420.4 598.3 421.9ZM586 428.7L580.7 427.1 583.1 424.3 588.4 425.9ZM588.4 425.9L583.1 424.3 585.5 421.6 590.7 423.1ZM578.4 429.8L573.1 428.2 575.4 425.5 580.7 427.1ZM580.7 427.1L575.4 425.5 577.8 422.8 583.1 424.3ZM570.7 430.9L565.3 429.3 567.7 426.6 573.1 428.2ZM573.1 428.2L567.7 426.6 570.1 423.9 575.4 425.5ZM562.9 432L557.5 430.3 559.9 427.6 565.3 429.3ZM565.3 429.3L559.9 427.6 562.4 425 567.7 426.6ZM555 433L549.6 431.2 552.1 428.6 557.5 430.3ZM557.5 430.3L552.1 428.6 554.6 426 559.9 427.6ZM559.9 427.6L554.6 426 557 423.4 562.4 425ZM549.6 431.2L544.2 429.5 546.7 426.9 552.1 428.6ZM552.1 428.6L546.7 426.9 549.2 424.3 554.6 426ZM544.2 429.5L538.8 427.8 541.3 425.3 546.7 426.9Z" fill="#2fec97" stroke="#2fec97" stroke-width="0.5"/>
<path d="M611 422L605.8 420.5 608.1 417.7 613.3 419.1ZM613.3 419.1L608.1 417.7 610.4 414.9 615.6 416.3ZM605.8 420.5L600.6 419.1 603 416.3 608.1 417.7ZM608.1 417.7L603 416.3 605.3 413.5 610.4 414.9ZM598.3 421.9L593.1 420.4 595.5 417.6 600.6 419.1ZM600.6 419.1L595.5 417.6 597.8 414.8 603 416.3ZM590.7 423.1L585.5 421.6 587.9 418.9 593.1 420.4ZM593.1 420.4L587.9 418.9 590.3 416.1 595.5 417.6ZM583.1 424.3L577.8 422.8 580.2 420.1 585.5 421.6ZM585.5 421.6L580.2 420.1 582.7 417.4 587.9 418.9ZM575.4 425.5L570.1 423.9 572.6 421.2 577.8 422.8ZM577.8 422.8L572.6 421.2 575 418.5 580.2 420.1ZM580.2 420.1L575 418.5 577.4 415.9 582.7 417.4ZM567.7 426.6L562.4 425 564.8 422.3 570.1 423.9ZM570.1 423.9L564.8 422.3 567.3 419.7 572.6 421.2ZM572.6 421.2L567.3 419.7 569.7 417 575 418.5ZM562.4 425L557 423.4 559.5 420.7 564.8 422.3ZM564.8 422.3L559.5 420.7 562 418.1 567.3 419.7ZM554.6 426L549.2 424.3 551.7 421.7 557 423.4ZM557 423.4L551.7 421.7 554.2 419.2 559.5 420.7ZM546.7 426.9L541.3 425.3 543.8 422.7 549.2 424.3ZM549.2 424.3L543.8 422.7 546.3 420.1 551.7 421.7ZM538.8 427.8L533.3 426.1 535.9 423.6 541.3 425.3ZM541.3 425.3L535.9 423.6 538.4 421.1 543.8 422.7ZM533.3 426.1L527.9 424.4 530.4 421.9 535.9 423.6Z" fill="#30ed8b" stroke="#30ed8b" stroke-width="0.5"/>
<path d="M615.6 416.3L610.4 414.9 612.8 412.1 617.9 413.4ZM617.9 413.4L612.8 412.1 615.1 409.2 620.2 410.6ZM610.4 414.9L605.3 413.5 607.6 410.7 612.8 412.1ZM612.8 412.1L607.6 410.7 610 407.9 615.1 409.2ZM603 416.3L597.8 414.8 600.2 412.1 605.3 413.5ZM605.3 413.5L600.2 412.1 602.5 409.3 607.6 410.7ZM595.5 417.6L590.3 416.1 592.6 413.4 597.8 414.8ZM597.8 414.8L592.6 413.4 595 410.7 600.2 412.1ZM587.9 418.9L582.7 417.4 585.1 414.7 590.3 416.1ZM590.3 416.1L585.1 414.7 587.5 412 592.6 413.4ZM592.6 413.4L587.5 412 589.9 409.3 595 410.7ZM582.7 417.4L577.4 415.9 579.9 413.2 585.1 414.7ZM585.1 414.7L579.9 413.2 582.3 410.5 587.5 412ZM575 418.5L569.7 417 572.2 414.4 577.4 415.9ZM577.4 415.9L572.2 414.4 574.6 411.7 579.9 413.2ZM567.3 419.7L562 418.1 564.5 415.5 569.7 417ZM569.7 417L564.5 415.5 566.9 412.9 572.2 414.4ZM559.5 420.7L554.2 419.2 556.7 416.6 562 418.1ZM562 418.1L556.7 416.6 559.2 414 564.5 415.5ZM551.7 421.7L546.3 420.1 548.9 417.6 554.2 419.2ZM554.2 419.2L548.9 417.6 551.4 415 556.7 416.6ZM543.8 422.7L538.4 421.1 541 418.5 546.3 420.1ZM546.3 420.1L541 418.5 543.5 416 548.9 417.6ZM535.9 423.6L530.4 421.9 533 419.4 538.4 421.1ZM538.4 421.1L533 419.4 535.6 416.9 541 418.5ZM527.9 424.4L522.4 422.7 525 420.2 530.4 421.9ZM530.4 421.9L525 420.2 527.6 417.8 533 419.4ZM522.4 422.7L516.9 421 519.6 418.6 525 420.2Z" fill="#31ed80" stroke="#31ed80" stroke-width="0.5"/>
<path d="M620.2 410.6L615.1 409.2 617.4 406.4 622.5 407.7ZM622.5 407.7L617.4 406.4 619.7 403.6 624.7 404.9ZM615.1 409.2L610 407.9 612.3 405.1 617.4 406.4ZM617.4 406.4L612.3 405.1 614.7 402.3 619.7 403.6ZM607.6 410.7L602.5 409.3 604.9 406.6 610 407.9ZM610 407.9L604.9 406.6 607.3 403.8 612.3 405.1ZM600.2 412.1L595 410.7 597.4 407.9 602.5 409.3ZM602.5 409.3L597.4 407.9 599.8 405.2 604.9 406.6ZM595 410.7L589.9 409.3 592.3 406.6 597.4 407.9ZM597.4 407.9L592.3 406.6 594.7 403.9 599.8 405.2ZM587.5 412L582.3 410.5 584.7 407.9 589.9 409.3ZM589.9 409.3L584.7 407.9 587.2 405.2 592.3 406.6ZM579.9 413.2L574.6 411.7 577.1 409.1 582.3 410.5ZM582.3 410.5L577.1 409.1 579.6 406.5 584.7 407.9ZM572.2 414.4L566.9 412.9 569.4 410.3 574.6 411.7ZM574.6 411.7L569.4 410.3 571.9 407.7 577.1 409.1ZM564.5 415.5L559.2 414 561.7 411.4 566.9 412.9ZM566.9 412.9L561.7 411.4 564.2 408.8 569.4 410.3ZM556.7 416.6L551.4 415 553.9 412.5 559.2 414ZM559.2 414L553.9 412.5 556.4 409.9 561.7 411.4ZM561.7 411.4L556.4 409.9 559 407.4 564.2 408.8ZM548.9 417.6L543.5 416 546.1 413.5 551.4 415ZM551.4 415L546.1 413.5 548.6 411 553.9 412.5ZM553.9 412.5L548.6 411 551.2 408.4 556.4 409.9ZM541 418.5L535.6 416.9 538.2 414.4 543.5 416ZM543.5 416L538.2 414.4 540.8 411.9 546.1 413.5ZM546.1 413.5L540.8 411.9 543.3 409.4 548.6 411ZM533 419.4L527.6 417.8 530.2 415.3 535.6 416.9ZM535.6 416.9L530.2 415.3 532.8 412.8 538.2 414.4ZM538.2 414.4L532.8 412.8 535.4 410.4 540.8 411.9ZM525 420.2L519.6 418.6 522.2 416.1 527.6 417.8ZM527.6 417.8L522.2 416.1 524.8 413.7 530.2 415.3ZM530.2 415.3L524.8 413.7 527.5 411.3 532.8 412.8ZM516.9 421L511.5 419.3 514.1 416.9 519.6 418.6ZM519.6 418.6L514.1 416.9 516.8 414.5 522.2 416.1ZM522.2 416.1L516.8 414.5 519.5 412.1 524.8 413.7ZM511.5 419.3L506 417.6 508.7 415.2 514.1 416.9Z" fill="#32ed75" stroke="#32ed75" stroke-width="0.5"/>
<path d="M624.7 404.9L619.7 403.6 622 400.8 627 402.1ZM627 402.1L622 400.8 624.4 398 629.3 399.2ZM619.7 403.6L614.7 402.3 617 399.6 622 400.8ZM622 400.8L617 399.6 619.4 396.8 624.4 398ZM612.3 405.1L607.3 403.8 609.6 401.1 614.7 402.3ZM614.7 402.3L609.6 401.1 612 398.3 617 399.6ZM604.9 406.6L599.8 405.2 602.2 402.5 607.3 403.8ZM607.3 403.8L602.2 402.5 604.6 399.8 609.6 401.1ZM599.8 405.2L594.7 403.9 597.1 401.2 602.2 402.5ZM602.2 402.5L597.1 401.2 599.5 398.5 604.6 399.8ZM592.3 406.6L587.2 405.2 589.6 402.6 594.7 403.9ZM594.7 403.9L589.6 402.6 592 399.9 597.1 401.2ZM584.7 407.9L579.6 406.5 582 403.8 587.2 405.2ZM587.2 405.2L582 403.8 584.5 401.2 589.6 402.6ZM577.1 409.1L571.9 407.7 574.4 405.1 579.6 406.5ZM579.6 406.5L574.4 405.1 576.9 402.5 582 403.8ZM582 403.8L576.9 402.5 579.4 399.9 584.5 401.2ZM569.4 410.3L564.2 408.8 566.7 406.3 571.9 407.7ZM571.9 407.7L566.7 406.3 569.2 403.7 574.4 405.1ZM574.4 405.1L569.2 403.7 571.8 401.1 576.9 402.5ZM564.2 408.8L559 407.4 561.5 404.8 566.7 406.3ZM566.7 406.3L561.5 404.8 564.1 402.3 569.2 403.7ZM556.4 409.9L551.2 408.4 553.8 405.9 559 407.4ZM559 407.4L553.8 405.9 556.3 403.4 561.5 404.8ZM548.6 411L543.3 409.4 545.9 407 551.2 408.4ZM551.2 408.4L545.9 407 548.5 404.5 553.8 405.9ZM540.8 411.9L535.4 410.4 538.1 407.9 543.3 409.4ZM543.3 409.4L538.1 407.9 540.7 405.5 545.9 407ZM532.8 412.8L527.5 411.3 530.1 408.8 535.4 410.4ZM535.4 410.4L530.1 408.8 532.8 406.4 538.1 407.9ZM524.8 413.7L519.5 412.1 522.1 409.7 527.5 411.3ZM527.5 411.3L522.1 409.7 524.8 407.3 530.1 408.8ZM514.1 416.9L508.7 415.2 511.4 412.9 516.8 414.5ZM516.8 414.5L511.4 412.9 514.1 410.5 519.5 412.1ZM519.5 412.1L514.1 410.5 516.8 408.1 522.1 409.7ZM506 417.6L500.5 415.9 503.2 413.6 508.7 415.2ZM508.7 415.2L503.2 413.6 505.9 411.2 511.4 412.9ZM511.4 412.9L505.9 411.2 508.7 408.9 514.1 410.5ZM500.5 415.9L495 414.2 497.8 411.9 503.2 413.6ZM503.2 413.6L497.8 411.9 500.5 409.6 505.9 411.2ZM495 414.2L489.5 412.5 492.3 410.3 497.8 411.9Z" fill="#33ed69" stroke="#33ed69" stroke-width="0.5"/>
<path d="M629.3 399.2L624.4 398 626.7 395.2 631.6 396.4ZM631.6 396.4L626.7 395.2 629 392.4 633.9 393.6ZM624.4 398L619.4 396.8 621.7 394 626.7 395.2ZM626.7 395.2L621.7 394 624.1 391.3 629 392.4ZM617 399.6L612 398.3 614.4 395.6 619.4 396.8ZM619.4 396.8L614.4 395.6 616.8 392.9 621.7 394ZM609.6 401.1L604.6 399.8 607 397.1 612 398.3ZM612 398.3L607 397.1 609.4 394.4 614.4 395.6ZM614.4 395.6L609.4 394.4 611.8 391.7 616.8 392.9ZM604.6 399.8L599.5 398.5 602 395.8 607 397.1ZM607 397.1L602 395.8 604.4 393.2 609.4 394.4ZM597.1 401.2L592 399.9 594.5 397.2 599.5 398.5ZM599.5 398.5L594.5 397.2 596.9 394.6 602 395.8ZM589.6 402.6L584.5 401.2 587 398.6 592 399.9ZM592 399.9L587 398.6 589.4 396 594.5 397.2ZM594.5 397.2L589.4 396 591.9 393.4 596.9 394.6ZM584.5 401.2L579.4 399.9 581.9 397.3 587 398.6ZM587 398.6L581.9 397.3 584.4 394.7 589.4 396ZM576.9 402.5L571.8 401.1 574.3 398.6 579.4 399.9ZM579.4 399.9L574.3 398.6 576.8 396 581.9 397.3ZM569.2 403.7L564.1 402.3 566.6 399.8 571.8 401.1ZM571.8 401.1L566.6 399.8 569.2 397.2 574.3 398.6ZM561.5 404.8L556.3 403.4 558.9 400.9 564.1 402.3ZM564.1 402.3L558.9 400.9 561.5 398.4 566.6 399.8ZM553.8 405.9L548.5 404.5 551.1 402 556.3 403.4ZM556.3 403.4L551.1 402 553.7 399.5 558.9 400.9ZM558.9 400.9L553.7 399.5 556.3 397 561.5 398.4ZM545.9 407L540.7 405.5 543.3 403 548.5 404.5ZM548.5 404.5L543.3 403 545.9 400.6 551.1 402ZM551.1 402L545.9 400.6 548.5 398.1 553.7 399.5ZM538.1 407.9L532.8 406.4 535.4 404 540.7 405.5ZM540.7 405.5L535.4 404 538 401.6 543.3 403ZM543.3 403L538 401.6 540.7 399.2 545.9 400.6ZM530.1 408.8L524.8 407.3 527.5 404.9 532.8 406.4ZM532.8 406.4L527.5 404.9 530.1 402.5 535.4 404ZM535.4 404L530.1 402.5 532.8 400.1 538 401.6ZM522.1 409.7L516.8 408.1 519.4 405.8 524.8 407.3ZM524.8 407.3L519.4 405.8 522.1 403.4 527.5 404.9ZM527.5 404.9L522.1 403.4 524.8 401 530.1 402.5ZM514.1 410.5L508.7 408.9 511.4 406.6 516.8 408.1ZM516.8 408.1L511.4 406.6 514.1 404.2 519.4 405.8ZM519.4 405.8L514.1 404.2 516.8 401.9 522.1 403.4ZM505.9 411.2L500.5 409.6 503.3 407.3 508.7 408.9ZM508.7 408.9L503.3 407.3 506 405 511.4 406.6ZM511.4 406.6L506 405 508.8 402.7 514.1 404.2ZM497.8 411.9L492.3 410.3 495.1 408 500.5 409.6ZM500.5 409.6L495.1 408 497.9 405.7 503.3 407.3ZM489.5 412.5L484 410.9 486.8 408.6 492.3 410.3ZM492.3 410.3L486.8 408.6 489.6 406.4 495.1 408Z" fill="#34ed5e" stroke="#34ed5e" stroke-width="0.5"/>
<path d="M633.9 393.6L629 392.4 631.3 389.7 636.3 390.8ZM636.3 390.8L631.3 389.7 633.7 386.9 638.6 388ZM629 392.4L624.1 391.3 626.4 388.5 631.3 389.7ZM631.3 389.7L626.4 388.5 628.8 385.8 633.7 386.9ZM621.7 394L616.8 392.9 619.1 390.1 624.1 391.3ZM624.1 391.3L619.1 390.1 621.5 387.4 626.4 388.5ZM616.8 392.9L611.8 391.7 614.2 389 619.1 390.1ZM619.1 390.1L614.2 389 616.6 386.3 621.5 387.4ZM609.4 394.4L604.4 393.2 606.8 390.5 611.8 391.7ZM611.8 391.7L606.8 390.5 609.2 387.8 614.2 389ZM602 395.8L596.9 394.6 599.4 392 604.4 393.2ZM604.4 393.2L599.4 392 601.8 389.3 606.8 390.5ZM596.9 394.6L591.9 393.4 594.4 390.7 599.4 392ZM599.4 392L594.4 390.7 596.9 388.1 601.8 389.3ZM589.4 396L584.4 394.7 586.9 392.1 591.9 393.4ZM591.9 393.4L586.9 392.1 589.4 389.5 594.4 390.7ZM581.9 397.3L576.8 396 579.3 393.4 584.4 394.7ZM584.4 394.7L579.3 393.4 581.8 390.9 586.9 392.1ZM574.3 398.6L569.2 397.2 571.7 394.7 576.8 396ZM576.8 396L571.7 394.7 574.2 392.2 579.3 393.4ZM579.3 393.4L574.2 392.2 576.8 389.6 581.8 390.9ZM566.6 399.8L561.5 398.4 564 395.9 569.2 397.2ZM569.2 397.2L564 395.9 566.6 393.4 571.7 394.7ZM571.7 394.7L566.6 393.4 569.2 390.9 574.2 392.2ZM561.5 398.4L556.3 397 558.9 394.6 564 395.9ZM564 395.9L558.9 394.6 561.5 392.1 566.6 393.4ZM553.7 399.5L548.5 398.1 551.1 395.7 556.3 397ZM556.3 397L551.1 395.7 553.8 393.2 558.9 394.6ZM545.9 400.6L540.7 399.2 543.3 396.7 548.5 398.1ZM548.5 398.1L543.3 396.7 546 394.3 551.1 395.7ZM538 401.6L532.8 400.1 535.5 397.7 540.7 399.2ZM540.7 399.2L535.5 397.7 538.1 395.4 543.3 396.7ZM530.1 402.5L524.8 401 527.5 398.7 532.8 400.1ZM532.8 400.1L527.5 398.7 530.2 396.3 535.5 397.7ZM535.5 397.7L530.2 396.3 533 394 538.1 395.4ZM522.1 403.4L516.8 401.9 519.6 399.6 524.8 401ZM524.8 401L519.6 399.6 522.3 397.2 527.5 398.7ZM527.5 398.7L522.3 397.2 525 394.9 530.2 396.3ZM514.1 404.2L508.8 402.7 511.5 400.4 516.8 401.9ZM516.8 401.9L511.5 400.4 514.3 398.1 519.6 399.6ZM503.3 407.3L497.9 405.7 500.6 403.4 506 405ZM506 405L500.6 403.4 503.4 401.2 508.8 402.7ZM508.8 402.7L503.4 401.2 506.2 398.9 511.5 400.4ZM495.1 408L489.6 406.4 492.4 404.1 497.9 405.7ZM497.9 405.7L492.4 404.1 495.2 401.9 500.6 403.4ZM500.6 403.4L495.2 401.9 498.1 399.6 503.4 401.2Z" fill="#35ee53" stroke="#35ee53" stroke-width="0.5"/>
<path d="M626.4 388.5L621.5 387.4 623.9 384.7 628.8 385.8ZM621.5 387.4L616.6 386.3 619 383.6 623.9 384.7ZM614.2 389L609.2 387.8 611.7 385.2 616.6 386.3ZM616.6 386.3L611.7 385.2 614.1 382.5 619 383.6ZM606.8 390.5L601.8 389.3 604.3 386.7 609.2 387.8ZM609.2 387.8L604.3 386.7 606.7 384.1 611.7 385.2ZM611.7 385.2L606.7 384.1 609.2 381.4 614.1 382.5ZM601.8 389.3L596.9 388.1 599.3 385.5 604.3 386.7ZM604.3 386.7L599.3 385.5 601.8 382.9 606.7 384.1ZM594.4 390.7L589.4 389.5 591.9 387 596.9 388.1ZM596.9 388.1L591.9 387 594.4 384.4 599.3 385.5ZM586.9 392.1L581.8 390.9 584.4 388.3 589.4 389.5ZM589.4 389.5L584.4 388.3 586.9 385.8 591.9 387ZM591.9 387L586.9 385.8 589.4 383.2 594.4 384.4ZM581.8 390.9L576.8 389.6 579.4 387.1 584.4 388.3ZM584.4 388.3L579.4 387.1 581.9 384.6 586.9 385.8ZM574.2 392.2L569.2 390.9 571.8 388.4 576.8 389.6ZM576.8 389.6L571.8 388.4 574.3 385.9 579.4 387.1ZM566.6 393.4L561.5 392.1 564.1 389.6 569.2 390.9ZM569.2 390.9L564.1 389.6 566.7 387.2 571.8 388.4ZM571.8 388.4L566.7 387.2 569.3 384.7 574.3 385.9ZM558.9 394.6L553.8 393.2 556.4 390.8 561.5 392.1ZM561.5 392.1L556.4 390.8 559 388.4 564.1 389.6ZM564.1 389.6L559 388.4 561.7 385.9 566.7 387.2ZM551.1 395.7L546 394.3 548.6 391.9 553.8 393.2ZM553.8 393.2L548.6 391.9 551.3 389.5 556.4 390.8ZM556.4 390.8L551.3 389.5 554 387.1 559 388.4ZM543.3 396.7L538.1 395.4 540.8 393 546 394.3ZM546 394.3L540.8 393 543.5 390.6 548.6 391.9ZM548.6 391.9L543.5 390.6 546.2 388.2 551.3 389.5ZM538.1 395.4L533 394 535.7 391.6 540.8 393ZM540.8 393L535.7 391.6 538.4 389.3 543.5 390.6ZM530.2 396.3L525 394.9 527.7 392.6 533 394ZM533 394L527.7 392.6 530.5 390.3 535.7 391.6ZM519.6 399.6L514.3 398.1 517 395.8 522.3 397.2ZM522.3 397.2L517 395.8 519.8 393.5 525 394.9ZM525 394.9L519.8 393.5 522.5 391.2 527.7 392.6ZM511.5 400.4L506.2 398.9 509 396.6 514.3 398.1ZM514.3 398.1L509 396.6 511.8 394.4 517 395.8ZM517 395.8L511.8 394.4 514.5 392.1 519.8 393.5ZM503.4 401.2L498.1 399.6 500.9 397.4 506.2 398.9ZM506.2 398.9L500.9 397.4 503.7 395.2 509 396.6ZM509 396.6L503.7 395.2 506.5 392.9 511.8 394.4Z" fill="#36ee47" stroke="#36ee47" stroke-width="0.5"/>
<path d="M606.7 384.1L601.8 382.9 604.3 380.3 609.2 381.4ZM599.3 385.5L594.4 384.4 596.9 381.8 601.8 382.9ZM601.8 382.9L596.9 381.8 599.4 379.3 604.3 380.3ZM594.4 384.4L589.4 383.2 592 380.7 596.9 381.8ZM596.9 381.8L592 380.7 594.5 378.2 599.4 379.3ZM586.9 385.8L581.9 384.6 584.5 382.1 589.4 383.2ZM589.4 383.2L584.5 382.1 587 379.6 592 380.7ZM579.4 387.1L574.3 385.9 576.9 383.4 581.9 384.6ZM581.9 384.6L576.9 383.4 579.5 381 584.5 382.1ZM584.5 382.1L579.5 381 582.1 378.5 587 379.6ZM574.3 385.9L569.3 384.7 571.9 382.3 576.9 383.4ZM576.9 383.4L571.9 382.3 574.5 379.8 579.5 381ZM566.7 387.2L561.7 385.9 564.3 383.5 569.3 384.7ZM569.3 384.7L564.3 383.5 566.9 381.1 571.9 382.3ZM559 388.4L554 387.1 556.6 384.7 561.7 385.9ZM561.7 385.9L556.6 384.7 559.3 382.3 564.3 383.5ZM564.3 383.5L559.3 382.3 561.9 379.9 566.9 381.1ZM551.3 389.5L546.2 388.2 548.9 385.9 554 387.1ZM554 387.1L548.9 385.9 551.6 383.5 556.6 384.7ZM556.6 384.7L551.6 383.5 554.2 381.1 559.3 382.3ZM543.5 390.6L538.4 389.3 541.1 386.9 546.2 388.2ZM546.2 388.2L541.1 386.9 543.8 384.6 548.9 385.9ZM548.9 385.9L543.8 384.6 546.5 382.3 551.6 383.5ZM535.7 391.6L530.5 390.3 533.2 388 538.4 389.3ZM538.4 389.3L533.2 388 536 385.6 541.1 386.9ZM541.1 386.9L536 385.6 538.7 383.3 543.8 384.6ZM527.7 392.6L522.5 391.2 525.3 388.9 530.5 390.3ZM530.5 390.3L525.3 388.9 528.1 386.6 533.2 388ZM533.2 388L528.1 386.6 530.8 384.4 536 385.6ZM519.8 393.5L514.5 392.1 517.3 389.8 522.5 391.2ZM522.5 391.2L517.3 389.8 520.1 387.6 525.3 388.9ZM525.3 388.9L520.1 387.6 522.9 385.3 528.1 386.6ZM511.8 394.4L506.5 392.9 509.3 390.7 514.5 392.1ZM514.5 392.1L509.3 390.7 512.1 388.5 517.3 389.8ZM517.3 389.8L512.1 388.5 514.9 386.2 520.1 387.6Z" fill="#37ee3c" stroke="#37ee3c" stroke-width="0.5"/>
<path d="M592 380.7L587 379.6 589.6 377.1 594.5 378.2ZM587 379.6L582.1 378.5 584.7 376 589.6 377.1ZM579.5 381L574.5 379.8 577.2 377.4 582.1 378.5ZM582.1 378.5L577.2 377.4 579.8 374.9 584.7 376ZM571.9 382.3L566.9 381.1 569.6 378.7 574.5 379.8ZM574.5 379.8L569.6 378.7 572.2 376.2 577.2 377.4ZM577.2 377.4L572.2 376.2 574.9 373.8 579.8 374.9ZM566.9 381.1L561.9 379.9 564.6 377.5 569.6 378.7ZM569.6 378.7L564.6 377.5 567.3 375.1 572.2 376.2ZM559.3 382.3L554.2 381.1 556.9 378.7 561.9 379.9ZM561.9 379.9L556.9 378.7 559.6 376.4 564.6 377.5ZM551.6 383.5L546.5 382.3 549.2 379.9 554.2 381.1ZM554.2 381.1L549.2 379.9 551.9 377.6 556.9 378.7ZM556.9 378.7L551.9 377.6 554.7 375.2 559.6 376.4ZM543.8 384.6L538.7 383.3 541.4 381 546.5 382.3ZM546.5 382.3L541.4 381 544.2 378.7 549.2 379.9ZM549.2 379.9L544.2 378.7 546.9 376.4 551.9 377.6ZM536 385.6L530.8 384.4 533.6 382.1 538.7 383.3ZM538.7 383.3L533.6 382.1 536.4 379.8 541.4 381ZM541.4 381L536.4 379.8 539.1 377.5 544.2 378.7ZM528.1 386.6L522.9 385.3 525.7 383.1 530.8 384.4ZM530.8 384.4L525.7 383.1 528.5 380.8 533.6 382.1ZM533.6 382.1L528.5 380.8 531.3 378.6 536.4 379.8ZM520.1 387.6L514.9 386.2 517.8 384 522.9 385.3ZM522.9 385.3L517.8 384 520.6 381.8 525.7 383.1ZM525.7 383.1L520.6 381.8 523.4 379.6 528.5 380.8Z" fill="#43ee3b" stroke="#43ee3b" stroke-width="0.5"/>
<path d="M572.2 376.2L567.3 375.1 569.9 372.7 574.9 373.8ZM564.6 377.5L559.6 376.4 562.3 374 567.3 375.1ZM567.3 375.1L562.3 374 565 371.7 569.9 372.7ZM559.6 376.4L554.7 375.2 557.4 372.9 562.3 374ZM562.3 374L557.4 372.9 560.1 370.6 565 371.7ZM551.9 377.6L546.9 376.4 549.7 374.1 554.7 375.2ZM554.7 375.2L549.7 374.1 552.4 371.8 557.4 372.9ZM557.4 372.9L552.4 371.8 555.2 369.5 560.1 370.6ZM544.2 378.7L539.1 377.5 541.9 375.2 546.9 376.4ZM546.9 376.4L541.9 375.2 544.7 373 549.7 374.1ZM549.7 374.1L544.7 373 547.5 370.7 552.4 371.8ZM536.4 379.8L531.3 378.6 534.1 376.3 539.1 377.5ZM539.1 377.5L534.1 376.3 536.9 374.1 541.9 375.2ZM541.9 375.2L536.9 374.1 539.7 371.8 544.7 373ZM528.5 380.8L523.4 379.6 526.2 377.3 531.3 378.6ZM531.3 378.6L526.2 377.3 529.1 375.1 534.1 376.3ZM534.1 376.3L529.1 375.1 531.9 372.9 536.9 374.1Z" fill="#50ef3a" stroke="#50ef3a" stroke-width="0.5"/>
<path d="M552.4 371.8L547.5 370.7 550.2 368.4 555.2 369.5ZM544.7 373L539.7 371.8 542.5 369.6 547.5 370.7ZM547.5 370.7L542.5 369.6 545.3 367.3 550.2 368.4ZM536.9 374.1L531.9 372.9 534.7 370.7 539.7 371.8ZM539.7 371.8L534.7 370.7 537.6 368.5 542.5 369.6ZM542.5 369.6L537.6 368.5 540.4 366.3 545.3 367.3Z" fill="#5cef39" stroke="#5cef39" stroke-width="0.5"/>
<path d="M592.8 445L638.6 388M587.5 443.3L633.7 386.9M582.1 441.6L628.8 385.8M576.7 439.8L623.9 384.7M571.3 438.1L619 383.6M565.9 436.4L614.1 382.5M560.5 434.7L609.2 381.4M555 433L604.3 380.3M549.6 431.2L599.4 379.3M544.2 429.5L594.5 378.2M538.8 427.8L589.6 377.1M533.3 426.1L584.7 376M527.9 424.4L579.8 374.9M522.4 422.7L574.9 373.8M516.9 421L569.9 372.7M511.5 419.3L565 371.7M506 417.6L560.1 370.6M500.5 415.9L555.2 369.5M495 414.2L550.2 368.4M489.5 412.5L545.3 367.3M484 410.9L540.4 366.3M592.8 445L484 410.9M595.1 442.1L486.8 408.6M597.4 439.2L489.6 406.4M599.6 436.3L492.4 404.1M601.9 433.5L495.2 401.9M604.2 430.6L498.1 399.6M606.5 427.7L500.9 397.4M608.7 424.9L503.7 395.2M611 422L506.5 392.9M613.3 419.1L509.3 390.7M615.6 416.3L512.1 388.5M617.9 413.4L514.9 386.2M620.2 410.6L517.8 384M622.5 407.7L520.6 381.8M624.7 404.9L523.4 379.6M627 402.1L526.2 377.3M629.3 399.2L529.1 375.1M631.6 396.4L531.9 372.9M633.9 393.6L534.7 370.7M636.3 390.8L537.6 368.5M638.6 388L540.4 366.3" stroke="#000" stroke-opacity="0.26" stroke-width="0.5" fill="none"/>
<path d="M564.2 381.4L564.2 400" stroke="#444" stroke-width="0.6"/>
<circle cx="564.2" cy="381.4" r="1.5" fill="#8e1515"/>
<text x="473.5" y="373.2" font-family='"Liberation Sans", sans-serif' font-size="6.3" font-weight="bold" letter-spacing="0.25" fill="#262626" text-anchor="middle" dominant-baseline="central">34</text>
<text x="473.7" y="380.8" font-family='"Liberation Sans", sans-serif' font-size="6.3" font-weight="bold" letter-spacing="0.25" fill="#262626" text-anchor="middle" dominant-baseline="central">32</text>
<text x="474" y="388.5" font-family='"Liberation Sans", sans-serif' font-size="6.3" font-weight="bold" letter-spacing="0.25" fill="#262626" text-anchor="middle" dominant-baseline="central">30</text>
<text x="474.5" y="396.1" font-family='"Liberation Sans", sans-serif' font-size="6.3" font-weight="bold" letter-spacing="0.25" fill="#262626" text-anchor="middle" dominant-baseline="central">28</text>
<text x="475" y="403.7" font-family='"Liberation Sans", sans-serif' font-size="6.3" font-weight="bold" letter-spacing="0.25" fill="#262626" text-anchor="middle" dominant-baseline="central">26</text>
<text x="475.5" y="411.1" font-family='"Liberation Sans", sans-serif' font-size="6.3" font-weight="bold" letter-spacing="0.25" fill="#262626" text-anchor="middle" dominant-baseline="central">24</text>
<text x="476" y="418.5" font-family='"Liberation Sans", sans-serif' font-size="6.3" font-weight="bold" letter-spacing="0.25" fill="#262626" text-anchor="middle" dominant-baseline="central">22</text>
<text x="479.7" y="426.8" font-family='"Liberation Sans", sans-serif' font-size="6.3" font-weight="bold" letter-spacing="0.25" fill="#262626" text-anchor="middle" dominant-baseline="central">20</text>
<text x="480.6" y="434.2" font-family='"Liberation Sans", sans-serif' font-size="6.3" font-weight="bold" letter-spacing="0.25" fill="#262626" text-anchor="middle" dominant-baseline="central">18</text>
<text x="455.9" y="408.2" font-family='"Liberation Serif", serif' font-size="10.2" textLength="75.3" lengthAdjust="spacingAndGlyphs" fill="#151515" stroke="#151515" stroke-width="0.2" text-anchor="middle" dominant-baseline="central" transform="rotate(-90 455.9 408.2)">Zeta Potential (mV)</text>
<text x="482.4" y="459.9" font-family='"Liberation Sans", sans-serif' font-size="6.3" font-weight="bold" letter-spacing="0.25" fill="#262626" text-anchor="middle" dominant-baseline="central">90</text>
<text x="499.1" y="464.2" font-family='"Liberation Sans", sans-serif' font-size="6.3" font-weight="bold" letter-spacing="0.25" fill="#262626" text-anchor="middle" dominant-baseline="central">80</text>
<text x="516.4" y="468.8" font-family='"Liberation Sans", sans-serif' font-size="6.3" font-weight="bold" letter-spacing="0.25" fill="#262626" text-anchor="middle" dominant-baseline="central">70</text>
<text x="533.5" y="473" font-family='"Liberation Sans", sans-serif' font-size="6.3" font-weight="bold" letter-spacing="0.25" fill="#262626" text-anchor="middle" dominant-baseline="central">60</text>
<text x="550.3" y="477.6" font-family='"Liberation Sans", sans-serif' font-size="6.3" font-weight="bold" letter-spacing="0.25" fill="#262626" text-anchor="middle" dominant-baseline="central">50</text>
<text x="567.1" y="481.8" font-family='"Liberation Sans", sans-serif' font-size="6.3" font-weight="bold" letter-spacing="0.25" fill="#262626" text-anchor="middle" dominant-baseline="central">40</text>
<text x="584.8" y="486.8" font-family='"Liberation Sans", sans-serif' font-size="6.3" font-weight="bold" letter-spacing="0.25" fill="#262626" text-anchor="middle" dominant-baseline="central">30</text>
<text x="639.5" y="435.6" font-family='"Liberation Sans", sans-serif' font-size="6.3" font-weight="bold" letter-spacing="0.25" fill="#262626" text-anchor="middle" dominant-baseline="central">4</text>
<text x="632.9" y="446.2" font-family='"Liberation Sans", sans-serif' font-size="6.3" font-weight="bold" letter-spacing="0.25" fill="#262626" text-anchor="middle" dominant-baseline="central">3.5</text>
<text x="622.3" y="455.9" font-family='"Liberation Sans", sans-serif' font-size="6.3" font-weight="bold" letter-spacing="0.25" fill="#262626" text-anchor="middle" dominant-baseline="central">3</text>
<text x="615.5" y="467" font-family='"Liberation Sans", sans-serif' font-size="6" fill="#262626" text-anchor="middle" dominant-baseline="central">2.5</text>
<text x="605.2" y="476.5" font-family='"Liberation Sans", sans-serif' font-size="6.3" font-weight="bold" letter-spacing="0.25" fill="#262626" text-anchor="middle" dominant-baseline="central">2</text>
<text x="599.4" y="486.8" font-family='"Liberation Sans", sans-serif' font-size="6.3" font-weight="bold" letter-spacing="0.25" fill="#262626" text-anchor="middle" dominant-baseline="central">1.5</text>
<text x="519.9" y="488.2" font-family='"Liberation Serif", serif' font-size="8.5" textLength="45.4" lengthAdjust="spacingAndGlyphs" fill="#151515" stroke="#151515" stroke-width="0.2" text-anchor="middle" dominant-baseline="central">C: Sonication</text>
<text x="520.2" y="498.2" font-family='"Liberation Serif", serif' font-size="8.5" textLength="35.7" lengthAdjust="spacingAndGlyphs" fill="#151515" stroke="#151515" stroke-width="0.2" text-anchor="middle" dominant-baseline="central">Time (sec)</text>
<text x="647.3" y="468.8" font-family='"Liberation Serif", serif' font-size="8.5" textLength="43.8" lengthAdjust="spacingAndGlyphs" fill="#151515" stroke="#151515" stroke-width="0.2" text-anchor="middle" dominant-baseline="central">B: Surfactant</text>
<text x="647.7" y="479.3" font-family='"Liberation Serif", serif' font-size="8.5" textLength="45.3" lengthAdjust="spacingAndGlyphs" fill="#151515" stroke="#151515" stroke-width="0.2" text-anchor="middle" dominant-baseline="central">concentration</text>
<text x="647.4" y="489.3" font-family='"Liberation Serif", serif' font-size="8.5" textLength="24.9" lengthAdjust="spacingAndGlyphs" fill="#151515" stroke="#151515" stroke-width="0.2" text-anchor="middle" dominant-baseline="central">(%w/v)</text>
<text x="568.1" y="500" font-family='"Liberation Serif", serif' font-size="14" font-weight="bold" fill="#111" text-anchor="middle" dominant-baseline="central">I</text>
</svg>
</body></html>
